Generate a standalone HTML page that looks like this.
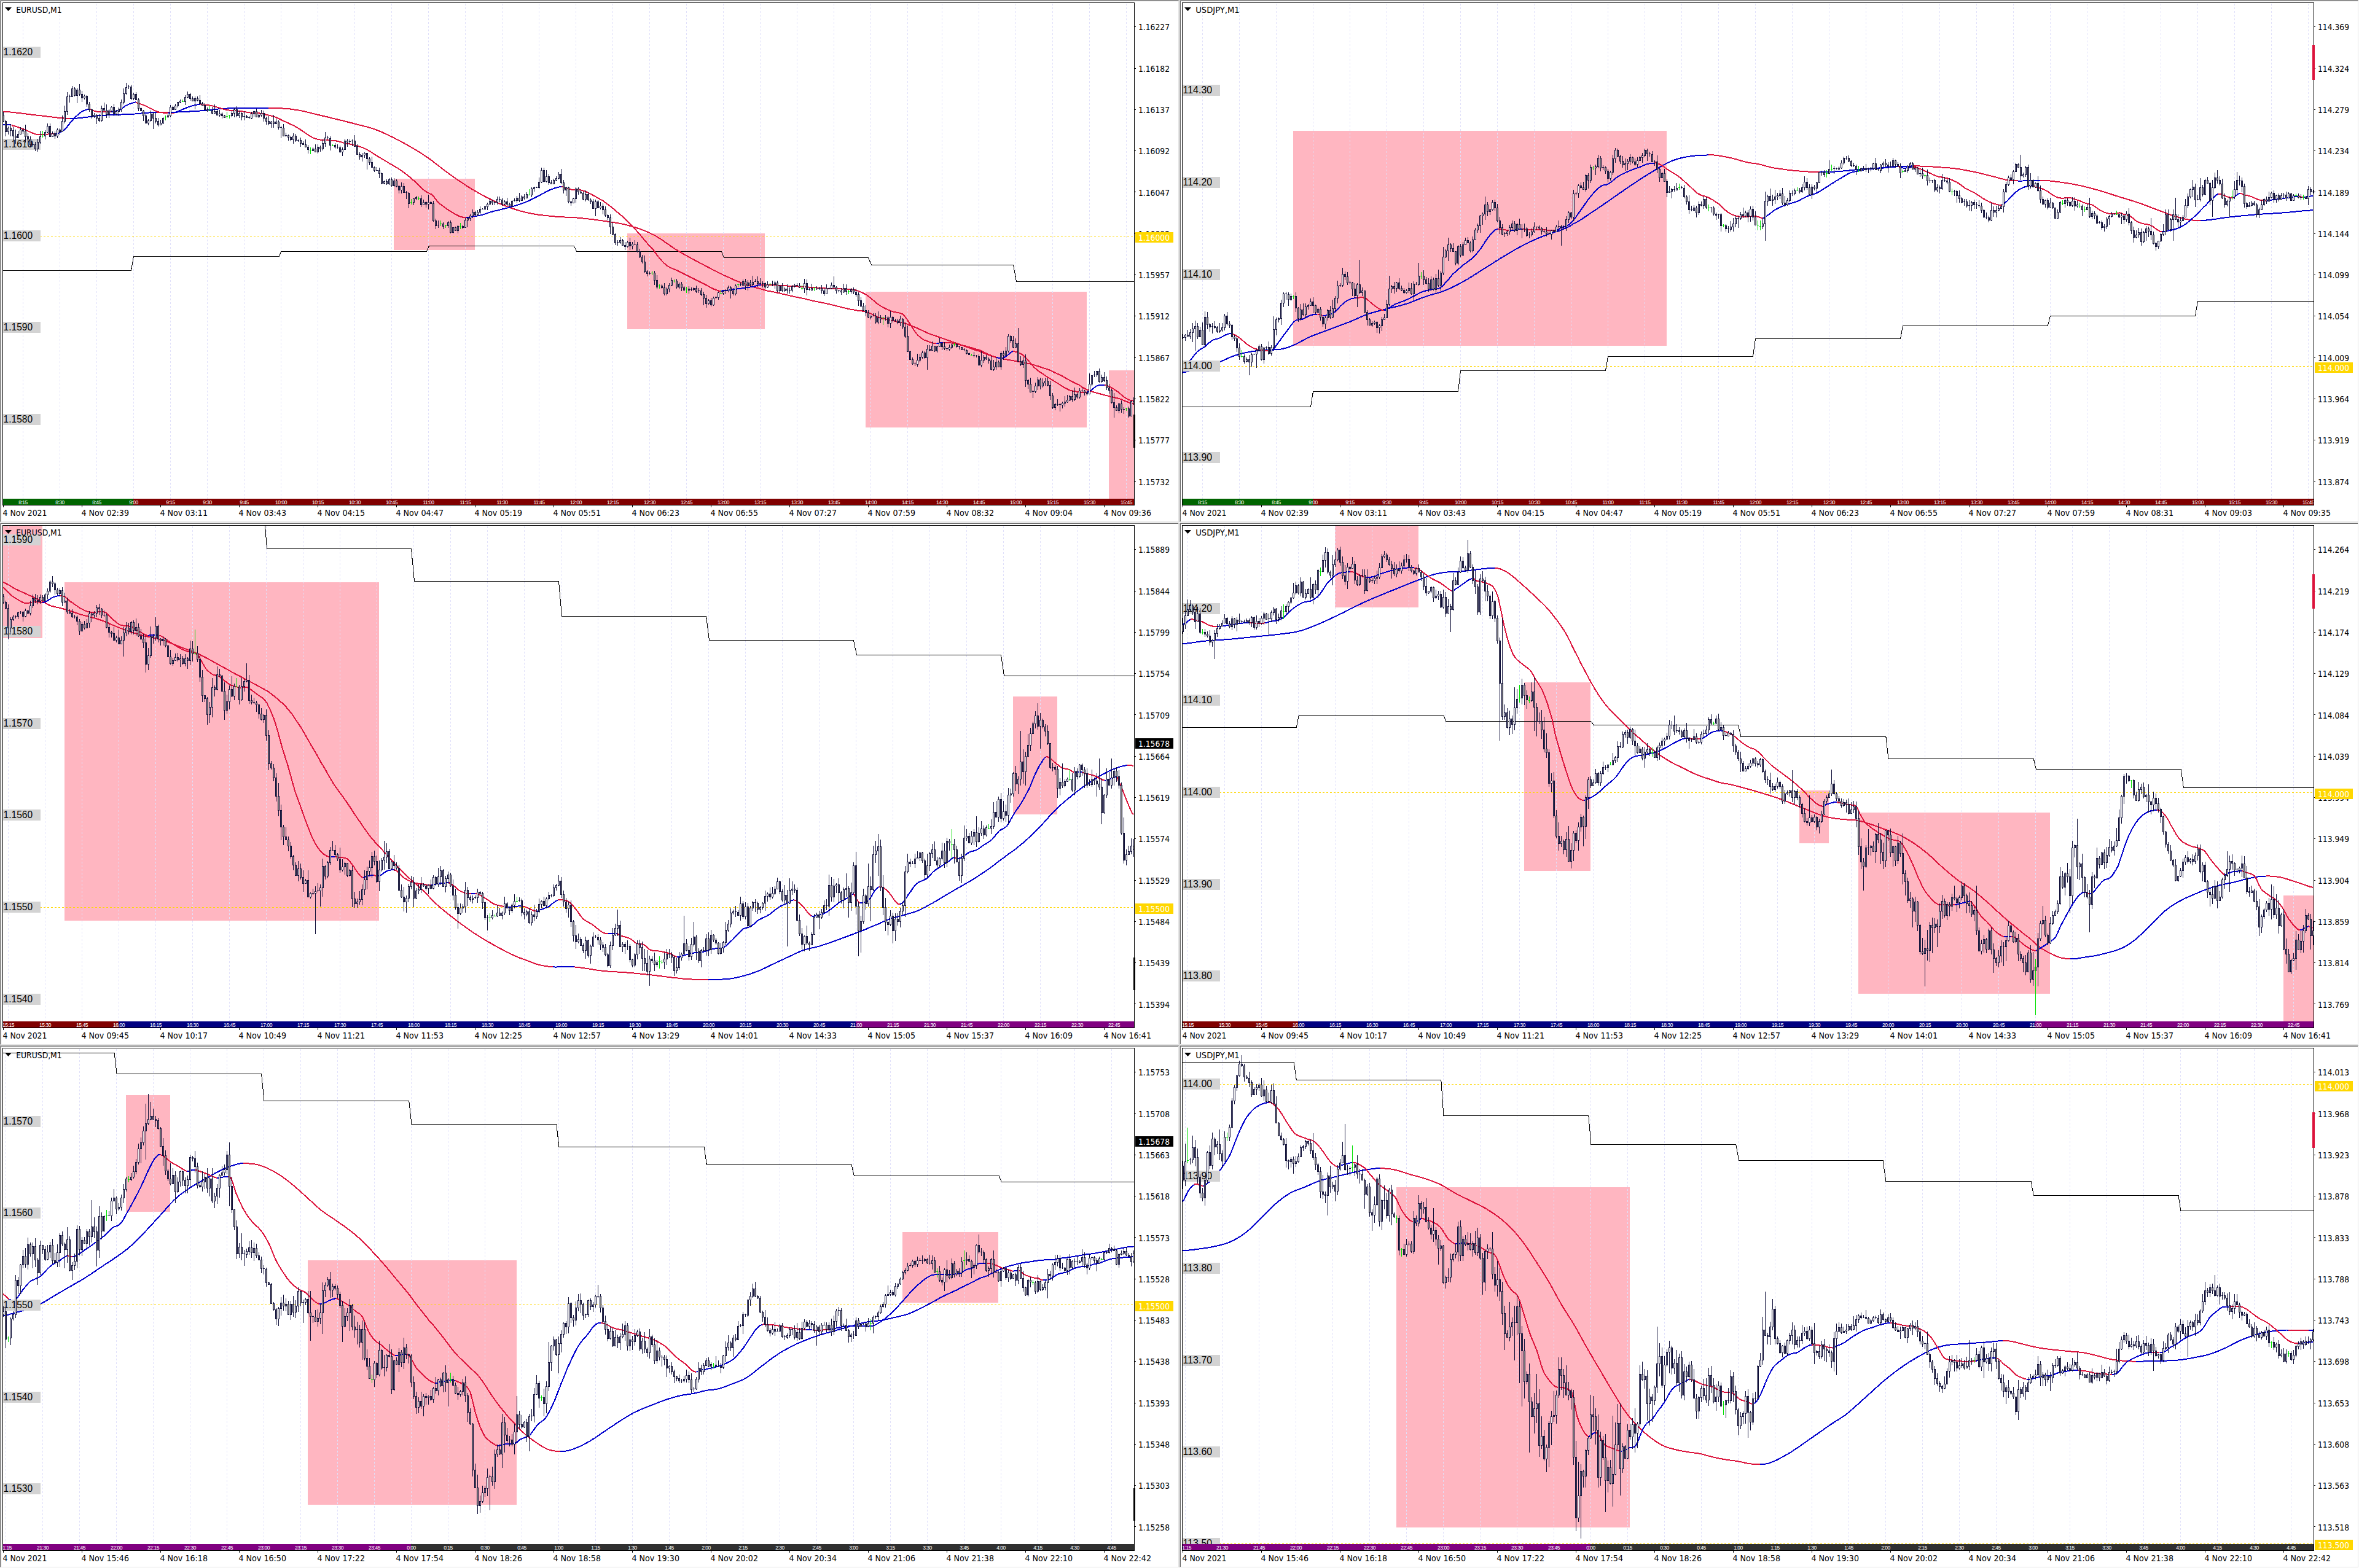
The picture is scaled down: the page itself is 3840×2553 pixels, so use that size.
<!DOCTYPE html><html><head><meta charset="utf-8"><title>Charts</title><style>html,body{margin:0;padding:0;background:#fff;overflow:hidden}svg{display:block}text{white-space:pre}</style></head><body><svg width="3840" height="2553" viewBox="0 0 3840 2553"><rect width="3840" height="2553" fill="#fff"/><svg x="0" y="0" width="1920" height="851" viewBox="0 0 1920 851" overflow="hidden"><g shape-rendering="crispEdges"><rect x="0" y="0" width="1920" height="851" fill="#fff"/><rect x="0" y="0" width="1919" height="1" fill="#a0a0a0"/><rect x="0" y="0" width="1" height="850" fill="#a0a0a0"/><rect x="1" y="1" width="1917" height="1" fill="#696969"/><rect x="1" y="1" width="1" height="848" fill="#696969"/><rect x="1" y="849" width="1918" height="1" fill="#e3e3e3"/><rect x="1918" y="1" width="1" height="849" fill="#e3e3e3"/></g><defs><clipPath id="cp1"><rect x="5" y="5" width="1841" height="817"/></clipPath></defs><g clip-path="url(#cp1)"><g shape-rendering="crispEdges" fill="#ffb6c1"><rect x="641" y="291" width="132" height="116"/><rect x="1021" y="380" width="224" height="156"/><rect x="1409" y="475" width="360" height="221"/><rect x="1805" y="603" width="42" height="209"/></g><path d="M37.5 6V812M97.5 6V812M157.5 6V812M217.5 6V812M277.5 6V812M337.5 6V812M397.5 6V812M457.5 6V812M517.5 6V812M577.5 6V812M637.5 6V812M697.5 6V812M757.5 6V812M817.5 6V812M877.5 6V812M937.5 6V812M997.5 6V812M1057.5 6V812M1117.5 6V812M1177.5 6V812M1237.5 6V812M1297.5 6V812M1357.5 6V812M1417.5 6V812M1477.5 6V812M1533.5 6V812M1593.5 6V812M1653.5 6V812M1713.5 6V812M1773.5 6V812M1833.5 6V812" stroke="#e0e0fa" stroke-width="1" stroke-dasharray="3 3" fill="none" shape-rendering="crispEdges"/><path d="M65 384.5H1846" stroke="#ffd700" stroke-width="1" stroke-dasharray="3 3" fill="none" shape-rendering="crispEdges"/><path d="M4.5 440.5 L213.5 440.5 L217.5 417.5 L454.5 417.5 L457.5 409.5 L694.5 409.5 L698.5 400.5 L934.5 400.5 L938.5 409.5 L1174.5 409.5 L1178.5 419.5 L1413.5 419.5 L1418.5 431.5 L1649.5 431.5 L1654.5 458.5 L1846.5 458.5" stroke="#000" stroke-width="1" fill="none" shape-rendering="crispEdges"/><g fill="none" stroke-width="2" stroke-linejoin="round" stroke-linecap="butt" shape-rendering="crispEdges"><path d="M5.1 181.6 L8.2 181.8 L11.3 182 L14.5 182.3 L17.6 182.6 L20.7 182.9 L23.8 183.2 L26.9 183.6 L30 184 L33.2 184.3 L36.3 184.7 L39.4 185.1 L42.5 185.5 L45.6 185.9 L48.8 186.3 L51.9 186.7 L55 187.1 L58.1 187.4 L61.2 187.8 L64.3 188.1 L67.5 188.5 L70.6 188.8 L73.7 189.2 L76.8 189.6 L80 190 L83.1 190.3 L86.2 190.7 L89.3 191.1 L92.4 191.4 L95.6 191.8 L98.7 192.1 L101.8 192.4 L104.9 192.6 L108 192.9 L111.2 193.1 L114.3 193.3" stroke="#dc143c"/><path d="M114.3 193.3 L116.3 193.3 L119.5 193.1 L122.6 192.8 L125.7 192.5 L128.8 192.2 L132 191.8 L135.1 191.5 L138.2 191.1 L141.4 190.7 L144.5 190.3 L147.6 189.9 L150.7 189.5 L153.9 189.1 L157 188.7 L160.1 188.4 L163.3 188.2 L166.4 188 L169.5 187.8 L172.6 187.6 L175.8 187.4 L178.9 187.3 L182 187.1 L185.1 187 L188.2 186.9 L191.4 186.8 L194.5 186.6 L197.6 186.5 L200.7 186.4 L203.8 186.3 L207 186.1 L210.1 186 L213.2 185.9 L216.3 185.7 L219.6 185.5 L222.8 185.2 L226 184.9 L229.3 184.6 L232.5 184.3 L235.7 184 L238.9 183.7 L242.2 183.5 L245.4 183.2 L248.6 183 L251.9 182.8 L255.1 182.7" stroke="#0000cd"/><path d="M255.1 182.7 L257.1 182.7 L260.5 182.7 L263.8 182.9 L267.1 183.1 L270.4 183.2 L273.7 183.4 L277 183.5 L280.4 183.6 L283.7 183.7" stroke="#dc143c"/><path d="M283.7 183.7 L285.7 182.7 L288.8 182.5 L291.8 182.4 L294.9 182.3 L298 182.1 L301 182 L304.1 181.8 L307.1 181.6 L310.2 181.4 L313.3 181.3 L316.3 181.1 L319.4 180.9 L322.4 180.7 L325.5 180.5 L328.6 180.4 L331.6 180.2 L334.7 180 L337.8 179.6 L340.8 179.3 L343.9 178.9 L346.9 178.5 L350 178.1 L353.1 177.7 L356.1 177.4 L359.2 177.1 L362.4 176.9 L365.5 176.7 L368.7 176.6 L371.9 176.4 L375.1 176.3 L378.2 176.2 L381.4 176.1 L384.6 176 L387.8 175.9 L390.8 175.9 L393.9 175.9 L396.9 175.8 L400 175.8 L403.1 175.8 L406.1 175.8 L409.2 175.8 L412.2 175.8 L415.3 175.9 L418.4 175.9 L421.4 175.9 L424.5 175.9 L427.6 175.9 L430.6 175.9 L433.7 175.9 L436.7 175.9" stroke="#0000cd"/><path d="M436.7 175.9 L438.8 175.9 L441.8 176 L444.9 176.1 L448 176.1 L451 176.2 L454.1 176.3 L457.1 176.4 L460.2 176.5 L463.3 176.7 L466.3 176.9 L469.4 177.1 L472.4 177.5 L475.5 177.9 L478.6 178.4 L481.6 178.8 L484.7 179.3 L487.8 179.9 L490.8 180.5 L493.9 181.1 L496.9 181.8 L500 182.5 L503.1 183.2 L506.1 184 L509.2 184.7 L512.2 185.5 L515.3 186.3 L518.4 187 L521.4 187.7 L524.5 188.5 L527.6 189.1 L530.6 189.8 L533.8 190.6 L536.9 191.4 L540 192.2 L543.2 193 L546.3 193.8 L549.5 194.5 L552.6 195.3 L555.7 196 L558.9 196.8 L562 197.6 L565.1 198.4 L568.3 199.2 L571.4 200 L574.6 200.8 L577.7 201.6 L580.8 202.4 L584 203.2 L587.1 204 L590.3 204.7 L593.4 205.6 L596.5 206.4 L599.7 207.3 L602.8 208.2 L606 209.2 L609.1 210.3 L612.2 211.4 L615.4 212.6 L618.5 213.9 L621.7 215.2 L624.8 216.6 L627.9 218 L631.1 219.5 L634.2 221 L637.4 222.5 L640.5 224.1 L643.6 225.7 L646.8 227.3 L649.9 228.9 L653.1 230.6 L656.2 232.3 L659.3 234 L662.5 235.8 L665.6 237.6 L668.8 239.4 L671.9 241.2 L675 243.1 L678.2 245 L681.3 246.9 L684.5 248.9 L687.6 250.9 L690.7 253 L693.9 255.1 L697 257.3 L700.2 259.5 L703.3 261.8 L706.4 264.2 L709.6 266.6 L712.7 269.1 L715.9 271.5 L719 274 L722.1 276.4 L725.3 278.8 L728.4 281.2 L731.6 283.5 L734.7 285.7 L737.8 287.9 L741 290.1 L744.1 292.2 L747.3 294.4 L750.4 296.5 L753.5 298.6 L756.7 300.6 L759.8 302.7 L763 304.7 L766.1 306.6 L769.2 308.5 L772.4 310.4 L775.5 312.2 L778.6 314 L781.8 315.8 L784.9 317.5 L788.1 319.2 L791.2 320.9 L794.3 322.5 L797.5 324 L800.6 325.6 L803.8 327.1 L806.9 328.5 L810 330 L813.2 331.3 L816.3 332.7 L819.5 333.9 L822.6 335.2 L825.7 336.4 L828.9 337.5 L832 338.7 L835.2 339.8 L838.3 340.8 L841.4 341.8 L844.6 342.7 L847.7 343.7 L850.9 344.5 L854 345.3 L857.1 346.1 L860.2 346.8 L863.3 347.4 L866.3 348 L869.4 348.5 L872.4 349 L875.5 349.5 L878.6 349.9 L881.6 350.3 L884.7 350.6 L887.8 351 L890.8 351.3 L893.9 351.6 L896.9 351.9 L900 352.2 L903.1 352.5 L906.3 352.8 L909.4 353 L912.6 353.2 L915.7 353.3 L918.8 353.5 L922 353.6 L925.1 353.7 L928.3 353.9 L931.4 354 L934.5 354.2 L937.7 354.4 L940.8 354.7 L944 355 L947.1 355.3 L950.2 355.6 L953.4 355.9 L956.5 356.3 L959.7 356.7 L962.8 357 L965.9 357.4 L969.1 357.8 L972.2 358.2 L975.4 358.7 L978.5 359.1 L981.6 359.6 L984.8 360.1 L987.9 360.5 L991.1 361 L994.2 361.4 L997.3 361.9 L1000.5 362.4 L1003.6 362.9 L1006.8 363.4 L1009.9 364 L1013 364.7 L1016.2 365.4 L1019.3 366.1 L1022.4 366.9 L1025.6 367.8 L1028.7 368.7 L1031.9 369.7 L1035 370.6 L1038.1 371.7 L1041.3 372.7 L1044.4 373.9 L1047.6 375 L1050.7 376.3 L1053.8 377.6 L1057 379 L1060.1 380.5 L1063.3 382 L1066.4 383.7 L1069.5 385.5 L1072.7 387.5 L1075.8 389.5 L1079 391.6 L1082.1 393.8 L1085.2 395.9 L1088.4 398.1 L1091.5 400.3 L1094.7 402.5 L1097.8 404.6 L1100.9 406.6 L1104.1 408.6 L1107.2 410.4 L1110.4 412.3 L1113.5 414.1 L1116.6 415.8 L1119.8 417.6 L1122.9 419.3 L1126.1 421 L1129.2 422.7 L1132.3 424.4 L1135.5 426.1 L1138.6 427.7 L1141.8 429.4 L1144.9 431 L1148 432.7 L1151.2 434.3 L1154.3 436 L1157.5 437.7 L1160.6 439.3 L1163.7 440.9 L1166.9 442.5 L1170 444.1 L1173.2 445.7 L1176.3 447.2 L1179.4 448.6 L1182.6 450.1 L1185.7 451.4 L1188.8 452.9 L1191.8 454.2 L1194.9 455.6 L1198 456.9 L1201 458.2 L1204.1 459.4 L1207.1 460.6 L1210.2 461.7 L1213.3 462.8 L1216.3 463.8 L1219.4 464.8 L1222.4 465.7 L1225.5 466.9 L1228.6 467.9 L1231.6 468.7 L1234.7 469.5 L1237.8 470.2 L1240.8 471 L1243.9 471.9 L1246.9 473.1 L1250 473.6 L1253.1 474.2 L1256.1 474.7 L1259.2 475.4 L1262.2 476 L1265.3 476.7 L1268.4 477.4 L1271.4 478.1 L1274.5 478.8 L1277.6 479.5 L1280.6 480.2 L1283.7 480.9 L1286.7 481.6 L1289.8 482.3 L1292.9 483 L1295.9 483.7 L1299 484.3 L1302 485 L1305.1 485.6 L1308.2 486.1 L1311.3 486.9 L1314.4 487.7 L1317.6 488.5 L1320.7 489.2 L1323.9 489.9 L1327 490.5 L1330.1 491.2 L1333.3 491.8 L1336.4 492.4 L1339.6 493.1 L1342.7 493.7 L1345.8 494.4 L1349 495.1 L1352.1 495.8 L1355.3 496.6 L1358.4 497.4 L1361.5 498.2 L1364.7 499 L1367.8 499.8 L1371 500.5 L1374.1 501.3 L1377.2 502 L1380.4 502.7 L1383.5 503.4 L1386.7 504 L1389.8 504.5 L1393.2 505.3 L1396.6 505.8 L1400 506.1 L1403.4 506.5 L1406.8 507 L1410.2 507.8 L1413.6 509 L1417 510.5 L1420.4 512.2 L1423.8 513.9 L1427.2 515.5 L1430.6 516.7 L1433.9 517.8 L1437.1 518.7 L1440.4 519.3 L1443.7 520 L1446.9 520.8 L1450 521.4 L1453.1 522.1 L1456.1 522.8 L1459.2 523.5 L1462.2 524.2 L1465.3 524.9 L1468.4 525.5 L1471.4 526.1 L1474.8 527.2 L1478.2 528.2 L1481.6 530.2 L1484.7 531.1 L1487.8 532.2 L1490.8 533.4 L1493.9 534.7 L1496.9 536.1 L1500 537.5 L1503.1 539 L1506.1 540.4 L1509.2 541.9 L1512.2 543.3 L1515.4 544.3 L1518.5 545.4 L1521.7 546.5 L1524.8 547.6 L1527.9 548.7 L1531.1 549.8 L1534.2 550.9 L1537.4 552 L1540.5 553.1 L1543.6 554.2 L1546.8 555.3 L1549.9 556.4 L1553.1 557.6 L1556.2 558.7 L1559.3 559.8 L1562.5 560.9 L1565.6 562.1 L1568.8 563.2 L1571.9 564.4 L1575 565.5 L1578.2 566.6 L1581.3 567.7 L1584.5 568.8 L1587.6 569.9 L1590.7 570.9 L1593.9 571.8 L1597.1 573.2 L1600.2 574.5 L1603.4 575.7 L1606.6 576.9 L1609.8 578 L1612.9 579.1 L1616.1 580.1 L1619.3 581.1 L1622.4 582 L1625.7 582.8 L1629 583.6 L1632.2 584.2 L1635.5 584.9 L1638.8 585.5 L1642 586.1 L1645.3 586.6 L1648.6 587.1 L1651.8 587.7 L1655.1 588.2 L1658.5 588.9 L1661.9 589.6 L1665.3 590.2 L1668.7 590.8 L1672.1 591.5 L1675.5 592.2 L1678.9 593.1 L1682.3 594.1 L1685.7 595.1 L1689.1 596.1 L1692.5 597.2 L1695.9 598.4 L1699.3 599.5 L1702.7 600.5 L1706.1 601.6 L1709.5 602.8 L1712.9 604.4 L1716.3 606.5 L1719.5 607.7 L1722.6 609.1 L1725.7 610.6 L1728.9 612.3 L1732 614 L1735.2 615.8 L1738.3 617.6 L1741.4 619.3 L1744.6 621.1 L1747.7 622.7 L1750.9 624.3 L1754 625.7 L1757.1 626.9 L1760.4 629.6 L1763.7 631.6 L1766.9 633.3 L1770.2 634.8 L1773.5 636.3 L1776.5 637.3 L1779.6 638.3 L1782.7 639.1 L1785.7 640 L1788.8 640.8 L1791.8 641.6 L1794.9 642.5 L1798 643.3 L1801 644.1 L1804.1 644.8 L1807.1 645.5 L1810.2 646.2 L1813.3 647 L1816.3 647.7 L1819.4 648.5 L1822.4 649.4 L1825.7 650.5 L1828.9 651.8 L1832.1 653.2 L1835.3 654.5 L1838.5 655.8 L1841.7 656.8 L1844.9 657.6" stroke="#dc143c"/></g><g fill="none" stroke-width="2" stroke-linejoin="round" stroke-linecap="butt" shape-rendering="crispEdges"><path d="M5.1 203.5 L8.4 203.4 L11.7 203.2 L15.1 203 L18.4 203.1" stroke="#0000cd"/><path d="M18.4 203.1 L20.4 204.5 L23.8 205.3 L27.2 206.3 L30.6 207.5 L34 208.7 L37.4 210 L40.8 211.2 L43.9 212.5 L46.9 214 L50 215.4 L53.1 216.8 L56.1 218 L59.2 218.8 L62.4 219.1 L65.6 219.2 L68.8 219.2 L72 219 L75.2 218.7 L78.4 218.5 L81.6 218.4 L85.7 218.2 L89.8 218" stroke="#dc143c"/><path d="M89.8 218 L93.9 217.3 L96.9 216.1 L100 214.4 L103.1 212.4 L106.1 210.2 L110.2 205.2 L114.3 200 L118.4 195.3 L122.4 190.8 L125.9 187.7 L129.3 184.6 L132.7 182 L135.7 180.5 L138.8 179.2 L141.8 178.2 L144.9 177.6" stroke="#0000cd"/><path d="M144.9 177.6 L148 178.6 L151.5 179.9 L155.1 181.2 L159.2 181.8 L163.3 182 L166.5 182.1 L169.8 182.1 L173.1 182.1 L176.3 182.1 L179.6 182" stroke="#dc143c"/><path d="M179.6 182 L183.7 181.6 L187.1 181.3 L190.5 180.7 L193.9 179.6 L197.3 177.5 L200.7 174.9 L204.1 172.4 L207.1 170.9 L210.2 169.5 L213.3 168.3 L216.3 167.3 L221.4 166.3" stroke="#0000cd"/><path d="M221.4 166.3 L224.5 168.4 L227.9 169.2 L231.3 170.2 L234.7 171.4 L238.1 173 L241.5 174.8 L244.9 176.5 L248.3 178.2 L251.7 179.9 L255.1 181.2 L259.2 182.5 L263.3 183.3 L266.7 183.7 L270.1 184 L273.5 184.1" stroke="#dc143c"/><path d="M273.5 184.1 L277.6 183.3 L281.6 183.2 L285.7 182.7 L289.1 181.5 L292.5 180.1 L295.9 178.6 L299.3 177.2 L302.7 175.8 L306.1 174.5 L309.5 173.3 L312.9 172.3 L316.3 171.4 L319.7 170.7 L323.1 170.1 L326.5 169.8" stroke="#0000cd"/><path d="M326.5 169.8 L329.6 170.4 L332.9 170.7 L336.2 170.9 L339.5 171.3 L342.9 171.8 L346.4 172.6 L350 173.6 L353.6 174.6 L357.1 175.5 L360.5 176.6 L363.9 177.7 L367.3 178.6 L370.7 179.2 L374.1 179.6 L377.6 180 L381 180.2 L384.4 180.4 L387.8 180.6 L391.2 181 L394.6 181.5 L398 182 L401.4 182.6 L404.8 183.2 L408.2 183.7 L411.6 183.9 L415 183.9 L418.4 184.1 L421.8 184.4 L425.2 184.9 L428.6 185.7 L432 186.4 L435.4 187.1 L438.8 188 L442.2 188.9 L445.6 189.9 L449 190.8 L452 192.2 L455.1 193.7 L458.2 195.3 L461.2 196.9 L464.7 198.4 L468.2 200 L471.6 201.6 L475.1 203.2 L478.6 204.5 L482.1 206.7 L485.7 209 L488.8 210.8 L491.8 212.9 L494.9 215.1 L498 217.1 L501 219.1 L504.1 221.1 L507.1 223 L510.2 224.5 L513.3 225.6 L516.3 226.5 L519.4 227.1 L522.4 227.8 L525.5 228 L528.6 228.2 L531.6 228.4 L534.7 228.5 L537.8 228.7 L540.8 228.8 L543.9 229.1 L546.9 229.4 L550.2 230.1 L553.5 230.9 L556.7 231.8 L560 232.7 L563.3 233.5 L566.5 234.1 L569.8 234.7 L573.1 235.3 L576.3 235.9 L579.6 236.7 L582.9 237.7 L586.1 238.8 L589.4 240 L592.7 241.3 L595.9 242.9 L599.2 244.6 L602.4 246.5 L605.7 248.6 L609 250.8 L612.2 253.1 L615.6 255 L619 257 L622.4 259.1 L625.9 261.1 L629.3 263.2 L632.7 265.3 L636.1 267.3 L639.5 269.2 L642.9 271.2 L646.3 273.2 L649.7 275.3 L653.1 277.6 L656.5 280 L659.9 282.6 L663.3 285.3 L666.7 288.1 L670.1 291 L673.5 293.9 L676.9 297 L680.3 300.4 L683.7 303.8 L687.1 307.1 L690.5 310 L693.9 312.2 L698 314.5 L702 316.3 L705.1 319.2 L708.2 322.8 L711.2 326.8 L714.3 330.6 L717.7 333.1 L721.1 335.6 L724.5 338.1 L727.9 340.6 L731.3 342.9 L734.7 344.9 L738 347 L741.2 348.9 L744.5 350.6 L747.8 352 L751 353.1 L755.1 354.3 L759.2 354.3" stroke="#dc143c"/><path d="M759.2 354.3 L762.2 353.9 L765.3 353.1 L768.4 352.7 L771.4 352.3 L774.5 351.9 L777.6 351.4 L780.6 350.8 L783.7 350.2 L786.9 349.3 L790.2 348.2 L793.5 347 L796.7 345.9 L800 344.9 L803.3 344 L806.5 343.2 L809.8 342.5 L813.1 341.7 L816.3 340.8 L819.7 340 L823.1 339.2 L826.5 338.3 L829.9 337.4 L833.3 336.5 L836.7 335.5 L840.1 334.5 L843.5 333.4 L846.9 332.3 L850.3 331.2 L853.7 329.9 L857.1 328.6 L860.5 327.1 L863.9 325.4 L867.3 323.7 L870.7 321.9 L874.1 320.1 L877.6 318.4 L881 316.6 L884.4 314.7 L887.8 312.9 L891.2 311.1 L894.6 309.5 L898 308.2 L901.2 306.9 L904.5 305.8 L907.8 305 L911 304.4 L914.3 304.1" stroke="#0000cd"/><path d="M914.3 304.1 L917.3 304.6 L920.4 306.1 L924 306.9 L927.6 307.8 L931.1 308.7 L934.7 309.4 L938.3 309.5 L941.8 309.2 L945.4 309.3 L949 310.6 L952.2 311.6 L955.5 312.9 L958.8 314.4 L962 316.1 L965.3 317.8 L968.6 319.7 L971.8 321.6 L975.1 323.4 L978.4 325.2 L981.6 326.9 L985 329.5 L988.4 332 L991.8 334.5 L995.2 337.1 L998.6 340 L1002 343.3 L1005.2 345.7 L1008.4 348.3 L1011.6 351 L1014.7 353.8 L1017.9 356.7 L1021.1 359.8 L1024.3 363 L1027.4 366.3 L1030.6 369.8 L1033.9 373.1 L1037.1 376.7 L1040.4 380.5 L1043.7 384.3 L1046.9 388.3 L1050.2 392.2 L1053.5 396.1 L1056.7 399.8 L1060 403.3 L1063.3 406.5 L1066.7 411.5 L1070.1 416.1 L1073.5 420.4 L1076.9 424.4 L1080.3 427.9 L1083.7 431 L1087.1 433.5 L1090.5 435.5 L1093.9 437 L1097.3 438.4 L1100.7 439.7 L1104.1 441.2 L1107.5 442.9 L1110.9 444.6 L1114.3 446.3 L1117.7 448 L1121.1 449.7 L1124.5 451.4 L1127.9 453.1 L1131.3 454.8 L1134.7 456.5 L1138.1 458.2 L1141.5 459.9 L1144.9 461.6 L1148.3 463.4 L1151.7 465.3 L1155.1 467.2 L1158.5 469 L1161.9 470.6 L1165.3 471.8 L1169.4 473.5 L1173.5 473.9" stroke="#dc143c"/><path d="M1173.5 473.9 L1177.6 473.1 L1180.6 472.8 L1183.7 472.5 L1186.7 472.2 L1189.8 471.8 L1192.9 471.4 L1195.9 471 L1199 470.6 L1202 470.2 L1205.1 469.7 L1208.2 469.3 L1211.2 468.8 L1214.3 468.4 L1217.3 468 L1220.4 467.6 L1223.5 467.3 L1226.5 466.9 L1229.6 465.8 L1232.7 464.9 L1235.7 464.2 L1238.8 463.7" stroke="#0000cd"/><path d="M1238.8 463.7 L1242.9 463.7 L1246 463.8 L1249.1 463.9 L1252.2 464 L1255.3 464.1 L1258.4 464.2 L1261.5 464.4 L1264.6 464.5 L1267.7 464.7 L1270.8 464.9 L1274 465 L1277.1 465.2 L1280.2 465.4 L1283.3 465.6 L1286.4 465.8 L1289.5 465.9 L1292.6 466.1 L1295.7 466.3 L1298.8 466.5 L1301.9 466.6 L1305.1 466.8 L1308.2 466.9 L1311.3 467.2 L1314.4 467.4 L1317.6 467.6 L1320.7 467.9 L1323.9 468.1 L1327 468.3 L1330.1 468.6 L1333.3 468.8 L1336.4 469 L1339.6 469.2 L1342.7 469.4 L1345.8 469.6 L1349 469.8 L1352.1 470 L1355.3 470.1 L1358.4 470.2 L1361.5 470.3 L1364.7 470.4 L1367.8 470.4 L1371 470.5 L1374.1 470.6 L1377.2 470.8 L1380.4 471 L1383.5 471.2 L1386.7 471.5 L1389.8 471.8 L1393.2 472.7 L1396.6 473.8 L1400 475 L1403.4 476.4 L1406.8 478.1 L1410.2 480 L1413.6 482.3 L1417 485.1 L1420.4 488 L1423.8 491 L1427.2 493.9 L1430.6 496.3 L1434 498.4 L1437.4 500.4 L1440.8 502.1 L1444.2 503.7 L1447.6 505.2 L1451 506.5 L1454.1 507.6 L1457.1 508.2 L1460.2 508.8 L1463.3 509.4 L1466.3 510.2 L1469.4 511.4 L1472.8 515.1 L1476.2 519.7 L1479.6 524.9 L1482.7 529.3 L1485.7 534.3 L1488.8 539.1 L1491.8 543.3 L1494.9 546.5 L1498 549.1 L1501 551.4 L1504.1 553.5 L1507.5 554.8 L1510.9 556.1 L1514.3 557.2 L1517.7 558.2 L1521.1 559 L1524.5 559.6" stroke="#dc143c"/><path d="M1524.5 559.6 L1528.6 558.8 L1531.6 558.1 L1534.7 557.6" stroke="#0000cd"/><path d="M1534.7 557.6 L1536.7 557.6 L1540 557.7 L1543.3 557.8 L1546.5 558.1 L1549.8 558.6 L1553.1 559.6 L1556.2 560.1 L1559.3 560.7 L1562.5 561.3 L1565.6 562.1 L1568.8 562.8 L1571.9 563.6 L1575 564.5 L1578.2 565.4 L1581.3 566.2 L1584.5 567.1 L1587.6 568 L1590.7 568.9 L1593.9 569.8 L1597.1 571.1 L1600.2 572.6 L1603.4 574.2 L1606.6 575.8 L1609.8 577.3 L1612.9 578.8 L1616.1 580.1 L1619.3 581.2 L1622.4 582" stroke="#dc143c"/><path d="M1622.4 582 L1625.5 583.1 L1628.6 583.4 L1631.6 583 L1634.7 582 L1638.3 579.9 L1641.8 576.9 L1645.4 573.9 L1649 571.8" stroke="#0000cd"/><path d="M1649 571.8 L1653.1 572.7 L1656.6 573.8 L1660.2 575.2 L1663.8 577.2 L1667.3 580 L1670.6 583.1 L1673.9 586.8 L1677.1 590.9 L1680.4 594.9 L1683.7 598.4 L1686.9 601.2 L1690.2 603.8 L1693.5 606.2 L1696.7 608.4 L1700 610.6 L1703.3 612.8 L1706.5 614.7 L1709.8 616.7 L1713.1 618.7 L1716.3 620.8 L1719.7 622.8 L1723.1 625 L1726.5 627.3 L1729.9 629.5 L1733.3 631.5 L1736.7 633.1 L1739.8 634.7 L1742.9 635.7 L1745.9 636.5 L1749 637.1 L1752.4 637.6 L1755.8 638.1 L1759.2 638.5 L1762.6 638.9 L1766 639.1 L1769.4 639.2" stroke="#dc143c"/><path d="M1769.4 639.2 L1773.5 637.1 L1776.5 635.2 L1779.6 632.6 L1782.7 630 L1785.7 628.2 L1788.8 627.3 L1791.8 626.9 L1794.9 626.9 L1798 626.9" stroke="#0000cd"/><path d="M1798 626.9 L1802 627.8 L1805.3 629 L1808.6 630.8 L1811.8 632.8 L1815.1 634.9 L1818.4 637.1 L1821.6 639.6 L1824.9 642.3 L1828.2 645 L1831.4 647.5 L1834.7 649.4 L1838.1 651.3 L1841.5 652.1 L1844.9 652.7" stroke="#dc143c"/></g><rect x="5" y="76" width="61" height="18" fill="#d3d3d3" shape-rendering="crispEdges"/><text x="5.6" y="89.8" font-size="16.5" fill="#000" font-family="'Liberation Sans',sans-serif" textLength="47.5" lengthAdjust="spacingAndGlyphs">1.1620</text><rect x="5" y="226" width="61" height="18" fill="#d3d3d3" shape-rendering="crispEdges"/><text x="5.6" y="239.8" font-size="16.5" fill="#000" font-family="'Liberation Sans',sans-serif" textLength="47.5" lengthAdjust="spacingAndGlyphs">1.1610</text><rect x="5" y="375" width="61" height="18" fill="#d3d3d3" shape-rendering="crispEdges"/><text x="5.6" y="388.8" font-size="16.5" fill="#000" font-family="'Liberation Sans',sans-serif" textLength="47.5" lengthAdjust="spacingAndGlyphs">1.1600</text><rect x="5" y="524" width="61" height="18" fill="#d3d3d3" shape-rendering="crispEdges"/><text x="5.6" y="537.8" font-size="16.5" fill="#000" font-family="'Liberation Sans',sans-serif" textLength="47.5" lengthAdjust="spacingAndGlyphs">1.1590</text><rect x="5" y="674" width="61" height="18" fill="#d3d3d3" shape-rendering="crispEdges"/><text x="5.6" y="687.8" font-size="16.5" fill="#000" font-family="'Liberation Sans',sans-serif" textLength="47.5" lengthAdjust="spacingAndGlyphs">1.1580</text><g shape-rendering="crispEdges"><path d="M5 182h1v17h-1zM9 195h1v27h-1zM13 206h1v13h-1zM17 202h1v20h-1zM21 207h1v21h-1zM25 211h1v23h-1zM29 213h1v12h-1zM33 207h1v11h-1zM37 208h1v10h-1zM41 203h1v29h-1zM45 217h1v15h-1zM49 222h1v17h-1zM53 229h1v10h-1zM57 231h1v15h-1zM61 226h1v21h-1zM65 213h1v21h-1zM73 212h1v15h-1zM77 201h1v16h-1zM81 201h1v22h-1zM85 214h1v8h-1zM89 214h1v12h-1zM93 209h1v16h-1zM97 209h1v11h-1zM101 188h1v26h-1zM105 172h1v29h-1zM109 150h1v37h-1zM113 154h1v13h-1zM117 140h1v17h-1zM121 142h1v15h-1zM125 143h1v25h-1zM129 137h1v19h-1zM133 148h1v18h-1zM137 154h1v8h-1zM141 155h1v19h-1zM145 166h1v16h-1zM149 177h1v16h-1zM153 184h1v8h-1zM157 186h1v16h-1zM161 186h1v13h-1zM165 172h1v26h-1zM169 167h1v13h-1zM173 170h1v22h-1zM177 178h1v14h-1zM181 173h1v10h-1zM185 169h1v20h-1zM189 179h1v9h-1zM193 175h1v14h-1zM197 162h1v20h-1zM201 144h1v26h-1zM205 135h1v19h-1zM209 138h1v7h-1zM213 138h1v25h-1zM217 151h1v12h-1zM221 150h1v13h-1zM225 160h1v21h-1zM229 175h1v6h-1zM233 179h1v18h-1zM237 186h1v15h-1zM241 194h1v10h-1zM245 180h1v18h-1zM249 183h1v27h-1zM253 184h1v17h-1zM257 192h1v14h-1zM261 195h1v8h-1zM265 191h1v11h-1zM273 186h1v6h-1zM277 171h1v20h-1zM281 172h1v6h-1zM285 169h1v10h-1zM289 166h1v9h-1zM293 162h1v6h-1zM301 155h1v16h-1zM305 149h1v11h-1zM309 151h1v13h-1zM313 157h1v8h-1zM317 157h1v21h-1zM321 157h1v8h-1zM325 155h1v14h-1zM329 166h1v6h-1zM333 168h1v12h-1zM337 175h1v7h-1zM345 174h1v12h-1zM349 170h1v15h-1zM353 178h1v10h-1zM357 179h1v11h-1zM361 183h1v10h-1zM365 187h1v5h-1zM377 181h1v10h-1zM381 176h1v15h-1zM385 173h1v18h-1zM389 180h1v12h-1zM393 183h1v13h-1zM397 181h1v15h-1zM401 187h1v5h-1zM405 189h1v5h-1zM409 182h1v12h-1zM413 180h1v10h-1zM417 177h1v14h-1zM421 186h1v6h-1zM425 179h1v11h-1zM429 180h1v18h-1zM433 190h1v13h-1zM437 189h1v15h-1zM441 197h1v11h-1zM445 187h1v21h-1zM449 193h1v9h-1zM453 196h1v15h-1zM457 205h1v20h-1zM461 202h1v20h-1zM465 216h1v7h-1zM469 219h1v10h-1zM473 221h1v9h-1zM477 217h1v17h-1zM481 218h1v13h-1zM485 227h1v4h-1zM489 224h1v15h-1zM493 230h1v6h-1zM497 227h1v13h-1zM501 236h1v14h-1zM509 240h1v5h-1zM513 235h1v13h-1zM517 235h1v15h-1zM521 237h1v10h-1zM525 227h1v18h-1zM529 215h1v24h-1zM533 221h1v6h-1zM537 222h1v23h-1zM545 233h1v9h-1zM549 235h1v7h-1zM553 237h1v12h-1zM557 240h1v14h-1zM561 226h1v17h-1zM565 226h1v13h-1zM569 227h1v8h-1zM573 227h1v11h-1zM577 220h1v18h-1zM581 235h1v17h-1zM585 248h1v12h-1zM589 249h1v14h-1zM593 248h1v9h-1zM597 249h1v27h-1zM601 256h1v13h-1zM605 255h1v18h-1zM609 271h1v9h-1zM613 272h1v5h-1zM617 273h1v17h-1zM621 281h1v19h-1zM625 294h1v6h-1zM629 292h1v9h-1zM633 290h1v11h-1zM637 289h1v15h-1zM641 290h1v14h-1zM645 292h1v13h-1zM649 301h1v14h-1zM653 297h1v18h-1zM657 298h1v16h-1zM661 311h1v13h-1zM665 313h1v26h-1zM673 323h1v11h-1zM677 319h1v7h-1zM685 318h1v19h-1zM689 325h1v9h-1zM693 328h1v10h-1zM697 317h1v24h-1zM701 327h1v5h-1zM705 327h1v34h-1zM709 356h1v17h-1zM713 359h1v12h-1zM721 362h1v11h-1zM729 360h1v11h-1zM733 359h1v21h-1zM737 370h1v10h-1zM741 369h1v7h-1zM745 366h1v14h-1zM753 366h1v7h-1zM757 355h1v16h-1zM761 353h1v17h-1zM765 348h1v12h-1zM769 341h1v14h-1zM773 343h1v9h-1zM777 342h1v10h-1zM781 336h1v12h-1zM785 339h1v2h-1zM789 335h1v7h-1zM793 330h1v12h-1zM797 323h1v10h-1zM801 325h1v9h-1zM805 327h1v7h-1zM809 320h1v13h-1zM813 320h1v9h-1zM817 322h1v13h-1zM821 326h1v8h-1zM825 322h1v13h-1zM829 330h1v6h-1zM833 326h1v11h-1zM837 323h1v5h-1zM841 319h1v11h-1zM845 314h1v15h-1zM849 318h1v8h-1zM853 316h1v9h-1zM857 313h1v10h-1zM865 305h1v16h-1zM869 304h1v8h-1zM873 304h1v2h-1zM877 289h1v18h-1zM881 273h1v25h-1zM885 273h1v24h-1zM889 277h1v20h-1zM893 283h1v18h-1zM897 293h1v7h-1zM901 291h1v9h-1zM905 287h1v8h-1zM909 280h1v12h-1zM913 275h1v25h-1zM917 293h1v22h-1zM921 304h1v15h-1zM925 304h1v27h-1zM929 328h1v7h-1zM933 322h1v9h-1zM937 305h1v25h-1zM941 305h1v12h-1zM945 309h1v6h-1zM949 312h1v14h-1zM953 310h1v18h-1zM957 313h1v14h-1zM961 323h1v9h-1zM965 324h1v16h-1zM969 325h1v27h-1zM973 326h1v13h-1zM977 329h1v12h-1zM981 331h1v18h-1zM985 336h1v17h-1zM989 349h1v10h-1zM993 349h1v32h-1zM997 362h1v21h-1zM1001 380h1v19h-1zM1005 391h1v9h-1zM1009 386h1v11h-1zM1013 389h1v11h-1zM1017 394h1v13h-1zM1021 392h1v11h-1zM1025 387h1v20h-1zM1029 394h1v12h-1zM1033 391h1v8h-1zM1037 394h1v17h-1zM1041 405h1v15h-1zM1045 415h1v14h-1zM1049 416h1v28h-1zM1053 440h1v10h-1zM1057 442h1v5h-1zM1065 441h1v23h-1zM1069 448h1v23h-1zM1077 463h1v7h-1zM1081 461h1v20h-1zM1085 468h1v13h-1zM1089 461h1v15h-1zM1093 452h1v14h-1zM1101 454h1v16h-1zM1105 460h1v11h-1zM1109 459h1v15h-1zM1113 466h1v7h-1zM1121 466h1v12h-1zM1125 468h1v6h-1zM1129 468h1v6h-1zM1133 465h1v12h-1zM1137 469h1v8h-1zM1141 469h1v13h-1zM1145 475h1v22h-1zM1149 480h1v21h-1zM1153 487h1v9h-1zM1157 485h1v14h-1zM1161 483h1v15h-1zM1165 482h1v5h-1zM1169 475h1v13h-1zM1177 473h1v7h-1zM1181 471h1v8h-1zM1185 465h1v11h-1zM1189 466h1v20h-1zM1193 469h1v12h-1zM1197 463h1v18h-1zM1205 460h1v6h-1zM1209 455h1v10h-1zM1213 454h1v18h-1zM1217 456h1v17h-1zM1221 456h1v11h-1zM1225 449h1v17h-1zM1229 454h1v5h-1zM1233 450h1v17h-1zM1237 453h1v10h-1zM1241 458h1v10h-1zM1245 460h1v10h-1zM1249 458h1v11h-1zM1257 457h1v9h-1zM1261 457h1v13h-1zM1265 457h1v19h-1zM1269 464h1v13h-1zM1273 461h1v14h-1zM1277 468h1v7h-1zM1281 463h1v15h-1zM1285 468h1v10h-1zM1289 464h1v12h-1zM1293 462h1v6h-1zM1297 461h1v5h-1zM1301 461h1v8h-1zM1309 454h1v23h-1zM1313 455h1v26h-1zM1317 469h1v4h-1zM1321 462h1v10h-1zM1329 466h1v6h-1zM1333 467h1v5h-1zM1337 464h1v14h-1zM1341 469h1v13h-1zM1345 463h1v16h-1zM1349 468h1v3h-1zM1353 460h1v11h-1zM1357 450h1v21h-1zM1361 466h1v12h-1zM1365 472h1v4h-1zM1369 469h1v11h-1zM1373 462h1v15h-1zM1377 463h1v17h-1zM1385 469h1v9h-1zM1389 468h1v11h-1zM1393 470h1v13h-1zM1397 476h1v22h-1zM1401 484h1v16h-1zM1405 493h1v13h-1zM1409 497h1v18h-1zM1413 505h1v13h-1zM1417 514h1v6h-1zM1421 510h1v5h-1zM1425 510h1v17h-1zM1429 507h1v21h-1zM1433 513h1v13h-1zM1441 513h1v9h-1zM1445 515h1v18h-1zM1449 506h1v28h-1zM1453 515h1v10h-1zM1457 519h1v5h-1zM1461 519h1v9h-1zM1465 514h1v17h-1zM1469 518h1v18h-1zM1473 525h1v25h-1zM1477 530h1v43h-1zM1481 571h1v15h-1zM1485 582h1v12h-1zM1489 590h1v6h-1zM1493 576h1v21h-1zM1497 576h1v14h-1zM1501 571h1v13h-1zM1505 572h1v12h-1zM1509 562h1v40h-1zM1513 562h1v10h-1zM1517 556h1v15h-1zM1521 563h1v10h-1zM1525 563h1v11h-1zM1529 550h1v15h-1zM1533 558h1v12h-1zM1537 557h1v13h-1zM1541 567h1v4h-1zM1545 561h1v10h-1zM1549 559h1v9h-1zM1557 559h1v7h-1zM1561 563h1v6h-1zM1565 565h1v5h-1zM1569 567h1v5h-1zM1573 569h1v8h-1zM1577 574h1v4h-1zM1585 573h1v9h-1zM1589 578h1v4h-1zM1593 577h1v17h-1zM1597 572h1v26h-1zM1601 578h1v13h-1zM1605 578h1v8h-1zM1609 582h1v10h-1zM1613 580h1v23h-1zM1617 586h1v18h-1zM1621 581h1v21h-1zM1625 587h1v11h-1zM1629 572h1v30h-1zM1633 571h1v15h-1zM1637 565h1v14h-1zM1641 544h1v30h-1zM1645 546h1v12h-1zM1649 547h1v20h-1zM1653 551h1v15h-1zM1657 534h1v55h-1zM1661 580h1v16h-1zM1665 581h1v18h-1zM1669 577h1v53h-1zM1673 617h1v16h-1zM1677 615h1v24h-1zM1681 635h1v13h-1zM1685 623h1v17h-1zM1689 614h1v21h-1zM1693 615h1v19h-1zM1697 616h1v15h-1zM1701 615h1v13h-1zM1705 615h1v14h-1zM1709 620h1v31h-1zM1713 640h1v26h-1zM1717 656h1v12h-1zM1721 650h1v11h-1zM1725 656h1v14h-1zM1729 654h1v11h-1zM1733 645h1v17h-1zM1737 643h1v13h-1zM1741 643h1v10h-1zM1745 636h1v18h-1zM1749 631h1v22h-1zM1753 639h1v10h-1zM1757 632h1v17h-1zM1761 631h1v7h-1zM1765 635h1v9h-1zM1769 635h1v9h-1zM1773 608h1v34h-1zM1777 611h1v18h-1zM1781 604h1v10h-1zM1785 604h1v10h-1zM1789 600h1v23h-1zM1793 610h1v13h-1zM1797 606h1v16h-1zM1801 613h1v22h-1zM1805 625h1v16h-1zM1809 633h1v24h-1zM1813 640h1v40h-1zM1817 660h1v9h-1zM1821 656h1v17h-1zM1825 652h1v20h-1zM1829 663h1v11h-1zM1837 662h1v18h-1zM1841 652h1v26h-1zM1845 647h1v12h-1z" fill="#0e0e38"/><path d="M4 187h3v11h-3zM8 197h3v18h-3zM12 208h3v7h-3zM16 208h3v5h-3zM20 212h3v10h-3zM24 221h3v4h-3zM28 218h3v7h-3zM32 211h3v8h-3zM36 211h3v3h-3zM40 213h3v10h-3zM44 222h3v5h-3zM48 226h3v10h-3zM52 235h3v1h-3zM56 235h3v8h-3zM60 231h3v12h-3zM64 222h3v10h-3zM72 215h3v7h-3zM76 205h3v11h-3zM80 205h3v18h-3zM84 217h3v6h-3zM88 217h3v5h-3zM92 211h3v11h-3zM96 211h3v4h-3zM100 197h3v18h-3zM104 181h3v17h-3zM108 157h3v25h-3zM112 157h3v1h-3zM116 144h3v14h-3zM120 144h3v12h-3zM124 146h3v10h-3zM128 146h3v8h-3zM132 153h3v7h-3zM136 156h3v4h-3zM140 156h3v14h-3zM144 169h3v10h-3zM148 178h3v12h-3zM152 187h3v3h-3zM156 187h3v6h-3zM160 192h3v5h-3zM164 176h3v21h-3zM168 176h3v4h-3zM172 179h3v8h-3zM176 180h3v7h-3zM180 174h3v7h-3zM184 174h3v12h-3zM188 181h3v5h-3zM192 177h3v5h-3zM196 166h3v12h-3zM200 152h3v15h-3zM204 142h3v11h-3zM208 141h3v1h-3zM212 141h3v20h-3zM216 153h3v8h-3zM220 153h3v10h-3zM224 162h3v15h-3zM228 176h3v5h-3zM232 180h3v9h-3zM236 188h3v13h-3zM240 196h3v5h-3zM244 185h3v12h-3zM248 185h3v8h-3zM252 192h3v6h-3zM256 197h3v7h-3zM260 200h3v4h-3zM264 192h3v9h-3zM272 188h3v3h-3zM276 174h3v15h-3zM280 174h3v5h-3zM284 172h3v7h-3zM288 166h3v7h-3zM292 164h3v3h-3zM300 158h3v8h-3zM304 153h3v6h-3zM308 153h3v8h-3zM312 160h3v5h-3zM316 160h3v5h-3zM320 160h3v4h-3zM324 163h3v6h-3zM328 168h3v4h-3zM332 171h3v8h-3zM336 178h3v3h-3zM344 180h3v5h-3zM348 181h3v4h-3zM352 181h3v7h-3zM356 185h3v3h-3zM360 185h3v4h-3zM364 188h3v4h-3zM376 184h3v5h-3zM380 178h3v7h-3zM384 178h3v11h-3zM388 184h3v5h-3zM392 184h3v7h-3zM396 189h3v1h-3zM400 189h3v3h-3zM404 191h3v1h-3zM408 185h3v8h-3zM412 181h3v5h-3zM416 181h3v10h-3zM420 187h3v4h-3zM424 184h3v4h-3zM428 184h3v9h-3zM432 192h3v6h-3zM436 197h3v5h-3zM440 198h3v4h-3zM444 198h3v4h-3zM448 198h3v4h-3zM452 198h3v10h-3zM456 207h3v1h-3zM460 208h3v14h-3zM464 220h3v1h-3zM468 220h3v4h-3zM472 223h3v5h-3zM476 221h3v7h-3zM480 221h3v8h-3zM484 228h3v1h-3zM488 228h3v6h-3zM492 233h3v3h-3zM496 235h3v5h-3zM500 239h3v5h-3zM508 242h3v4h-3zM512 242h3v6h-3zM516 239h3v9h-3zM520 239h3v4h-3zM524 233h3v10h-3zM528 224h3v10h-3zM532 224h3v1h-3zM536 225h3v12h-3zM544 236h3v4h-3zM548 239h3v1h-3zM552 240h3v8h-3zM556 243h3v5h-3zM560 229h3v15h-3zM564 229h3v3h-3zM568 230h3v1h-3zM572 229h3v1h-3zM576 229h3v10h-3zM580 238h3v14h-3zM584 251h3v5h-3zM588 252h3v4h-3zM592 249h3v4h-3zM596 249h3v10h-3zM600 258h3v7h-3zM604 264h3v9h-3zM608 272h3v6h-3zM612 277h3v1h-3zM616 277h3v6h-3zM620 282h3v17h-3zM624 295h3v4h-3zM628 295h3v5h-3zM632 292h3v8h-3zM636 292h3v11h-3zM640 294h3v9h-3zM644 294h3v10h-3zM648 303h3v7h-3zM652 303h3v7h-3zM656 303h3v11h-3zM660 313h3v1h-3zM664 314h3v18h-3zM672 323h3v7h-3zM676 321h3v3h-3zM684 323h3v11h-3zM688 329h3v5h-3zM692 329h3v4h-3zM696 329h3v4h-3zM700 329h3v3h-3zM704 331h3v29h-3zM708 359h3v9h-3zM712 366h3v1h-3zM720 364h3v5h-3zM728 362h3v6h-3zM732 362h3v17h-3zM736 370h3v9h-3zM740 370h3v6h-3zM744 368h3v8h-3zM752 368h3v3h-3zM756 358h3v13h-3zM760 355h3v4h-3zM764 351h3v5h-3zM768 345h3v7h-3zM772 345h3v5h-3zM776 345h3v5h-3zM780 340h3v6h-3zM784 340h3v1h-3zM788 336h3v5h-3zM792 332h3v5h-3zM796 327h3v6h-3zM800 327h3v4h-3zM804 329h3v1h-3zM808 324h3v6h-3zM812 324h3v1h-3zM816 325h3v8h-3zM820 328h3v5h-3zM824 328h3v5h-3zM828 332h3v4h-3zM832 327h3v9h-3zM836 326h3v1h-3zM840 322h3v5h-3zM844 322h3v5h-3zM848 320h3v7h-3zM852 320h3v3h-3zM856 316h3v7h-3zM864 307h3v11h-3zM868 305h3v3h-3zM872 305h3v1h-3zM876 296h3v10h-3zM880 277h3v20h-3zM884 277h3v19h-3zM888 287h3v9h-3zM892 287h3v11h-3zM896 297h3v3h-3zM900 293h3v7h-3zM904 290h3v4h-3zM908 283h3v8h-3zM912 283h3v15h-3zM916 297h3v13h-3zM920 305h3v5h-3zM924 305h3v24h-3zM928 328h3v3h-3zM932 323h3v8h-3zM936 307h3v17h-3zM940 307h3v6h-3zM944 312h3v3h-3zM948 314h3v11h-3zM952 316h3v9h-3zM956 316h3v10h-3zM960 325h3v4h-3zM964 328h3v12h-3zM968 328h3v12h-3zM972 328h3v11h-3zM976 335h3v4h-3zM980 335h3v7h-3zM984 341h3v10h-3zM988 350h3v5h-3zM992 354h3v16h-3zM996 369h3v13h-3zM1000 381h3v15h-3zM1004 394h3v1h-3zM1008 391h3v4h-3zM1012 391h3v9h-3zM1016 399h3v3h-3zM1020 394h3v8h-3zM1024 394h3v7h-3zM1028 397h3v4h-3zM1032 397h3v1h-3zM1036 398h3v12h-3zM1040 409h3v10h-3zM1044 418h3v9h-3zM1048 426h3v17h-3zM1052 442h3v4h-3zM1056 445h3v1h-3zM1064 444h3v13h-3zM1068 456h3v12h-3zM1076 465h3v4h-3zM1080 468h3v11h-3zM1084 470h3v9h-3zM1088 464h3v7h-3zM1092 456h3v9h-3zM1100 457h3v11h-3zM1104 462h3v6h-3zM1108 462h3v7h-3zM1112 468h3v5h-3zM1120 470h3v3h-3zM1124 471h3v1h-3zM1128 469h3v3h-3zM1132 469h3v6h-3zM1136 473h3v1h-3zM1140 473h3v7h-3zM1144 479h3v7h-3zM1148 485h3v10h-3zM1152 489h3v6h-3zM1156 489h3v8h-3zM1160 485h3v12h-3zM1164 484h3v1h-3zM1168 476h3v9h-3zM1176 474h3v4h-3zM1180 473h3v1h-3zM1184 468h3v6h-3zM1188 468h3v6h-3zM1192 473h3v6h-3zM1196 465h3v14h-3zM1204 463h3v1h-3zM1208 458h3v7h-3zM1212 458h3v8h-3zM1216 460h3v6h-3zM1220 460h3v4h-3zM1224 459h3v5h-3zM1228 458h3v1h-3zM1232 458h3v4h-3zM1236 461h3v1h-3zM1240 461h3v1h-3zM1244 461h3v7h-3zM1248 463h3v5h-3zM1256 462h3v1h-3zM1260 460h3v4h-3zM1264 460h3v14h-3zM1268 465h3v9h-3zM1272 465h3v9h-3zM1276 470h3v4h-3zM1280 470h3v3h-3zM1284 472h3v1h-3zM1288 466h3v7h-3zM1292 464h3v3h-3zM1296 464h3v1h-3zM1300 465h3v3h-3zM1308 461h3v9h-3zM1312 461h3v11h-3zM1316 471h3v1h-3zM1320 469h3v4h-3zM1328 470h3v1h-3zM1332 469h3v1h-3zM1336 469h3v5h-3zM1340 473h3v6h-3zM1344 469h3v10h-3zM1348 469h3v1h-3zM1352 464h3v6h-3zM1356 464h3v4h-3zM1360 467h3v7h-3zM1364 473h3v1h-3zM1368 473h3v3h-3zM1372 469h3v7h-3zM1376 469h3v6h-3zM1384 471h3v4h-3zM1388 471h3v5h-3zM1392 475h3v5h-3zM1396 479h3v11h-3zM1400 489h3v10h-3zM1404 498h3v8h-3zM1408 505h3v5h-3zM1412 509h3v8h-3zM1416 514h3v3h-3zM1420 514h3v1h-3zM1424 514h3v11h-3zM1428 517h3v8h-3zM1432 517h3v3h-3zM1440 517h3v1h-3zM1444 517h3v10h-3zM1448 516h3v11h-3zM1452 516h3v6h-3zM1456 521h3v1h-3zM1460 522h3v4h-3zM1464 519h3v7h-3zM1468 519h3v14h-3zM1472 532h3v16h-3zM1476 547h3v26h-3zM1480 572h3v14h-3zM1484 585h3v8h-3zM1488 592h3v1h-3zM1492 586h3v8h-3zM1496 581h3v6h-3zM1500 574h3v8h-3zM1504 574h3v9h-3zM1508 568h3v15h-3zM1512 568h3v3h-3zM1516 563h3v8h-3zM1520 563h3v9h-3zM1524 564h3v8h-3zM1528 558h3v7h-3zM1532 558h3v7h-3zM1536 564h3v4h-3zM1540 567h3v1h-3zM1544 565h3v4h-3zM1548 561h3v5h-3zM1556 560h3v5h-3zM1560 564h3v1h-3zM1564 565h3v5h-3zM1568 569h3v1h-3zM1572 570h3v6h-3zM1576 575h3v3h-3zM1584 578h3v1h-3zM1588 579h3v1h-3zM1592 580h3v15h-3zM1596 586h3v9h-3zM1600 581h3v6h-3zM1604 581h3v4h-3zM1608 584h3v4h-3zM1612 587h3v15h-3zM1616 597h3v5h-3zM1620 589h3v9h-3zM1624 589h3v9h-3zM1628 575h3v23h-3zM1632 575h3v4h-3zM1636 571h3v8h-3zM1640 547h3v25h-3zM1644 547h3v8h-3zM1648 554h3v12h-3zM1652 559h3v7h-3zM1656 559h3v30h-3zM1660 588h3v6h-3zM1664 587h3v7h-3zM1668 587h3v33h-3zM1672 619h3v7h-3zM1676 625h3v14h-3zM1680 637h3v1h-3zM1684 628h3v10h-3zM1688 618h3v11h-3zM1692 618h3v11h-3zM1696 623h3v6h-3zM1700 620h3v4h-3zM1704 620h3v8h-3zM1708 627h3v18h-3zM1712 644h3v20h-3zM1716 658h3v6h-3zM1720 658h3v1h-3zM1724 658h3v1h-3zM1728 656h3v4h-3zM1732 654h3v3h-3zM1736 651h3v4h-3zM1740 645h3v7h-3zM1744 645h3v6h-3zM1748 642h3v9h-3zM1752 642h3v5h-3zM1756 636h3v11h-3zM1760 636h3v1h-3zM1764 636h3v4h-3zM1768 639h3v3h-3zM1772 625h3v17h-3zM1776 611h3v15h-3zM1780 610h3v1h-3zM1784 604h3v7h-3zM1788 604h3v18h-3zM1792 614h3v8h-3zM1796 614h3v6h-3zM1800 619h3v13h-3zM1804 631h3v5h-3zM1808 635h3v21h-3zM1812 655h3v9h-3zM1816 663h3v6h-3zM1820 657h3v12h-3zM1824 657h3v10h-3zM1828 666h3v1h-3zM1836 665h3v13h-3zM1840 653h3v25h-3zM1844 653h3v1h-3z" fill="#0e0e38"/><path d="M13 209h1v5h-1zM29 219h1v5h-1zM33 212h1v6h-1zM61 232h1v10h-1zM65 223h1v8h-1zM73 216h1v5h-1zM77 206h1v9h-1zM85 218h1v4h-1zM93 212h1v9h-1zM101 198h1v16h-1zM105 182h1v15h-1zM109 158h1v23h-1zM117 145h1v12h-1zM125 147h1v8h-1zM137 157h1v2h-1zM153 188h1v1h-1zM165 177h1v19h-1zM177 181h1v5h-1zM181 175h1v5h-1zM189 182h1v3h-1zM193 178h1v3h-1zM197 167h1v10h-1zM201 153h1v13h-1zM205 143h1v9h-1zM217 154h1v6h-1zM241 197h1v3h-1zM245 186h1v10h-1zM261 201h1v2h-1zM265 193h1v7h-1zM273 189h1v1h-1zM277 175h1v13h-1zM285 173h1v5h-1zM289 167h1v5h-1zM293 165h1v1h-1zM301 159h1v6h-1zM305 154h1v4h-1zM317 161h1v3h-1zM349 182h1v2h-1zM357 186h1v1h-1zM377 185h1v3h-1zM381 179h1v5h-1zM389 185h1v3h-1zM409 186h1v6h-1zM413 182h1v3h-1zM421 188h1v2h-1zM425 185h1v2h-1zM441 199h1v2h-1zM449 199h1v2h-1zM477 222h1v5h-1zM509 243h1v2h-1zM517 240h1v7h-1zM525 234h1v8h-1zM529 225h1v8h-1zM557 244h1v3h-1zM561 230h1v13h-1zM589 253h1v2h-1zM593 250h1v2h-1zM625 296h1v2h-1zM633 293h1v6h-1zM641 295h1v7h-1zM653 304h1v5h-1zM673 324h1v5h-1zM677 322h1v1h-1zM689 330h1v3h-1zM697 330h1v2h-1zM729 363h1v4h-1zM737 371h1v7h-1zM745 369h1v6h-1zM757 359h1v11h-1zM761 356h1v2h-1zM765 352h1v3h-1zM769 346h1v5h-1zM777 346h1v3h-1zM781 341h1v4h-1zM789 337h1v3h-1zM793 333h1v3h-1zM797 328h1v4h-1zM809 325h1v4h-1zM821 329h1v3h-1zM833 328h1v7h-1zM841 323h1v3h-1zM849 321h1v5h-1zM857 317h1v5h-1zM865 308h1v9h-1zM869 306h1v1h-1zM877 297h1v8h-1zM881 278h1v18h-1zM889 288h1v7h-1zM901 294h1v5h-1zM905 291h1v2h-1zM909 284h1v6h-1zM921 306h1v3h-1zM933 324h1v6h-1zM937 308h1v15h-1zM953 317h1v7h-1zM969 329h1v10h-1zM977 336h1v2h-1zM1009 392h1v2h-1zM1021 395h1v6h-1zM1029 398h1v2h-1zM1085 471h1v7h-1zM1089 465h1v5h-1zM1093 457h1v7h-1zM1105 463h1v4h-1zM1129 470h1v1h-1zM1153 490h1v4h-1zM1161 486h1v10h-1zM1169 477h1v7h-1zM1177 475h1v2h-1zM1185 469h1v4h-1zM1197 466h1v12h-1zM1209 459h1v5h-1zM1217 461h1v4h-1zM1225 460h1v3h-1zM1249 464h1v3h-1zM1261 461h1v2h-1zM1269 466h1v7h-1zM1277 471h1v2h-1zM1289 467h1v5h-1zM1293 465h1v1h-1zM1309 462h1v7h-1zM1321 470h1v2h-1zM1345 470h1v8h-1zM1353 465h1v4h-1zM1373 470h1v5h-1zM1385 472h1v2h-1zM1417 515h1v1h-1zM1429 518h1v6h-1zM1449 517h1v9h-1zM1465 520h1v5h-1zM1493 587h1v6h-1zM1497 582h1v4h-1zM1501 575h1v6h-1zM1509 569h1v13h-1zM1517 564h1v6h-1zM1525 565h1v6h-1zM1529 559h1v5h-1zM1545 566h1v2h-1zM1549 562h1v3h-1zM1597 587h1v7h-1zM1601 582h1v4h-1zM1617 598h1v3h-1zM1621 590h1v7h-1zM1629 576h1v21h-1zM1637 572h1v6h-1zM1641 548h1v23h-1zM1653 560h1v5h-1zM1665 588h1v5h-1zM1685 629h1v8h-1zM1689 619h1v9h-1zM1697 624h1v4h-1zM1701 621h1v2h-1zM1717 659h1v4h-1zM1729 657h1v2h-1zM1733 655h1v1h-1zM1737 652h1v2h-1zM1741 646h1v5h-1zM1749 643h1v7h-1zM1757 637h1v9h-1zM1773 626h1v15h-1zM1777 612h1v13h-1zM1785 605h1v5h-1zM1793 615h1v6h-1zM1821 658h1v10h-1zM1841 654h1v23h-1z" fill="#f0f0f0"/><path d="M5 188h1v9h-1zM9 198h1v16h-1zM17 209h1v3h-1zM21 213h1v8h-1zM25 222h1v2h-1zM37 212h1v1h-1zM41 214h1v8h-1zM45 223h1v3h-1zM49 227h1v8h-1zM57 236h1v6h-1zM81 206h1v16h-1zM89 218h1v3h-1zM97 212h1v2h-1zM121 145h1v10h-1zM129 147h1v6h-1zM133 154h1v5h-1zM141 157h1v12h-1zM145 170h1v8h-1zM149 179h1v10h-1zM157 188h1v4h-1zM161 193h1v3h-1zM169 177h1v2h-1zM173 180h1v6h-1zM185 175h1v10h-1zM213 142h1v18h-1zM221 154h1v8h-1zM225 163h1v13h-1zM229 177h1v3h-1zM233 181h1v7h-1zM237 189h1v11h-1zM249 186h1v6h-1zM253 193h1v4h-1zM257 198h1v5h-1zM281 175h1v3h-1zM309 154h1v6h-1zM313 161h1v3h-1zM321 161h1v2h-1zM325 164h1v4h-1zM329 169h1v2h-1zM333 172h1v6h-1zM337 179h1v1h-1zM345 181h1v3h-1zM353 182h1v5h-1zM361 186h1v2h-1zM365 189h1v2h-1zM385 179h1v9h-1zM393 185h1v5h-1zM401 190h1v1h-1zM417 182h1v8h-1zM429 185h1v7h-1zM433 193h1v4h-1zM437 198h1v3h-1zM445 199h1v2h-1zM453 199h1v8h-1zM461 209h1v12h-1zM469 221h1v2h-1zM473 224h1v3h-1zM481 222h1v6h-1zM489 229h1v4h-1zM493 234h1v1h-1zM497 236h1v3h-1zM501 240h1v3h-1zM513 243h1v4h-1zM521 240h1v2h-1zM537 226h1v10h-1zM545 237h1v2h-1zM553 241h1v6h-1zM565 230h1v1h-1zM577 230h1v8h-1zM581 239h1v12h-1zM585 252h1v3h-1zM597 250h1v8h-1zM601 259h1v5h-1zM605 265h1v7h-1zM609 273h1v4h-1zM617 278h1v4h-1zM621 283h1v15h-1zM629 296h1v3h-1zM637 293h1v9h-1zM645 295h1v8h-1zM649 304h1v5h-1zM657 304h1v9h-1zM665 315h1v16h-1zM685 324h1v9h-1zM693 330h1v2h-1zM701 330h1v1h-1zM705 332h1v27h-1zM709 360h1v7h-1zM721 365h1v3h-1zM733 363h1v15h-1zM741 371h1v4h-1zM753 369h1v1h-1zM773 346h1v3h-1zM801 328h1v2h-1zM817 326h1v6h-1zM825 329h1v3h-1zM829 333h1v2h-1zM845 323h1v3h-1zM853 321h1v1h-1zM885 278h1v17h-1zM893 288h1v9h-1zM897 298h1v1h-1zM913 284h1v13h-1zM917 298h1v11h-1zM925 306h1v22h-1zM929 329h1v1h-1zM941 308h1v4h-1zM945 313h1v1h-1zM949 315h1v9h-1zM957 317h1v8h-1zM961 326h1v2h-1zM965 329h1v10h-1zM973 329h1v9h-1zM981 336h1v5h-1zM985 342h1v8h-1zM989 351h1v3h-1zM993 355h1v14h-1zM997 370h1v11h-1zM1001 382h1v13h-1zM1013 392h1v7h-1zM1017 400h1v1h-1zM1025 395h1v5h-1zM1037 399h1v10h-1zM1041 410h1v8h-1zM1045 419h1v7h-1zM1049 427h1v15h-1zM1053 443h1v2h-1zM1065 445h1v11h-1zM1069 457h1v10h-1zM1077 466h1v2h-1zM1081 469h1v9h-1zM1101 458h1v9h-1zM1109 463h1v5h-1zM1113 469h1v3h-1zM1121 471h1v1h-1zM1133 470h1v4h-1zM1141 474h1v5h-1zM1145 480h1v5h-1zM1149 486h1v8h-1zM1157 490h1v6h-1zM1189 469h1v4h-1zM1193 474h1v4h-1zM1213 459h1v6h-1zM1221 461h1v2h-1zM1233 459h1v2h-1zM1245 462h1v5h-1zM1265 461h1v12h-1zM1273 466h1v7h-1zM1281 471h1v1h-1zM1301 466h1v1h-1zM1313 462h1v9h-1zM1337 470h1v3h-1zM1341 474h1v4h-1zM1357 465h1v2h-1zM1361 468h1v5h-1zM1369 474h1v1h-1zM1377 470h1v4h-1zM1389 472h1v3h-1zM1393 476h1v3h-1zM1397 480h1v9h-1zM1401 490h1v8h-1zM1405 499h1v6h-1zM1409 506h1v3h-1zM1413 510h1v6h-1zM1425 515h1v9h-1zM1433 518h1v1h-1zM1445 518h1v8h-1zM1453 517h1v4h-1zM1461 523h1v2h-1zM1469 520h1v12h-1zM1473 533h1v14h-1zM1477 548h1v24h-1zM1481 573h1v12h-1zM1485 586h1v6h-1zM1505 575h1v7h-1zM1513 569h1v1h-1zM1521 564h1v7h-1zM1533 559h1v5h-1zM1537 565h1v2h-1zM1557 561h1v3h-1zM1565 566h1v3h-1zM1573 571h1v4h-1zM1577 576h1v1h-1zM1593 581h1v13h-1zM1605 582h1v2h-1zM1609 585h1v2h-1zM1613 588h1v13h-1zM1625 590h1v7h-1zM1633 576h1v2h-1zM1645 548h1v6h-1zM1649 555h1v10h-1zM1657 560h1v28h-1zM1661 589h1v4h-1zM1669 588h1v31h-1zM1673 620h1v5h-1zM1677 626h1v12h-1zM1693 619h1v9h-1zM1705 621h1v6h-1zM1709 628h1v16h-1zM1713 645h1v18h-1zM1745 646h1v4h-1zM1753 643h1v3h-1zM1765 637h1v2h-1zM1769 640h1v1h-1zM1789 605h1v16h-1zM1797 615h1v4h-1zM1801 620h1v11h-1zM1805 632h1v3h-1zM1809 636h1v19h-1zM1813 656h1v7h-1zM1817 664h1v4h-1zM1825 658h1v8h-1zM1837 666h1v11h-1z" fill="#808080"/><path d="M69 213v11M269 188v8M297 162v4M341 172v9M369 182v11M373 187v6M505 240v11M541 235v3M669 324v9M681 320v6M717 359v9M725 366v5M749 363v10M861 308v10M1061 441v7M1073 463v7M1097 455v5M1117 467v10M1173 472v6M1201 462v6M1253 461v3M1305 464v8M1325 467v7M1381 472v7M1437 516v13M1553 558v6M1581 576v3M1833 664v5" stroke="#00e000" stroke-width="1" fill="none" transform="translate(0.5,0)"/><path d="M68 221h3v1h-3zM268 190h3v1h-3zM296 165h3v1h-3zM340 180h3v1h-3zM368 189h3v1h-3zM372 188h3v1h-3zM504 245h3v1h-3zM540 236h3v1h-3zM668 329h3v1h-3zM680 323h3v1h-3zM716 364h3v1h-3zM724 367h3v1h-3zM748 368h3v1h-3zM860 317h3v1h-3zM1060 444h3v1h-3zM1072 465h3v1h-3zM1096 457h3v1h-3zM1116 470h3v1h-3zM1172 477h3v1h-3zM1200 463h3v1h-3zM1252 462h3v1h-3zM1304 469h3v1h-3zM1324 470h3v1h-3zM1380 474h3v1h-3zM1436 517h3v1h-3zM1552 560h3v1h-3zM1580 578h3v1h-3zM1832 665h3v1h-3z" fill="#00e000"/></g><path d="M8 12H19L13.5 18Z" fill="#000"/><text x="26.2" y="21" font-size="13.4" fill="#000" font-family="'DejaVu Sans Condensed','Liberation Sans',sans-serif" textLength="74.5" lengthAdjust="spacingAndGlyphs">EURUSD,M1</text></g><g shape-rendering="crispEdges"><rect x="5" y="812" width="212" height="10" fill="#006400"/><rect x="217" y="812" width="1629" height="10" fill="#800000"/><rect x="4" y="4" width="1843" height="1" fill="#000"/><rect x="4" y="4" width="1" height="819" fill="#000"/><rect x="1846" y="4" width="1" height="819" fill="#000"/><rect x="4" y="822" width="1843" height="1" fill="#000"/><rect x="1847" y="43" width="2" height="1" fill="#000"/><rect x="1847" y="111" width="2" height="1" fill="#000"/><rect x="1847" y="178" width="2" height="1" fill="#000"/><rect x="1847" y="245" width="2" height="1" fill="#000"/><rect x="1847" y="312" width="2" height="1" fill="#000"/><rect x="1847" y="380" width="2" height="1" fill="#000"/><rect x="1847" y="447" width="2" height="1" fill="#000"/><rect x="1847" y="514" width="2" height="1" fill="#000"/><rect x="1847" y="582" width="2" height="1" fill="#000"/><rect x="1847" y="649" width="2" height="1" fill="#000"/><rect x="1847" y="716" width="2" height="1" fill="#000"/><rect x="1847" y="783" width="2" height="1" fill="#000"/><rect x="5" y="823" width="1" height="3" fill="#000"/><rect x="133" y="823" width="1" height="3" fill="#000"/><rect x="261" y="823" width="1" height="3" fill="#000"/><rect x="389" y="823" width="1" height="3" fill="#000"/><rect x="517" y="823" width="1" height="3" fill="#000"/><rect x="645" y="823" width="1" height="3" fill="#000"/><rect x="773" y="823" width="1" height="3" fill="#000"/><rect x="901" y="823" width="1" height="3" fill="#000"/><rect x="1029" y="823" width="1" height="3" fill="#000"/><rect x="1157" y="823" width="1" height="3" fill="#000"/><rect x="1285" y="823" width="1" height="3" fill="#000"/><rect x="1413" y="823" width="1" height="3" fill="#000"/><rect x="1541" y="823" width="1" height="3" fill="#000"/><rect x="1669" y="823" width="1" height="3" fill="#000"/><rect x="1797" y="823" width="1" height="3" fill="#000"/><rect x="1845" y="675" width="3" height="54" fill="#000"/></g><g clip-path="url(#cp1b)" font-size="8.5" fill="#fff" font-family="'Liberation Sans',sans-serif" text-anchor="middle" letter-spacing="-0.5"><text x="37.5" y="820.5">8:15</text><text x="97.5" y="820.5">8:30</text><text x="157.5" y="820.5">8:45</text><text x="217.5" y="820.5">9:00</text><text x="277.5" y="820.5">9:15</text><text x="337.5" y="820.5">9:30</text><text x="397.5" y="820.5">9:45</text><text x="457.5" y="820.5">10:00</text><text x="517.5" y="820.5">10:15</text><text x="577.5" y="820.5">10:30</text><text x="637.5" y="820.5">10:45</text><text x="697.5" y="820.5">11:00</text><text x="757.5" y="820.5">11:15</text><text x="817.5" y="820.5">11:30</text><text x="877.5" y="820.5">11:45</text><text x="937.5" y="820.5">12:00</text><text x="997.5" y="820.5">12:15</text><text x="1057.5" y="820.5">12:30</text><text x="1117.5" y="820.5">12:45</text><text x="1177.5" y="820.5">13:00</text><text x="1237.5" y="820.5">13:15</text><text x="1297.5" y="820.5">13:30</text><text x="1357.5" y="820.5">13:45</text><text x="1417.5" y="820.5">14:00</text><text x="1477.5" y="820.5">14:15</text><text x="1533.5" y="820.5">14:30</text><text x="1593.5" y="820.5">14:45</text><text x="1653.5" y="820.5">15:00</text><text x="1713.5" y="820.5">15:15</text><text x="1773.5" y="820.5">15:30</text><text x="1833.5" y="820.5">15:45</text></g><defs><clipPath id="cp1b"><rect x="5" y="810" width="1841" height="14"/></clipPath></defs><text x="1853" y="49.4" font-size="13.4" fill="#000" font-family="'DejaVu Sans Condensed','Liberation Sans',sans-serif" textLength="51" lengthAdjust="spacingAndGlyphs">1.16227</text><text x="1853" y="116.7" font-size="13.4" fill="#000" font-family="'DejaVu Sans Condensed','Liberation Sans',sans-serif" textLength="51" lengthAdjust="spacingAndGlyphs">1.16182</text><text x="1853" y="184" font-size="13.4" fill="#000" font-family="'DejaVu Sans Condensed','Liberation Sans',sans-serif" textLength="51" lengthAdjust="spacingAndGlyphs">1.16137</text><text x="1853" y="251.3" font-size="13.4" fill="#000" font-family="'DejaVu Sans Condensed','Liberation Sans',sans-serif" textLength="51" lengthAdjust="spacingAndGlyphs">1.16092</text><text x="1853" y="318.5" font-size="13.4" fill="#000" font-family="'DejaVu Sans Condensed','Liberation Sans',sans-serif" textLength="51" lengthAdjust="spacingAndGlyphs">1.16047</text><text x="1853" y="385.8" font-size="13.4" fill="#000" font-family="'DejaVu Sans Condensed','Liberation Sans',sans-serif" textLength="51" lengthAdjust="spacingAndGlyphs">1.16002</text><text x="1853" y="453.1" font-size="13.4" fill="#000" font-family="'DejaVu Sans Condensed','Liberation Sans',sans-serif" textLength="51" lengthAdjust="spacingAndGlyphs">1.15957</text><text x="1853" y="520.4" font-size="13.4" fill="#000" font-family="'DejaVu Sans Condensed','Liberation Sans',sans-serif" textLength="51" lengthAdjust="spacingAndGlyphs">1.15912</text><text x="1853" y="587.6" font-size="13.4" fill="#000" font-family="'DejaVu Sans Condensed','Liberation Sans',sans-serif" textLength="51" lengthAdjust="spacingAndGlyphs">1.15867</text><text x="1853" y="654.9" font-size="13.4" fill="#000" font-family="'DejaVu Sans Condensed','Liberation Sans',sans-serif" textLength="51" lengthAdjust="spacingAndGlyphs">1.15822</text><text x="1853" y="722.2" font-size="13.4" fill="#000" font-family="'DejaVu Sans Condensed','Liberation Sans',sans-serif" textLength="51" lengthAdjust="spacingAndGlyphs">1.15777</text><text x="1853" y="789.5" font-size="13.4" fill="#000" font-family="'DejaVu Sans Condensed','Liberation Sans',sans-serif" textLength="51" lengthAdjust="spacingAndGlyphs">1.15732</text><rect x="1848" y="378" width="62" height="17" fill="#ffd700" shape-rendering="crispEdges"/><text x="1853" y="392" font-size="13.4" fill="#fff" font-family="'DejaVu Sans Condensed','Liberation Sans',sans-serif" textLength="51" lengthAdjust="spacingAndGlyphs">1.16000</text><text x="4.5" y="839.8" font-size="13.4" fill="#000" font-family="'DejaVu Sans Condensed','Liberation Sans',sans-serif" textLength="72" lengthAdjust="spacingAndGlyphs">4 Nov 2021</text><text x="132.5" y="839.8" font-size="13.4" fill="#000" font-family="'DejaVu Sans Condensed','Liberation Sans',sans-serif" textLength="77.5" lengthAdjust="spacingAndGlyphs">4 Nov 02:39</text><text x="260.5" y="839.8" font-size="13.4" fill="#000" font-family="'DejaVu Sans Condensed','Liberation Sans',sans-serif" textLength="77.5" lengthAdjust="spacingAndGlyphs">4 Nov 03:11</text><text x="388.5" y="839.8" font-size="13.4" fill="#000" font-family="'DejaVu Sans Condensed','Liberation Sans',sans-serif" textLength="77.5" lengthAdjust="spacingAndGlyphs">4 Nov 03:43</text><text x="516.5" y="839.8" font-size="13.4" fill="#000" font-family="'DejaVu Sans Condensed','Liberation Sans',sans-serif" textLength="77.5" lengthAdjust="spacingAndGlyphs">4 Nov 04:15</text><text x="644.5" y="839.8" font-size="13.4" fill="#000" font-family="'DejaVu Sans Condensed','Liberation Sans',sans-serif" textLength="77.5" lengthAdjust="spacingAndGlyphs">4 Nov 04:47</text><text x="772.5" y="839.8" font-size="13.4" fill="#000" font-family="'DejaVu Sans Condensed','Liberation Sans',sans-serif" textLength="77.5" lengthAdjust="spacingAndGlyphs">4 Nov 05:19</text><text x="900.5" y="839.8" font-size="13.4" fill="#000" font-family="'DejaVu Sans Condensed','Liberation Sans',sans-serif" textLength="77.5" lengthAdjust="spacingAndGlyphs">4 Nov 05:51</text><text x="1028.5" y="839.8" font-size="13.4" fill="#000" font-family="'DejaVu Sans Condensed','Liberation Sans',sans-serif" textLength="77.5" lengthAdjust="spacingAndGlyphs">4 Nov 06:23</text><text x="1156.5" y="839.8" font-size="13.4" fill="#000" font-family="'DejaVu Sans Condensed','Liberation Sans',sans-serif" textLength="77.5" lengthAdjust="spacingAndGlyphs">4 Nov 06:55</text><text x="1284.5" y="839.8" font-size="13.4" fill="#000" font-family="'DejaVu Sans Condensed','Liberation Sans',sans-serif" textLength="77.5" lengthAdjust="spacingAndGlyphs">4 Nov 07:27</text><text x="1412.5" y="839.8" font-size="13.4" fill="#000" font-family="'DejaVu Sans Condensed','Liberation Sans',sans-serif" textLength="77.5" lengthAdjust="spacingAndGlyphs">4 Nov 07:59</text><text x="1540.5" y="839.8" font-size="13.4" fill="#000" font-family="'DejaVu Sans Condensed','Liberation Sans',sans-serif" textLength="77.5" lengthAdjust="spacingAndGlyphs">4 Nov 08:32</text><text x="1668.5" y="839.8" font-size="13.4" fill="#000" font-family="'DejaVu Sans Condensed','Liberation Sans',sans-serif" textLength="77.5" lengthAdjust="spacingAndGlyphs">4 Nov 09:04</text><text x="1796.5" y="839.8" font-size="13.4" fill="#000" font-family="'DejaVu Sans Condensed','Liberation Sans',sans-serif" textLength="77.5" lengthAdjust="spacingAndGlyphs">4 Nov 09:36</text></svg><svg x="1920" y="0" width="1920" height="851" viewBox="0 0 1920 851" overflow="hidden"><g shape-rendering="crispEdges"><rect x="0" y="0" width="1920" height="851" fill="#fff"/><rect x="0" y="0" width="1919" height="1" fill="#a0a0a0"/><rect x="0" y="0" width="1" height="850" fill="#a0a0a0"/><rect x="1" y="1" width="1917" height="1" fill="#696969"/><rect x="1" y="1" width="1" height="848" fill="#696969"/><rect x="1" y="849" width="1918" height="1" fill="#e3e3e3"/><rect x="1918" y="1" width="1" height="849" fill="#e3e3e3"/></g><defs><clipPath id="cp2"><rect x="5" y="5" width="1841" height="817"/></clipPath></defs><g clip-path="url(#cp2)"><g shape-rendering="crispEdges" fill="#ffb6c1"><rect x="185" y="213" width="608" height="350"/></g><path d="M37.5 6V812M97.5 6V812M157.5 6V812M217.5 6V812M277.5 6V812M337.5 6V812M397.5 6V812M457.5 6V812M517.5 6V812M577.5 6V812M637.5 6V812M697.5 6V812M757.5 6V812M817.5 6V812M877.5 6V812M937.5 6V812M997.5 6V812M1057.5 6V812M1117.5 6V812M1177.5 6V812M1237.5 6V812M1297.5 6V812M1357.5 6V812M1417.5 6V812M1477.5 6V812M1537.5 6V812M1597.5 6V812M1657.5 6V812M1717.5 6V812M1777.5 6V812M1837.5 6V812" stroke="#e0e0fa" stroke-width="1" stroke-dasharray="3 3" fill="none" shape-rendering="crispEdges"/><path d="M65 596.5H1846" stroke="#ffd700" stroke-width="1" stroke-dasharray="3 3" fill="none" shape-rendering="crispEdges"/><path d="M4.5 662.5 L213.5 662.5 L217.5 637.5 L453.5 637.5 L457.5 603.5 L693.5 603.5 L697.5 580.5 L933.5 580.5 L937.5 551.5 L1173.5 551.5 L1177.5 530.5 L1413.5 530.5 L1417.5 514.5 L1653.5 514.5 L1657.5 490.5 L1846.5 490.5" stroke="#000" stroke-width="1" fill="none" shape-rendering="crispEdges"/><g fill="none" stroke-width="2" stroke-linejoin="round" stroke-linecap="butt" shape-rendering="crispEdges"><path d="M4.1 606.7 L7.1 606.3 L10.2 605.7 L13.3 605 L16.3 604.3 L19.4 603.4 L22.4 602.6 L25.5 601.6 L28.6 600.7 L31.6 599.8 L34.7 598.9 L37.8 598.1 L40.8 597.3 L43.9 596.3 L46.9 595.3 L50 594.3 L53.1 593.3 L56.1 592.3 L59.2 591.3 L62.2 590.3 L65.3 589.2 L68.4 588 L71.4 586.7 L74.5 585.3 L77.6 584 L80.6 582.6 L83.7 581.3 L86.7 580.1 L89.8 579 L92.9 578 L95.9 577.1 L99 576.2 L102 575.5 L105.1 574.7 L108.2 574.1 L111.2 573.4 L114.3 572.9 L117.3 572.3 L120.4 571.9 L123.5 571.5 L126.5 571.1 L129.6 570.8 L132.7 570.5 L135.7 570.3 L138.8 570 L141.8 569.8 L144.9 569.7 L148 569.6 L151 569.6 L154.1 569.5 L157.1 569.4 L160.2 569.2 L163.3 568.8 L166.7 568.1 L170.1 567.4 L173.5 566.5 L176.9 565.5 L180.3 564.2 L183.7 562.7 L186.8 561.4 L190 560 L193.2 558.4 L196.4 556.8 L199.5 555 L202.7 553.3 L205.9 551.6 L209.1 549.9 L212.2 548.4 L215.5 547.1 L218.8 545.8 L222 544.5 L225.3 543.3 L228.6 542.1 L231.8 540.9 L235.1 539.7 L238.4 538.5 L241.6 537.3 L244.9 536.1 L248.2 534.9 L251.4 533.7 L254.7 532.4 L258 531.2 L261.2 530 L264.5 528.8 L267.8 527.6 L271 526.3 L274.3 525.1 L277.6 523.9 L280.7 522.5 L283.9 521.1 L287.1 519.6 L290.2 518.2 L293.4 516.8 L296.6 515.4 L299.8 514.1 L302.9 512.8 L306.1 511.6 L309.3 510.5 L312.5 509.5 L315.6 508.6 L318.8 507.7 L322 506.9 L325.2 506 L328.3 505.2 L331.5 504.4 L334.7 503.5 L338 502.7 L341.2 501.9 L344.5 501.1 L347.8 500.4 L351 499.6 L354.3 498.9 L357.6 498.1 L360.8 497.2 L364.1 496.3 L367.3 495.3 L370.6 494.2 L373.9 493.1 L377.1 491.9 L380.4 490.6 L383.7 489.3 L386.9 488 L390.2 486.7 L393.5 485.4 L396.7 484.2 L400 483.1 L403.3 482 L406.5 481 L409.8 480 L413.1 479.1 L416.3 478.2 L419.6 477.3 L422.9 476.3 L426.1 475.3 L429.4 474.1 L432.7 472.9 L435.9 471.5 L439.2 470 L442.4 468.5 L445.7 467 L449 465.3 L452.2 463.6 L455.5 461.9 L458.8 460.2 L462 458.4 L465.3 456.5 L468.6 454.7 L471.8 452.7 L475.1 450.7 L478.4 448.7 L481.6 446.6 L484.9 444.5 L488.2 442.4 L491.4 440.3 L494.7 438.2 L498 436.1 L501.2 434.1 L504.5 432 L507.8 429.9 L511 427.9 L514.3 425.8 L517.6 423.7 L520.8 421.7 L524.1 419.7 L527.3 417.7 L530.6 415.7 L533.9 413.8 L537.1 411.8 L540.4 409.9 L543.7 408 L546.9 406.1 L550.2 404.3 L553.5 402.5 L556.7 400.7 L560 399 L563.3 397.3 L566.5 395.7 L569.8 394.1 L573.1 392.6 L576.3 391 L579.6 389.6 L582.9 388.1 L586.1 386.8 L589.4 385.5 L592.7 384.2 L595.9 383.1 L599 381.8 L602 380.6 L605.1 379.6 L608.2 378.7 L611.2 377.8 L614.3 376.9 L617.3 376 L620.4 374.9 L623.8 373.4 L627.2 372 L630.6 370.6 L634 368.9 L637.4 367 L640.8 364.7 L644.1 363.1 L647.3 361.3 L650.6 359.4 L653.9 357.4 L657.1 355.3 L660.4 353.1 L663.7 350.9 L666.9 348.7 L670.2 346.5 L673.5 344.3 L676.7 342.1 L680 339.9 L683.3 337.7 L686.5 335.5 L689.8 333.2 L693.1 330.9 L696.3 328.6 L699.6 326.4 L702.9 324.1 L706.1 321.8 L709.4 319.6 L712.7 317.3 L715.9 315 L719.2 312.7 L722.4 310.4 L725.7 308.1 L729 305.8 L732.2 303.6 L735.5 301.5 L738.8 299.4 L742 297.2 L745.1 295 L748.3 292.9 L751.5 290.8 L754.6 288.8 L757.8 286.8 L761 284.9 L764.2 282.9 L767.3 281 L770.5 279.1 L773.7 277.1 L776.9 275.1 L780 273.1 L783.2 271.2 L786.4 269.4 L789.6 267.7 L792.7 266.1 L795.9 264.7 L799.3 262.9 L802.7 261.5 L806.1 260.3 L809.5 259.2 L812.9 258.3 L816.3 257.3 L819.4 256.7 L822.4 256 L825.5 255.4 L828.6 254.9 L831.6 254.4 L834.7 254 L837.8 253.6 L840.8 253.3 L844.2 252.9 L847.6 252.7 L851 252.6 L854.4 252.5 L857.8 252.5 L861.2 252.4" stroke="#0000cd"/><path d="M861.2 252.4 L865.3 252.1 L869.4 252.4 L872.6 252.8 L875.7 253.1 L878.9 253.6 L882.1 254.1 L885.3 254.7 L888.4 255.3 L891.6 255.9 L894.8 256.6 L898 257.3 L901.2 258.1 L904.5 258.9 L907.8 259.8 L911 260.7 L914.3 261.7 L917.6 262.6 L920.8 263.5 L924.1 264.3 L927.3 265 L930.6 265.5 L933.7 266.3 L936.9 266.2 L940 266.7 L943.1 267.3 L946.1 268 L949.2 268.8 L952.2 269.6 L955.3 270.5 L958.4 271.4 L961.4 272.2 L964.5 272.9 L967.7 273.4 L970.8 273.9 L974 274.4 L977.2 274.9 L980.4 275.3 L983.5 275.8 L986.7 276.2 L989.9 276.6 L993.1 276.9 L996.2 277.3 L999.4 277.6 L1002.6 277.9 L1005.8 278.2 L1008.9 278.5 L1012.1 278.8 L1015.3 279 L1018.5 279.2 L1021.6 279.4 L1025 279.6 L1028.4 279.8 L1031.8 279.9 L1035.2 280.1 L1038.6 280.1 L1042 280.2" stroke="#dc143c"/><path d="M1042 280.2 L1046.1 280.3 L1050.2 280.2 L1053.3 280.1 L1056.3 280 L1059.4 279.9 L1062.4 279.8 L1065.5 279.6 L1068.6 279.4 L1071.6 279.2 L1074.7 279 L1077.9 278.7 L1081 278.4 L1084.2 278.1 L1087.4 277.8 L1090.6 277.5 L1093.7 277.1 L1096.9 276.8 L1100.1 276.4 L1103.3 276.1 L1106.5 275.9 L1109.8 275.6 L1113.1 275.4 L1116.3 275.1 L1119.6 274.9 L1122.9 274.6 L1126.1 274.4 L1129.4 274.2 L1132.7 273.9 L1135.9 273.7 L1139.2 273.4 L1142.4 273.2 L1145.7 272.9 L1149 272.6 L1152.2 272.3 L1155.5 272.1 L1158.8 271.8 L1162 271.6 L1165.3 271.4 L1168.6 271.2 L1171.6 271 L1174.7 270.9 L1177.8 270.8 L1180.8 270.7 L1183.9 270.6 L1186.9 270.5 L1190 270.5 L1193.1 270.4" stroke="#0000cd"/><path d="M1193.1 270.4 L1197.1 270.3 L1201.2 270.4 L1204.5 270.5 L1207.8 270.6 L1211 270.7 L1214.3 270.9 L1217.6 271 L1220.8 271.2 L1224.1 271.4 L1227.3 271.6 L1230.6 271.8 L1233.9 272 L1237.1 272.3 L1240.4 272.5 L1243.7 272.7 L1246.9 272.9 L1250.2 273.2 L1253.5 273.5 L1256.7 273.8 L1260 274.1 L1263.3 274.5 L1266.5 274.9 L1269.8 275.4 L1273.1 275.9 L1276.3 276.5 L1279.6 277.1 L1282.9 277.8 L1286.1 278.4 L1289.4 279.1 L1292.7 279.7 L1295.9 280.4 L1299.2 281 L1302.2 281.8 L1305.3 282.6 L1308.4 283.3 L1311.4 284.1 L1314.5 284.8 L1317.6 285.6 L1320.6 286.4 L1323.7 287.1 L1326.7 287.9 L1329.8 288.8 L1332.9 289.7 L1335.9 290.5 L1339 291.3 L1342 292.1 L1345.1 292.7 L1348.2 293.3 L1351.4 293.8 L1354.7 294.2 L1358 294.3 L1361.2 294.4 L1364.5 294.5" stroke="#dc143c"/><path d="M1364.5 294.5 L1368.6 294.6 L1372.7 294.5 L1375.8 294.4 L1379 294.3 L1382.2 294.2 L1385.4 294.1 L1388.5 294 L1391.7 293.9 L1394.9 293.8 L1398 293.7 L1401.2 293.7" stroke="#0000cd"/><path d="M1401.2 293.7 L1405.3 293.7 L1408.4 293.8 L1411.4 294 L1414.5 294.3 L1417.6 294.6 L1420.6 294.9 L1423.7 295.3 L1426.7 295.7 L1429.8 296.1 L1433.1 296.5 L1436.3 297 L1439.6 297.4 L1442.9 297.9 L1446.1 298.4 L1449.4 299 L1452.7 299.5 L1455.9 300.1 L1459.2 300.8 L1462.4 301.4 L1465.7 302.1 L1469 302.8 L1472.2 303.6 L1475.5 304.4 L1478.8 305.2 L1482 306 L1485.3 306.9 L1488.6 307.8 L1491.8 308.7 L1495.1 309.6 L1498.4 310.5 L1501.6 311.5 L1504.9 312.5 L1508.2 313.5 L1511.4 314.6 L1514.7 315.6 L1518 316.7 L1521.2 317.7 L1524.5 318.8 L1527.8 319.8 L1531 320.8 L1534.3 321.8 L1537.6 322.8 L1540.8 323.8 L1544.1 324.8 L1547.3 325.8 L1550.6 326.8 L1553.9 327.8 L1557.1 328.9 L1560.4 330 L1563.7 331.1 L1566.9 332.3 L1570.2 333.5 L1573.5 334.8 L1576.7 336 L1580 337.3 L1583.3 338.6 L1586.5 339.8 L1589.8 341 L1593.1 342.2 L1596.3 343.5 L1599.6 344.7 L1602.9 345.9 L1606.1 347.2 L1609.4 348.4 L1612.7 349.6 L1615.9 350.8 L1619.2 351.8 L1622.4 352.8 L1625.7 353.7 L1628.8 354.6 L1631.8 355.5 L1634.9 356.2 L1638 356.8 L1641 357.3 L1644.1 357.8 L1647.1 358.2 L1650.2 358.6 L1653.3 359.1 L1656.3 359.3 L1659.4 359.4 L1662.4 359.4" stroke="#dc143c"/><path d="M1662.4 359.4 L1666.5 359.3 L1670.6 358.6 L1673.7 358.3 L1676.7 358 L1679.8 357.6 L1682.9 357.2 L1685.9 356.8 L1689 356.3 L1692 355.9 L1695.1 355.4 L1698.2 354.9 L1701.2 354.5 L1704.3 354.1 L1707.3 353.7 L1710.5 353.3 L1713.6 353 L1716.8 352.7 L1719.9 352.3 L1723 352 L1726.2 351.7 L1729.3 351.4 L1732.5 351.1 L1735.6 350.8 L1738.7 350.5 L1741.9 350.2 L1745 349.9 L1748.2 349.6 L1751.2 349.4 L1754.3 349.2 L1757.3 348.9 L1760.4 348.7 L1763.5 348.5 L1766.5 348.3 L1769.6 348.2 L1772.7 348 L1775.7 347.8 L1778.8 347.6 L1781.8 347.4 L1784.9 347.2 L1788 347 L1791 346.8 L1794.1 346.6 L1797.1 346.3 L1800.3 346.1 L1803.5 345.8 L1806.7 345.5 L1809.9 345.2 L1813.1 344.9 L1816.2 344.6 L1819.4 344.2 L1822.6 343.9 L1825.8 343.6 L1829 343.3 L1832.2 343.1 L1835.3 342.8 L1838.5 342.6 L1841.7 342.4 L1844.9 342.2" stroke="#0000cd"/></g><g fill="none" stroke-width="2" stroke-linejoin="round" stroke-linecap="butt" shape-rendering="crispEdges"><path d="M16.3 587.1 L19.4 584.4 L22.4 580.5 L25.5 576.3 L28.6 572.9 L31.6 570.4 L34.7 568.5 L37.8 566.7 L40.8 564.7 L43.9 562.1 L46.9 559.3 L50 556.7 L53.1 554.5 L56.1 553.1 L59.2 552.2 L62.2 551.4 L65.3 550.4 L68.4 548.9 L71.4 547.2 L74.5 545.5 L77.6 544.3 L80.6 543.2 L83.7 543.1" stroke="#0000cd"/><path d="M83.7 543.1 L87.8 544.3 L91.2 545.8 L94.6 547.9 L98 550.4 L101 552.7 L104.1 555.5 L107.1 558.2 L110.2 560.6 L113.3 562.7 L116.3 564.6 L119.4 566.2 L122.4 567.6 L125.5 568.5 L128.6 569.2 L131.6 569.6 L134.7 570 L138.1 570.5 L141.5 570.7 L144.9 570.8" stroke="#dc143c"/><path d="M144.9 570.8 L148 571.4 L151 570 L154.1 567.2 L157.1 563.2 L160.2 558.8 L163.3 554.5 L166.3 550.4 L169.4 546.3 L172.4 542.2 L175.5 538.2 L178.6 533.9 L181.6 529.6 L184.7 525.6 L187.8 522.7 L190.8 521.1 L193.9 520.6 L196.9 520.4 L200 519.8 L203.1 518.4 L206.1 516.7 L209.2 515 L212.2 513.7 L215.3 512.8 L218.4 512.1 L221.4 511.8 L224.5 511.6" stroke="#0000cd"/><path d="M224.5 511.6 L228.6 512.6 L232.7 513.7" stroke="#dc143c"/><path d="M232.7 513.7 L236.7 513.7 L240.8 512.9 L243.9 512 L246.9 510.9 L250 509.5 L253.1 507.6 L256.1 504.9 L259.2 501.6 L262.2 498.2 L265.3 495.3 L268.4 492.8 L271.4 490.6 L274.5 488.7 L277.6 487.1 L281 485.9 L284.4 485.4 L287.8 485.1" stroke="#0000cd"/><path d="M287.8 485.1 L291.3 484.7 L294.9 484.3 L298.5 484.3 L302 485.1 L305.1 487 L308.2 489.7 L311.2 492.7 L314.3 495.3 L317.3 497.6 L320.4 499.9 L323.5 501.9 L326.5 503.5 L329.6 505.2 L332.7 505.5" stroke="#dc143c"/><path d="M332.7 505.5 L335.7 504.4 L338.8 502.2 L341.8 500.7 L344.9 499 L348 497.1 L351 495.3 L354.3 494.1 L357.6 492.9 L360.8 491.7 L364.1 490.5 L367.3 489.2 L370.6 487.6 L373.9 486 L377.1 484.2 L380.4 482.6 L383.7 481 L386.7 479.3 L389.8 477.7 L392.9 476.2 L395.9 474.9 L399.2 473.9 L402.4 473 L405.7 472.2 L409 471.5 L412.2 470.8 L415.3 470.3 L418.4 470.1 L421.4 469.7 L424.5 468.8 L428.6 465.5 L432.7 460.6 L435.7 457.5 L438.8 453.9 L441.8 450 L444.9 446.3 L448.2 443.4 L451.4 440.5 L454.7 437.6 L458 434.8 L461.2 432 L464.5 429.5 L467.8 427.1 L471 424.7 L474.3 422.3 L477.6 419.8 L480.6 416.5 L483.7 413 L486.7 409.4 L489.8 405.5 L492.9 401.1 L495.9 396.2 L499 391.5 L502 387.1 L505.1 383.2 L508.2 379.5 L511.2 376.4 L514.3 374.1 L518.4 372.9" stroke="#0000cd"/><path d="M518.4 372.9 L522.4 373.3 L526.5 374.1 L529.6 374.4 L532.7 374.6 L535.7 374.8 L538.8 374.9" stroke="#dc143c"/><path d="M538.8 374.9 L542.9 374.6 L546.9 374.1 L550.3 373.6 L553.7 373.1 L557.1 372.9" stroke="#0000cd"/><path d="M557.1 372.9 L560.2 373.2 L563.3 373.7 L566.3 373.8 L569.4 373.9 L572.4 374 L575.5 374.1 L578.8 374.1 L582 374.1 L585.3 374 L588.6 374 L591.8 374.1 L594.9 374.2 L598 374.5 L601 374.7 L604.1 374.9 L607.5 375.1 L610.9 375.2 L614.3 374.9" stroke="#dc143c"/><path d="M614.3 374.9 L617.3 373.3 L620.4 370.8 L623.7 369.8 L626.9 368.8 L630.2 367.6 L633.5 365.9 L636.7 363.5 L640 360.1 L643.3 356 L646.5 351.5 L649.8 346.8 L653.1 342.2 L656.3 337.7 L659.6 333.1 L662.9 328.4 L666.1 323.9 L669.4 319.8 L672.7 315.9 L675.9 312.2 L679.2 308.8 L682.4 305.9 L685.7 303.5 L688.8 301.8 L691.8 301.2 L694.9 300.7 L698 299.4 L701.2 297.4 L704.5 294.9 L707.8 292.1 L711 289.5 L714.3 287.1 L717.6 285.2 L720.8 283.5 L724.1 281.9 L727.3 280.4 L730.6 279 L733.9 277.6 L737.1 276.4 L740.4 275.2 L743.7 274 L746.9 272.9 L750.2 271.6 L753.5 270.2 L756.7 268.8 L760 267.6 L763.3 266.7 L766.7 265.9 L770.1 265.6 L773.5 265.5" stroke="#0000cd"/><path d="M773.5 265.5 L776.5 265.4 L779.6 266.7 L782.9 268.2 L786.1 270.2 L789.4 272.4 L792.7 274.8 L795.9 276.9 L799.2 278.9 L802.4 280.8 L805.7 282.8 L809 284.8 L812.2 287.1 L815.5 289.7 L818.8 292.6 L822 295.5 L825.3 298.5 L828.6 301.4 L831.8 304.4 L835.1 307.5 L838.4 310.6 L841.6 313.4 L844.9 315.7 L848.2 317.4 L851.4 318.6 L854.7 319.5 L858 320.5 L861.2 321.8 L864.5 323.6 L867.8 325.4 L871 327.5 L874.3 329.7 L877.6 332 L880.8 334.8 L884.1 337.9 L887.3 341 L890.6 343.9 L893.9 346.3 L897.1 348.2 L900.4 349.7 L903.7 350.8 L906.9 351.7 L910.2 352.4 L913.6 352.8 L917 352.9 L920.4 352.8 L923.8 352.7 L927.2 352.5 L930.6 352.4 L933.7 352.3 L936.9 352.2 L940 352.4 L943.4 353.4 L946.8 354.7 L950.2 355.3" stroke="#dc143c"/><path d="M950.2 355.3 L954.3 352.4 L957.9 350.4 L961.4 347.7 L965 344.8 L968.6 342.2 L971.8 340.4 L975.1 338.7 L978.4 337.1 L981.6 335.6 L984.9 334.1 L988.3 333 L991.7 332 L995.1 331 L998.5 330.1 L1001.9 329.1 L1005.3 328 L1008.6 326.4 L1011.8 324.7 L1015.1 323 L1018.4 321.3 L1021.6 319.8 L1024.9 318.5 L1028.2 317.5 L1031.4 316.5 L1034.7 315.3 L1038 313.7 L1041.4 312 L1044.8 310 L1048.2 307.8 L1051.6 305.6 L1055 303.4 L1058.4 301.4 L1061.6 299.2 L1064.9 297.2 L1068.2 295.1 L1071.4 293.2 L1074.7 291.2 L1078 289.2 L1081.2 287.2 L1084.5 285.2 L1087.8 283.4 L1091 281.8 L1094.3 280.7 L1097.6 279.8 L1100.8 279 L1104.1 278.4 L1107.3 277.8 L1110.6 277.1 L1113.9 276.4 L1117.1 275.9 L1120.4 275.3 L1123.7 274.9 L1127.1 274.6 L1130.5 274.4 L1133.9 274.2 L1137.3 274.1 L1140.7 273.9 L1144.1 273.7 L1147.3 273.4 L1150.6 273 L1153.9 272.7 L1157.1 272.3 L1160.4 272 L1163.8 271.6 L1167.2 271.3 L1170.6 271.2" stroke="#0000cd"/><path d="M1170.6 271.2 L1174.7 272.9" stroke="#dc143c"/><path d="M1174.7 272.9 L1177.8 273.5 L1180.8 273.7 L1184.4 273.4 L1188 272.8 L1191.5 272.3 L1195.1 272" stroke="#0000cd"/><path d="M1195.1 272 L1198.2 272.3 L1201.2 273.7 L1204.5 274.7 L1207.8 275.9 L1211 277.3 L1214.3 278.8 L1217.6 280.2 L1220.8 281.6 L1224.1 283.1 L1227.3 284.6 L1230.6 286 L1233.9 287.1 L1237.1 288 L1240.4 288.5 L1243.7 289 L1246.9 289.6 L1250.2 290.4 L1253.5 291.5 L1256.7 292.8 L1260 294.2 L1263.3 295.8 L1266.5 297.3 L1269.6 299.5 L1272.7 301.8 L1275.7 304.1 L1278.8 306.3 L1282 308 L1285.3 309.7 L1288.6 311.3 L1291.8 312.9 L1295.1 314.5 L1298.2 316.6 L1301.2 318.7 L1304.3 320.7 L1307.3 322.7 L1310.4 324.5 L1313.5 326.2 L1316.5 327.8 L1319.6 329.2 L1322.7 330.5 L1325.7 331.6 L1328.8 332.5 L1331.8 333.3 L1335.5 334.2 L1339.2 334.1" stroke="#dc143c"/><path d="M1339.2 334.1 L1344.1 330 L1347.1 327.4 L1350.2 324.2 L1353.3 320.8 L1356.3 317.8 L1359.7 314.4 L1363.1 311.4 L1366.5 308.8 L1369.6 307.1 L1372.7 305.6 L1375.7 304.4 L1378.8 303.5 L1382.2 302.6 L1385.6 302.2 L1389 302.2" stroke="#0000cd"/><path d="M1389 302.2 L1392 303.1 L1395.1 304.7 L1398.7 305.6 L1402.2 306.7 L1405.8 307.9 L1409.4 309.6 L1412.7 311.4 L1415.9 313.6 L1419.2 316 L1422.4 318.1 L1425.7 319.8 L1429.1 321.4 L1432.5 322.2 L1435.9 322.7 L1439 322.6 L1442 322.2 L1445.1 321.8 L1448.2 321.8 L1451.7 322.5 L1455.3 323.5 L1458.9 324.7 L1462.4 325.9 L1465.5 327.1 L1468.6 328.4 L1471.6 329.7 L1474.7 330.8 L1477.8 331.7 L1480.8 332.3 L1483.9 333 L1486.9 334.1 L1490.3 336.3 L1493.7 339 L1497.1 341.4 L1500.5 343.3 L1503.9 345 L1507.3 346.3 L1510.4 347.1 L1513.5 347.8 L1516.5 348.2 L1519.6 348.4 L1523 347.8 L1526.4 346.9 L1529.8 346.3 L1532.9 347 L1535.9 348.4 L1539 349.1 L1542 350 L1545.1 351.1 L1548.2 352.4 L1551.6 355 L1555 358 L1558.4 360.6 L1561.4 362 L1564.5 363 L1567.6 363.9 L1570.6 364.7 L1574 365.3 L1577.4 365.7 L1580.8 366.7 L1583.9 368.5 L1586.9 370.8 L1590 373.1 L1593.1 374.9 L1596.1 376.7 L1599.2 377.3" stroke="#dc143c"/><path d="M1599.2 377.3 L1602.2 377.1 L1605.3 376.1 L1608.6 375.7 L1611.8 375.2 L1615.1 374.6 L1618.4 373.9 L1621.6 372.9 L1624.9 371.6 L1628.2 370.2 L1631.4 368.6 L1634.7 366.8 L1638 364.7 L1641.2 362.3 L1644.5 359.5 L1647.8 356.6 L1651 353.5 L1654.3 350.4 L1657.6 347.2 L1660.8 343.8 L1664.1 340.4 L1667.3 337.1 L1670.6 334.1 L1673.7 330.6 L1676.7 327.3 L1679.8 324.4 L1682.9 321.8 L1686.9 317.9 L1691 315.7" stroke="#0000cd"/><path d="M1691 315.7 L1694.1 315.7 L1697.1 316.9 L1700.5 318.2 L1703.9 319.8 L1707.3 321 L1711.4 322 L1715.5 321.8" stroke="#dc143c"/><path d="M1715.5 321.8 L1718.6 319.6 L1721.6 316.9 L1725.7 314.5" stroke="#0000cd"/><path d="M1725.7 314.5 L1728.8 315.4 L1731.8 316.9 L1734.9 317.6 L1738 318.2 L1741 318.9 L1744.1 319.8 L1747.1 321 L1750.2 322.5 L1753.3 324 L1756.3 325.1 L1759.4 325.8 L1762.4 326.3 L1765.5 326.6 L1768.6 326.7" stroke="#dc143c"/><path d="M1768.6 326.7 L1771.6 326.6 L1774.7 325.9 L1778.3 325.5 L1781.8 325 L1785.4 324.4 L1789 323.9 L1792.2 323.5 L1795.5 323.1 L1798.8 322.7 L1802 322.2 L1805.3 321.8 L1808.6 321.4 L1811.8 320.9 L1815.1 320.4 L1818.4 320 L1821.6 319.8" stroke="#0000cd"/><path d="M1821.6 319.8 L1825.7 320.4 L1829.8 321" stroke="#dc143c"/><path d="M1829.8 321 L1833.9 320.5 L1838 319.8 L1841.4 319.5 L1844.9 319.4" stroke="#0000cd"/></g><rect x="5" y="138" width="61" height="18" fill="#d3d3d3" shape-rendering="crispEdges"/><text x="5.6" y="151.8" font-size="16.5" fill="#000" font-family="'Liberation Sans',sans-serif" textLength="47.5" lengthAdjust="spacingAndGlyphs">114.30</text><rect x="5" y="288" width="61" height="18" fill="#d3d3d3" shape-rendering="crispEdges"/><text x="5.6" y="301.8" font-size="16.5" fill="#000" font-family="'Liberation Sans',sans-serif" textLength="47.5" lengthAdjust="spacingAndGlyphs">114.20</text><rect x="5" y="438" width="61" height="18" fill="#d3d3d3" shape-rendering="crispEdges"/><text x="5.6" y="451.8" font-size="16.5" fill="#000" font-family="'Liberation Sans',sans-serif" textLength="47.5" lengthAdjust="spacingAndGlyphs">114.10</text><rect x="5" y="587" width="61" height="18" fill="#d3d3d3" shape-rendering="crispEdges"/><text x="5.6" y="600.8" font-size="16.5" fill="#000" font-family="'Liberation Sans',sans-serif" textLength="47.5" lengthAdjust="spacingAndGlyphs">114.00</text><rect x="5" y="736" width="61" height="18" fill="#d3d3d3" shape-rendering="crispEdges"/><text x="5.6" y="749.8" font-size="16.5" fill="#000" font-family="'Liberation Sans',sans-serif" textLength="47.5" lengthAdjust="spacingAndGlyphs">113.90</text><g shape-rendering="crispEdges"><path d="M5 544h1v8h-1zM9 544h1v11h-1zM13 537h1v11h-1zM17 536h1v16h-1zM21 526h1v31h-1zM25 522h1v49h-1zM29 526h1v26h-1zM33 532h1v17h-1zM37 525h1v36h-1zM41 507h1v59h-1zM45 508h1v28h-1zM49 526h1v14h-1zM53 526h1v17h-1zM57 523h1v12h-1zM61 531h1v11h-1zM65 526h1v16h-1zM69 526h1v14h-1zM73 511h1v27h-1zM77 508h1v22h-1zM81 523h1v11h-1zM85 528h1v25h-1zM89 545h1v10h-1zM93 548h1v25h-1zM97 559h1v27h-1zM105 577h1v15h-1zM109 582h1v8h-1zM113 578h1v33h-1zM117 574h1v23h-1zM121 576h1v2h-1zM125 568h1v31h-1zM129 561h1v11h-1zM133 560h1v27h-1zM137 565h1v27h-1zM141 564h1v5h-1zM145 556h1v22h-1zM149 562h1v17h-1zM153 515h1v56h-1zM157 517h1v29h-1zM161 517h1v8h-1zM165 488h1v41h-1zM169 476h1v24h-1zM173 475h1v13h-1zM177 476h1v22h-1zM181 478h1v12h-1zM189 476h1v32h-1zM193 500h1v24h-1zM197 495h1v27h-1zM201 494h1v20h-1zM205 494h1v24h-1zM209 495h1v9h-1zM213 486h1v12h-1zM217 484h1v26h-1zM221 496h1v15h-1zM225 501h1v8h-1zM229 500h1v22h-1zM233 514h1v18h-1zM237 515h1v21h-1zM241 503h1v19h-1zM245 498h1v21h-1zM249 488h1v30h-1zM253 482h1v26h-1zM257 457h1v37h-1zM261 461h1v6h-1zM265 436h1v31h-1zM269 442h1v14h-1zM273 443h1v21h-1zM277 457h1v6h-1zM281 459h1v23h-1zM285 461h1v24h-1zM289 461h1v39h-1zM293 423h1v56h-1zM297 468h1v14h-1zM301 473h1v36h-1zM305 505h1v25h-1zM309 518h1v12h-1zM313 523h1v9h-1zM317 522h1v7h-1zM321 523h1v19h-1zM325 528h1v15h-1zM329 516h1v23h-1zM333 511h1v10h-1zM337 488h1v30h-1zM341 449h1v49h-1zM345 464h1v13h-1zM349 459h1v19h-1zM353 459h1v16h-1zM357 453h1v19h-1zM361 465h1v9h-1zM365 469h1v10h-1zM369 471h1v7h-1zM373 460h1v17h-1zM377 461h1v19h-1zM381 458h1v30h-1zM385 459h1v5h-1zM389 428h1v37h-1zM397 440h1v24h-1zM401 451h1v12h-1zM405 453h1v22h-1zM409 450h1v24h-1zM413 452h1v21h-1zM417 446h1v33h-1zM421 439h1v28h-1zM425 441h1v33h-1zM429 402h1v46h-1zM433 406h1v14h-1zM437 387h1v38h-1zM441 396h1v14h-1zM445 396h1v14h-1zM449 409h1v23h-1zM453 399h1v33h-1zM457 397h1v22h-1zM461 394h1v23h-1zM465 387h1v12h-1zM469 386h1v10h-1zM473 393h1v18h-1zM477 385h1v26h-1zM481 371h1v20h-1zM485 364h1v15h-1zM489 350h1v29h-1zM493 346h1v20h-1zM497 320h1v38h-1zM501 329h1v23h-1zM505 340h1v10h-1zM509 326h1v17h-1zM513 325h1v18h-1zM517 332h1v30h-1zM521 353h1v28h-1zM525 365h1v18h-1zM529 378h1v8h-1zM533 375h1v9h-1zM537 366h1v16h-1zM541 359h1v17h-1zM545 360h1v18h-1zM549 363h1v20h-1zM553 356h1v18h-1zM557 365h1v23h-1zM561 364h1v14h-1zM565 370h1v16h-1zM569 378h1v10h-1zM573 372h1v13h-1zM577 362h1v17h-1zM581 369h1v5h-1zM585 367h1v7h-1zM589 370h1v12h-1zM593 373h1v6h-1zM597 370h1v15h-1zM601 374h1v9h-1zM605 374h1v16h-1zM609 374h1v4h-1zM613 366h1v12h-1zM617 359h1v19h-1zM621 366h1v34h-1zM625 367h1v7h-1zM629 352h1v24h-1zM633 344h1v19h-1zM637 345h1v12h-1zM641 309h1v51h-1zM645 313h1v5h-1zM649 300h1v22h-1zM653 297h1v10h-1zM657 296h1v12h-1zM661 284h1v28h-1zM665 282h1v25h-1zM669 268h1v30h-1zM677 268h1v17h-1zM681 252h1v22h-1zM685 254h1v25h-1zM689 269h1v8h-1zM693 271h1v12h-1zM697 275h1v22h-1zM701 278h1v16h-1zM705 252h1v33h-1zM709 241h1v24h-1zM713 242h1v14h-1zM717 252h1v15h-1zM721 254h1v19h-1zM725 258h1v20h-1zM729 259h1v18h-1zM733 251h1v18h-1zM737 255h1v11h-1zM741 258h1v12h-1zM745 256h1v16h-1zM749 254h1v8h-1zM753 249h1v16h-1zM757 242h1v14h-1zM761 242h1v20h-1zM765 247h1v8h-1zM769 246h1v18h-1zM773 261h1v9h-1zM777 253h1v29h-1zM781 273h1v23h-1zM785 280h1v10h-1zM789 275h1v21h-1zM793 292h1v29h-1zM797 303h1v11h-1zM801 306h1v17h-1zM805 303h1v9h-1zM809 298h1v12h-1zM817 303h1v4h-1zM821 301h1v22h-1zM825 318h1v15h-1zM829 318h1v30h-1zM833 335h1v9h-1zM837 334h1v10h-1zM841 335h1v19h-1zM845 328h1v22h-1zM849 328h1v8h-1zM853 319h1v21h-1zM857 321h1v19h-1zM865 337h1v9h-1zM869 336h1v15h-1zM873 346h1v12h-1zM877 348h1v8h-1zM881 347h1v30h-1zM889 365h1v12h-1zM893 368h1v11h-1zM897 360h1v17h-1zM901 355h1v22h-1zM905 351h1v19h-1zM909 352h1v19h-1zM913 345h1v13h-1zM917 338h1v17h-1zM921 343h1v11h-1zM925 342h1v20h-1zM929 336h1v25h-1zM933 335h1v24h-1zM937 344h1v23h-1zM949 355h1v18h-1zM953 312h1v80h-1zM957 317h1v18h-1zM961 307h1v20h-1zM965 317h1v18h-1zM969 309h1v23h-1zM973 314h1v12h-1zM977 309h1v15h-1zM981 306h1v28h-1zM985 319h1v18h-1zM989 322h1v13h-1zM993 310h1v19h-1zM997 310h1v9h-1zM1001 307h1v11h-1zM1009 306h1v9h-1zM1013 300h1v14h-1zM1017 287h1v23h-1zM1021 290h1v19h-1zM1025 300h1v17h-1zM1029 300h1v24h-1zM1033 301h1v9h-1zM1037 296h1v16h-1zM1041 280h1v18h-1zM1045 278h1v8h-1zM1049 277h1v11h-1zM1057 261h1v21h-1zM1065 270h1v13h-1zM1069 273h1v3h-1zM1073 271h1v6h-1zM1077 261h1v14h-1zM1081 255h1v13h-1zM1085 254h1v6h-1zM1089 253h1v11h-1zM1093 261h1v11h-1zM1097 265h1v7h-1zM1101 268h1v17h-1zM1109 273h1v6h-1zM1113 270h1v8h-1zM1117 267h1v13h-1zM1121 273h1v9h-1zM1125 272h1v7h-1zM1129 265h1v12h-1zM1133 257h1v20h-1zM1137 274h1v4h-1zM1141 267h1v15h-1zM1145 263h1v9h-1zM1149 259h1v13h-1zM1153 264h1v17h-1zM1157 263h1v10h-1zM1161 257h1v15h-1zM1165 260h1v13h-1zM1169 264h1v8h-1zM1173 266h1v24h-1zM1181 274h1v6h-1zM1185 269h1v12h-1zM1189 264h1v10h-1zM1193 264h1v12h-1zM1197 271h1v9h-1zM1201 272h1v12h-1zM1205 277h1v11h-1zM1209 273h1v18h-1zM1217 276h1v26h-1zM1221 289h1v9h-1zM1225 293h1v5h-1zM1229 291h1v22h-1zM1233 300h1v13h-1zM1237 302h1v13h-1zM1241 283h1v26h-1zM1245 288h1v8h-1zM1249 291h1v9h-1zM1253 290h1v23h-1zM1261 309h1v10h-1zM1265 309h1v21h-1zM1269 310h1v20h-1zM1273 321h1v10h-1zM1277 324h1v11h-1zM1281 324h1v14h-1zM1285 326h1v17h-1zM1289 327h1v17h-1zM1293 325h1v15h-1zM1297 329h1v11h-1zM1301 326h1v12h-1zM1305 330h1v17h-1zM1309 340h1v15h-1zM1313 346h1v11h-1zM1317 351h1v11h-1zM1321 330h1v30h-1zM1325 336h1v17h-1zM1329 335h1v19h-1zM1333 333h1v11h-1zM1337 332h1v8h-1zM1341 308h1v38h-1zM1345 296h1v18h-1zM1349 286h1v17h-1zM1353 284h1v11h-1zM1357 277h1v23h-1zM1361 265h1v15h-1zM1365 266h1v7h-1zM1369 252h1v41h-1zM1373 281h1v8h-1zM1377 270h1v18h-1zM1381 268h1v41h-1zM1385 282h1v25h-1zM1389 292h1v13h-1zM1393 297h1v9h-1zM1397 287h1v25h-1zM1401 302h1v29h-1zM1405 320h1v13h-1zM1409 325h1v13h-1zM1413 323h1v18h-1zM1417 322h1v16h-1zM1421 329h1v11h-1zM1425 338h1v18h-1zM1429 341h1v14h-1zM1433 327h1v20h-1zM1441 321h1v17h-1zM1445 323h1v12h-1zM1449 328h1v9h-1zM1453 321h1v16h-1zM1457 321h1v22h-1zM1461 327h1v11h-1zM1469 333h1v19h-1zM1477 332h1v10h-1zM1481 322h1v33h-1zM1485 343h1v14h-1zM1489 344h1v13h-1zM1493 349h1v15h-1zM1497 360h1v4h-1zM1501 359h1v15h-1zM1505 365h1v12h-1zM1509 353h1v20h-1zM1513 350h1v16h-1zM1517 345h1v9h-1zM1521 347h1v3h-1zM1529 347h1v8h-1zM1533 347h1v18h-1zM1537 350h1v15h-1zM1541 344h1v17h-1zM1545 339h1v28h-1zM1549 360h1v21h-1zM1553 369h1v26h-1zM1557 375h1v13h-1zM1561 371h1v16h-1zM1565 372h1v28h-1zM1569 376h1v20h-1zM1573 368h1v24h-1zM1577 369h1v17h-1zM1581 355h1v36h-1zM1585 377h1v21h-1zM1589 394h1v14h-1zM1593 392h1v13h-1zM1597 380h1v14h-1zM1601 365h1v19h-1zM1605 341h1v42h-1zM1609 341h1v33h-1zM1613 355h1v22h-1zM1617 341h1v51h-1zM1621 322h1v36h-1zM1625 349h1v22h-1zM1629 353h1v15h-1zM1633 350h1v10h-1zM1637 324h1v30h-1zM1641 315h1v24h-1zM1645 307h1v16h-1zM1649 293h1v28h-1zM1653 299h1v38h-1zM1657 317h1v9h-1zM1661 290h1v38h-1zM1665 301h1v19h-1zM1669 291h1v27h-1zM1673 288h1v11h-1zM1677 296h1v38h-1zM1681 293h1v60h-1zM1685 281h1v27h-1zM1689 277h1v22h-1zM1693 287h1v15h-1zM1697 291h1v33h-1zM1701 315h1v23h-1zM1705 325h1v11h-1zM1709 321h1v33h-1zM1717 295h1v29h-1zM1721 280h1v35h-1zM1725 286h1v16h-1zM1729 289h1v24h-1zM1733 299h1v39h-1zM1737 329h1v11h-1zM1741 329h1v8h-1zM1745 327h1v9h-1zM1749 327h1v8h-1zM1753 331h1v23h-1zM1757 338h1v17h-1zM1761 326h1v16h-1zM1765 323h1v12h-1zM1769 320h1v12h-1zM1773 312h1v17h-1zM1777 312h1v11h-1zM1781 310h1v20h-1zM1785 317h1v13h-1zM1789 315h1v13h-1zM1793 314h1v11h-1zM1797 314h1v9h-1zM1801 312h1v15h-1zM1805 313h1v10h-1zM1809 314h1v13h-1zM1813 316h1v10h-1zM1821 315h1v8h-1zM1825 316h1v10h-1zM1833 320h1v4h-1zM1837 303h1v31h-1zM1841 305h1v13h-1zM1845 309h1v6h-1z" fill="#0e0e38"/><path d="M4 549h3v1h-3zM8 545h3v5h-3zM12 545h3v3h-3zM16 541h3v7h-3zM20 535h3v7h-3zM24 531h3v5h-3zM28 531h3v18h-3zM32 537h3v12h-3zM36 537h3v25h-3zM40 516h3v46h-3zM44 516h3v13h-3zM48 528h3v5h-3zM52 531h3v1h-3zM56 531h3v3h-3zM60 533h3v7h-3zM64 537h3v3h-3zM68 533h3v5h-3zM72 514h3v20h-3zM76 514h3v14h-3zM80 527h3v3h-3zM84 529h3v20h-3zM88 548h3v4h-3zM92 551h3v16h-3zM96 566h3v15h-3zM104 580h3v9h-3zM108 585h3v4h-3zM112 585h3v5h-3zM116 577h3v13h-3zM120 576h3v1h-3zM124 570h3v7h-3zM128 564h3v7h-3zM132 564h3v22h-3zM136 566h3v20h-3zM140 565h3v1h-3zM144 565h3v11h-3zM148 565h3v11h-3zM152 536h3v30h-3zM156 520h3v17h-3zM160 518h3v3h-3zM164 493h3v26h-3zM168 478h3v16h-3zM172 478h3v1h-3zM176 479h3v9h-3zM180 482h3v6h-3zM188 482h3v20h-3zM192 501h3v18h-3zM196 504h3v15h-3zM200 504h3v9h-3zM204 499h3v14h-3zM208 497h3v3h-3zM212 491h3v7h-3zM216 491h3v7h-3zM220 497h3v12h-3zM224 503h3v6h-3zM228 503h3v14h-3zM232 516h3v12h-3zM236 517h3v11h-3zM240 505h3v13h-3zM244 505h3v12h-3zM248 502h3v15h-3zM252 485h3v18h-3zM256 465h3v21h-3zM260 464h3v1h-3zM264 446h3v19h-3zM268 446h3v5h-3zM272 450h3v11h-3zM276 460h3v1h-3zM280 460h3v11h-3zM284 470h3v12h-3zM288 463h3v19h-3zM292 463h3v14h-3zM296 473h3v4h-3zM300 473h3v36h-3zM304 508h3v13h-3zM308 520h3v10h-3zM312 526h3v4h-3zM316 524h3v3h-3zM320 524h3v10h-3zM324 530h3v4h-3zM328 520h3v11h-3zM332 517h3v4h-3zM336 495h3v23h-3zM340 470h3v26h-3zM344 466h3v5h-3zM348 466h3v4h-3zM352 460h3v10h-3zM356 460h3v10h-3zM360 469h3v4h-3zM364 472h3v5h-3zM368 473h3v4h-3zM372 469h3v5h-3zM376 469h3v10h-3zM380 462h3v17h-3zM384 462h3v1h-3zM388 449h3v15h-3zM396 449h3v7h-3zM400 455h3v7h-3zM404 461h3v10h-3zM408 455h3v16h-3zM412 455h3v17h-3zM416 453h3v19h-3zM420 453h3v12h-3zM424 444h3v21h-3zM428 418h3v27h-3zM432 408h3v11h-3zM436 398h3v11h-3zM440 398h3v7h-3zM444 404h3v6h-3zM448 409h3v20h-3zM452 401h3v28h-3zM456 401h3v15h-3zM460 398h3v18h-3zM464 391h3v8h-3zM468 391h3v5h-3zM472 395h3v14h-3zM476 390h3v19h-3zM480 374h3v17h-3zM484 367h3v8h-3zM488 351h3v17h-3zM492 348h3v4h-3zM496 333h3v16h-3zM500 333h3v12h-3zM504 341h3v4h-3zM508 329h3v13h-3zM512 329h3v10h-3zM516 338h3v22h-3zM520 359h3v12h-3zM524 370h3v12h-3zM528 380h3v1h-3zM532 377h3v4h-3zM536 370h3v8h-3zM540 364h3v7h-3zM544 364h3v12h-3zM548 365h3v11h-3zM552 365h3v9h-3zM556 373h3v1h-3zM560 372h3v1h-3zM564 372h3v12h-3zM568 382h3v1h-3zM572 377h3v6h-3zM576 369h3v9h-3zM580 369h3v1h-3zM584 369h3v3h-3zM588 371h3v6h-3zM592 376h3v1h-3zM596 377h3v4h-3zM600 380h3v1h-3zM604 375h3v7h-3zM608 375h3v3h-3zM612 369h3v9h-3zM616 368h3v1h-3zM620 368h3v3h-3zM624 369h3v1h-3zM628 357h3v13h-3zM632 346h3v12h-3zM636 346h3v8h-3zM640 315h3v39h-3zM644 314h3v1h-3zM648 302h3v13h-3zM652 302h3v4h-3zM656 305h3v4h-3zM660 285h3v24h-3zM664 285h3v9h-3zM668 272h3v22h-3zM676 271h3v3h-3zM680 257h3v15h-3zM684 257h3v17h-3zM688 272h3v1h-3zM692 272h3v7h-3zM696 278h3v13h-3zM700 280h3v11h-3zM704 258h3v23h-3zM708 244h3v15h-3zM712 244h3v11h-3zM716 254h3v9h-3zM720 262h3v7h-3zM724 266h3v3h-3zM728 262h3v5h-3zM732 256h3v7h-3zM736 256h3v8h-3zM740 263h3v5h-3zM744 261h3v7h-3zM748 256h3v6h-3zM752 253h3v4h-3zM756 244h3v10h-3zM760 244h3v7h-3zM764 250h3v1h-3zM768 251h3v13h-3zM772 263h3v1h-3zM776 263h3v13h-3zM780 275h3v15h-3zM784 282h3v8h-3zM788 282h3v14h-3zM792 295h3v19h-3zM796 311h3v3h-3zM800 308h3v4h-3zM804 308h3v1h-3zM808 306h3v4h-3zM816 305h3v1h-3zM820 306h3v15h-3zM824 320h3v9h-3zM828 328h3v14h-3zM832 341h3v1h-3zM836 338h3v5h-3zM840 338h3v9h-3zM844 332h3v15h-3zM848 332h3v3h-3zM852 324h3v11h-3zM856 324h3v14h-3zM864 338h3v1h-3zM868 338h3v11h-3zM872 348h3v3h-3zM876 349h3v1h-3zM880 349h3v19h-3zM888 367h3v6h-3zM892 372h3v1h-3zM896 369h3v5h-3zM900 364h3v6h-3zM904 355h3v10h-3zM908 355h3v1h-3zM912 349h3v7h-3zM916 349h3v3h-3zM920 346h3v6h-3zM924 346h3v7h-3zM928 340h3v13h-3zM932 340h3v14h-3zM936 353h3v14h-3zM948 364h3v5h-3zM952 327h3v38h-3zM956 319h3v9h-3zM960 319h3v8h-3zM964 324h3v3h-3zM968 320h3v5h-3zM972 318h3v3h-3zM976 315h3v4h-3zM980 315h3v16h-3zM984 330h3v4h-3zM988 326h3v8h-3zM992 314h3v13h-3zM996 314h3v1h-3zM1000 310h3v6h-3zM1008 309h3v4h-3zM1012 305h3v8h-3zM1016 296h3v10h-3zM1020 296h3v10h-3zM1024 305h3v12h-3zM1028 304h3v13h-3zM1032 304h3v3h-3zM1036 297h3v10h-3zM1040 280h3v18h-3zM1044 280h3v1h-3zM1048 280h3v5h-3zM1056 275h3v8h-3zM1064 274h3v1h-3zM1068 274h3v1h-3zM1072 273h3v3h-3zM1076 265h3v9h-3zM1080 257h3v9h-3zM1084 257h3v1h-3zM1088 257h3v6h-3zM1092 262h3v8h-3zM1096 269h3v1h-3zM1100 270h3v7h-3zM1108 274h3v5h-3zM1112 274h3v3h-3zM1116 274h3v3h-3zM1120 274h3v1h-3zM1124 274h3v1h-3zM1128 266h3v9h-3zM1132 266h3v11h-3zM1136 276h3v1h-3zM1140 268h3v10h-3zM1144 265h3v4h-3zM1148 265h3v4h-3zM1152 268h3v3h-3zM1156 270h3v1h-3zM1160 261h3v10h-3zM1164 261h3v7h-3zM1168 267h3v4h-3zM1172 270h3v12h-3zM1180 277h3v3h-3zM1184 270h3v8h-3zM1188 266h3v5h-3zM1192 266h3v10h-3zM1196 273h3v3h-3zM1200 273h3v11h-3zM1204 282h3v1h-3zM1208 282h3v5h-3zM1216 285h3v10h-3zM1220 294h3v1h-3zM1224 293h3v1h-3zM1228 293h3v17h-3zM1232 305h3v5h-3zM1236 305h3v3h-3zM1240 293h3v15h-3zM1244 293h3v1h-3zM1248 294h3v3h-3zM1252 296h3v16h-3zM1260 311h3v1h-3zM1264 311h3v8h-3zM1268 318h3v6h-3zM1272 323h3v7h-3zM1276 328h3v1h-3zM1280 328h3v8h-3zM1284 334h3v1h-3zM1288 329h3v6h-3zM1292 329h3v5h-3zM1296 333h3v1h-3zM1300 334h3v1h-3zM1304 335h3v8h-3zM1308 342h3v12h-3zM1312 353h3v1h-3zM1316 354h3v5h-3zM1320 342h3v17h-3zM1324 342h3v4h-3zM1328 342h3v4h-3zM1332 339h3v4h-3zM1336 336h3v4h-3zM1340 312h3v25h-3zM1344 300h3v13h-3zM1348 289h3v12h-3zM1352 289h3v4h-3zM1356 279h3v14h-3zM1360 267h3v13h-3zM1364 267h3v6h-3zM1368 272h3v15h-3zM1372 284h3v3h-3zM1376 272h3v13h-3zM1380 272h3v32h-3zM1384 293h3v11h-3zM1388 293h3v12h-3zM1392 298h3v7h-3zM1396 298h3v13h-3zM1400 310h3v15h-3zM1404 324h3v9h-3zM1408 326h3v7h-3zM1412 326h3v12h-3zM1416 330h3v8h-3zM1420 330h3v9h-3zM1424 338h3v18h-3zM1428 345h3v11h-3zM1432 329h3v17h-3zM1440 326h3v6h-3zM1444 326h3v4h-3zM1448 329h3v6h-3zM1452 327h3v8h-3zM1456 327h3v9h-3zM1460 333h3v3h-3zM1468 335h3v7h-3zM1476 337h3v5h-3zM1480 337h3v16h-3zM1484 347h3v6h-3zM1488 347h3v5h-3zM1492 351h3v13h-3zM1496 362h3v1h-3zM1500 362h3v9h-3zM1504 368h3v3h-3zM1508 356h3v13h-3zM1512 352h3v5h-3zM1516 348h3v5h-3zM1520 348h3v1h-3zM1528 349h3v5h-3zM1532 351h3v3h-3zM1536 351h3v7h-3zM1540 348h3v10h-3zM1544 348h3v15h-3zM1548 362h3v14h-3zM1552 375h3v12h-3zM1556 382h3v5h-3zM1560 378h3v5h-3zM1564 378h3v16h-3zM1568 378h3v16h-3zM1572 372h3v7h-3zM1576 372h3v5h-3zM1580 376h3v7h-3zM1584 382h3v15h-3zM1588 396h3v6h-3zM1592 392h3v10h-3zM1596 381h3v12h-3zM1600 377h3v5h-3zM1604 349h3v29h-3zM1608 349h3v25h-3zM1612 357h3v17h-3zM1616 349h3v9h-3zM1620 349h3v9h-3zM1624 357h3v5h-3zM1628 359h3v3h-3zM1632 353h3v7h-3zM1636 334h3v20h-3zM1640 320h3v15h-3zM1644 308h3v13h-3zM1648 304h3v5h-3zM1652 304h3v22h-3zM1656 324h3v1h-3zM1660 305h3v20h-3zM1664 305h3v12h-3zM1668 293h3v24h-3zM1672 293h3v6h-3zM1676 298h3v29h-3zM1680 305h3v22h-3zM1684 289h3v17h-3zM1688 289h3v5h-3zM1692 293h3v7h-3zM1696 299h3v24h-3zM1700 322h3v12h-3zM1704 327h3v7h-3zM1708 322h3v6h-3zM1716 308h3v13h-3zM1720 293h3v16h-3zM1724 293h3v1h-3zM1728 294h3v10h-3zM1732 303h3v29h-3zM1736 331h3v6h-3zM1740 334h3v3h-3zM1744 330h3v5h-3zM1748 330h3v4h-3zM1752 333h3v17h-3zM1756 341h3v9h-3zM1760 333h3v9h-3zM1764 324h3v10h-3zM1768 324h3v4h-3zM1772 321h3v7h-3zM1776 314h3v8h-3zM1780 314h3v11h-3zM1784 318h3v7h-3zM1788 318h3v7h-3zM1792 318h3v7h-3zM1796 317h3v1h-3zM1800 317h3v6h-3zM1804 315h3v8h-3zM1808 315h3v12h-3zM1812 318h3v9h-3zM1820 318h3v4h-3zM1824 321h3v1h-3zM1832 320h3v4h-3zM1836 308h3v16h-3zM1840 308h3v5h-3zM1844 312h3v1h-3z" fill="#0e0e38"/><path d="M9 546h1v3h-1zM17 542h1v5h-1zM21 536h1v5h-1zM25 532h1v3h-1zM33 538h1v10h-1zM41 517h1v44h-1zM65 538h1v1h-1zM69 534h1v3h-1zM73 515h1v18h-1zM109 586h1v2h-1zM117 578h1v11h-1zM125 571h1v5h-1zM129 565h1v5h-1zM137 567h1v18h-1zM149 566h1v9h-1zM153 537h1v28h-1zM157 521h1v15h-1zM161 519h1v1h-1zM165 494h1v24h-1zM169 479h1v14h-1zM181 483h1v4h-1zM197 505h1v13h-1zM205 500h1v12h-1zM209 498h1v1h-1zM213 492h1v5h-1zM225 504h1v4h-1zM237 518h1v9h-1zM241 506h1v11h-1zM249 503h1v13h-1zM253 486h1v16h-1zM257 466h1v19h-1zM265 447h1v17h-1zM289 464h1v17h-1zM297 474h1v2h-1zM313 527h1v2h-1zM317 525h1v1h-1zM325 531h1v2h-1zM329 521h1v9h-1zM333 518h1v2h-1zM337 496h1v21h-1zM341 471h1v24h-1zM345 467h1v3h-1zM353 461h1v8h-1zM369 474h1v2h-1zM373 470h1v3h-1zM381 463h1v15h-1zM389 450h1v13h-1zM409 456h1v14h-1zM417 454h1v17h-1zM425 445h1v19h-1zM429 419h1v25h-1zM433 409h1v9h-1zM437 399h1v9h-1zM453 402h1v26h-1zM461 399h1v16h-1zM465 392h1v6h-1zM477 391h1v17h-1zM481 375h1v15h-1zM485 368h1v6h-1zM489 352h1v15h-1zM493 349h1v2h-1zM497 334h1v14h-1zM505 342h1v2h-1zM509 330h1v11h-1zM533 378h1v2h-1zM537 371h1v6h-1zM541 365h1v5h-1zM549 366h1v9h-1zM573 378h1v4h-1zM577 370h1v7h-1zM605 376h1v5h-1zM613 370h1v7h-1zM629 358h1v11h-1zM633 347h1v10h-1zM641 316h1v37h-1zM649 303h1v11h-1zM661 286h1v22h-1zM669 273h1v20h-1zM677 272h1v1h-1zM681 258h1v13h-1zM701 281h1v9h-1zM705 259h1v21h-1zM709 245h1v13h-1zM725 267h1v1h-1zM729 263h1v3h-1zM733 257h1v5h-1zM745 262h1v5h-1zM749 257h1v4h-1zM753 254h1v2h-1zM757 245h1v8h-1zM785 283h1v6h-1zM797 312h1v1h-1zM801 309h1v2h-1zM809 307h1v2h-1zM837 339h1v3h-1zM845 333h1v13h-1zM853 325h1v9h-1zM897 370h1v3h-1zM901 365h1v4h-1zM905 356h1v8h-1zM913 350h1v5h-1zM921 347h1v4h-1zM929 341h1v11h-1zM949 365h1v3h-1zM953 328h1v36h-1zM957 320h1v7h-1zM965 325h1v1h-1zM969 321h1v3h-1zM973 319h1v1h-1zM977 316h1v2h-1zM989 327h1v6h-1zM993 315h1v11h-1zM1001 311h1v4h-1zM1013 306h1v6h-1zM1017 297h1v8h-1zM1029 305h1v11h-1zM1037 298h1v8h-1zM1041 281h1v16h-1zM1057 276h1v6h-1zM1073 274h1v1h-1zM1077 266h1v7h-1zM1081 258h1v7h-1zM1109 275h1v3h-1zM1117 275h1v1h-1zM1129 267h1v7h-1zM1141 269h1v8h-1zM1145 266h1v2h-1zM1161 262h1v8h-1zM1181 278h1v1h-1zM1185 271h1v6h-1zM1189 267h1v3h-1zM1197 274h1v1h-1zM1233 306h1v3h-1zM1241 294h1v13h-1zM1289 330h1v4h-1zM1321 343h1v15h-1zM1329 343h1v2h-1zM1333 340h1v2h-1zM1337 337h1v2h-1zM1341 313h1v23h-1zM1345 301h1v11h-1zM1349 290h1v10h-1zM1357 280h1v12h-1zM1361 268h1v11h-1zM1373 285h1v1h-1zM1377 273h1v11h-1zM1385 294h1v9h-1zM1393 299h1v5h-1zM1409 327h1v5h-1zM1417 331h1v6h-1zM1429 346h1v9h-1zM1433 330h1v15h-1zM1441 327h1v4h-1zM1453 328h1v6h-1zM1461 334h1v1h-1zM1477 338h1v3h-1zM1485 348h1v4h-1zM1505 369h1v1h-1zM1509 357h1v11h-1zM1513 353h1v3h-1zM1517 349h1v3h-1zM1533 352h1v1h-1zM1541 349h1v8h-1zM1557 383h1v3h-1zM1561 379h1v3h-1zM1569 379h1v14h-1zM1573 373h1v5h-1zM1593 393h1v8h-1zM1597 382h1v10h-1zM1601 378h1v3h-1zM1605 350h1v27h-1zM1613 358h1v15h-1zM1617 350h1v7h-1zM1629 360h1v1h-1zM1633 354h1v5h-1zM1637 335h1v18h-1zM1641 321h1v13h-1zM1645 309h1v11h-1zM1649 305h1v3h-1zM1661 306h1v18h-1zM1669 294h1v22h-1zM1681 306h1v20h-1zM1685 290h1v15h-1zM1705 328h1v5h-1zM1709 323h1v4h-1zM1717 309h1v11h-1zM1721 294h1v14h-1zM1741 335h1v1h-1zM1745 331h1v3h-1zM1757 342h1v7h-1zM1761 334h1v7h-1zM1765 325h1v8h-1zM1773 322h1v5h-1zM1777 315h1v6h-1zM1785 319h1v5h-1zM1793 319h1v5h-1zM1805 316h1v6h-1zM1813 319h1v7h-1zM1837 309h1v14h-1z" fill="#f0f0f0"/><path d="M13 546h1v1h-1zM29 532h1v16h-1zM37 538h1v23h-1zM45 517h1v11h-1zM49 529h1v3h-1zM57 532h1v1h-1zM61 534h1v5h-1zM77 515h1v12h-1zM81 528h1v1h-1zM85 530h1v18h-1zM89 549h1v2h-1zM93 552h1v14h-1zM97 567h1v13h-1zM105 581h1v7h-1zM113 586h1v3h-1zM133 565h1v20h-1zM145 566h1v9h-1zM177 480h1v7h-1zM189 483h1v18h-1zM193 502h1v16h-1zM201 505h1v7h-1zM217 492h1v5h-1zM221 498h1v10h-1zM229 504h1v12h-1zM233 517h1v10h-1zM245 506h1v10h-1zM269 447h1v3h-1zM273 451h1v9h-1zM281 461h1v9h-1zM285 471h1v10h-1zM293 464h1v12h-1zM301 474h1v34h-1zM305 509h1v11h-1zM309 521h1v8h-1zM321 525h1v8h-1zM349 467h1v2h-1zM357 461h1v8h-1zM361 470h1v2h-1zM365 473h1v3h-1zM377 470h1v8h-1zM397 450h1v5h-1zM401 456h1v5h-1zM405 462h1v8h-1zM413 456h1v15h-1zM421 454h1v10h-1zM441 399h1v5h-1zM445 405h1v4h-1zM449 410h1v18h-1zM457 402h1v13h-1zM469 392h1v3h-1zM473 396h1v12h-1zM501 334h1v10h-1zM513 330h1v8h-1zM517 339h1v20h-1zM521 360h1v10h-1zM525 371h1v10h-1zM545 365h1v10h-1zM553 366h1v7h-1zM565 373h1v10h-1zM585 370h1v1h-1zM589 372h1v4h-1zM597 378h1v2h-1zM609 376h1v1h-1zM621 369h1v1h-1zM637 347h1v6h-1zM653 303h1v2h-1zM657 306h1v2h-1zM665 286h1v7h-1zM685 258h1v15h-1zM693 273h1v5h-1zM697 279h1v11h-1zM713 245h1v9h-1zM717 255h1v7h-1zM721 263h1v5h-1zM737 257h1v6h-1zM741 264h1v3h-1zM761 245h1v5h-1zM769 252h1v11h-1zM777 264h1v11h-1zM781 276h1v13h-1zM789 283h1v12h-1zM793 296h1v17h-1zM821 307h1v13h-1zM825 321h1v7h-1zM829 329h1v12h-1zM841 339h1v7h-1zM849 333h1v1h-1zM857 325h1v12h-1zM869 339h1v9h-1zM873 349h1v1h-1zM881 350h1v17h-1zM889 368h1v4h-1zM917 350h1v1h-1zM925 347h1v5h-1zM933 341h1v12h-1zM937 354h1v12h-1zM961 320h1v6h-1zM981 316h1v14h-1zM985 331h1v2h-1zM1009 310h1v2h-1zM1021 297h1v8h-1zM1025 306h1v10h-1zM1033 305h1v1h-1zM1049 281h1v3h-1zM1089 258h1v4h-1zM1093 263h1v6h-1zM1101 271h1v5h-1zM1113 275h1v1h-1zM1133 267h1v9h-1zM1149 266h1v2h-1zM1153 269h1v1h-1zM1165 262h1v5h-1zM1169 268h1v2h-1zM1173 271h1v10h-1zM1193 267h1v8h-1zM1201 274h1v9h-1zM1209 283h1v3h-1zM1217 286h1v8h-1zM1229 294h1v15h-1zM1237 306h1v1h-1zM1249 295h1v1h-1zM1253 297h1v14h-1zM1265 312h1v6h-1zM1269 319h1v4h-1zM1273 324h1v5h-1zM1281 329h1v6h-1zM1293 330h1v3h-1zM1305 336h1v6h-1zM1309 343h1v10h-1zM1317 355h1v3h-1zM1325 343h1v2h-1zM1353 290h1v2h-1zM1365 268h1v4h-1zM1369 273h1v13h-1zM1381 273h1v30h-1zM1389 294h1v10h-1zM1397 299h1v11h-1zM1401 311h1v13h-1zM1405 325h1v7h-1zM1413 327h1v10h-1zM1421 331h1v7h-1zM1425 339h1v16h-1zM1445 327h1v2h-1zM1449 330h1v4h-1zM1457 328h1v7h-1zM1469 336h1v5h-1zM1481 338h1v14h-1zM1489 348h1v3h-1zM1493 352h1v11h-1zM1501 363h1v7h-1zM1529 350h1v3h-1zM1537 352h1v5h-1zM1545 349h1v13h-1zM1549 363h1v12h-1zM1553 376h1v10h-1zM1565 379h1v14h-1zM1577 373h1v3h-1zM1581 377h1v5h-1zM1585 383h1v13h-1zM1589 397h1v4h-1zM1609 350h1v23h-1zM1621 350h1v7h-1zM1625 358h1v3h-1zM1653 305h1v20h-1zM1665 306h1v10h-1zM1673 294h1v4h-1zM1677 299h1v27h-1zM1689 290h1v3h-1zM1693 294h1v5h-1zM1697 300h1v22h-1zM1701 323h1v10h-1zM1729 295h1v8h-1zM1733 304h1v27h-1zM1737 332h1v4h-1zM1749 331h1v2h-1zM1753 334h1v15h-1zM1769 325h1v2h-1zM1781 315h1v9h-1zM1789 319h1v5h-1zM1801 318h1v4h-1zM1809 316h1v10h-1zM1821 319h1v2h-1zM1833 321h1v2h-1zM1841 309h1v3h-1z" fill="#808080"/><path d="M101 570v12M185 481v6M393 443v11M673 270v7M813 299v10M861 333v11M885 365v5M941 359v16M945 359v16M1005 305v6M1053 277v12M1061 268v10M1105 270v10M1177 276v6M1213 284v5M1257 307v11M1437 326v8M1465 330v9M1473 336v9M1525 343v7M1713 310v15M1817 315v5M1829 317v8" stroke="#00e000" stroke-width="1" fill="none" transform="translate(0.5,0)"/><path d="M100 580h3v1h-3zM184 482h3v1h-3zM392 449h3v1h-3zM672 273h3v1h-3zM812 305h3v1h-3zM860 338h3v1h-3zM884 367h3v1h-3zM940 366h3v1h-3zM944 368h3v1h-3zM1004 309h3v1h-3zM1052 282h3v1h-3zM1060 275h3v1h-3zM1104 278h3v1h-3zM1176 279h3v1h-3zM1212 285h3v1h-3zM1256 312h3v1h-3zM1436 331h3v1h-3zM1464 335h3v1h-3zM1472 341h3v1h-3zM1524 349h3v1h-3zM1712 320h3v1h-3zM1816 318h3v1h-3zM1828 320h3v1h-3z" fill="#00e000"/></g><path d="M8 12H19L13.5 18Z" fill="#000"/><text x="26.2" y="21" font-size="13.4" fill="#000" font-family="'DejaVu Sans Condensed','Liberation Sans',sans-serif" textLength="71.5" lengthAdjust="spacingAndGlyphs">USDJPY,M1</text></g><g shape-rendering="crispEdges"><rect x="5" y="812" width="212" height="10" fill="#006400"/><rect x="217" y="812" width="1629" height="10" fill="#800000"/><rect x="4" y="4" width="1843" height="1" fill="#000"/><rect x="4" y="4" width="1" height="819" fill="#000"/><rect x="1846" y="4" width="1" height="819" fill="#000"/><rect x="4" y="822" width="1843" height="1" fill="#000"/><rect x="1847" y="43" width="2" height="1" fill="#000"/><rect x="1847" y="111" width="2" height="1" fill="#000"/><rect x="1847" y="178" width="2" height="1" fill="#000"/><rect x="1847" y="245" width="2" height="1" fill="#000"/><rect x="1847" y="312" width="2" height="1" fill="#000"/><rect x="1847" y="380" width="2" height="1" fill="#000"/><rect x="1847" y="447" width="2" height="1" fill="#000"/><rect x="1847" y="514" width="2" height="1" fill="#000"/><rect x="1847" y="582" width="2" height="1" fill="#000"/><rect x="1847" y="649" width="2" height="1" fill="#000"/><rect x="1847" y="716" width="2" height="1" fill="#000"/><rect x="1847" y="783" width="2" height="1" fill="#000"/><rect x="5" y="823" width="1" height="3" fill="#000"/><rect x="133" y="823" width="1" height="3" fill="#000"/><rect x="261" y="823" width="1" height="3" fill="#000"/><rect x="389" y="823" width="1" height="3" fill="#000"/><rect x="517" y="823" width="1" height="3" fill="#000"/><rect x="645" y="823" width="1" height="3" fill="#000"/><rect x="773" y="823" width="1" height="3" fill="#000"/><rect x="901" y="823" width="1" height="3" fill="#000"/><rect x="1029" y="823" width="1" height="3" fill="#000"/><rect x="1157" y="823" width="1" height="3" fill="#000"/><rect x="1285" y="823" width="1" height="3" fill="#000"/><rect x="1413" y="823" width="1" height="3" fill="#000"/><rect x="1541" y="823" width="1" height="3" fill="#000"/><rect x="1669" y="823" width="1" height="3" fill="#000"/><rect x="1797" y="823" width="1" height="3" fill="#000"/><rect x="1844" y="73" width="4" height="57" fill="#dc143c"/></g><g clip-path="url(#cp2b)" font-size="8.5" fill="#fff" font-family="'Liberation Sans',sans-serif" text-anchor="middle" letter-spacing="-0.5"><text x="37.5" y="820.5">8:15</text><text x="97.5" y="820.5">8:30</text><text x="157.5" y="820.5">8:45</text><text x="217.5" y="820.5">9:00</text><text x="277.5" y="820.5">9:15</text><text x="337.5" y="820.5">9:30</text><text x="397.5" y="820.5">9:45</text><text x="457.5" y="820.5">10:00</text><text x="517.5" y="820.5">10:15</text><text x="577.5" y="820.5">10:30</text><text x="637.5" y="820.5">10:45</text><text x="697.5" y="820.5">11:00</text><text x="757.5" y="820.5">11:15</text><text x="817.5" y="820.5">11:30</text><text x="877.5" y="820.5">11:45</text><text x="937.5" y="820.5">12:00</text><text x="997.5" y="820.5">12:15</text><text x="1057.5" y="820.5">12:30</text><text x="1117.5" y="820.5">12:45</text><text x="1177.5" y="820.5">13:00</text><text x="1237.5" y="820.5">13:15</text><text x="1297.5" y="820.5">13:30</text><text x="1357.5" y="820.5">13:45</text><text x="1417.5" y="820.5">14:00</text><text x="1477.5" y="820.5">14:15</text><text x="1537.5" y="820.5">14:30</text><text x="1597.5" y="820.5">14:45</text><text x="1657.5" y="820.5">15:00</text><text x="1717.5" y="820.5">15:15</text><text x="1777.5" y="820.5">15:30</text><text x="1837.5" y="820.5">15:45</text></g><defs><clipPath id="cp2b"><rect x="5" y="810" width="1841" height="14"/></clipPath></defs><text x="1853" y="49.4" font-size="13.4" fill="#000" font-family="'DejaVu Sans Condensed','Liberation Sans',sans-serif" textLength="51" lengthAdjust="spacingAndGlyphs">114.369</text><text x="1853" y="116.7" font-size="13.4" fill="#000" font-family="'DejaVu Sans Condensed','Liberation Sans',sans-serif" textLength="51" lengthAdjust="spacingAndGlyphs">114.324</text><text x="1853" y="184" font-size="13.4" fill="#000" font-family="'DejaVu Sans Condensed','Liberation Sans',sans-serif" textLength="51" lengthAdjust="spacingAndGlyphs">114.279</text><text x="1853" y="251.3" font-size="13.4" fill="#000" font-family="'DejaVu Sans Condensed','Liberation Sans',sans-serif" textLength="51" lengthAdjust="spacingAndGlyphs">114.234</text><text x="1853" y="318.5" font-size="13.4" fill="#000" font-family="'DejaVu Sans Condensed','Liberation Sans',sans-serif" textLength="51" lengthAdjust="spacingAndGlyphs">114.189</text><text x="1853" y="385.8" font-size="13.4" fill="#000" font-family="'DejaVu Sans Condensed','Liberation Sans',sans-serif" textLength="51" lengthAdjust="spacingAndGlyphs">114.144</text><text x="1853" y="453.1" font-size="13.4" fill="#000" font-family="'DejaVu Sans Condensed','Liberation Sans',sans-serif" textLength="51" lengthAdjust="spacingAndGlyphs">114.099</text><text x="1853" y="520.4" font-size="13.4" fill="#000" font-family="'DejaVu Sans Condensed','Liberation Sans',sans-serif" textLength="51" lengthAdjust="spacingAndGlyphs">114.054</text><text x="1853" y="587.6" font-size="13.4" fill="#000" font-family="'DejaVu Sans Condensed','Liberation Sans',sans-serif" textLength="51" lengthAdjust="spacingAndGlyphs">114.009</text><text x="1853" y="654.9" font-size="13.4" fill="#000" font-family="'DejaVu Sans Condensed','Liberation Sans',sans-serif" textLength="51" lengthAdjust="spacingAndGlyphs">113.964</text><text x="1853" y="722.2" font-size="13.4" fill="#000" font-family="'DejaVu Sans Condensed','Liberation Sans',sans-serif" textLength="51" lengthAdjust="spacingAndGlyphs">113.919</text><text x="1853" y="789.5" font-size="13.4" fill="#000" font-family="'DejaVu Sans Condensed','Liberation Sans',sans-serif" textLength="51" lengthAdjust="spacingAndGlyphs">113.874</text><rect x="1848" y="590" width="62" height="17" fill="#ffd700" shape-rendering="crispEdges"/><text x="1853" y="604" font-size="13.4" fill="#fff" font-family="'DejaVu Sans Condensed','Liberation Sans',sans-serif" textLength="51" lengthAdjust="spacingAndGlyphs">114.000</text><text x="4.5" y="839.8" font-size="13.4" fill="#000" font-family="'DejaVu Sans Condensed','Liberation Sans',sans-serif" textLength="72" lengthAdjust="spacingAndGlyphs">4 Nov 2021</text><text x="132.5" y="839.8" font-size="13.4" fill="#000" font-family="'DejaVu Sans Condensed','Liberation Sans',sans-serif" textLength="77.5" lengthAdjust="spacingAndGlyphs">4 Nov 02:39</text><text x="260.5" y="839.8" font-size="13.4" fill="#000" font-family="'DejaVu Sans Condensed','Liberation Sans',sans-serif" textLength="77.5" lengthAdjust="spacingAndGlyphs">4 Nov 03:11</text><text x="388.5" y="839.8" font-size="13.4" fill="#000" font-family="'DejaVu Sans Condensed','Liberation Sans',sans-serif" textLength="77.5" lengthAdjust="spacingAndGlyphs">4 Nov 03:43</text><text x="516.5" y="839.8" font-size="13.4" fill="#000" font-family="'DejaVu Sans Condensed','Liberation Sans',sans-serif" textLength="77.5" lengthAdjust="spacingAndGlyphs">4 Nov 04:15</text><text x="644.5" y="839.8" font-size="13.4" fill="#000" font-family="'DejaVu Sans Condensed','Liberation Sans',sans-serif" textLength="77.5" lengthAdjust="spacingAndGlyphs">4 Nov 04:47</text><text x="772.5" y="839.8" font-size="13.4" fill="#000" font-family="'DejaVu Sans Condensed','Liberation Sans',sans-serif" textLength="77.5" lengthAdjust="spacingAndGlyphs">4 Nov 05:19</text><text x="900.5" y="839.8" font-size="13.4" fill="#000" font-family="'DejaVu Sans Condensed','Liberation Sans',sans-serif" textLength="77.5" lengthAdjust="spacingAndGlyphs">4 Nov 05:51</text><text x="1028.5" y="839.8" font-size="13.4" fill="#000" font-family="'DejaVu Sans Condensed','Liberation Sans',sans-serif" textLength="77.5" lengthAdjust="spacingAndGlyphs">4 Nov 06:23</text><text x="1156.5" y="839.8" font-size="13.4" fill="#000" font-family="'DejaVu Sans Condensed','Liberation Sans',sans-serif" textLength="77.5" lengthAdjust="spacingAndGlyphs">4 Nov 06:55</text><text x="1284.5" y="839.8" font-size="13.4" fill="#000" font-family="'DejaVu Sans Condensed','Liberation Sans',sans-serif" textLength="77.5" lengthAdjust="spacingAndGlyphs">4 Nov 07:27</text><text x="1412.5" y="839.8" font-size="13.4" fill="#000" font-family="'DejaVu Sans Condensed','Liberation Sans',sans-serif" textLength="77.5" lengthAdjust="spacingAndGlyphs">4 Nov 07:59</text><text x="1540.5" y="839.8" font-size="13.4" fill="#000" font-family="'DejaVu Sans Condensed','Liberation Sans',sans-serif" textLength="77.5" lengthAdjust="spacingAndGlyphs">4 Nov 08:31</text><text x="1668.5" y="839.8" font-size="13.4" fill="#000" font-family="'DejaVu Sans Condensed','Liberation Sans',sans-serif" textLength="77.5" lengthAdjust="spacingAndGlyphs">4 Nov 09:03</text><text x="1796.5" y="839.8" font-size="13.4" fill="#000" font-family="'DejaVu Sans Condensed','Liberation Sans',sans-serif" textLength="77.5" lengthAdjust="spacingAndGlyphs">4 Nov 09:35</text></svg><svg x="0" y="851" width="1920" height="851" viewBox="0 0 1920 851" overflow="hidden"><g shape-rendering="crispEdges"><rect x="0" y="0" width="1920" height="851" fill="#fff"/><rect x="0" y="0" width="1919" height="1" fill="#a0a0a0"/><rect x="0" y="0" width="1" height="850" fill="#a0a0a0"/><rect x="1" y="1" width="1917" height="1" fill="#696969"/><rect x="1" y="1" width="1" height="848" fill="#696969"/><rect x="1" y="849" width="1918" height="1" fill="#e3e3e3"/><rect x="1918" y="1" width="1" height="849" fill="#e3e3e3"/></g><defs><clipPath id="cp3"><rect x="5" y="5" width="1841" height="817"/></clipPath></defs><g clip-path="url(#cp3)"><g shape-rendering="crispEdges" fill="#ffb6c1"><rect x="4" y="4" width="65" height="184"/><rect x="105" y="97" width="512" height="551"/><rect x="1649" y="283" width="72" height="192"/></g><path d="M13.5 6V812M73.5 6V812M133.5 6V812M193.5 6V812M253.5 6V812M313.5 6V812M373.5 6V812M433.5 6V812M493.5 6V812M553.5 6V812M613.5 6V812M673.5 6V812M733.5 6V812M793.5 6V812M853.5 6V812M913.5 6V812M973.5 6V812M1033.5 6V812M1093.5 6V812M1153.5 6V812M1213.5 6V812M1273.5 6V812M1333.5 6V812M1393.5 6V812M1453.5 6V812M1513.5 6V812M1573.5 6V812M1633.5 6V812M1693.5 6V812M1753.5 6V812M1813.5 6V812" stroke="#e0e0fa" stroke-width="1" stroke-dasharray="3 3" fill="none" shape-rendering="crispEdges"/><path d="M65 626.5H1846" stroke="#ffd700" stroke-width="1" stroke-dasharray="3 3" fill="none" shape-rendering="crispEdges"/><path d="M431.5 4.5 L434.5 42.5 L669.5 42.5 L674.5 95.5 L909.5 95.5 L914.5 152.5 L1149.5 152.5 L1154.5 191.5 L1389.5 191.5 L1394.5 215.5 L1629.5 215.5 L1634.5 249.5 L1846.5 249.5" stroke="#000" stroke-width="1" fill="none" shape-rendering="crispEdges"/><g fill="none" stroke-width="2" stroke-linejoin="round" stroke-linecap="butt" shape-rendering="crispEdges"><path d="M4.9 97.1 L8.2 98.3 L11.4 99.9 L14.7 101.8 L18 103.8 L21.2 105.8 L24.5 107.8 L27.6 109.1 L30.6 110.5 L33.7 111.9 L36.7 113.3 L39.8 114.7 L42.9 116.1 L45.9 117.5 L49 118.8 L52.4 120.5 L55.8 122.1 L59.2 123.7 L62.6 125.3 L66 126.8 L69.4 128.2 L72.4 130.1 L75.5 131.8 L78.6 133.5 L81.6 135.1 L84.7 135.9 L87.8 136.6 L90.8 137.4 L93.9 138.1 L96.9 138.8 L100 139.6 L103.1 140.4 L106.1 141.2 L109.2 142.1 L112.2 143.1 L115.3 144.1 L118.4 145.1 L121.4 146.2 L124.5 147.2 L127.6 148.3 L130.6 149.4 L133.9 150.2 L137.1 151.1 L140.4 151.9 L143.7 152.7 L146.9 153.5 L150.2 154.4 L153.5 155.3 L156.7 156.3 L160 157.3 L163.3 158.4 L166.5 159.5 L169.8 160.8 L173.1 162.2 L176.3 163.5 L179.6 165 L182.9 166.4 L186.1 167.8 L189.4 169.2 L192.7 170.6 L195.9 171.8 L199.2 173.1 L202.4 174.3 L205.7 175.4 L209 176.6 L212.2 177.7 L215.5 178.8 L218.8 179.9 L222 180.9 L225.3 181.9 L228.6 182.9 L231.8 183.7 L235.1 184.5 L238.4 185.2 L241.6 185.8 L244.9 186.5 L248.2 187.1 L251.4 187.8 L254.7 188.5 L258 189.3 L261.2 190.2 L264.5 191.2 L267.8 192.3 L271 193.5 L274.3 194.7 L277.6 196 L280.8 197.3 L284.1 198.6 L287.3 199.9 L290.6 201.2 L293.9 202.4 L297.1 203.7 L300.4 204.9 L303.7 206.2 L306.9 207.4 L310.2 208.6 L313.5 209.9 L316.7 211.2 L320 212.6 L323.3 214 L326.5 215.5 L329.8 217.1 L333.1 218.7 L336.3 220.4 L339.6 222.2 L342.9 224 L346.1 225.8 L349.4 227.7 L352.7 229.5 L355.9 231.3 L359.2 233.1 L362.4 234.8 L365.7 236.6 L369 238.5 L372.2 240.3 L375.5 242.1 L378.8 243.9 L382 245.7 L385.3 247.4 L388.6 249 L391.8 250.6 L394.9 252.5 L398 254.2 L401 255.9 L404.1 257.5 L407.1 259.1 L410.2 260.6 L413.3 262.1 L416.3 263.7 L419.7 265.7 L423.1 267.5 L426.5 269.4 L429.9 271.2 L433.3 273.1 L436.7 275.1 L440 277.6 L443.3 280.1 L446.5 282.6 L449.8 285.3 L453.1 288.2 L456.3 291 L459.6 293.9 L462.9 296.9 L466.1 300.4 L469.4 304.5 L472.8 308.5 L476.2 313.1 L479.6 318 L483 323.1 L486.4 328.2 L489.8 333.1 L493.1 338.8 L496.3 344.5 L499.6 350.2 L502.9 355.9 L506.1 361.6 L509.4 367.2 L512.7 372.8 L515.9 378.3 L519.2 384.1 L522.4 390.2 L525.9 395.7 L529.3 401.5 L532.7 407.6 L536.1 413.6 L539.5 419.4 L542.9 424.9 L546.3 430 L549.7 434.8 L553.1 439.4 L556.5 444 L559.9 448.7 L563.3 453.5 L566.7 458.5 L570.1 463.6 L573.5 468.8 L576.9 474 L580.3 479.1 L583.7 484.1 L587.1 489 L590.5 494 L593.9 498.9 L597.3 503.7 L600.7 508.3 L604.1 512.7 L607.5 516.7 L610.9 520.6 L614.3 524.3 L617.7 527.8 L621.1 531.4 L624.5 535.1 L627.9 538.9 L631.3 542.7 L634.7 546.5 L638.1 550.2 L641.5 553.9 L644.9 557.6 L648.3 561.1 L651.7 564.6 L655.1 568 L658.5 571.4 L661.9 574.7 L665.3 578 L668.7 581.1 L672.1 584 L675.5 586.9 L678.9 589.8 L682.3 592.9 L685.7 596.3 L688.8 599.1 L691.8 602.1 L694.9 605.2 L698 608.4 L701 611.7 L704.1 614.8 L707.1 617.9 L710.2 620.8 L713.3 623.6 L716.3 626.3 L719.4 628.9 L722.4 631.4 L725.5 633.9 L728.6 636.4 L731.6 638.8 L734.7 641.2 L737.8 643.6 L740.8 646 L743.9 648.4 L746.9 650.7 L750 652.9 L753.1 655.2 L756.1 657.4 L759.2 659.6 L762.2 661.7 L765.3 663.9 L768.4 666 L771.4 668 L774.5 670 L777.6 672 L780.6 674 L783.7 675.9 L786.7 677.8 L789.8 679.6 L792.9 681.4 L795.9 683.2 L799 684.9 L802 686.7 L805.1 688.4 L808.2 690.2 L811.3 691.8 L814.5 693.5 L817.7 695.2 L820.9 696.9 L824 698.6 L827.2 700.2 L830.4 701.7 L833.6 703.2 L836.7 704.5 L840.1 706.2 L843.5 707.7 L846.9 709 L850.3 710.2 L853.7 711.4 L857.1 712.7 L860.5 714 L863.9 715.3 L867.3 716.6 L870.7 717.9 L874.1 719 L877.6 720 L880.8 720.7 L884 721.3 L887.2 721.9 L890.4 722.3 L893.6 722.7 L896.8 723 L900 723.3" stroke="#dc143c"/><path d="M900 723.3 L903.1 723.5 L906.1 723.5 L909.2 723.3 L912.2 723.3 L915.5 723.3 L918.7 723.3 L921.9 723.2 L925.1 723.2 L928.3 723.2 L931.5 723.2 L934.7 723.3" stroke="#0000cd"/><path d="M934.7 723.3 L936.7 723.7 L939.9 723.9 L943.1 724.3 L946.4 724.7 L949.6 725.1 L952.8 725.6 L956 726.1 L959.2 726.6 L962.4 727.1 L965.6 727.6 L968.8 728.1 L972 728.6 L975.2 729 L978.4 729.4 L981.6 729.8 L984.8 730.1 L987.9 730.4 L991.1 730.7 L994.2 730.9 L997.3 731.1 L1000.5 731.3 L1003.6 731.4 L1006.8 731.6 L1009.9 731.8 L1013 732 L1016.2 732.2 L1019.3 732.4 L1022.4 732.7 L1025.6 732.9 L1028.7 733.2 L1031.9 733.5 L1035 733.8 L1038.1 734.1 L1041.3 734.4 L1044.4 734.7 L1047.6 735 L1050.7 735.4 L1053.8 735.7 L1057 736 L1060.1 736.4 L1063.3 736.7 L1066.4 737.1 L1069.5 737.5 L1072.7 737.9 L1075.8 738.3 L1079 738.7 L1082.1 739.1 L1085.2 739.5 L1088.4 739.9 L1091.5 740.3 L1094.7 740.7 L1097.8 741 L1100.9 741.3 L1104.1 741.6 L1107.1 742 L1110.2 742.4 L1113.3 742.7 L1116.3 743 L1119.4 743.2 L1122.4 743.4 L1125.5 743.5 L1128.6 743.7 L1131.6 743.8 L1134.7 743.8 L1137.8 743.8 L1140.8 743.8 L1143.9 743.8 L1146.9 743.7 L1150 743.7 L1153.1 743.7" stroke="#dc143c"/><path d="M1153.1 743.7 L1157.1 743.7 L1160.3 743.6 L1163.5 743.6 L1166.7 743.6 L1169.8 743.6 L1173 743.5 L1176.2 743.5 L1179.4 743.3 L1182.5 743.1 L1185.7 742.9 L1188.8 742.5 L1191.8 742 L1194.9 741.5 L1198 740.9 L1201 740.2 L1204.1 739.5 L1207.1 738.8 L1210.2 738 L1213.3 737.1 L1216.3 736.2 L1219.4 735.3 L1222.4 734.3 L1225.5 733.2 L1228.6 732.1 L1231.6 731 L1234.7 729.8 L1237.8 728.5 L1240.8 727.2 L1243.9 725.7 L1246.9 724.3 L1250 722.8 L1253.1 721.3 L1256.1 719.8 L1259.2 718.4 L1262.2 716.9 L1265.3 715.5 L1268.4 714.1 L1271.4 712.6 L1274.5 711.2 L1277.6 709.8 L1280.6 708.3 L1283.7 706.9 L1286.7 705.5 L1289.8 704 L1292.9 702.6 L1295.9 701.1 L1299 699.7 L1302 698.3 L1305.1 697.1 L1308.2 695.9 L1311.2 694.9 L1314.3 694.1 L1317.3 693.4 L1320.4 692.7 L1323.5 692 L1326.5 691.4 L1329.6 690.6 L1332.7 689.8 L1335.7 688.9 L1338.8 687.9 L1341.8 686.9 L1344.9 685.9 L1348 684.8 L1351 683.8 L1354.1 682.7 L1357.1 681.6 L1360.2 680.6 L1363.3 679.5 L1366.3 678.3 L1369.4 677.2 L1372.4 676.1 L1375.5 674.9 L1378.6 673.8 L1381.6 672.7 L1384.7 671.5 L1387.8 670.4 L1390.8 669.2 L1393.9 668 L1396.9 666.9 L1400 665.7 L1403.1 664.5 L1406.1 663.3 L1409.2 662 L1412.2 660.7 L1415.3 659.4 L1418.4 658 L1421.4 656.7 L1424.5 655.4 L1427.6 654.2 L1430.6 653.1 L1433.9 651.4 L1437.1 649.9 L1440.4 648.5 L1443.7 647.1 L1446.9 645.7 L1450 644.8 L1453.1 643.9 L1456.1 643 L1459.2 642.2 L1462.2 641.3 L1465.3 640.4 L1468.4 639.6 L1471.4 638.8 L1474.8 637.8 L1478.2 636.8 L1481.6 635.9 L1485 635 L1488.4 633.9 L1491.8 632.7 L1495.2 631.2 L1498.6 629.7 L1502 628.1 L1505.4 626.3 L1508.8 624.4 L1512.2 622.4 L1515.3 620.9 L1518.4 619.2 L1521.4 617.4 L1524.5 615.6 L1527.6 613.7 L1530.6 611.8 L1533.7 610 L1536.7 608.2 L1539.8 606.4 L1542.9 604.6 L1545.9 602.8 L1549 601 L1552 599.2 L1555.1 597.4 L1558.2 595.7 L1561.2 593.9 L1564.3 592.1 L1567.3 590.4 L1570.4 588.6 L1573.5 586.9 L1576.5 585.1 L1579.6 583.3 L1582.7 581.5 L1585.7 579.6 L1588.8 577.7 L1591.8 575.7 L1594.9 573.7 L1598 571.7 L1601 569.6 L1604.1 567.5 L1607.1 565.4 L1610.2 563.3 L1613.3 561 L1616.3 558.7 L1619.4 556.4 L1622.4 554 L1625.5 551.6 L1628.6 549.3 L1631.6 547.1 L1634.7 544.9 L1638.1 542.2 L1641.5 539.7 L1644.9 537.3 L1648.3 534.9 L1651.7 532.4 L1655.1 529.8 L1658.5 527 L1661.9 524.2 L1665.3 521.4 L1668.7 518.4 L1672.1 515.4 L1675.5 512.2 L1678.9 509 L1682.3 505.7 L1685.7 502.3 L1689.1 498.9 L1692.5 495.4 L1695.9 491.8 L1699.3 488.2 L1702.7 484.4 L1706.1 480.5 L1709.5 476.6 L1712.9 472.9 L1716.3 469.4 L1719.7 466.1 L1723.1 462.9 L1726.5 459.8 L1729.9 456.8 L1733.3 453.9 L1736.7 451 L1740.1 448.2 L1743.5 445.4 L1746.9 442.6 L1750.3 439.9 L1753.7 437.3 L1757.1 434.7 L1760.5 432.2 L1763.9 429.7 L1767.3 427.3 L1770.7 424.9 L1774.1 422.6 L1777.6 420.4 L1781 418.2 L1784.4 416.1 L1787.8 414 L1791.2 411.9 L1794.6 410 L1798 408.2 L1801.4 406.4 L1804.8 404.7 L1808.2 403.2 L1811.6 401.7 L1815 400.4 L1818.4 399.2 L1821.6 398 L1824.9 397 L1828.2 396.2 L1831.4 395.6 L1834.7 395.1" stroke="#0000cd"/><path d="M1834.7 395.1 L1837.8 394.8 L1840.8 395.1 L1844.9 395.9" stroke="#dc143c"/></g><g fill="none" stroke-width="2" stroke-linejoin="round" stroke-linecap="butt" shape-rendering="crispEdges"><path d="M4.9 105.3 L8.7 108.4 L12.5 112.7 L16.3 116.7 L19.4 119.1 L22.4 121.1 L25.5 123.1 L28.6 124.9 L31.6 126.8 L34.7 128.6 L37.8 130.1 L40.8 131 L44.1 131.1 L47.3 130.7 L50.6 130 L53.9 129.3 L57.1 129 L60.2 129 L63.3 129.4 L66.3 129.7 L69.4 129.8" stroke="#dc143c"/><path d="M69.4 129.8 L72.4 129.4 L75.5 128.2 L78.9 126.2 L82.3 123.7 L85.7 121.6 L88.8 120.6 L91.8 119.7 L94.9 119.1 L98 118.8" stroke="#0000cd"/><path d="M98 118.8 L101 118.7 L104.1 120 L107.5 122.1 L110.9 125 L114.3 128.2 L117.6 130.3 L120.8 132.6 L124.1 135 L127.3 137.2 L130.6 139.2 L134.2 141.2 L137.8 142.9 L141.3 144.3 L144.9 145.3 L148 145.7 L151 145.7 L154.1 145.6 L157.1 145.5 L160.2 145.3 L163.3 145.3 L167.3 145 L171.4 146.1 L174.5 148.3 L177.6 151.3 L180.6 154.6 L183.7 157.6 L186.7 160.1 L189.8 162.6 L192.9 164.8 L195.9 166.5 L199.2 167.4 L202.4 167.8 L205.7 168 L209 168.3 L212.2 169 L215.3 170.4 L218.4 172.1 L221.4 174 L224.5 175.9 L227.8 177.6 L231 179.5 L234.3 181.4 L237.6 183 L240.8 184.1" stroke="#dc143c"/><path d="M240.8 184.1 L244.9 182.9 L248 182.7 L251 182.7 L254.1 182.7 L257.1 182.9" stroke="#0000cd"/><path d="M257.1 182.9 L261.2 184.1 L264.3 185.6 L267.3 187.7 L270.4 190 L273.5 192.2 L276.5 194.3 L279.6 196.3 L282.7 198.4 L285.7 200.4 L289 202.1 L292.2 203.9 L295.5 205.7 L298.8 207.3 L302 208.6 L305.4 209.9 L308.8 210.7 L312.2 211.4 L316.3 212.3 L320.4 213.9 L323.5 217.6 L326.5 222.9 L330.6 230 L334.7 237.1 L338.1 240.8 L341.5 244 L344.9 246.5 L348 247.8 L351 248.6 L354.1 249.4 L357.1 250.6 L360.5 253.1 L363.9 256.1 L367.3 258.8 L371.4 261.9 L375.5 264.5 L378.8 265.5 L382 266.5 L385.3 267.4 L388.6 268.1 L391.8 268.6 L395.2 268.5 L398.6 267.8 L402 267.8 L405.1 269.2 L408.2 271.8 L411.2 273.8 L414.3 276.1 L417.3 278.6 L420.4 280.8 L423.8 283.1 L427.2 285.3 L430.6 288.2 L434.7 294.1 L438.8 302.4 L442.2 310 L445.6 318.9 L449 329 L452.4 340.6 L455.8 353.4 L459.2 365.7 L462.6 376.7 L466 387.3 L469.4 398.4 L472.8 410.6 L476.2 423.3 L479.6 435.1 L483 445.2 L486.4 454.5 L489.8 463.7 L493.2 473.3 L496.6 483 L500 492.2 L503.4 501 L506.8 509.3 L510.2 516.7 L513.6 523.1 L517 528.5 L520.4 533.1 L523.8 536.8 L527.2 539.8 L530.6 542 L534.7 543.9 L538.8 544.5" stroke="#dc143c"/><path d="M538.8 544.5 L540.8 543.7 L544.9 543.7" stroke="#0000cd"/><path d="M544.9 543.7 L549 544.5 L552.2 544.8 L555.5 545 L558.8 545.4 L562 546.1 L565.3 547.3 L568.7 550.7 L572.1 555.2 L575.5 559.6 L579.6 566.1 L583.7 571.8 L587.3 575.8 L591 578" stroke="#dc143c"/><path d="M591 578 L595.9 575.9 L599 575.3 L602 574.7 L605.1 574.2 L608.2 573.9" stroke="#0000cd"/><path d="M608.2 573.9 L612.2 575.1" stroke="#dc143c"/><path d="M612.2 575.1 L615.3 575.4 L618.4 574.7 L621.8 572.7 L625.2 570 L628.6 567.8 L631.6 566.6 L634.7 565.8 L637.8 565.2 L640.8 564.9" stroke="#0000cd"/><path d="M640.8 564.9 L644.9 566.5 L648 568.8 L651 571.8 L654.1 575.1 L657.1 578 L660.4 579.9 L663.7 581.8 L666.9 583.5 L670.2 584.9 L673.5 586.1 L676.5 587.1 L679.6 587.5 L682.7 587.8 L685.7 588.2 L689 588.6 L692.2 589.2 L695.5 589.7 L698.8 590.1 L702 590.2" stroke="#dc143c"/><path d="M702 590.2 L706.1 589.4 L710.2 588.2 L713.6 587.8 L717 587.3 L720.4 586.9 L723.8 586.5 L727.2 586.2 L730.6 586.1" stroke="#0000cd"/><path d="M730.6 586.1 L734.7 588.2 L737.8 590.3 L740.8 593.1 L743.9 596 L746.9 598.4 L750 600.1 L753.1 601.6 L756.1 602.8 L759.2 603.7 L763.3 604.4 L767.3 604.5" stroke="#dc143c"/><path d="M767.3 604.5 L769.4 604.1 L773.5 604.1" stroke="#0000cd"/><path d="M773.5 604.1 L777.6 604.5 L781.1 606 L784.7 608.1 L788.3 610.4 L791.8 612.7 L794.9 614.8 L798 617 L801 619.1 L804.1 620.8 L807.3 621.9 L810.6 622.9 L813.9 623.7 L817.1 624.3 L820.4 624.9" stroke="#dc143c"/><path d="M820.4 624.9 L824.5 626.1 L827.6 626 L830.6 625.8 L833.7 625.5 L836.7 625.1 L839.8 624.8 L842.9 624.5 L845.9 624.2 L849 624.1" stroke="#0000cd"/><path d="M849 624.1 L853.1 624.9 L856.1 626 L859.2 627.4 L862.2 628.9 L865.3 630.2 L869.8 632.1 L874.3 633.1" stroke="#dc143c"/><path d="M874.3 633.1 L879.6 630.2 L883.2 629 L886.7 627.7 L890.3 626.3 L893.9 624.9 L896.9 622.2 L900 619.6 L904.1 616.6 L908.2 614.3" stroke="#0000cd"/><path d="M908.2 614.3 L911.2 613.8 L914.3 614.3 L917.7 614.4 L921.1 614.8 L924.5 616.3 L927.6 618.6 L930.6 621.6 L933.7 625 L936.7 628.6 L939.8 632.5 L942.9 636.9 L945.9 641.2 L949 644.9 L952.2 647.3 L955.5 649.3 L958.8 651.2 L962 653 L965.3 655.1 L968.6 657.6 L971.8 660.3 L975.1 663.1 L978.4 665.5 L981.6 667.3 L985.7 669.1 L989.8 669.4" stroke="#dc143c"/><path d="M989.8 669.4 L993.9 669.4 L997.3 669.3 L1000.7 669.1 L1004.1 669.4" stroke="#0000cd"/><path d="M1004.1 669.4 L1007.1 670.7 L1010.2 672.7 L1013.5 673.5 L1016.7 674.3 L1020 675.3 L1023.3 676.3 L1026.5 677.6 L1029.9 680.3 L1033.3 683.4 L1036.7 685.7 L1040.1 686.2 L1043.5 685.9 L1046.9 686.5 L1050 688.4 L1053.1 691.1 L1056.1 693.9 L1059.2 695.9 L1062.4 696.8 L1065.7 697.2 L1069 697.3 L1072.2 697.5 L1075.5 698 L1078.8 698.6 L1082 699.4 L1085.3 700.2 L1088.6 701.1 L1091.8 702 L1095.2 704 L1098.6 706 L1102 707.3" stroke="#dc143c"/><path d="M1102 707.3 L1105.1 707.4 L1108.2 706.1 L1111.4 705.3 L1114.7 704.3 L1118 703.2 L1121.2 702.1 L1124.5 701.2 L1127.9 700.7 L1131.3 700.3 L1134.7 700 L1138.1 699.7 L1141.5 699.3 L1144.9 698.8 L1148.2 697.9 L1151.4 696.9 L1154.7 695.7 L1158 694.7 L1161.2 693.9 L1164.5 693.4 L1167.8 693.2 L1171 693.1 L1174.3 692.7 L1177.6 691.8 L1180.6 689.9 L1183.7 687.4 L1186.7 684.5 L1189.8 681.6 L1192.9 678.6 L1195.9 675.4 L1199 672.2 L1202 669.4 L1206.1 664.8 L1210.2 661.2 L1213.3 660.1 L1216.3 659.3 L1219.4 658.5 L1222.4 657.1 L1225.5 655 L1228.6 652.3 L1231.6 649.5 L1234.7 646.9 L1238 645.2 L1241.2 643.7 L1244.5 642.2 L1247.8 640.6 L1251 638.8 L1254.3 636.5 L1257.6 633.9 L1260.8 631.2 L1264.1 628.7 L1267.3 626.5 L1270.4 624.6 L1273.5 623.1 L1276.5 621.8 L1279.6 620.4 L1282.7 618.7 L1285.7 616.8 L1288.8 615.2 L1291.8 614.3" stroke="#0000cd"/><path d="M1291.8 614.3 L1294.9 614.7 L1298 617.1 L1301.4 619.6 L1304.8 622.9 L1308.2 626.5 L1311.2 629.9 L1314.3 633.9 L1317.3 637.5 L1320.4 640" stroke="#dc143c"/><path d="M1320.4 640 L1323.5 641 L1326.5 640 L1330.1 639.5 L1333.7 638.9 L1337.2 638 L1340.8 636.7 L1343.9 635.1 L1346.9 633.2 L1350 631 L1353.1 628.6 L1356.3 626.3 L1359.6 623.7 L1362.9 621 L1366.1 618.4 L1369.4 616.3 L1372.4 614.4 L1375.5 612.9 L1378.6 611.6 L1381.6 610.2 L1385.7 606.2 L1389.8 604.1" stroke="#0000cd"/><path d="M1389.8 604.1 L1393.9 612.2 L1396.9 616.5 L1400 619.6" stroke="#dc143c"/><path d="M1400 619.6 L1404.1 618.4 L1407.5 617.7 L1410.9 616.8 L1414.3 614.3 L1417.3 610.3 L1420.4 605.1 L1423.5 599.8 L1426.5 595.9 L1430.6 592.7" stroke="#0000cd"/><path d="M1430.6 592.7 L1433.7 592.6 L1436.7 593.9 L1440.1 595.8 L1443.5 598.5 L1446.9 602 L1450 605.9 L1453.1 610.5 L1456.1 615 L1459.2 618.4 L1462.2 621.2 L1465.3 621.6" stroke="#dc143c"/><path d="M1465.3 621.6 L1469.4 618.4 L1472.8 614.5 L1476.2 609.4 L1479.6 604.1 L1482.7 600 L1485.7 595.5 L1488.8 591.3 L1491.8 587.8 L1495.1 585.7 L1498.4 584.1 L1501.6 582.8 L1504.9 581.4 L1508.2 579.6 L1511.2 576.7 L1514.3 573.5 L1517.3 570.2 L1520.4 567.3 L1523.5 565 L1526.5 563 L1529.6 561.1 L1532.7 559.2 L1535.7 557.1 L1538.8 555 L1541.8 552.9 L1544.9 551 L1549 547.3 L1553.1 544.9" stroke="#0000cd"/><path d="M1553.1 544.9 L1557.1 546.9" stroke="#dc143c"/><path d="M1557.1 546.9 L1561.2 546.6 L1565.3 544.9 L1568.4 543.2 L1571.4 540.9 L1574.5 538.6 L1577.6 536.7 L1580.6 535.5 L1583.7 534.7 L1586.7 533.9 L1589.8 532.7 L1592.9 530.9 L1595.9 528.8 L1599 526.6 L1602 524.5 L1605.1 522.6 L1608.2 520.8 L1611.2 518.8 L1614.3 516.3 L1617.3 513 L1620.4 509.2 L1623.5 505.3 L1626.5 502 L1629.6 499.9 L1632.7 498.3 L1635.7 496.6 L1638.8 493.9 L1641.8 489.6 L1644.9 484.3 L1648 478.7 L1651 473.5 L1654.1 468.8 L1657.1 464.4 L1660.2 459.9 L1663.3 455.1 L1666.3 449.8 L1669.4 444.3 L1672.4 438.5 L1675.5 432.7 L1678.9 424.4 L1682.3 415.9 L1685.7 408.2 L1689.1 401.2 L1692.5 394.9 L1695.9 389.8 L1699 384.5 L1702 381.6" stroke="#0000cd"/><path d="M1702 381.6 L1705.1 381.3 L1708.2 382.9 L1712.2 385.8 L1716.3 389.8 L1719.4 392.1 L1722.4 394.7 L1725.5 397.2 L1728.6 399.2 L1731.6 400.3 L1734.7 400.9 L1737.8 401.3 L1740.8 402 L1744.9 404.9 L1749 407.3" stroke="#dc143c"/><path d="M1749 407.3 L1753.1 406.1 L1757.1 405.9 L1761.2 406.1" stroke="#0000cd"/><path d="M1761.2 406.1 L1765.3 408.2 L1768.6 408.8 L1771.8 409.5 L1775.1 410.3 L1778.4 411.2 L1781.6 412.2 L1784.9 413.6 L1788.2 415.4 L1791.4 417.1 L1794.7 418.6 L1798 419.6" stroke="#dc143c"/><path d="M1798 419.6 L1801 419.7 L1804.1 418.4 L1807.7 417.3 L1811.2 415.7 L1814.8 414.5 L1818.4 414.3" stroke="#0000cd"/><path d="M1818.4 414.3 L1821.6 422.4 L1825.3 429.9 L1829 439.5 L1832.7 449 L1835.7 456.2 L1838.8 463.9 L1841.8 470.7 L1844.9 475.5" stroke="#dc143c"/></g><rect x="5" y="19" width="61" height="18" fill="#d3d3d3" shape-rendering="crispEdges"/><text x="5.6" y="32.8" font-size="16.5" fill="#000" font-family="'Liberation Sans',sans-serif" textLength="47.5" lengthAdjust="spacingAndGlyphs">1.1590</text><rect x="5" y="168" width="61" height="18" fill="#d3d3d3" shape-rendering="crispEdges"/><text x="5.6" y="181.8" font-size="16.5" fill="#000" font-family="'Liberation Sans',sans-serif" textLength="47.5" lengthAdjust="spacingAndGlyphs">1.1580</text><rect x="5" y="318" width="61" height="18" fill="#d3d3d3" shape-rendering="crispEdges"/><text x="5.6" y="331.8" font-size="16.5" fill="#000" font-family="'Liberation Sans',sans-serif" textLength="47.5" lengthAdjust="spacingAndGlyphs">1.1570</text><rect x="5" y="467" width="61" height="18" fill="#d3d3d3" shape-rendering="crispEdges"/><text x="5.6" y="480.8" font-size="16.5" fill="#000" font-family="'Liberation Sans',sans-serif" textLength="47.5" lengthAdjust="spacingAndGlyphs">1.1560</text><rect x="5" y="617" width="61" height="18" fill="#d3d3d3" shape-rendering="crispEdges"/><text x="5.6" y="630.8" font-size="16.5" fill="#000" font-family="'Liberation Sans',sans-serif" textLength="47.5" lengthAdjust="spacingAndGlyphs">1.1550</text><rect x="5" y="767" width="61" height="18" fill="#d3d3d3" shape-rendering="crispEdges"/><text x="5.6" y="780.8" font-size="16.5" fill="#000" font-family="'Liberation Sans',sans-serif" textLength="47.5" lengthAdjust="spacingAndGlyphs">1.1540</text><g shape-rendering="crispEdges"><path d="M5 116h1v16h-1zM9 127h1v14h-1zM13 133h1v57h-1zM17 154h1v25h-1zM21 150h1v10h-1zM25 151h1v5h-1zM29 145h1v12h-1zM33 144h1v5h-1zM37 144h1v17h-1zM41 140h1v14h-1zM45 142h1v7h-1zM49 127h1v24h-1zM53 117h1v22h-1zM57 116h1v15h-1zM61 118h1v15h-1zM65 117h1v15h-1zM69 118h1v10h-1zM73 115h1v12h-1zM77 107h1v18h-1zM81 94h1v20h-1zM85 87h1v18h-1zM89 97h1v20h-1zM93 106h1v12h-1zM97 107h1v13h-1zM101 105h1v31h-1zM105 114h1v16h-1zM109 122h1v27h-1zM113 141h1v7h-1zM117 141h1v14h-1zM121 150h1v6h-1zM125 151h1v16h-1zM129 157h1v26h-1zM133 162h1v15h-1zM137 160h1v14h-1zM141 157h1v15h-1zM145 144h1v27h-1zM149 146h1v16h-1zM153 144h1v11h-1zM157 134h1v20h-1zM161 132h1v18h-1zM165 139h1v16h-1zM169 143h1v10h-1zM173 148h1v24h-1zM177 165h1v22h-1zM181 176h1v11h-1zM185 170h1v22h-1zM189 184h1v11h-1zM193 174h1v24h-1zM197 185h1v13h-1zM201 170h1v48h-1zM205 162h1v23h-1zM209 163h1v19h-1zM213 160h1v22h-1zM217 159h1v23h-1zM221 156h1v28h-1zM225 164h1v22h-1zM229 173h1v18h-1zM233 181h1v23h-1zM237 184h1v60h-1zM241 204h1v36h-1zM245 169h1v51h-1zM249 181h1v16h-1zM253 154h1v38h-1zM257 166h1v29h-1zM261 188h1v12h-1zM265 185h1v15h-1zM269 188h1v15h-1zM273 199h1v20h-1zM277 207h1v24h-1zM281 220h1v13h-1zM285 213h1v12h-1zM289 212h1v14h-1zM293 214h1v21h-1zM297 217h1v14h-1zM301 214h1v20h-1zM305 219h1v19h-1zM309 192h1v40h-1zM313 193h1v33h-1zM321 201h1v26h-1zM325 217h1v42h-1zM329 240h1v52h-1zM333 281h1v11h-1zM337 284h1v45h-1zM341 292h1v34h-1zM345 253h1v64h-1zM349 265h1v18h-1zM353 234h1v39h-1zM357 238h1v13h-1zM361 248h1v26h-1zM365 260h1v61h-1zM369 280h1v31h-1zM373 265h1v39h-1zM377 250h1v34h-1zM381 262h1v27h-1zM389 264h1v32h-1zM393 252h1v38h-1zM397 255h1v20h-1zM401 229h1v31h-1zM405 248h1v47h-1zM409 280h1v16h-1zM413 285h1v10h-1zM417 290h1v18h-1zM421 296h1v23h-1zM425 302h1v20h-1zM429 312h1v14h-1zM433 304h1v51h-1zM437 338h1v65h-1zM441 388h1v14h-1zM445 393h1v28h-1zM449 408h1v46h-1zM453 424h1v54h-1zM457 459h1v58h-1zM461 492h1v33h-1zM465 496h1v21h-1zM469 511h1v24h-1zM473 520h1v27h-1zM477 541h1v25h-1zM481 553h1v22h-1zM485 551h1v33h-1zM489 555h1v26h-1zM493 566h1v35h-1zM497 580h1v8h-1zM501 566h1v43h-1zM505 602h1v10h-1zM509 596h1v10h-1zM513 592h1v78h-1zM517 587h1v15h-1zM521 589h1v36h-1zM525 547h1v62h-1zM529 558h1v23h-1zM533 551h1v28h-1zM537 528h1v29h-1zM541 518h1v16h-1zM545 525h1v19h-1zM549 538h1v13h-1zM553 529h1v41h-1zM557 548h1v20h-1zM561 552h1v21h-1zM565 554h1v23h-1zM569 564h1v12h-1zM573 559h1v67h-1zM577 601h1v26h-1zM581 612h1v15h-1zM585 600h1v22h-1zM589 589h1v34h-1zM593 566h1v40h-1zM597 560h1v37h-1zM601 550h1v25h-1zM605 536h1v42h-1zM609 534h1v24h-1zM613 542h1v45h-1zM617 550h1v50h-1zM621 546h1v22h-1zM625 518h1v47h-1zM629 522h1v32h-1zM633 531h1v33h-1zM637 550h1v15h-1zM641 541h1v26h-1zM645 553h1v12h-1zM649 557h1v43h-1zM653 589h1v22h-1zM657 593h1v40h-1zM661 607h1v28h-1zM665 588h1v30h-1zM669 575h1v22h-1zM673 577h1v49h-1zM677 595h1v18h-1zM681 589h1v16h-1zM685 577h1v26h-1zM689 587h1v6h-1zM693 589h1v10h-1zM697 589h1v16h-1zM701 581h1v16h-1zM705 574h1v23h-1zM709 575h1v16h-1zM713 562h1v31h-1zM717 559h1v31h-1zM721 564h1v29h-1zM725 575h1v27h-1zM729 568h1v20h-1zM733 570h1v23h-1zM737 581h1v34h-1zM741 596h1v34h-1zM745 620h1v41h-1zM749 620h1v19h-1zM753 621h1v14h-1zM757 585h1v50h-1zM761 593h1v31h-1zM765 607h1v10h-1zM769 607h1v13h-1zM773 607h1v6h-1zM777 596h1v23h-1zM781 600h1v6h-1zM785 601h1v28h-1zM789 617h1v30h-1zM793 639h1v25h-1zM801 631h1v15h-1zM809 623h1v19h-1zM813 627h1v12h-1zM817 633h1v13h-1zM821 609h1v30h-1zM825 618h1v10h-1zM829 625h1v14h-1zM833 620h1v15h-1zM837 605h1v23h-1zM845 610h1v7h-1zM849 612h1v29h-1zM853 628h1v18h-1zM857 630h1v11h-1zM861 627h1v26h-1zM865 633h1v23h-1zM869 622h1v27h-1zM873 629h1v16h-1zM877 612h1v24h-1zM881 615h1v13h-1zM885 609h1v16h-1zM889 610h1v18h-1zM893 601h1v14h-1zM897 605h1v5h-1zM901 589h1v20h-1zM905 588h1v11h-1zM909 574h1v18h-1zM913 577h1v34h-1zM917 599h1v26h-1zM921 611h1v24h-1zM925 617h1v26h-1zM929 615h1v43h-1zM933 647h1v35h-1zM937 655h1v39h-1zM941 669h1v16h-1zM945 675h1v14h-1zM949 685h1v16h-1zM953 674h1v36h-1zM957 679h1v29h-1zM961 687h1v31h-1zM965 667h1v24h-1zM969 671h1v5h-1zM973 670h1v17h-1zM977 675h1v21h-1zM981 683h1v16h-1zM985 686h1v20h-1zM989 701h1v23h-1zM993 682h1v43h-1zM997 660h1v36h-1zM1001 653h1v20h-1zM1005 630h1v43h-1zM1009 648h1v43h-1zM1013 683h1v16h-1zM1017 683h1v19h-1zM1021 680h1v16h-1zM1025 686h1v30h-1zM1029 710h1v14h-1zM1033 701h1v23h-1zM1037 680h1v31h-1zM1041 679h1v23h-1zM1045 682h1v48h-1zM1049 694h1v36h-1zM1053 696h1v41h-1zM1057 705h1v49h-1zM1061 706h1v11h-1zM1065 700h1v30h-1zM1069 712h1v12h-1zM1081 700h1v27h-1zM1085 694h1v26h-1zM1089 694h1v15h-1zM1093 699h1v18h-1zM1097 705h1v33h-1zM1101 709h1v25h-1zM1105 699h1v29h-1zM1109 700h1v13h-1zM1113 640h1v63h-1zM1117 678h1v20h-1zM1121 689h1v24h-1zM1125 676h1v36h-1zM1129 650h1v40h-1zM1133 671h1v41h-1zM1137 693h1v24h-1zM1141 694h1v30h-1zM1145 691h1v8h-1zM1149 670h1v35h-1zM1153 667h1v39h-1zM1157 663h1v39h-1zM1161 670h1v13h-1zM1165 676h1v11h-1zM1169 683h1v20h-1zM1173 684h1v19h-1zM1177 681h1v19h-1zM1181 650h1v38h-1zM1185 647h1v19h-1zM1189 628h1v31h-1zM1193 630h1v8h-1zM1197 624h1v18h-1zM1201 631h1v9h-1zM1205 609h1v39h-1zM1209 616h1v29h-1zM1213 618h1v28h-1zM1217 619h1v42h-1zM1221 624h1v35h-1zM1225 616h1v16h-1zM1229 613h1v21h-1zM1233 617h1v20h-1zM1237 624h1v12h-1zM1241 618h1v12h-1zM1245 599h1v33h-1zM1249 602h1v15h-1zM1253 594h1v20h-1zM1257 593h1v19h-1zM1261 592h1v14h-1zM1265 578h1v19h-1zM1269 583h1v22h-1zM1273 597h1v20h-1zM1277 590h1v32h-1zM1281 598h1v92h-1zM1285 579h1v42h-1zM1289 584h1v22h-1zM1293 589h1v14h-1zM1297 594h1v55h-1zM1301 638h1v35h-1zM1305 660h1v34h-1zM1309 672h1v26h-1zM1313 656h1v32h-1zM1317 682h1v15h-1zM1321 667h1v21h-1zM1325 637h1v34h-1zM1329 635h1v8h-1zM1333 632h1v30h-1zM1337 629h1v16h-1zM1341 615h1v21h-1zM1345 613h1v18h-1zM1349 573h1v67h-1zM1353 577h1v40h-1zM1357 580h1v38h-1zM1361 587h1v16h-1zM1365 579h1v41h-1zM1369 600h1v20h-1zM1373 594h1v34h-1zM1377 571h1v38h-1zM1381 592h1v51h-1zM1385 586h1v46h-1zM1389 553h1v52h-1zM1393 536h1v102h-1zM1397 618h1v88h-1zM1401 640h1v60h-1zM1405 596h1v57h-1zM1409 605h1v25h-1zM1413 555h1v70h-1zM1417 576h1v73h-1zM1421 526h1v74h-1zM1425 518h1v36h-1zM1429 507h1v68h-1zM1433 516h1v84h-1zM1437 574h1v65h-1zM1441 611h1v54h-1zM1445 649h1v23h-1zM1449 631h1v26h-1zM1453 635h1v50h-1zM1457 636h1v45h-1zM1461 636h1v20h-1zM1465 627h1v32h-1zM1469 618h1v21h-1zM1473 559h1v83h-1zM1477 539h1v32h-1zM1481 547h1v14h-1zM1485 551h1v5h-1zM1489 539h1v23h-1zM1493 535h1v12h-1zM1497 537h1v14h-1zM1501 536h1v18h-1zM1505 547h1v33h-1zM1509 539h1v39h-1zM1513 536h1v31h-1zM1517 523h1v23h-1zM1521 519h1v32h-1zM1525 544h1v20h-1zM1529 545h1v16h-1zM1533 521h1v29h-1zM1537 522h1v40h-1zM1541 513h1v48h-1zM1545 515h1v19h-1zM1553 515h1v40h-1zM1557 526h1v27h-1zM1561 545h1v38h-1zM1565 539h1v48h-1zM1569 493h1v58h-1zM1573 499h1v19h-1zM1577 505h1v17h-1zM1581 502h1v23h-1zM1585 499h1v26h-1zM1589 478h1v50h-1zM1593 496h1v25h-1zM1597 486h1v24h-1zM1601 493h1v22h-1zM1605 493h1v18h-1zM1613 483h1v24h-1zM1617 455h1v44h-1zM1621 453h1v27h-1zM1625 446h1v41h-1zM1629 440h1v48h-1zM1633 453h1v32h-1zM1637 459h1v28h-1zM1641 432h1v59h-1zM1645 433h1v23h-1zM1649 406h1v40h-1zM1653 396h1v41h-1zM1657 413h1v29h-1zM1661 339h1v89h-1zM1665 369h1v56h-1zM1669 373h1v55h-1zM1673 344h1v37h-1zM1677 334h1v38h-1zM1681 324h1v20h-1zM1685 307h1v28h-1zM1689 294h1v43h-1zM1693 310h1v58h-1zM1697 319h1v16h-1zM1701 328h1v20h-1zM1705 330h1v32h-1zM1709 359h1v42h-1zM1713 391h1v14h-1zM1717 395h1v16h-1zM1721 396h1v52h-1zM1725 416h1v28h-1zM1729 392h1v40h-1zM1733 418h1v13h-1zM1737 415h1v7h-1zM1745 408h1v30h-1zM1749 398h1v46h-1zM1753 400h1v18h-1zM1757 393h1v22h-1zM1761 392h1v20h-1zM1765 398h1v34h-1zM1769 400h1v32h-1zM1773 418h1v11h-1zM1777 402h1v28h-1zM1781 415h1v12h-1zM1785 408h1v38h-1zM1789 384h1v51h-1zM1793 416h1v75h-1zM1797 442h1v32h-1zM1801 400h1v48h-1zM1805 406h1v22h-1zM1809 384h1v49h-1zM1813 399h1v29h-1zM1817 398h1v24h-1zM1821 403h1v30h-1zM1825 423h1v85h-1zM1829 480h1v75h-1zM1833 532h1v26h-1zM1837 526h1v14h-1zM1841 514h1v26h-1zM1845 515h1v29h-1z" fill="#0e0e38"/><path d="M4 120h3v10h-3zM8 129h3v11h-3zM12 139h3v33h-3zM16 157h3v15h-3zM20 153h3v5h-3zM24 152h3v1h-3zM28 146h3v7h-3zM32 145h3v1h-3zM36 145h3v8h-3zM40 143h3v10h-3zM44 143h3v5h-3zM48 135h3v13h-3zM52 123h3v13h-3zM56 123h3v4h-3zM60 126h3v3h-3zM64 121h3v8h-3zM68 121h3v7h-3zM72 117h3v11h-3zM76 111h3v7h-3zM80 96h3v16h-3zM84 96h3v4h-3zM88 99h3v11h-3zM92 109h3v7h-3zM96 110h3v6h-3zM100 110h3v20h-3zM104 127h3v3h-3zM108 127h3v19h-3zM112 145h3v3h-3zM116 147h3v7h-3zM120 153h3v1h-3zM124 153h3v8h-3zM128 160h3v17h-3zM132 165h3v12h-3zM136 165h3v7h-3zM140 163h3v9h-3zM144 148h3v16h-3zM148 148h3v3h-3zM152 147h3v4h-3zM156 138h3v10h-3zM160 138h3v3h-3zM164 140h3v11h-3zM168 150h3v1h-3zM172 150h3v21h-3zM176 170h3v9h-3zM180 178h3v3h-3zM184 180h3v12h-3zM188 187h3v5h-3zM192 187h3v11h-3zM196 191h3v7h-3zM200 179h3v13h-3zM204 171h3v9h-3zM208 171h3v7h-3zM212 162h3v16h-3zM216 162h3v14h-3zM220 170h3v6h-3zM224 170h3v15h-3zM228 184h3v6h-3zM232 189h3v7h-3zM236 195h3v36h-3zM240 216h3v15h-3zM244 185h3v32h-3zM248 185h3v3h-3zM252 168h3v20h-3zM256 168h3v22h-3zM260 189h3v4h-3zM264 189h3v4h-3zM268 189h3v12h-3zM272 200h3v19h-3zM276 218h3v12h-3zM280 224h3v6h-3zM284 219h3v6h-3zM288 219h3v5h-3zM292 221h3v3h-3zM296 221h3v9h-3zM300 221h3v9h-3zM304 221h3v4h-3zM308 205h3v20h-3zM312 205h3v9h-3zM320 212h3v11h-3zM324 222h3v30h-3zM328 251h3v31h-3zM332 281h3v6h-3zM336 286h3v27h-3zM340 300h3v13h-3zM344 268h3v33h-3zM348 268h3v4h-3zM352 247h3v25h-3zM356 247h3v3h-3zM360 249h3v26h-3zM364 274h3v32h-3zM368 291h3v15h-3zM372 271h3v21h-3zM376 271h3v12h-3zM380 266h3v17h-3zM388 267h3v22h-3zM392 266h3v23h-3zM396 258h3v9h-3zM400 256h3v3h-3zM404 256h3v34h-3zM408 289h3v4h-3zM412 292h3v1h-3zM416 293h3v4h-3zM420 296h3v16h-3zM424 311h3v10h-3zM428 313h3v8h-3zM432 313h3v34h-3zM436 346h3v47h-3zM440 392h3v8h-3zM444 399h3v17h-3zM448 415h3v31h-3zM452 445h3v24h-3zM456 468h3v28h-3zM460 495h3v17h-3zM464 511h3v6h-3zM468 516h3v11h-3zM472 526h3v18h-3zM476 543h3v15h-3zM480 557h3v18h-3zM484 563h3v12h-3zM488 563h3v15h-3zM492 577h3v11h-3zM496 582h3v6h-3zM500 582h3v28h-3zM504 603h3v7h-3zM508 603h3v1h-3zM512 600h3v4h-3zM516 599h3v1h-3zM520 594h3v6h-3zM524 559h3v36h-3zM528 559h3v17h-3zM532 553h3v23h-3zM536 533h3v21h-3zM540 533h3v1h-3zM544 533h3v8h-3zM548 540h3v8h-3zM552 547h3v19h-3zM556 560h3v6h-3zM560 554h3v7h-3zM564 554h3v21h-3zM568 566h3v9h-3zM572 566h3v47h-3zM576 612h3v9h-3zM580 617h3v4h-3zM584 613h3v5h-3zM588 597h3v17h-3zM592 581h3v17h-3zM596 567h3v15h-3zM600 561h3v7h-3zM604 543h3v19h-3zM608 543h3v9h-3zM612 551h3v34h-3zM616 565h3v20h-3zM620 549h3v17h-3zM624 544h3v6h-3zM628 535h3v10h-3zM632 535h3v29h-3zM636 552h3v12h-3zM640 552h3v7h-3zM644 558h3v5h-3zM648 562h3v37h-3zM652 598h3v12h-3zM656 609h3v9h-3zM660 611h3v7h-3zM664 592h3v20h-3zM668 585h3v8h-3zM672 585h3v27h-3zM676 599h3v13h-3zM680 597h3v3h-3zM684 589h3v9h-3zM688 589h3v3h-3zM692 591h3v5h-3zM696 590h3v6h-3zM700 590h3v6h-3zM704 577h3v19h-3zM708 577h3v12h-3zM712 576h3v13h-3zM716 566h3v11h-3zM720 566h3v27h-3zM724 579h3v14h-3zM728 573h3v7h-3zM732 573h3v19h-3zM736 591h3v16h-3zM740 606h3v21h-3zM744 626h3v11h-3zM748 627h3v10h-3zM752 625h3v3h-3zM756 598h3v28h-3zM760 598h3v13h-3zM764 610h3v4h-3zM768 611h3v3h-3zM772 610h3v1h-3zM776 601h3v10h-3zM780 601h3v3h-3zM784 603h3v16h-3zM788 618h3v26h-3zM792 642h3v1h-3zM800 639h3v5h-3zM808 635h3v6h-3zM812 635h3v5h-3zM816 635h3v5h-3zM820 620h3v16h-3zM824 620h3v8h-3zM828 627h3v5h-3zM832 622h3v10h-3zM836 616h3v7h-3zM844 615h3v1h-3zM848 615h3v20h-3zM852 634h3v4h-3zM856 633h3v5h-3zM860 633h3v19h-3zM864 638h3v14h-3zM868 638h3v4h-3zM872 633h3v9h-3zM876 621h3v13h-3zM880 616h3v6h-3zM884 616h3v8h-3zM888 612h3v12h-3zM892 606h3v7h-3zM896 606h3v1h-3zM900 594h3v14h-3zM904 590h3v5h-3zM908 583h3v8h-3zM912 583h3v23h-3zM916 605h3v13h-3zM920 617h3v12h-3zM924 622h3v7h-3zM928 622h3v28h-3zM932 649h3v24h-3zM936 672h3v11h-3zM940 678h3v5h-3zM944 678h3v11h-3zM948 688h3v9h-3zM952 680h3v17h-3zM956 680h3v25h-3zM960 689h3v16h-3zM964 674h3v16h-3zM968 674h3v1h-3zM972 675h3v5h-3zM976 679h3v9h-3zM980 687h3v5h-3zM984 691h3v13h-3zM988 703h3v19h-3zM992 688h3v34h-3zM996 671h3v18h-3zM1000 660h3v12h-3zM1004 655h3v6h-3zM1008 655h3v36h-3zM1012 686h3v5h-3zM1016 686h3v5h-3zM1020 689h3v1h-3zM1024 689h3v23h-3zM1028 711h3v10h-3zM1032 703h3v18h-3zM1036 685h3v19h-3zM1040 685h3v7h-3zM1044 691h3v19h-3zM1048 709h3v9h-3zM1052 717h3v14h-3zM1056 710h3v21h-3zM1060 710h3v4h-3zM1064 713h3v7h-3zM1068 716h3v4h-3zM1080 710h3v6h-3zM1084 702h3v9h-3zM1088 702h3v1h-3zM1092 703h3v5h-3zM1096 707h3v23h-3zM1100 724h3v6h-3zM1104 708h3v17h-3zM1108 702h3v7h-3zM1112 685h3v18h-3zM1116 685h3v12h-3zM1120 696h3v11h-3zM1124 686h3v21h-3zM1128 674h3v13h-3zM1132 674h3v24h-3zM1136 697h3v17h-3zM1140 696h3v18h-3zM1144 696h3v1h-3zM1148 677h3v20h-3zM1152 677h3v19h-3zM1156 671h3v25h-3zM1160 671h3v9h-3zM1164 679h3v6h-3zM1168 684h3v18h-3zM1172 692h3v10h-3zM1176 683h3v10h-3zM1180 663h3v21h-3zM1184 653h3v11h-3zM1188 635h3v19h-3zM1192 633h3v3h-3zM1196 633h3v1h-3zM1200 634h3v6h-3zM1204 620h3v20h-3zM1208 620h3v22h-3zM1212 625h3v17h-3zM1216 625h3v32h-3zM1220 627h3v30h-3zM1224 618h3v10h-3zM1228 618h3v1h-3zM1232 619h3v11h-3zM1236 626h3v4h-3zM1240 619h3v8h-3zM1244 608h3v12h-3zM1248 604h3v5h-3zM1252 604h3v6h-3zM1256 603h3v7h-3zM1260 596h3v8h-3zM1264 584h3v13h-3zM1268 584h3v17h-3zM1272 600h3v15h-3zM1276 606h3v9h-3zM1280 606h3v14h-3zM1284 598h3v22h-3zM1288 596h3v3h-3zM1292 596h3v3h-3zM1296 598h3v50h-3zM1300 647h3v23h-3zM1304 669h3v18h-3zM1308 673h3v14h-3zM1312 673h3v12h-3zM1316 684h3v4h-3zM1320 670h3v18h-3zM1324 642h3v29h-3zM1328 638h3v5h-3zM1332 638h3v5h-3zM1336 634h3v9h-3zM1340 623h3v12h-3zM1344 623h3v1h-3zM1348 590h3v35h-3zM1352 590h3v20h-3zM1356 591h3v19h-3zM1360 589h3v3h-3zM1364 589h3v14h-3zM1368 602h3v13h-3zM1372 597h3v18h-3zM1376 595h3v3h-3zM1380 595h3v24h-3zM1384 602h3v17h-3zM1388 558h3v45h-3zM1392 558h3v67h-3zM1396 624h3v41h-3zM1400 649h3v16h-3zM1404 607h3v43h-3zM1408 607h3v14h-3zM1412 592h3v29h-3zM1416 592h3v6h-3zM1420 540h3v58h-3zM1424 534h3v7h-3zM1428 527h3v8h-3zM1432 527h3v67h-3zM1436 593h3v34h-3zM1440 626h3v25h-3zM1444 650h3v5h-3zM1448 640h3v15h-3zM1452 640h3v25h-3zM1456 645h3v20h-3zM1460 645h3v5h-3zM1464 632h3v18h-3zM1468 623h3v10h-3zM1472 568h3v56h-3zM1476 552h3v17h-3zM1480 552h3v4h-3zM1484 555h3v1h-3zM1488 547h3v9h-3zM1492 545h3v3h-3zM1496 537h3v9h-3zM1500 537h3v14h-3zM1504 550h3v24h-3zM1508 558h3v16h-3zM1512 538h3v21h-3zM1516 532h3v7h-3zM1520 532h3v19h-3zM1524 550h3v8h-3zM1528 546h3v12h-3zM1532 534h3v13h-3zM1536 534h3v20h-3zM1540 518h3v36h-3zM1544 518h3v4h-3zM1552 523h3v10h-3zM1556 532h3v21h-3zM1560 552h3v23h-3zM1564 546h3v29h-3zM1568 513h3v34h-3zM1572 510h3v4h-3zM1576 510h3v12h-3zM1580 510h3v12h-3zM1584 504h3v7h-3zM1588 504h3v16h-3zM1592 505h3v15h-3zM1596 498h3v8h-3zM1600 498h3v11h-3zM1604 496h3v13h-3zM1612 494h3v4h-3zM1616 471h3v24h-3zM1620 471h3v9h-3zM1624 450h3v30h-3zM1628 450h3v32h-3zM1632 470h3v12h-3zM1636 470h3v7h-3zM1640 443h3v34h-3zM1644 441h3v3h-3zM1648 408h3v34h-3zM1652 408h3v18h-3zM1656 417h3v9h-3zM1660 389h3v29h-3zM1664 389h3v17h-3zM1668 380h3v26h-3zM1672 362h3v19h-3zM1676 343h3v20h-3zM1680 327h3v17h-3zM1684 314h3v14h-3zM1688 314h3v18h-3zM1692 321h3v11h-3zM1696 321h3v12h-3zM1700 332h3v8h-3zM1704 339h3v21h-3zM1708 359h3v40h-3zM1712 398h3v1h-3zM1716 398h3v4h-3zM1720 401h3v32h-3zM1724 422h3v11h-3zM1728 422h3v7h-3zM1732 421h3v8h-3zM1736 417h3v5h-3zM1744 418h3v18h-3zM1748 404h3v32h-3zM1752 404h3v10h-3zM1756 394h3v20h-3zM1760 394h3v9h-3zM1764 402h3v7h-3zM1768 408h3v20h-3zM1772 426h3v1h-3zM1776 418h3v9h-3zM1780 418h3v3h-3zM1784 420h3v6h-3zM1788 425h3v6h-3zM1792 430h3v43h-3zM1796 443h3v30h-3zM1800 417h3v27h-3zM1804 417h3v11h-3zM1808 415h3v13h-3zM1812 404h3v12h-3zM1816 404h3v10h-3zM1820 413h3v15h-3zM1824 427h3v79h-3zM1828 505h3v45h-3zM1832 540h3v10h-3zM1836 535h3v6h-3zM1840 526h3v10h-3zM1844 526h3v7h-3z" fill="#0e0e38"/><path d="M17 158h1v13h-1zM21 154h1v3h-1zM29 147h1v5h-1zM41 144h1v8h-1zM49 136h1v11h-1zM53 124h1v11h-1zM65 122h1v6h-1zM73 118h1v9h-1zM77 112h1v5h-1zM81 97h1v14h-1zM97 111h1v4h-1zM105 128h1v1h-1zM133 166h1v10h-1zM141 164h1v7h-1zM145 149h1v14h-1zM153 148h1v2h-1zM157 139h1v8h-1zM189 188h1v3h-1zM197 192h1v5h-1zM201 180h1v11h-1zM205 172h1v7h-1zM213 163h1v14h-1zM221 171h1v4h-1zM241 217h1v13h-1zM245 186h1v30h-1zM253 169h1v18h-1zM265 190h1v2h-1zM281 225h1v4h-1zM285 220h1v4h-1zM293 222h1v1h-1zM301 222h1v7h-1zM309 206h1v18h-1zM341 301h1v11h-1zM345 269h1v31h-1zM353 248h1v23h-1zM369 292h1v13h-1zM373 272h1v19h-1zM381 267h1v15h-1zM393 267h1v21h-1zM397 259h1v7h-1zM401 257h1v1h-1zM429 314h1v6h-1zM485 564h1v10h-1zM497 583h1v4h-1zM505 604h1v5h-1zM513 601h1v2h-1zM521 595h1v4h-1zM525 560h1v34h-1zM533 554h1v21h-1zM537 534h1v19h-1zM557 561h1v4h-1zM561 555h1v5h-1zM569 567h1v7h-1zM581 618h1v2h-1zM585 614h1v3h-1zM589 598h1v15h-1zM593 582h1v15h-1zM597 568h1v13h-1zM601 562h1v5h-1zM605 544h1v17h-1zM617 566h1v18h-1zM621 550h1v15h-1zM625 545h1v4h-1zM629 536h1v8h-1zM637 553h1v10h-1zM661 612h1v5h-1zM665 593h1v18h-1zM669 586h1v6h-1zM677 600h1v11h-1zM681 598h1v1h-1zM685 590h1v7h-1zM697 591h1v4h-1zM705 578h1v17h-1zM713 577h1v11h-1zM717 567h1v9h-1zM725 580h1v12h-1zM729 574h1v5h-1zM749 628h1v8h-1zM753 626h1v1h-1zM757 599h1v26h-1zM769 612h1v1h-1zM777 602h1v8h-1zM801 640h1v3h-1zM809 636h1v4h-1zM817 636h1v3h-1zM821 621h1v14h-1zM833 623h1v8h-1zM837 617h1v5h-1zM857 634h1v3h-1zM865 639h1v12h-1zM873 634h1v7h-1zM877 622h1v11h-1zM881 617h1v4h-1zM889 613h1v10h-1zM893 607h1v5h-1zM901 595h1v12h-1zM905 591h1v3h-1zM909 584h1v6h-1zM925 623h1v5h-1zM941 679h1v3h-1zM953 681h1v15h-1zM961 690h1v14h-1zM965 675h1v14h-1zM993 689h1v32h-1zM997 672h1v16h-1zM1001 661h1v10h-1zM1005 656h1v4h-1zM1013 687h1v3h-1zM1033 704h1v16h-1zM1037 686h1v17h-1zM1057 711h1v19h-1zM1069 717h1v2h-1zM1081 711h1v4h-1zM1085 703h1v7h-1zM1101 725h1v4h-1zM1105 709h1v15h-1zM1109 703h1v5h-1zM1113 686h1v16h-1zM1125 687h1v19h-1zM1129 675h1v11h-1zM1141 697h1v16h-1zM1149 678h1v18h-1zM1157 672h1v23h-1zM1173 693h1v8h-1zM1177 684h1v8h-1zM1181 664h1v19h-1zM1185 654h1v9h-1zM1189 636h1v17h-1zM1193 634h1v1h-1zM1205 621h1v18h-1zM1213 626h1v15h-1zM1221 628h1v28h-1zM1225 619h1v8h-1zM1237 627h1v2h-1zM1241 620h1v6h-1zM1245 609h1v10h-1zM1249 605h1v3h-1zM1257 604h1v5h-1zM1261 597h1v6h-1zM1265 585h1v11h-1zM1277 607h1v7h-1zM1285 599h1v20h-1zM1289 597h1v1h-1zM1309 674h1v12h-1zM1321 671h1v16h-1zM1325 643h1v27h-1zM1329 639h1v3h-1zM1337 635h1v7h-1zM1341 624h1v10h-1zM1349 591h1v33h-1zM1357 592h1v17h-1zM1361 590h1v1h-1zM1373 598h1v16h-1zM1377 596h1v1h-1zM1385 603h1v15h-1zM1389 559h1v43h-1zM1401 650h1v14h-1zM1405 608h1v41h-1zM1413 593h1v27h-1zM1421 541h1v56h-1zM1425 535h1v5h-1zM1429 528h1v6h-1zM1449 641h1v13h-1zM1457 646h1v18h-1zM1465 633h1v16h-1zM1469 624h1v8h-1zM1473 569h1v54h-1zM1477 553h1v15h-1zM1489 548h1v7h-1zM1493 546h1v1h-1zM1497 538h1v7h-1zM1509 559h1v14h-1zM1513 539h1v19h-1zM1517 533h1v5h-1zM1529 547h1v10h-1zM1533 535h1v11h-1zM1541 519h1v34h-1zM1565 547h1v27h-1zM1569 514h1v32h-1zM1573 511h1v2h-1zM1581 511h1v10h-1zM1585 505h1v5h-1zM1593 506h1v13h-1zM1597 499h1v6h-1zM1605 497h1v11h-1zM1613 495h1v2h-1zM1617 472h1v22h-1zM1625 451h1v28h-1zM1633 471h1v10h-1zM1641 444h1v32h-1zM1645 442h1v1h-1zM1649 409h1v32h-1zM1657 418h1v7h-1zM1661 390h1v27h-1zM1669 381h1v24h-1zM1673 363h1v17h-1zM1677 344h1v18h-1zM1681 328h1v15h-1zM1685 315h1v12h-1zM1693 322h1v9h-1zM1725 423h1v9h-1zM1733 422h1v6h-1zM1737 418h1v3h-1zM1749 405h1v30h-1zM1757 395h1v18h-1zM1777 419h1v7h-1zM1797 444h1v28h-1zM1801 418h1v25h-1zM1809 416h1v11h-1zM1813 405h1v10h-1zM1833 541h1v8h-1zM1837 536h1v4h-1zM1841 527h1v8h-1z" fill="#f0f0f0"/><path d="M5 121h1v8h-1zM9 130h1v9h-1zM13 140h1v31h-1zM37 146h1v6h-1zM45 144h1v3h-1zM57 124h1v2h-1zM61 127h1v1h-1zM69 122h1v5h-1zM85 97h1v2h-1zM89 100h1v9h-1zM93 110h1v5h-1zM101 111h1v18h-1zM109 128h1v17h-1zM113 146h1v1h-1zM117 148h1v5h-1zM125 154h1v6h-1zM129 161h1v15h-1zM137 166h1v5h-1zM149 149h1v1h-1zM161 139h1v1h-1zM165 141h1v9h-1zM173 151h1v19h-1zM177 171h1v7h-1zM181 179h1v1h-1zM185 181h1v10h-1zM193 188h1v9h-1zM209 172h1v5h-1zM217 163h1v12h-1zM225 171h1v13h-1zM229 185h1v4h-1zM233 190h1v5h-1zM237 196h1v34h-1zM249 186h1v1h-1zM257 169h1v20h-1zM261 190h1v2h-1zM269 190h1v10h-1zM273 201h1v17h-1zM277 219h1v10h-1zM289 220h1v3h-1zM297 222h1v7h-1zM305 222h1v2h-1zM313 206h1v7h-1zM321 213h1v9h-1zM325 223h1v28h-1zM329 252h1v29h-1zM333 282h1v4h-1zM337 287h1v25h-1zM349 269h1v2h-1zM357 248h1v1h-1zM361 250h1v24h-1zM365 275h1v30h-1zM377 272h1v10h-1zM389 268h1v20h-1zM405 257h1v32h-1zM409 290h1v2h-1zM417 294h1v2h-1zM421 297h1v14h-1zM425 312h1v8h-1zM433 314h1v32h-1zM437 347h1v45h-1zM441 393h1v6h-1zM445 400h1v15h-1zM449 416h1v29h-1zM453 446h1v22h-1zM457 469h1v26h-1zM461 496h1v15h-1zM465 512h1v4h-1zM469 517h1v9h-1zM473 527h1v16h-1zM477 544h1v13h-1zM481 558h1v16h-1zM489 564h1v13h-1zM493 578h1v9h-1zM501 583h1v26h-1zM529 560h1v15h-1zM545 534h1v6h-1zM549 541h1v6h-1zM553 548h1v17h-1zM565 555h1v19h-1zM573 567h1v45h-1zM577 613h1v7h-1zM609 544h1v7h-1zM613 552h1v32h-1zM633 536h1v27h-1zM641 553h1v5h-1zM645 559h1v3h-1zM649 563h1v35h-1zM653 599h1v10h-1zM657 610h1v7h-1zM673 586h1v25h-1zM689 590h1v1h-1zM693 592h1v3h-1zM701 591h1v4h-1zM709 578h1v10h-1zM721 567h1v25h-1zM733 574h1v17h-1zM737 592h1v14h-1zM741 607h1v19h-1zM745 627h1v9h-1zM761 599h1v11h-1zM765 611h1v2h-1zM781 602h1v1h-1zM785 604h1v14h-1zM789 619h1v24h-1zM813 636h1v3h-1zM825 621h1v6h-1zM829 628h1v3h-1zM849 616h1v18h-1zM853 635h1v2h-1zM861 634h1v17h-1zM869 639h1v2h-1zM885 617h1v6h-1zM913 584h1v21h-1zM917 606h1v11h-1zM921 618h1v10h-1zM929 623h1v26h-1zM933 650h1v22h-1zM937 673h1v9h-1zM945 679h1v9h-1zM949 689h1v7h-1zM957 681h1v23h-1zM973 676h1v3h-1zM977 680h1v7h-1zM981 688h1v3h-1zM985 692h1v11h-1zM989 704h1v17h-1zM1009 656h1v34h-1zM1017 687h1v3h-1zM1025 690h1v21h-1zM1029 712h1v8h-1zM1041 686h1v5h-1zM1045 692h1v17h-1zM1049 710h1v7h-1zM1053 718h1v12h-1zM1061 711h1v2h-1zM1065 714h1v5h-1zM1093 704h1v3h-1zM1097 708h1v21h-1zM1117 686h1v10h-1zM1121 697h1v9h-1zM1133 675h1v22h-1zM1137 698h1v15h-1zM1153 678h1v17h-1zM1161 672h1v7h-1zM1165 680h1v4h-1zM1169 685h1v16h-1zM1201 635h1v4h-1zM1209 621h1v20h-1zM1217 626h1v30h-1zM1233 620h1v9h-1zM1253 605h1v4h-1zM1269 585h1v15h-1zM1273 601h1v13h-1zM1281 607h1v12h-1zM1293 597h1v1h-1zM1297 599h1v48h-1zM1301 648h1v21h-1zM1305 670h1v16h-1zM1313 674h1v10h-1zM1317 685h1v2h-1zM1333 639h1v3h-1zM1353 591h1v18h-1zM1365 590h1v12h-1zM1369 603h1v11h-1zM1381 596h1v22h-1zM1393 559h1v65h-1zM1397 625h1v39h-1zM1409 608h1v12h-1zM1417 593h1v4h-1zM1433 528h1v65h-1zM1437 594h1v32h-1zM1441 627h1v23h-1zM1445 651h1v3h-1zM1453 641h1v23h-1zM1461 646h1v3h-1zM1481 553h1v2h-1zM1501 538h1v12h-1zM1505 551h1v22h-1zM1521 533h1v17h-1zM1525 551h1v6h-1zM1537 535h1v18h-1zM1545 519h1v2h-1zM1553 524h1v8h-1zM1557 533h1v19h-1zM1561 553h1v21h-1zM1577 511h1v10h-1zM1589 505h1v14h-1zM1601 499h1v9h-1zM1621 472h1v7h-1zM1629 451h1v30h-1zM1637 471h1v5h-1zM1653 409h1v16h-1zM1665 390h1v15h-1zM1689 315h1v16h-1zM1697 322h1v10h-1zM1701 333h1v6h-1zM1705 340h1v19h-1zM1709 360h1v38h-1zM1717 399h1v2h-1zM1721 402h1v30h-1zM1729 423h1v5h-1zM1745 419h1v16h-1zM1753 405h1v8h-1zM1761 395h1v7h-1zM1765 403h1v5h-1zM1769 409h1v18h-1zM1781 419h1v1h-1zM1785 421h1v4h-1zM1789 426h1v4h-1zM1793 431h1v41h-1zM1805 418h1v9h-1zM1817 405h1v8h-1zM1821 414h1v13h-1zM1825 428h1v77h-1zM1829 506h1v43h-1zM1845 527h1v5h-1z" fill="#808080"/><path d="M317 174v41M385 253v15M797 636v14M805 638v3M841 609v9M1073 706v20M1077 712v6M1549 499v48M1609 491v8M1741 401v19" stroke="#00e000" stroke-width="1" fill="none" transform="translate(0.5,0)"/><path d="M316 212h3v1h-3zM384 267h3v1h-3zM796 643h3v1h-3zM804 640h3v1h-3zM840 616h3v1h-3zM1072 714h3v1h-3zM1076 715h3v1h-3zM1548 523h3v1h-3zM1608 497h3v1h-3zM1740 418h3v1h-3z" fill="#00e000"/></g><path d="M8 12H19L13.5 18Z" fill="#000"/><text x="26.2" y="21" font-size="13.4" fill="#000" font-family="'DejaVu Sans Condensed','Liberation Sans',sans-serif" textLength="74.5" lengthAdjust="spacingAndGlyphs">EURUSD,M1</text></g><g shape-rendering="crispEdges"><rect x="5" y="812" width="188" height="10" fill="#800000"/><rect x="193" y="812" width="1200" height="10" fill="#000080"/><rect x="1393" y="812" width="453" height="10" fill="#800080"/><rect x="4" y="4" width="1843" height="1" fill="#000"/><rect x="4" y="4" width="1" height="819" fill="#000"/><rect x="1846" y="4" width="1" height="819" fill="#000"/><rect x="4" y="822" width="1843" height="1" fill="#000"/><rect x="1847" y="43" width="2" height="1" fill="#000"/><rect x="1847" y="111" width="2" height="1" fill="#000"/><rect x="1847" y="178" width="2" height="1" fill="#000"/><rect x="1847" y="245" width="2" height="1" fill="#000"/><rect x="1847" y="312" width="2" height="1" fill="#000"/><rect x="1847" y="380" width="2" height="1" fill="#000"/><rect x="1847" y="447" width="2" height="1" fill="#000"/><rect x="1847" y="514" width="2" height="1" fill="#000"/><rect x="1847" y="582" width="2" height="1" fill="#000"/><rect x="1847" y="649" width="2" height="1" fill="#000"/><rect x="1847" y="716" width="2" height="1" fill="#000"/><rect x="1847" y="783" width="2" height="1" fill="#000"/><rect x="5" y="823" width="1" height="3" fill="#000"/><rect x="133" y="823" width="1" height="3" fill="#000"/><rect x="261" y="823" width="1" height="3" fill="#000"/><rect x="389" y="823" width="1" height="3" fill="#000"/><rect x="517" y="823" width="1" height="3" fill="#000"/><rect x="645" y="823" width="1" height="3" fill="#000"/><rect x="773" y="823" width="1" height="3" fill="#000"/><rect x="901" y="823" width="1" height="3" fill="#000"/><rect x="1029" y="823" width="1" height="3" fill="#000"/><rect x="1157" y="823" width="1" height="3" fill="#000"/><rect x="1285" y="823" width="1" height="3" fill="#000"/><rect x="1413" y="823" width="1" height="3" fill="#000"/><rect x="1541" y="823" width="1" height="3" fill="#000"/><rect x="1669" y="823" width="1" height="3" fill="#000"/><rect x="1797" y="823" width="1" height="3" fill="#000"/><rect x="1845" y="708" width="3" height="53" fill="#000"/></g><g clip-path="url(#cp3b)" font-size="8.5" fill="#fff" font-family="'Liberation Sans',sans-serif" text-anchor="middle" letter-spacing="-0.5"><text x="13.5" y="820.5">15:15</text><text x="73.5" y="820.5">15:30</text><text x="133.5" y="820.5">15:45</text><text x="193.5" y="820.5">16:00</text><text x="253.5" y="820.5">16:15</text><text x="313.5" y="820.5">16:30</text><text x="373.5" y="820.5">16:45</text><text x="433.5" y="820.5">17:00</text><text x="493.5" y="820.5">17:15</text><text x="553.5" y="820.5">17:30</text><text x="613.5" y="820.5">17:45</text><text x="673.5" y="820.5">18:00</text><text x="733.5" y="820.5">18:15</text><text x="793.5" y="820.5">18:30</text><text x="853.5" y="820.5">18:45</text><text x="913.5" y="820.5">19:00</text><text x="973.5" y="820.5">19:15</text><text x="1033.5" y="820.5">19:30</text><text x="1093.5" y="820.5">19:45</text><text x="1153.5" y="820.5">20:00</text><text x="1213.5" y="820.5">20:15</text><text x="1273.5" y="820.5">20:30</text><text x="1333.5" y="820.5">20:45</text><text x="1393.5" y="820.5">21:00</text><text x="1453.5" y="820.5">21:15</text><text x="1513.5" y="820.5">21:30</text><text x="1573.5" y="820.5">21:45</text><text x="1633.5" y="820.5">22:00</text><text x="1693.5" y="820.5">22:15</text><text x="1753.5" y="820.5">22:30</text><text x="1813.5" y="820.5">22:45</text></g><defs><clipPath id="cp3b"><rect x="5" y="810" width="1841" height="14"/></clipPath></defs><text x="1853" y="49.4" font-size="13.4" fill="#000" font-family="'DejaVu Sans Condensed','Liberation Sans',sans-serif" textLength="51" lengthAdjust="spacingAndGlyphs">1.15889</text><text x="1853" y="116.7" font-size="13.4" fill="#000" font-family="'DejaVu Sans Condensed','Liberation Sans',sans-serif" textLength="51" lengthAdjust="spacingAndGlyphs">1.15844</text><text x="1853" y="184" font-size="13.4" fill="#000" font-family="'DejaVu Sans Condensed','Liberation Sans',sans-serif" textLength="51" lengthAdjust="spacingAndGlyphs">1.15799</text><text x="1853" y="251.3" font-size="13.4" fill="#000" font-family="'DejaVu Sans Condensed','Liberation Sans',sans-serif" textLength="51" lengthAdjust="spacingAndGlyphs">1.15754</text><text x="1853" y="318.5" font-size="13.4" fill="#000" font-family="'DejaVu Sans Condensed','Liberation Sans',sans-serif" textLength="51" lengthAdjust="spacingAndGlyphs">1.15709</text><text x="1853" y="385.8" font-size="13.4" fill="#000" font-family="'DejaVu Sans Condensed','Liberation Sans',sans-serif" textLength="51" lengthAdjust="spacingAndGlyphs">1.15664</text><text x="1853" y="453.1" font-size="13.4" fill="#000" font-family="'DejaVu Sans Condensed','Liberation Sans',sans-serif" textLength="51" lengthAdjust="spacingAndGlyphs">1.15619</text><text x="1853" y="520.4" font-size="13.4" fill="#000" font-family="'DejaVu Sans Condensed','Liberation Sans',sans-serif" textLength="51" lengthAdjust="spacingAndGlyphs">1.15574</text><text x="1853" y="587.6" font-size="13.4" fill="#000" font-family="'DejaVu Sans Condensed','Liberation Sans',sans-serif" textLength="51" lengthAdjust="spacingAndGlyphs">1.15529</text><text x="1853" y="654.9" font-size="13.4" fill="#000" font-family="'DejaVu Sans Condensed','Liberation Sans',sans-serif" textLength="51" lengthAdjust="spacingAndGlyphs">1.15484</text><text x="1853" y="722.2" font-size="13.4" fill="#000" font-family="'DejaVu Sans Condensed','Liberation Sans',sans-serif" textLength="51" lengthAdjust="spacingAndGlyphs">1.15439</text><text x="1853" y="789.5" font-size="13.4" fill="#000" font-family="'DejaVu Sans Condensed','Liberation Sans',sans-serif" textLength="51" lengthAdjust="spacingAndGlyphs">1.15394</text><rect x="1848" y="620" width="62" height="17" fill="#ffd700" shape-rendering="crispEdges"/><text x="1853" y="634" font-size="13.4" fill="#fff" font-family="'DejaVu Sans Condensed','Liberation Sans',sans-serif" textLength="51" lengthAdjust="spacingAndGlyphs">1.15500</text><rect x="1848" y="351" width="62" height="17" fill="#000" shape-rendering="crispEdges"/><text x="1853" y="365" font-size="13.4" fill="#fff" font-family="'DejaVu Sans Condensed','Liberation Sans',sans-serif" textLength="51" lengthAdjust="spacingAndGlyphs">1.15678</text><text x="4.5" y="839.8" font-size="13.4" fill="#000" font-family="'DejaVu Sans Condensed','Liberation Sans',sans-serif" textLength="72" lengthAdjust="spacingAndGlyphs">4 Nov 2021</text><text x="132.5" y="839.8" font-size="13.4" fill="#000" font-family="'DejaVu Sans Condensed','Liberation Sans',sans-serif" textLength="77.5" lengthAdjust="spacingAndGlyphs">4 Nov 09:45</text><text x="260.5" y="839.8" font-size="13.4" fill="#000" font-family="'DejaVu Sans Condensed','Liberation Sans',sans-serif" textLength="77.5" lengthAdjust="spacingAndGlyphs">4 Nov 10:17</text><text x="388.5" y="839.8" font-size="13.4" fill="#000" font-family="'DejaVu Sans Condensed','Liberation Sans',sans-serif" textLength="77.5" lengthAdjust="spacingAndGlyphs">4 Nov 10:49</text><text x="516.5" y="839.8" font-size="13.4" fill="#000" font-family="'DejaVu Sans Condensed','Liberation Sans',sans-serif" textLength="77.5" lengthAdjust="spacingAndGlyphs">4 Nov 11:21</text><text x="644.5" y="839.8" font-size="13.4" fill="#000" font-family="'DejaVu Sans Condensed','Liberation Sans',sans-serif" textLength="77.5" lengthAdjust="spacingAndGlyphs">4 Nov 11:53</text><text x="772.5" y="839.8" font-size="13.4" fill="#000" font-family="'DejaVu Sans Condensed','Liberation Sans',sans-serif" textLength="77.5" lengthAdjust="spacingAndGlyphs">4 Nov 12:25</text><text x="900.5" y="839.8" font-size="13.4" fill="#000" font-family="'DejaVu Sans Condensed','Liberation Sans',sans-serif" textLength="77.5" lengthAdjust="spacingAndGlyphs">4 Nov 12:57</text><text x="1028.5" y="839.8" font-size="13.4" fill="#000" font-family="'DejaVu Sans Condensed','Liberation Sans',sans-serif" textLength="77.5" lengthAdjust="spacingAndGlyphs">4 Nov 13:29</text><text x="1156.5" y="839.8" font-size="13.4" fill="#000" font-family="'DejaVu Sans Condensed','Liberation Sans',sans-serif" textLength="77.5" lengthAdjust="spacingAndGlyphs">4 Nov 14:01</text><text x="1284.5" y="839.8" font-size="13.4" fill="#000" font-family="'DejaVu Sans Condensed','Liberation Sans',sans-serif" textLength="77.5" lengthAdjust="spacingAndGlyphs">4 Nov 14:33</text><text x="1412.5" y="839.8" font-size="13.4" fill="#000" font-family="'DejaVu Sans Condensed','Liberation Sans',sans-serif" textLength="77.5" lengthAdjust="spacingAndGlyphs">4 Nov 15:05</text><text x="1540.5" y="839.8" font-size="13.4" fill="#000" font-family="'DejaVu Sans Condensed','Liberation Sans',sans-serif" textLength="77.5" lengthAdjust="spacingAndGlyphs">4 Nov 15:37</text><text x="1668.5" y="839.8" font-size="13.4" fill="#000" font-family="'DejaVu Sans Condensed','Liberation Sans',sans-serif" textLength="77.5" lengthAdjust="spacingAndGlyphs">4 Nov 16:09</text><text x="1796.5" y="839.8" font-size="13.4" fill="#000" font-family="'DejaVu Sans Condensed','Liberation Sans',sans-serif" textLength="77.5" lengthAdjust="spacingAndGlyphs">4 Nov 16:41</text></svg><svg x="1920" y="851" width="1920" height="851" viewBox="0 0 1920 851" overflow="hidden"><g shape-rendering="crispEdges"><rect x="0" y="0" width="1920" height="851" fill="#fff"/><rect x="0" y="0" width="1919" height="1" fill="#a0a0a0"/><rect x="0" y="0" width="1" height="850" fill="#a0a0a0"/><rect x="1" y="1" width="1917" height="1" fill="#696969"/><rect x="1" y="1" width="1" height="848" fill="#696969"/><rect x="1" y="849" width="1918" height="1" fill="#e3e3e3"/><rect x="1918" y="1" width="1" height="849" fill="#e3e3e3"/></g><defs><clipPath id="cp4"><rect x="5" y="5" width="1841" height="817"/></clipPath></defs><g clip-path="url(#cp4)"><g shape-rendering="crispEdges" fill="#ffb6c1"><rect x="253" y="4" width="136" height="134"/><rect x="561" y="260" width="108" height="307"/><rect x="1009" y="436" width="48" height="86"/><rect x="1105" y="472" width="312" height="295"/><rect x="1797" y="607" width="50" height="205"/></g><path d="M13.5 6V812M73.5 6V812M133.5 6V812M193.5 6V812M253.5 6V812M313.5 6V812M373.5 6V812M433.5 6V812M493.5 6V812M553.5 6V812M613.5 6V812M673.5 6V812M733.5 6V812M793.5 6V812M853.5 6V812M913.5 6V812M973.5 6V812M1033.5 6V812M1093.5 6V812M1153.5 6V812M1213.5 6V812M1273.5 6V812M1333.5 6V812M1393.5 6V812M1453.5 6V812M1513.5 6V812M1573.5 6V812M1633.5 6V812M1693.5 6V812M1753.5 6V812M1813.5 6V812" stroke="#e0e0fa" stroke-width="1" stroke-dasharray="3 3" fill="none" shape-rendering="crispEdges"/><path d="M65 439.5H1846" stroke="#ffd700" stroke-width="1" stroke-dasharray="3 3" fill="none" shape-rendering="crispEdges"/><path d="M4.5 333.5 L190.3 333.5 L194.4 313.5 L429.9 313.5 L434 323.5 L669.9 323.5 L674 329.5 L909.5 329.5 L914 348.5 L1149.9 348.5 L1154 384.5 L1390.3 384.5 L1394.4 401.5 L1630.3 401.5 L1634.4 431.5 L1846.5 431.5" stroke="#000" stroke-width="1" fill="none" shape-rendering="crispEdges"/><g fill="none" stroke-width="2" stroke-linejoin="round" stroke-linecap="butt" shape-rendering="crispEdges"><path d="M4.9 197.1 L8.2 196.9 L11.4 196.6 L14.7 196.2 L18 195.8 L21.2 195.3 L24.5 194.8 L27.8 194.4 L31 193.9 L34.3 193.4 L37.6 193 L40.8 192.7 L44 192.4 L47.1 192.1 L50.2 191.9 L53.4 191.7 L56.5 191.5 L59.7 191.3 L62.8 191.1 L65.9 190.9 L69.1 190.7 L72.2 190.5 L75.4 190.3 L78.5 190.1 L81.6 189.8 L84.8 189.5 L87.9 189.2 L91.1 188.9 L94.2 188.6 L97.3 188.3 L100.5 188 L103.6 187.7 L106.8 187.3 L109.9 187 L113 186.7 L116.2 186.4 L119.3 186 L122.4 185.7 L125.6 185.4 L128.7 185.1 L131.9 184.8 L135 184.5 L138.1 184.2 L141.3 183.9 L144.4 183.6 L147.6 183.3 L150.7 183 L153.8 182.7 L157 182.3 L160.1 182 L163.3 181.6 L166.5 181.2 L169.8 180.8 L173.1 180.3 L176.3 179.9 L179.6 179.5 L182.9 179 L186.1 178.5 L189.4 177.9 L192.7 177.1 L195.9 176.3 L199.2 175.4 L202.4 174.4 L205.7 173.3 L209 172.1 L212.2 170.8 L215.5 169.5 L218.8 168.2 L222 166.8 L225.3 165.5 L228.6 164.1 L231.8 162.7 L235.1 161.3 L238.4 159.8 L241.6 158.3 L244.9 156.8 L248.2 155.2 L251.4 153.7 L254.7 152.1 L258 150.6 L261.2 149 L264.5 147.4 L267.8 145.8 L271 144.1 L274.3 142.4 L277.6 140.8 L280.8 139.1 L284.1 137.4 L287.3 135.8 L290.6 134.2 L293.9 132.7 L297.1 131.1 L300.4 129.6 L303.7 128.2 L306.9 126.7 L310.2 125.3 L313.5 123.9 L316.7 122.5 L320 121.1 L323.3 119.7 L326.5 118.4 L329.8 117 L333.1 115.7 L336.3 114.3 L339.6 113 L342.9 111.7 L346.1 110.4 L349.4 109.1 L352.7 107.8 L355.9 106.5 L359.2 105.3 L362.4 104 L365.5 102.6 L368.7 101.3 L371.9 100 L375.1 98.7 L378.2 97.4 L381.4 96.2 L384.6 95 L387.8 93.9 L390.8 92.6 L393.9 91.3 L396.9 90.1 L400 88.9 L403.1 87.8 L406.1 86.7 L409.2 85.8 L412.2 84.9 L415.6 83.9 L419 83.1 L422.4 82.4 L425.9 81.8 L429.3 81.3 L432.7 80.8 L435.7 80.5 L438.8 80.3 L441.8 80.2 L444.9 80.1 L448 80 L451 79.9 L454.1 79.8 L457.1 79.6 L460.2 79.3 L463.3 79 L466.3 78.6 L469.4 78.2 L472.4 77.8 L475.5 77.5 L478.6 77.1 L481.6 76.7 L485 76.3 L488.4 75.8 L491.8 75.4 L495.2 74.9 L498.6 74.6 L502 74.3 L505.9 74 L509.7 73.9 L513.5 73.9" stroke="#0000cd"/><path d="M513.5 73.9 L518.4 74.3 L521.6 75.2 L524.9 76.5 L528.2 77.9 L531.4 79.7 L534.7 81.6 L538 83.9 L541.2 86.4 L544.5 89.1 L547.8 91.9 L551 94.7 L554.3 97.5 L557.6 100.4 L560.8 103.4 L564.1 106.4 L567.3 109.4 L570.6 112.4 L573.9 115.3 L577.1 118.3 L580.4 121.4 L583.7 124.5 L586.9 127.6 L590.2 130.7 L593.5 133.9 L596.7 137.3 L600 140.8 L603.3 144.7 L606.5 148.8 L609.8 153 L613.1 157.2 L616.3 161.2 L619.4 165.8 L622.4 170.2 L625.5 174.6 L628.6 179.6 L631.6 185.3 L634.7 191.5 L637.8 197.8 L640.8 204.1 L643.9 210.1 L646.9 215.9 L650 222 L653.1 228.6 L656.3 234.4 L659.6 240.6 L662.9 246.9 L666.1 253.2 L669.4 259.2 L672.7 264.8 L675.9 270.4 L679.2 275.7 L682.4 280.9 L685.7 285.7 L689 290.3 L692.2 294.5 L695.5 298.5 L698.8 302.4 L702 306.1 L705.3 309.6 L708.6 312.9 L711.8 316.1 L715.1 319.2 L718.4 322.4 L721.6 325.7 L724.9 329.1 L728.2 332.4 L731.4 335.6 L734.7 338.8 L738 341.8 L741.2 344.6 L744.5 347.4 L747.8 350.2 L751 353.1 L754.3 356 L757.6 358.9 L760.8 361.8 L764.1 364.6 L767.3 367.3 L770.6 370 L773.9 372.5 L777.1 374.9 L780.4 377.3 L783.7 379.6 L786.9 381.8 L790.2 383.9 L793.5 386 L796.7 387.9 L800 389.8 L803.3 391.6 L806.5 393.2 L809.8 394.8 L813.1 396.4 L816.3 398 L819.6 399.6 L822.9 401.3 L826.1 402.9 L829.4 404.6 L832.7 406.1 L835.9 407.6 L839.2 409.1 L842.4 410.5 L845.7 411.8 L849 413.1 L852.2 414.2 L855.5 415.3 L858.8 416.3 L862 417.3 L865.3 418.4 L868.6 419.5 L871.8 420.6 L875.1 421.7 L878.4 422.8 L881.6 423.7 L884.9 424.4 L888.2 424.9 L891.4 425.3 L894.7 425.8 L898 426.5 L901.4 427.3 L904.8 428.1 L908.2 429 L911.6 429.9 L915 430.9 L918.4 431.8 L921.8 432.8 L925.2 433.7 L928.6 434.6 L932 435.6 L935.4 436.5 L938.8 437.6 L941.9 438.4 L945 439.3 L948 440.3 L951.1 441.2 L954.2 442.2 L957.3 443.1 L960.4 444.1 L963.8 445.2 L967.2 446.3 L970.6 447.4 L974 448.6 L977.4 449.8 L980.8 451 L984.2 452.3 L987.6 453.7 L991 455 L994.4 456.4 L997.8 457.8 L1001.2 459.2 L1004.6 460.5 L1008 461.9 L1011.4 463.3 L1014.8 464.6 L1018.2 466 L1021.6 467.3 L1025 468.7 L1028.4 470.2 L1031.8 471.6 L1035.2 473 L1038.6 474.3 L1042 475.5 L1045.4 476.6 L1048.8 477.6 L1052.2 478.5 L1055.6 479.4 L1059 480.1 L1062.4 480.8 L1065.9 481.4 L1069.3 481.9 L1072.7 482.3 L1076.1 482.6 L1079.5 482.9 L1082.9 483.3 L1086.3 483.5 L1089.7 483.7 L1093.1 483.9 L1096.5 484.1 L1099.9 484.4 L1103.3 484.9 L1106.7 485.6 L1110.1 486.4 L1113.5 487.4 L1116.9 488.4 L1120.3 489.5 L1123.7 490.6 L1127.1 491.7 L1130.5 492.9 L1133.9 494.1 L1137.3 495.3 L1140.7 496.6 L1144.1 498 L1147.1 499 L1150.2 500 L1153.3 501 L1156.3 502.1 L1159.4 503.2 L1162.4 504.3 L1165.5 505.6 L1168.6 506.9 L1171.6 508.4 L1174.7 509.9 L1177.8 511.4 L1180.8 513.1 L1183.9 514.8 L1186.9 516.6 L1190 518.5 L1193.1 520.4 L1196.1 522.4 L1199.2 524.6 L1202.2 526.8 L1205.3 529 L1208.4 531.4 L1211.4 533.8 L1214.5 536.3 L1217.6 538.8 L1220.6 541.4 L1223.7 544.1 L1226.7 547 L1229.8 549.9 L1232.9 552.8 L1235.9 555.7 L1239 558.5 L1242 561.2 L1245.1 563.9 L1248.2 566.6 L1251.2 569.2 L1254.3 571.8 L1257.3 574.4 L1260.4 576.9 L1263.5 579.3 L1266.5 581.6 L1269.6 583.8 L1272.7 585.9 L1275.7 587.9 L1278.8 589.8 L1281.8 591.7 L1284.9 593.7 L1288 595.8 L1291 598 L1294.1 600.3 L1297.1 602.7 L1300.2 605.2 L1303.3 607.8 L1306.3 610.4 L1309.4 613 L1312.4 615.7 L1315.5 618.4 L1318.6 621.1 L1321.6 623.9 L1324.7 626.7 L1327.8 629.6 L1330.8 632.5 L1333.9 635.3 L1336.9 638.1 L1340 640.8 L1343.1 643.5 L1346.1 646.2 L1349.2 648.8 L1352.2 651.4 L1355.3 654 L1358.4 656.5 L1361.4 658.9 L1364.5 661.2 L1367.9 664.2 L1371.3 667 L1374.7 669.8 L1378.1 672.4 L1381.5 675 L1384.9 677.6 L1388.2 680.6 L1391.4 683.6 L1394.7 686.6 L1398 689.3 L1401.2 691.8 L1404.5 694.1 L1407.8 696.1 L1411 697.9 L1414.3 699.6 L1417.6 701.2 L1420.8 702.8 L1424.1 704.4 L1427.3 705.9 L1430.6 707.1 L1433.9 708.2 L1437.1 708.9 L1440.4 709.4 L1443.7 709.8 L1446.9 710 L1450.2 710.2" stroke="#dc143c"/><path d="M1450.2 710.2 L1453.3 710.5 L1456.3 710.2 L1459.4 709.9 L1462.4 709.5 L1465.5 709 L1468.6 708.4 L1471.6 707.9 L1474.7 707.3 L1478.1 706.9 L1481.5 706.4 L1484.9 705.9 L1488.3 705.4 L1491.7 704.8 L1495.1 704.1 L1498.2 703.5 L1501.2 702.8 L1504.3 702 L1507.3 701.2 L1510.4 700.4 L1513.5 699.6 L1516.5 698.7 L1519.6 698 L1522.9 696.8 L1526.1 695.7 L1529.4 694.6 L1532.7 693.3 L1535.9 691.8 L1539.2 690.1 L1542.4 688.2 L1545.7 686.2 L1549 684 L1552.2 681.6 L1555.5 679.1 L1558.8 676.3 L1562 673.4 L1565.3 670.4 L1568.6 667.3 L1571.8 664.2 L1575.1 661 L1578.4 657.6 L1581.6 654.3 L1584.9 651 L1588.2 647.7 L1591.4 644.3 L1594.7 640.9 L1598 637.7 L1601.2 634.7 L1604.5 631.9 L1607.8 629.4 L1611 626.9 L1614.3 624.6 L1617.6 622.4 L1620.8 620.4 L1624.1 618.5 L1627.3 616.6 L1630.6 614.9 L1633.9 613.1 L1637.3 611.5 L1640.7 610 L1644.1 608.5 L1647.5 607 L1650.9 605.5 L1654.3 604.1 L1657.7 602.7 L1661.1 601.2 L1664.5 599.8 L1667.9 598.5 L1671.3 597.2 L1674.7 595.9 L1678.1 594.8 L1681.5 593.7 L1684.9 592.6 L1688.3 591.6 L1691.7 590.7 L1695.1 589.8 L1698.5 589 L1701.9 588.3 L1705.3 587.7 L1708.7 587.1 L1712.1 586.4 L1715.5 585.7 L1718.9 584.9 L1722.3 584 L1725.7 583.1 L1729.1 582.1 L1732.5 581.2 L1735.9 580.4 L1739.3 579.6 L1742.7 578.8 L1746.1 578.1 L1749.5 577.4 L1752.9 576.8 L1756.3 576.3 L1759.4 575.9 L1762.4 575.7 L1765.5 575.6 L1768.6 575.5" stroke="#0000cd"/><path d="M1768.6 575.5 L1771.6 575.3 L1774.7 575.5 L1777.8 575.7 L1780.8 575.9 L1783.9 576.2 L1786.9 576.6 L1790 577 L1793.1 577.6 L1796.3 578.3 L1799.6 579.3 L1802.9 580.3 L1806.1 581.4 L1809.4 582.4 L1812.7 583.5 L1815.9 584.5 L1819.2 585.6 L1822.4 586.6 L1825.7 587.8 L1829 588.8 L1832.2 590 L1835.5 591.1 L1838.8 592.3 L1842 593.2 L1845.3 593.9" stroke="#dc143c"/></g><g fill="none" stroke-width="2" stroke-linejoin="round" stroke-linecap="butt" shape-rendering="crispEdges"><path d="M4.9 165.3 L10.2 163.3 L14.3 160 L18.4 157.1" stroke="#0000cd"/><path d="M18.4 157.1 L21.4 157.2 L24.5 158.4 L27.6 158.9 L30.6 159.5 L33.7 160.2 L36.7 161.2 L39.8 162.6 L42.9 164.3 L45.9 166 L49 167.3 L52 168.2 L55.1 168.8 L58.2 169.2 L61.2 169.4" stroke="#dc143c"/><path d="M61.2 169.4 L64.3 169.2 L67.3 168.6 L70.9 168.2 L74.5 167.7 L78.1 167.1 L81.6 166.5 L84.9 166.1 L88.2 165.5 L91.4 165 L94.7 164.5 L98 164.1 L101.2 163.7 L104.5 163.3 L107.8 162.9 L111 162.6 L114.3 162.4" stroke="#0000cd"/><path d="M114.3 162.4 L117.3 162.7 L120.4 163.3 L123.8 163.7 L127.2 164.2 L130.6 164.5 L134.7 164.1 L138.8 163.3" stroke="#dc143c"/><path d="M138.8 163.3 L142.9 162.5 L146.9 161.2 L150.3 160.6 L153.7 160.1 L157.1 159.4 L160.5 158.5 L163.9 157.4 L167.3 155.9 L170.6 153.4 L173.9 150.3 L177.1 147 L180.4 143.7 L183.7 140.8 L186.9 138.4 L190.2 136.1 L193.5 134 L196.7 132.2 L200 130.6 L203.3 129.5 L206.5 128.8 L209.8 128.3 L213.1 127.6 L216.3 126.5 L219.4 124.6 L222.4 122.3 L225.5 119.6 L228.6 116.3 L231.6 112.2 L234.7 107.4 L237.8 102.5 L240.8 98 L244.1 94.7 L247.3 91.4 L250.6 88.4 L253.9 85.7 L257.1 83.7 L260.2 82.1 L263.3 81.4 L266.3 81.1 L269.4 80.8 L273.5 79.9 L277.6 79.6" stroke="#0000cd"/><path d="M277.6 79.6 L280.6 79.8 L283.7 80.8 L287.1 82.2 L290.5 84.1 L293.9 85.7 L297.3 87.1 L300.7 88.3 L304.1 89" stroke="#dc143c"/><path d="M304.1 89 L307.1 89.1 L310.2 88.8 L313.3 88.4 L316.3 87.8 L319.7 86.6 L323.1 85.1 L326.5 83.7 L329.6 82.7 L332.7 81.6 L335.7 80.6 L338.8 79.6 L342 78.7 L345.3 77.9 L348.6 77 L351.8 76.2 L355.1 75.5 L358.4 74.9 L361.6 74.4 L364.9 74 L368.2 73.7 L371.4 73.5 L374.8 73.2 L378.2 73.2 L381.6 73.5" stroke="#0000cd"/><path d="M381.6 73.5 L384.7 74 L387.8 75.5 L390.8 77.1 L393.9 79.2 L396.9 81.5 L400 83.7 L403.1 85.8 L406.1 87.9 L409.2 89.9 L412.2 91.8 L415.3 93.5 L418.4 94.9 L421.4 96.4 L424.5 98 L427.9 100.4 L431.3 102.9 L434.7 105.3 L438.8 108.8 L442.9 111" stroke="#dc143c"/><path d="M442.9 111 L445.9 110.5 L449 108.2 L452 106.5 L455.1 104.4 L458.2 102.2 L461.2 100 L464.3 97.8 L467.3 95.5 L470.4 93.4 L473.5 91.8 L478.4 90.6" stroke="#0000cd"/><path d="M478.4 90.6 L483.7 94.7 L487.2 95.5 L490.8 96.2 L494.4 97 L498 98 L501 99 L504.1 100.2 L507.1 101.8 L510.2 104.1 L514.3 110.2 L518.4 120.4 L522.4 138.8 L526.5 159.2 L530.6 176.5 L534.7 191.8 L538.8 204.5 L542.9 214.3 L546.9 220.3 L551 224.5 L554.4 227.4 L557.8 230 L561.2 232.7 L564.6 235.1 L568 237.6 L571.4 240.8 L575.5 247.4 L579.6 255.1 L583 260.2 L586.4 265.6 L589.8 271.4 L593.9 281 L598 291.8 L602 304.6 L606.1 318.4 L609.2 332.5 L612.2 346.9 L616.3 361.4 L620.4 375.5 L624.5 389 L628.6 402 L632.7 414.9 L636.7 426.5 L640.8 435.7 L644.9 442.9 L649 447.9 L653.1 451 L658 452.2" stroke="#dc143c"/><path d="M658 452.2 L663.3 450.2 L666.8 448.9 L670.4 447.3 L674 445.3 L677.6 442.9 L680.8 440.4 L684.1 437.6 L687.3 434.6 L690.6 431.5 L693.9 428.6 L697.1 425.8 L700.4 423.2 L703.7 420.6 L706.9 417.7 L710.2 414.3 L713.5 410.1 L716.7 405.3 L720 400.3 L723.3 395.7 L726.5 391.8 L729.6 388.3 L732.7 385.5 L735.7 383.4 L738.8 381.6 L741.8 380.4 L744.9 379.6 L748 379.2 L751 378.8 L755.1 378.1 L759.2 377.6 L763.3 376.6 L767.3 375.5 L771.4 374.8 L775.5 373.5 L778.8 372.4 L782 371.1 L785.3 369.6 L788.6 368 L791.8 366.5 L794.9 364.7 L798 362.9 L801 361 L804.1 359.2 L807.3 357.6 L810.6 355.9 L813.9 354.3 L817.1 352.9 L820.4 351.8 L824.5 350.9 L828.6 351" stroke="#0000cd"/><path d="M828.6 351 L831.6 351.4 L834.7 351.8 L837.8 352 L840.8 352.2 L843.9 352.3 L846.9 352.2" stroke="#dc143c"/><path d="M846.9 352.2 L850 351.8 L853.1 350.2 L856.1 348.5 L859.2 346.2 L862.2 343.9 L865.3 342 L868.4 340.8 L871.4 339.9 L874.5 339.2 L877.6 338.8 L880.6 338.4 L883.7 338.8" stroke="#0000cd"/><path d="M883.7 338.8 L886.7 339.4 L889.8 340.8 L892.9 342 L895.9 343.4 L899 345 L902 346.9 L905.1 349.3 L908.2 351.9 L911.2 354.6 L914.3 357.1 L917.3 359.4 L920.4 361.5 L923.5 363.5 L926.5 365.3 L929.6 366.7 L932.7 367.7 L935.7 368.8 L938.8 370.6 L942.1 373.4 L945.5 376.7 L948.9 380.3 L952.2 383.7 L955.3 386.8 L958.4 389.8 L961.4 392.9 L964.5 395.9 L967.8 398.4 L971 400.8 L974.3 403.3 L977.6 405.7 L980.8 408.2 L984.1 410.6 L987.3 413 L990.6 415.4 L993.9 417.8 L997.1 420.4 L1000.4 423.1 L1003.7 425.9 L1006.9 428.7 L1010.2 431.7 L1013.5 434.7 L1016.7 437.9 L1020 441.4 L1023.3 444.9 L1026.5 448.2 L1029.8 451 L1032.9 454 L1035.9 456.6 L1039 458.8 L1042 460.4 L1046.9 462" stroke="#dc143c"/><path d="M1046.9 462 L1052.2 459.2 L1055.6 458 L1059 456.8 L1062.4 455.9 L1066.1 455.2 L1069.8 455.1" stroke="#0000cd"/><path d="M1069.8 455.1 L1074.7 456.3 L1078 456.8 L1081.2 457.4 L1084.5 458 L1087.8 458.6 L1091 459.2 L1094.4 459.5 L1097.8 459.8 L1101.2 461.2 L1104.3 466.6 L1107.3 473.5 L1111.4 480.7 L1115.5 487.8 L1118.6 490.6 L1121.6 493.2 L1124.7 495.6 L1127.8 498 L1130.8 500.1 L1133.9 502.1 L1136.9 504.1 L1140 506.1 L1143.3 507.9 L1146.5 509.9 L1149.8 511.8 L1153.1 513.6 L1156.3 515.1 L1159.6 516.1 L1162.9 516.7 L1166.1 517.3 L1169.4 518 L1172.7 519.2 L1176.7 523.6 L1180.8 530.6 L1183.9 535.7 L1186.9 541.8 L1190 548.4 L1193.1 555.1 L1196.1 562.2 L1199.2 569.9 L1202.2 577.3 L1205.3 583.7 L1209.4 592.7 L1213.5 600 L1216.5 603.9 L1219.6 607.7 L1222.7 611.3 L1225.7 614.3 L1229.8 618.6 L1233.9 621.2 L1236.9 622 L1240 622.3 L1243.1 622.4 L1246.1 622.4 L1249.4 622.5 L1252.7 622.6 L1255.9 622.6 L1259.2 622.5 L1262.4 622.4" stroke="#dc143c"/><path d="M1262.4 622.4 L1266.5 621.2 L1269.6 620.6 L1272.7 619.8 L1275.7 619.1 L1278.8 618.4 L1282.9 616.9 L1286.9 616.3" stroke="#0000cd"/><path d="M1286.9 616.3 L1291 620.4 L1294.1 624.1 L1297.1 629.1 L1300.2 634.3 L1303.3 638.8 L1306.3 642.2 L1309.4 645.2 L1312.4 648 L1315.5 651 L1318.6 654.6 L1321.6 658.4 L1324.7 662.1 L1327.8 665.3 L1331.3 668.1 L1334.9 670.7 L1338.5 672.8 L1342 674.3" stroke="#dc143c"/><path d="M1342 674.3 L1346.1 674.3 L1350.2 673.8 L1354.3 673.5" stroke="#0000cd"/><path d="M1354.3 673.5 L1357.3 673.8 L1360.4 675.5 L1363.5 677.5 L1366.5 680.2 L1369.6 683.1 L1372.7 685.7 L1375.7 688 L1378.8 690.2 L1381.8 692.2 L1384.9 693.9 L1389.4 696.2 L1393.9 697.1" stroke="#dc143c"/><path d="M1393.9 697.1 L1399.2 693.9 L1402.6 692 L1406 689.9 L1409.4 687.8 L1413.5 684.7 L1417.6 681.6 L1421.6 679.3 L1425.7 675.5 L1429.8 667.3 L1433.9 657.1 L1436.9 651.8 L1440 646 L1443.1 640.3 L1446.1 634.7 L1449.2 629.2 L1452.2 623.8 L1455.3 618.7 L1458.4 614.3 L1461.8 609.6 L1465.2 605.9 L1468.6 603.3 L1471.6 601.8 L1474.7 602" stroke="#0000cd"/><path d="M1474.7 602 L1477.8 603.1 L1480.8 604.1" stroke="#dc143c"/><path d="M1480.8 604.1 L1483.9 604 L1486.9 602 L1490.3 598.6 L1493.7 594 L1497.1 589.8 L1501.2 585.2 L1505.3 581.6 L1508.7 580.5 L1512.1 579.8 L1515.5 577.6 L1518.6 574.1 L1521.6 569.6 L1524.7 564.5 L1527.8 559.2 L1531.8 547.2 L1535.9 534.7 L1540 523 L1544.1 512.2 L1548.2 503.4 L1552.2 495.9 L1556.3 489.4 L1560.4 483.7 L1563.8 480.2 L1567.2 477 L1570.6 474.3 L1574 472.2 L1577.4 470.6 L1580.8 469.4 L1584.2 468.6 L1587.6 468.3 L1591 468.2" stroke="#0000cd"/><path d="M1591 468.2 L1594.1 468.2 L1597.1 469.4 L1601.2 472.7 L1605.3 477.6 L1609.4 483.9 L1613.5 491.8 L1616.5 496.8 L1619.6 502.4 L1622.7 507.9 L1625.7 512.2 L1629.8 517.2 L1633.9 520.4 L1636.9 522.1 L1640 523.8 L1643.1 525.2 L1646.1 526.5 L1649.2 527.5 L1652.2 528.2 L1655.3 528.9 L1658.4 529.8 L1661.8 531 L1665.2 532.3 L1668.6 534.7 L1672 538.8 L1675.4 543.9 L1678.8 549 L1681.8 552.6 L1684.9 556.4 L1688 560 L1691 563.3 L1694.4 567.5 L1697.8 571.2 L1701.2 573.5" stroke="#dc143c"/><path d="M1701.2 573.5 L1704.3 572.8 L1707.3 570.6 L1711.4 569.3 L1715.5 568.2 L1719.1 567.8 L1722.7 567.5 L1726.2 567.3 L1729.8 567.3" stroke="#0000cd"/><path d="M1729.8 567.3 L1732.9 567.9 L1735.9 569.4 L1739.5 570.3 L1743.1 571.3 L1746.6 572.9 L1750.2 575.5 L1753.6 581.6 L1757 589.3 L1760.4 595.9 L1763.5 599.2 L1766.5 601.8 L1769.6 604 L1772.7 606.1 L1775.7 608.2 L1778.8 610.1 L1781.8 612 L1784.9 614.3 L1788.3 617.8 L1791.7 621.8 L1795.1 626.5 L1798.5 632.4 L1801.9 638.9 L1805.3 644.9 L1808.4 649 L1811.4 652.9 L1814.5 656.4 L1817.6 659.2 L1820.6 662.2 L1823.7 663.3" stroke="#dc143c"/><path d="M1823.7 663.3 L1826.7 662.8 L1829.8 661.2 L1833.9 658.9 L1838 657.1" stroke="#0000cd"/><path d="M1838 657.1 L1841 658.5 L1844.1 660.4" stroke="#dc143c"/></g><rect x="5" y="131" width="61" height="18" fill="#d3d3d3" shape-rendering="crispEdges"/><text x="5.6" y="144.8" font-size="16.5" fill="#000" font-family="'Liberation Sans',sans-serif" textLength="47.5" lengthAdjust="spacingAndGlyphs">114.20</text><rect x="5" y="280" width="61" height="18" fill="#d3d3d3" shape-rendering="crispEdges"/><text x="5.6" y="293.8" font-size="16.5" fill="#000" font-family="'Liberation Sans',sans-serif" textLength="47.5" lengthAdjust="spacingAndGlyphs">114.10</text><rect x="5" y="430" width="61" height="18" fill="#d3d3d3" shape-rendering="crispEdges"/><text x="5.6" y="443.8" font-size="16.5" fill="#000" font-family="'Liberation Sans',sans-serif" textLength="47.5" lengthAdjust="spacingAndGlyphs">114.00</text><rect x="5" y="580" width="61" height="18" fill="#d3d3d3" shape-rendering="crispEdges"/><text x="5.6" y="593.8" font-size="16.5" fill="#000" font-family="'Liberation Sans',sans-serif" textLength="47.5" lengthAdjust="spacingAndGlyphs">113.90</text><rect x="5" y="729" width="61" height="18" fill="#d3d3d3" shape-rendering="crispEdges"/><text x="5.6" y="742.8" font-size="16.5" fill="#000" font-family="'Liberation Sans',sans-serif" textLength="47.5" lengthAdjust="spacingAndGlyphs">113.80</text><g shape-rendering="crispEdges"><path d="M5 155h1v26h-1zM9 144h1v29h-1zM13 125h1v27h-1zM17 126h1v17h-1zM21 133h1v17h-1zM25 140h1v33h-1zM29 137h1v25h-1zM33 139h1v42h-1zM41 173h1v13h-1zM45 177h1v10h-1zM49 175h1v25h-1zM53 190h1v12h-1zM57 175h1v47h-1zM61 165h1v21h-1zM65 165h1v9h-1zM69 159h1v10h-1zM73 149h1v15h-1zM77 154h1v11h-1zM81 160h1v12h-1zM85 152h1v23h-1zM89 155h1v17h-1zM93 154h1v23h-1zM97 148h1v17h-1zM101 159h1v4h-1zM105 158h1v6h-1zM109 156h1v7h-1zM113 156h1v10h-1zM117 152h1v18h-1zM121 153h1v21h-1zM125 151h1v23h-1zM129 155h1v15h-1zM133 152h1v14h-1zM137 145h1v21h-1zM141 147h1v11h-1zM145 148h1v36h-1zM149 143h1v19h-1zM153 137h1v14h-1zM157 139h1v26h-1zM161 148h1v13h-1zM165 136h1v23h-1zM173 133h1v17h-1zM177 128h1v18h-1zM181 121h1v11h-1zM185 98h1v26h-1zM189 96h1v21h-1zM193 100h1v17h-1zM197 89h1v31h-1zM201 95h1v26h-1zM205 108h1v17h-1zM209 107h1v9h-1zM213 89h1v36h-1zM217 99h1v34h-1zM221 94h1v22h-1zM225 76h1v47h-1zM233 52h1v29h-1zM237 40h1v33h-1zM241 42h1v41h-1zM245 78h1v12h-1zM249 53h1v49h-1zM253 47h1v25h-1zM257 41h1v22h-1zM261 39h1v31h-1zM265 55h1v37h-1zM269 69h1v33h-1zM273 66h1v42h-1zM277 71h1v7h-1zM281 56h1v19h-1zM285 62h1v38h-1zM289 87h1v16h-1zM293 84h1v19h-1zM297 76h1v13h-1zM301 76h1v40h-1zM305 76h1v36h-1zM309 90h1v8h-1zM313 90h1v8h-1zM317 86h1v14h-1zM321 78h1v22h-1zM325 66h1v26h-1zM329 51h1v22h-1zM333 46h1v12h-1zM337 49h1v15h-1zM341 56h1v14h-1zM345 62h1v29h-1zM349 64h1v23h-1zM353 68h1v21h-1zM357 63h1v18h-1zM361 65h1v18h-1zM365 53h1v20h-1zM369 51h1v14h-1zM373 53h1v26h-1zM377 69h1v12h-1zM381 77h1v8h-1zM385 73h1v13h-1zM389 68h1v13h-1zM393 77h1v18h-1zM397 82h1v28h-1zM401 90h1v29h-1zM405 111h1v5h-1zM409 103h1v12h-1zM413 104h1v25h-1zM417 109h1v15h-1zM421 111h1v15h-1zM425 111h1v28h-1zM429 109h1v31h-1zM433 113h1v41h-1zM437 124h1v24h-1zM441 132h1v46h-1zM445 82h1v61h-1zM449 89h1v13h-1zM453 73h1v28h-1zM457 55h1v27h-1zM461 56h1v19h-1zM465 70h1v9h-1zM469 28h1v54h-1zM473 46h1v28h-1zM477 68h1v32h-1zM481 78h1v38h-1zM485 100h1v50h-1zM489 84h1v66h-1zM493 79h1v17h-1zM497 88h1v40h-1zM501 101h1v27h-1zM505 117h1v40h-1zM509 112h1v45h-1zM513 126h1v36h-1zM517 151h1v46h-1zM521 187h1v168h-1zM525 155h1v166h-1zM529 296h1v25h-1zM533 302h1v33h-1zM537 306h1v40h-1zM541 314h1v30h-1zM545 268h1v70h-1zM549 271h1v40h-1zM557 254h1v42h-1zM561 261h1v36h-1zM565 273h1v30h-1zM573 260h1v32h-1zM577 252h1v87h-1zM581 294h1v54h-1zM585 309h1v19h-1zM589 305h1v47h-1zM593 316h1v58h-1zM597 343h1v40h-1zM601 369h1v61h-1zM605 408h1v31h-1zM609 406h1v75h-1zM613 468h1v46h-1zM617 488h1v46h-1zM621 510h1v18h-1zM625 516h1v24h-1zM629 504h1v40h-1zM633 494h1v58h-1zM637 522h1v41h-1zM641 502h1v49h-1zM645 501h1v21h-1zM649 488h1v46h-1zM653 474h1v29h-1zM657 477h1v50h-1zM661 444h1v71h-1zM665 414h1v52h-1zM669 413h1v19h-1zM673 418h1v11h-1zM677 401h1v24h-1zM681 406h1v22h-1zM685 404h1v25h-1zM689 389h1v22h-1zM693 395h1v8h-1zM697 393h1v13h-1zM705 375h1v20h-1zM709 380h1v11h-1zM713 356h1v34h-1zM717 357h1v10h-1zM721 340h1v27h-1zM725 338h1v12h-1zM729 337h1v23h-1zM733 332h1v20h-1zM737 334h1v28h-1zM741 337h1v41h-1zM745 359h1v17h-1zM749 364h1v11h-1zM753 365h1v22h-1zM757 365h1v34h-1zM761 359h1v18h-1zM765 367h1v13h-1zM773 371h1v12h-1zM777 363h1v25h-1zM781 358h1v28h-1zM785 350h1v20h-1zM789 350h1v13h-1zM793 342h1v12h-1zM797 321h1v32h-1zM801 323h1v13h-1zM805 314h1v32h-1zM809 328h1v14h-1zM813 333h1v12h-1zM817 337h1v13h-1zM821 335h1v17h-1zM825 326h1v32h-1zM829 349h1v19h-1zM833 351h1v6h-1zM837 336h1v17h-1zM841 343h1v17h-1zM845 355h1v5h-1zM849 340h1v21h-1zM853 337h1v13h-1zM857 331h1v14h-1zM861 317h1v26h-1zM865 312h1v18h-1zM873 314h1v14h-1zM877 311h1v28h-1zM881 325h1v14h-1zM885 330h1v24h-1zM889 341h1v7h-1zM893 339h1v9h-1zM897 341h1v5h-1zM901 338h1v35h-1zM905 360h1v18h-1zM909 370h1v18h-1zM913 373h1v33h-1zM917 388h1v17h-1zM921 396h1v9h-1zM925 392h1v11h-1zM929 386h1v13h-1zM933 383h1v13h-1zM937 382h1v15h-1zM941 388h1v11h-1zM945 383h1v15h-1zM949 384h1v23h-1zM953 402h1v22h-1zM957 413h1v14h-1zM961 407h1v34h-1zM965 424h1v13h-1zM969 425h1v13h-1zM973 415h1v18h-1zM977 420h1v13h-1zM981 426h1v32h-1zM985 435h1v23h-1zM989 436h1v7h-1zM993 435h1v11h-1zM997 403h1v52h-1zM1001 435h1v24h-1zM1005 434h1v18h-1zM1009 444h1v20h-1zM1013 456h1v24h-1zM1017 465h1v23h-1zM1021 481h1v12h-1zM1025 444h1v50h-1zM1029 476h1v12h-1zM1033 475h1v14h-1zM1037 478h1v23h-1zM1041 482h1v24h-1zM1045 469h1v20h-1zM1049 450h1v26h-1zM1053 444h1v15h-1zM1057 436h1v12h-1zM1061 402h1v43h-1zM1065 419h1v25h-1zM1069 439h1v14h-1zM1073 445h1v12h-1zM1077 449h1v15h-1zM1081 450h1v13h-1zM1085 451h1v21h-1zM1089 449h1v26h-1zM1093 455h1v18h-1zM1097 453h1v20h-1zM1101 454h1v42h-1zM1105 469h1v72h-1zM1109 514h1v50h-1zM1113 546h1v53h-1zM1117 525h1v37h-1zM1121 499h1v42h-1zM1125 525h1v17h-1zM1129 519h1v17h-1zM1133 505h1v49h-1zM1137 489h1v33h-1zM1141 505h1v51h-1zM1145 521h1v43h-1zM1149 501h1v60h-1zM1153 500h1v18h-1zM1157 498h1v46h-1zM1161 526h1v34h-1zM1165 526h1v33h-1zM1169 510h1v46h-1zM1173 518h1v26h-1zM1177 506h1v83h-1zM1181 566h1v41h-1zM1185 578h1v41h-1zM1189 601h1v26h-1zM1193 610h1v49h-1zM1197 609h1v41h-1zM1201 616h1v49h-1zM1205 654h1v49h-1zM1209 676h1v28h-1zM1213 679h1v76h-1zM1217 663h1v50h-1zM1221 650h1v65h-1zM1225 643h1v58h-1zM1229 644h1v24h-1zM1233 646h1v45h-1zM1237 620h1v48h-1zM1241 606h1v39h-1zM1245 612h1v31h-1zM1249 618h1v29h-1zM1253 618h1v23h-1zM1257 604h1v28h-1zM1261 591h1v24h-1zM1265 609h1v25h-1zM1269 607h1v21h-1zM1273 584h1v31h-1zM1277 587h1v31h-1zM1281 604h1v32h-1zM1285 602h1v33h-1zM1289 616h1v26h-1zM1293 625h1v24h-1zM1297 591h1v80h-1zM1301 659h1v39h-1zM1305 679h1v24h-1zM1309 671h1v29h-1zM1313 676h1v25h-1zM1317 661h1v35h-1zM1321 659h1v44h-1zM1325 685h1v48h-1zM1329 707h1v15h-1zM1333 696h1v28h-1zM1337 680h1v36h-1zM1341 683h1v39h-1zM1345 673h1v41h-1zM1349 648h1v34h-1zM1353 655h1v12h-1zM1357 664h1v20h-1zM1361 666h1v19h-1zM1365 670h1v44h-1zM1369 698h1v16h-1zM1373 705h1v27h-1zM1377 704h1v33h-1zM1381 696h1v36h-1zM1385 688h1v61h-1zM1389 699h1v55h-1zM1393 712h1v23h-1zM1397 668h1v87h-1zM1401 648h1v33h-1zM1405 624h1v31h-1zM1409 640h1v35h-1zM1413 669h1v19h-1zM1417 642h1v44h-1zM1421 632h1v23h-1zM1425 630h1v10h-1zM1429 615h1v22h-1zM1433 561h1v61h-1zM1437 567h1v29h-1zM1441 569h1v38h-1zM1445 554h1v32h-1zM1449 564h1v72h-1zM1453 518h1v102h-1zM1457 524h1v21h-1zM1461 482h1v98h-1zM1465 553h1v29h-1zM1469 539h1v64h-1zM1473 576h1v34h-1zM1477 588h1v24h-1zM1481 598h1v69h-1zM1485 569h1v60h-1zM1489 573h1v22h-1zM1493 529h1v51h-1zM1497 543h1v20h-1zM1501 536h1v20h-1zM1505 532h1v32h-1zM1509 528h1v34h-1zM1513 515h1v29h-1zM1517 518h1v19h-1zM1521 519h1v23h-1zM1525 497h1v31h-1zM1529 467h1v51h-1zM1533 443h1v47h-1zM1537 409h1v49h-1zM1541 408h1v17h-1zM1545 411h1v11h-1zM1553 418h1v31h-1zM1557 438h1v15h-1zM1561 422h1v32h-1zM1565 425h1v17h-1zM1569 423h1v26h-1zM1573 442h1v13h-1zM1577 426h1v46h-1zM1581 453h1v22h-1zM1585 438h1v32h-1zM1589 441h1v27h-1zM1593 448h1v24h-1zM1597 464h1v25h-1zM1601 477h1v31h-1zM1605 502h1v27h-1zM1609 520h1v19h-1zM1613 525h1v26h-1zM1617 548h1v13h-1zM1621 548h1v36h-1zM1625 575h1v10h-1zM1629 562h1v15h-1zM1633 547h1v31h-1zM1637 541h1v16h-1zM1641 535h1v20h-1zM1645 546h1v9h-1zM1649 540h1v18h-1zM1653 537h1v19h-1zM1657 524h1v26h-1zM1661 524h1v47h-1zM1665 553h1v31h-1zM1669 552h1v34h-1zM1673 582h1v29h-1zM1677 597h1v28h-1zM1681 592h1v29h-1zM1685 582h1v31h-1zM1689 584h1v44h-1zM1693 600h1v16h-1zM1697 578h1v34h-1zM1701 570h1v26h-1zM1705 535h1v42h-1zM1709 542h1v59h-1zM1713 540h1v25h-1zM1717 553h1v22h-1zM1721 562h1v8h-1zM1725 560h1v11h-1zM1729 542h1v35h-1zM1733 543h1v36h-1zM1737 559h1v46h-1zM1741 593h1v16h-1zM1745 591h1v12h-1zM1749 596h1v22h-1zM1753 599h1v32h-1zM1757 613h1v60h-1zM1761 638h1v30h-1zM1765 628h1v17h-1zM1769 616h1v18h-1zM1773 611h1v29h-1zM1777 589h1v57h-1zM1781 592h1v52h-1zM1785 605h1v40h-1zM1789 614h1v55h-1zM1793 635h1v23h-1zM1797 629h1v67h-1zM1801 677h1v41h-1zM1805 694h1v38h-1zM1809 710h1v25h-1zM1813 701h1v13h-1zM1817 665h1v63h-1zM1821 670h1v26h-1zM1825 665h1v36h-1zM1829 655h1v45h-1zM1833 629h1v39h-1zM1837 636h1v11h-1zM1841 637h1v58h-1zM1845 648h1v40h-1z" fill="#0e0e38"/><path d="M4 166h3v12h-3zM8 151h3v16h-3zM12 141h3v11h-3zM16 135h3v7h-3zM20 135h3v11h-3zM24 145h3v17h-3zM28 148h3v14h-3zM32 148h3v31h-3zM40 178h3v4h-3zM44 181h3v4h-3zM48 184h3v11h-3zM52 191h3v4h-3zM56 180h3v12h-3zM60 172h3v9h-3zM64 168h3v5h-3zM68 163h3v6h-3zM72 155h3v9h-3zM76 155h3v10h-3zM80 164h3v6h-3zM84 156h3v14h-3zM88 156h3v10h-3zM92 158h3v8h-3zM96 158h3v3h-3zM100 160h3v1h-3zM104 161h3v1h-3zM108 159h3v3h-3zM112 159h3v4h-3zM116 154h3v9h-3zM120 154h3v17h-3zM124 160h3v11h-3zM128 160h3v4h-3zM132 155h3v9h-3zM136 148h3v8h-3zM140 148h3v10h-3zM144 156h3v1h-3zM148 146h3v11h-3zM152 140h3v7h-3zM156 140h3v18h-3zM160 154h3v4h-3zM164 143h3v12h-3zM172 136h3v9h-3zM176 129h3v8h-3zM180 122h3v8h-3zM184 114h3v9h-3zM188 102h3v13h-3zM192 102h3v13h-3zM196 96h3v19h-3zM200 96h3v26h-3zM204 115h3v7h-3zM208 108h3v8h-3zM212 108h3v14h-3zM216 100h3v22h-3zM220 100h3v10h-3zM224 77h3v33h-3zM232 61h3v19h-3zM236 48h3v14h-3zM240 48h3v33h-3zM244 80h3v6h-3zM248 68h3v18h-3zM252 60h3v9h-3zM256 44h3v17h-3zM260 44h3v21h-3zM264 64h3v23h-3zM268 86h3v10h-3zM272 72h3v24h-3zM276 72h3v3h-3zM280 67h3v8h-3zM284 67h3v27h-3zM288 93h3v8h-3zM292 86h3v15h-3zM296 85h3v1h-3zM300 85h3v26h-3zM304 91h3v20h-3zM308 91h3v5h-3zM312 94h3v1h-3zM316 90h3v5h-3zM320 88h3v3h-3zM324 73h3v16h-3zM328 55h3v19h-3zM332 52h3v4h-3zM336 52h3v9h-3zM340 60h3v9h-3zM344 68h3v7h-3zM348 74h3v10h-3zM352 75h3v9h-3zM356 75h3v4h-3zM360 70h3v9h-3zM364 60h3v11h-3zM368 59h3v1h-3zM372 59h3v14h-3zM376 72h3v7h-3zM380 78h3v5h-3zM384 74h3v9h-3zM388 74h3v7h-3zM392 80h3v9h-3zM396 88h3v16h-3zM400 103h3v12h-3zM404 111h3v4h-3zM408 105h3v7h-3zM412 105h3v18h-3zM416 119h3v4h-3zM420 116h3v4h-3zM424 116h3v22h-3zM428 121h3v17h-3zM432 121h3v27h-3zM436 136h3v12h-3zM440 136h3v6h-3zM444 94h3v48h-3zM448 94h3v7h-3zM452 80h3v21h-3zM456 62h3v19h-3zM460 62h3v12h-3zM464 73h3v5h-3zM468 50h3v28h-3zM472 50h3v23h-3zM476 72h3v23h-3zM480 94h3v11h-3zM484 104h3v42h-3zM488 91h3v55h-3zM492 91h3v4h-3zM496 94h3v18h-3zM500 111h3v9h-3zM504 119h3v33h-3zM508 128h3v24h-3zM512 128h3v28h-3zM516 155h3v38h-3zM520 192h3v70h-3zM524 261h3v55h-3zM528 309h3v7h-3zM532 309h3v25h-3zM536 319h3v15h-3zM540 319h3v10h-3zM544 301h3v28h-3zM548 287h3v15h-3zM556 264h3v22h-3zM560 264h3v18h-3zM564 281h3v8h-3zM572 275h3v15h-3zM576 275h3v26h-3zM580 300h3v24h-3zM584 323h3v1h-3zM588 323h3v15h-3zM592 337h3v32h-3zM596 368h3v7h-3zM600 374h3v51h-3zM604 420h3v5h-3zM608 420h3v58h-3zM612 477h3v34h-3zM616 510h3v13h-3zM620 518h3v5h-3zM624 518h3v15h-3zM628 515h3v18h-3zM632 515h3v37h-3zM636 533h3v19h-3zM640 505h3v29h-3zM644 505h3v13h-3zM648 495h3v23h-3zM652 479h3v17h-3zM656 479h3v16h-3zM660 447h3v48h-3zM664 418h3v30h-3zM668 418h3v11h-3zM672 423h3v6h-3zM676 408h3v16h-3zM680 408h3v16h-3zM684 408h3v16h-3zM688 398h3v11h-3zM692 398h3v1h-3zM696 394h3v5h-3zM704 387h3v8h-3zM708 382h3v6h-3zM712 364h3v19h-3zM716 364h3v1h-3zM720 344h3v22h-3zM724 341h3v4h-3zM728 341h3v9h-3zM732 336h3v14h-3zM736 336h3v20h-3zM740 355h3v9h-3zM744 363h3v12h-3zM748 368h3v7h-3zM752 368h3v16h-3zM756 373h3v11h-3zM760 369h3v5h-3zM764 369h3v7h-3zM772 374h3v9h-3zM776 366h3v17h-3zM780 362h3v5h-3zM784 355h3v8h-3zM788 352h3v4h-3zM792 347h3v6h-3zM796 329h3v19h-3zM800 329h3v1h-3zM804 330h3v10h-3zM808 338h3v1h-3zM812 338h3v3h-3zM816 340h3v9h-3zM820 338h3v11h-3zM824 338h3v14h-3zM828 351h3v4h-3zM832 353h3v1h-3zM836 348h3v6h-3zM840 348h3v10h-3zM844 357h3v1h-3zM848 344h3v14h-3zM852 343h3v1h-3zM856 337h3v7h-3zM860 320h3v18h-3zM864 320h3v7h-3zM872 319h3v8h-3zM876 319h3v18h-3zM880 333h3v4h-3zM884 333h3v14h-3zM888 346h3v1h-3zM892 342h3v6h-3zM896 342h3v3h-3zM900 344h3v20h-3zM904 363h3v11h-3zM908 373h3v12h-3zM912 384h3v8h-3zM916 391h3v14h-3zM920 400h3v5h-3zM924 396h3v5h-3zM928 391h3v6h-3zM932 384h3v8h-3zM936 384h3v9h-3zM940 392h3v3h-3zM944 385h3v10h-3zM948 385h3v21h-3zM952 405h3v14h-3zM956 418h3v1h-3zM960 419h3v11h-3zM964 429h3v6h-3zM968 429h3v6h-3zM972 422h3v8h-3zM976 422h3v8h-3zM980 429h3v25h-3zM984 441h3v13h-3zM988 439h3v3h-3zM992 436h3v4h-3zM996 436h3v12h-3zM1000 437h3v11h-3zM1004 437h3v11h-3zM1008 447h3v12h-3zM1012 458h3v16h-3zM1016 473h3v14h-3zM1020 486h3v3h-3zM1024 480h3v9h-3zM1028 480h3v7h-3zM1032 479h3v8h-3zM1036 479h3v17h-3zM1040 486h3v10h-3zM1044 474h3v13h-3zM1048 453h3v22h-3zM1052 447h3v7h-3zM1056 441h3v7h-3zM1060 425h3v17h-3zM1064 425h3v17h-3zM1068 441h3v9h-3zM1072 449h3v5h-3zM1076 453h3v8h-3zM1080 455h3v6h-3zM1084 455h3v4h-3zM1088 458h3v16h-3zM1092 467h3v7h-3zM1096 462h3v6h-3zM1100 462h3v20h-3zM1104 481h3v47h-3zM1108 527h3v26h-3zM1112 552h3v8h-3zM1116 529h3v31h-3zM1120 529h3v1h-3zM1124 526h3v4h-3zM1128 526h3v10h-3zM1132 507h3v29h-3zM1136 507h3v10h-3zM1140 516h3v21h-3zM1144 536h3v15h-3zM1148 501h3v50h-3zM1152 501h3v8h-3zM1156 508h3v30h-3zM1160 527h3v11h-3zM1164 527h3v24h-3zM1168 521h3v30h-3zM1172 521h3v18h-3zM1176 538h3v34h-3zM1180 571h3v14h-3zM1184 584h3v32h-3zM1188 612h3v4h-3zM1192 612h3v21h-3zM1196 617h3v16h-3zM1200 617h3v39h-3zM1204 655h3v44h-3zM1208 698h3v4h-3zM1212 693h3v9h-3zM1216 693h3v4h-3zM1220 655h3v42h-3zM1224 655h3v5h-3zM1228 653h3v7h-3zM1232 653h3v5h-3zM1236 632h3v26h-3zM1240 616h3v17h-3zM1244 616h3v24h-3zM1248 621h3v19h-3zM1252 621h3v4h-3zM1256 610h3v15h-3zM1260 610h3v3h-3zM1264 612h3v7h-3zM1268 610h3v9h-3zM1272 591h3v20h-3zM1276 591h3v17h-3zM1280 607h3v14h-3zM1284 620h3v4h-3zM1288 623h3v15h-3zM1292 631h3v7h-3zM1296 631h3v34h-3zM1300 664h3v34h-3zM1304 685h3v13h-3zM1308 678h3v8h-3zM1312 678h3v17h-3zM1316 664h3v31h-3zM1320 664h3v32h-3zM1324 695h3v15h-3zM1328 709h3v8h-3zM1332 705h3v12h-3zM1336 689h3v17h-3zM1340 689h3v1h-3zM1344 680h3v11h-3zM1348 656h3v25h-3zM1352 656h3v11h-3zM1356 666h3v17h-3zM1360 676h3v7h-3zM1364 676h3v27h-3zM1368 702h3v8h-3zM1372 709h3v8h-3zM1376 716h3v16h-3zM1380 700h3v32h-3zM1384 700h3v44h-3zM1388 729h3v15h-3zM1392 723h3v7h-3zM1396 677h3v47h-3zM1400 652h3v26h-3zM1404 647h3v6h-3zM1408 647h3v25h-3zM1412 671h3v14h-3zM1416 652h3v33h-3zM1420 639h3v14h-3zM1424 633h3v7h-3zM1428 620h3v14h-3zM1432 576h3v45h-3zM1436 576h3v18h-3zM1440 571h3v23h-3zM1444 571h3v6h-3zM1448 576h3v32h-3zM1452 529h3v79h-3zM1456 525h3v5h-3zM1460 525h3v36h-3zM1464 555h3v6h-3zM1468 555h3v23h-3zM1472 577h3v25h-3zM1476 601h3v9h-3zM1480 609h3v13h-3zM1484 576h3v46h-3zM1488 576h3v3h-3zM1492 546h3v33h-3zM1496 546h3v11h-3zM1500 537h3v20h-3zM1504 537h3v17h-3zM1508 541h3v13h-3zM1512 528h3v14h-3zM1516 528h3v6h-3zM1520 526h3v8h-3zM1524 517h3v10h-3zM1528 480h3v38h-3zM1532 445h3v36h-3zM1536 413h3v33h-3zM1540 412h3v1h-3zM1544 412h3v9h-3zM1552 419h3v25h-3zM1556 443h3v10h-3zM1560 434h3v19h-3zM1564 430h3v5h-3zM1568 430h3v17h-3zM1572 443h3v4h-3zM1576 443h3v12h-3zM1580 454h3v6h-3zM1584 448h3v12h-3zM1588 448h3v10h-3zM1592 457h3v10h-3zM1596 466h3v13h-3zM1600 478h3v26h-3zM1604 503h3v21h-3zM1608 523h3v12h-3zM1612 534h3v16h-3zM1616 549h3v9h-3zM1620 557h3v26h-3zM1624 575h3v8h-3zM1628 566h3v10h-3zM1632 552h3v15h-3zM1636 545h3v8h-3zM1640 545h3v7h-3zM1644 548h3v4h-3zM1648 548h3v4h-3zM1652 542h3v10h-3zM1656 531h3v12h-3zM1660 531h3v38h-3zM1664 557h3v12h-3zM1668 557h3v28h-3zM1672 584h3v18h-3zM1676 601h3v5h-3zM1680 605h3v7h-3zM1684 592h3v20h-3zM1688 592h3v24h-3zM1692 609h3v7h-3zM1696 581h3v29h-3zM1700 574h3v8h-3zM1704 564h3v11h-3zM1708 551h3v14h-3zM1712 551h3v4h-3zM1716 554h3v12h-3zM1720 565h3v1h-3zM1724 562h3v4h-3zM1728 555h3v8h-3zM1732 555h3v24h-3zM1736 578h3v23h-3zM1740 600h3v3h-3zM1744 599h3v4h-3zM1748 599h3v18h-3zM1752 616h3v10h-3zM1756 625h3v34h-3zM1760 641h3v18h-3zM1764 630h3v12h-3zM1768 619h3v12h-3zM1772 619h3v11h-3zM1776 613h3v17h-3zM1780 613h3v26h-3zM1784 627h3v12h-3zM1788 627h3v30h-3zM1792 638h3v19h-3zM1796 638h3v57h-3zM1800 694h3v9h-3zM1804 702h3v30h-3zM1808 712h3v20h-3zM1812 709h3v4h-3zM1816 679h3v31h-3zM1820 679h3v17h-3zM1824 681h3v15h-3zM1828 664h3v18h-3zM1832 639h3v26h-3zM1836 639h3v7h-3zM1840 645h3v28h-3zM1844 664h3v9h-3z" fill="#0e0e38"/><path d="M5 167h1v10h-1zM9 152h1v14h-1zM13 142h1v9h-1zM17 136h1v5h-1zM29 149h1v12h-1zM53 192h1v2h-1zM57 181h1v10h-1zM61 173h1v7h-1zM65 169h1v3h-1zM69 164h1v4h-1zM73 156h1v7h-1zM85 157h1v12h-1zM93 159h1v6h-1zM109 160h1v1h-1zM117 155h1v7h-1zM125 161h1v9h-1zM133 156h1v7h-1zM137 149h1v6h-1zM149 147h1v9h-1zM153 141h1v5h-1zM161 155h1v2h-1zM165 144h1v10h-1zM173 137h1v7h-1zM177 130h1v6h-1zM181 123h1v6h-1zM185 115h1v7h-1zM189 103h1v11h-1zM197 97h1v17h-1zM205 116h1v5h-1zM209 109h1v6h-1zM217 101h1v20h-1zM225 78h1v31h-1zM233 62h1v17h-1zM237 49h1v12h-1zM249 69h1v16h-1zM253 61h1v7h-1zM257 45h1v15h-1zM273 73h1v22h-1zM281 68h1v6h-1zM293 87h1v13h-1zM305 92h1v18h-1zM317 91h1v3h-1zM321 89h1v1h-1zM325 74h1v14h-1zM329 56h1v17h-1zM333 53h1v2h-1zM353 76h1v7h-1zM361 71h1v7h-1zM365 61h1v9h-1zM385 75h1v7h-1zM405 112h1v2h-1zM409 106h1v5h-1zM417 120h1v2h-1zM421 117h1v2h-1zM429 122h1v15h-1zM437 137h1v10h-1zM445 95h1v46h-1zM453 81h1v19h-1zM457 63h1v17h-1zM469 51h1v26h-1zM489 92h1v53h-1zM509 129h1v22h-1zM529 310h1v5h-1zM537 320h1v13h-1zM545 302h1v26h-1zM549 288h1v13h-1zM557 265h1v20h-1zM573 276h1v13h-1zM605 421h1v3h-1zM621 519h1v3h-1zM629 516h1v16h-1zM637 534h1v17h-1zM641 506h1v27h-1zM649 496h1v21h-1zM653 480h1v15h-1zM661 448h1v46h-1zM665 419h1v28h-1zM673 424h1v4h-1zM677 409h1v14h-1zM685 409h1v14h-1zM689 399h1v9h-1zM697 395h1v3h-1zM705 388h1v6h-1zM709 383h1v4h-1zM713 365h1v17h-1zM721 345h1v20h-1zM725 342h1v2h-1zM733 337h1v12h-1zM749 369h1v5h-1zM757 374h1v9h-1zM761 370h1v3h-1zM777 367h1v15h-1zM781 363h1v3h-1zM785 356h1v6h-1zM789 353h1v2h-1zM793 348h1v4h-1zM797 330h1v17h-1zM821 339h1v9h-1zM837 349h1v4h-1zM849 345h1v12h-1zM857 338h1v5h-1zM861 321h1v16h-1zM873 320h1v6h-1zM881 334h1v2h-1zM893 343h1v4h-1zM921 401h1v3h-1zM925 397h1v3h-1zM929 392h1v4h-1zM933 385h1v6h-1zM945 386h1v8h-1zM969 430h1v4h-1zM973 423h1v6h-1zM985 442h1v11h-1zM989 440h1v1h-1zM993 437h1v2h-1zM1001 438h1v9h-1zM1025 481h1v7h-1zM1033 480h1v6h-1zM1041 487h1v8h-1zM1045 475h1v11h-1zM1049 454h1v20h-1zM1053 448h1v5h-1zM1057 442h1v5h-1zM1061 426h1v15h-1zM1081 456h1v4h-1zM1093 468h1v5h-1zM1097 463h1v4h-1zM1117 530h1v29h-1zM1125 527h1v2h-1zM1133 508h1v27h-1zM1149 502h1v48h-1zM1161 528h1v9h-1zM1169 522h1v28h-1zM1189 613h1v2h-1zM1197 618h1v14h-1zM1213 694h1v7h-1zM1221 656h1v40h-1zM1229 654h1v5h-1zM1237 633h1v24h-1zM1241 617h1v15h-1zM1249 622h1v17h-1zM1257 611h1v13h-1zM1269 611h1v7h-1zM1273 592h1v18h-1zM1293 632h1v5h-1zM1305 686h1v11h-1zM1309 679h1v6h-1zM1317 665h1v29h-1zM1333 706h1v10h-1zM1337 690h1v15h-1zM1345 681h1v9h-1zM1349 657h1v23h-1zM1361 677h1v5h-1zM1381 701h1v30h-1zM1389 730h1v13h-1zM1393 724h1v5h-1zM1397 678h1v45h-1zM1401 653h1v24h-1zM1405 648h1v4h-1zM1417 653h1v31h-1zM1421 640h1v12h-1zM1425 634h1v5h-1zM1429 621h1v12h-1zM1433 577h1v43h-1zM1441 572h1v21h-1zM1453 530h1v77h-1zM1457 526h1v3h-1zM1465 556h1v4h-1zM1485 577h1v44h-1zM1493 547h1v31h-1zM1501 538h1v18h-1zM1509 542h1v11h-1zM1513 529h1v12h-1zM1521 527h1v6h-1zM1525 518h1v8h-1zM1529 481h1v36h-1zM1533 446h1v34h-1zM1537 414h1v31h-1zM1561 435h1v17h-1zM1565 431h1v3h-1zM1573 444h1v2h-1zM1585 449h1v10h-1zM1625 576h1v6h-1zM1629 567h1v8h-1zM1633 553h1v13h-1zM1637 546h1v6h-1zM1645 549h1v2h-1zM1653 543h1v8h-1zM1657 532h1v10h-1zM1665 558h1v10h-1zM1685 593h1v18h-1zM1693 610h1v5h-1zM1697 582h1v27h-1zM1701 575h1v6h-1zM1705 565h1v9h-1zM1709 552h1v12h-1zM1725 563h1v2h-1zM1729 556h1v6h-1zM1745 600h1v2h-1zM1761 642h1v16h-1zM1765 631h1v10h-1zM1769 620h1v10h-1zM1777 614h1v15h-1zM1785 628h1v10h-1zM1793 639h1v17h-1zM1809 713h1v18h-1zM1813 710h1v2h-1zM1817 680h1v29h-1zM1825 682h1v13h-1zM1829 665h1v16h-1zM1833 640h1v24h-1zM1845 665h1v7h-1z" fill="#f0f0f0"/><path d="M21 136h1v9h-1zM25 146h1v15h-1zM33 149h1v29h-1zM41 179h1v2h-1zM45 182h1v2h-1zM49 185h1v9h-1zM77 156h1v8h-1zM81 165h1v4h-1zM89 157h1v8h-1zM97 159h1v1h-1zM113 160h1v2h-1zM121 155h1v15h-1zM129 161h1v2h-1zM141 149h1v8h-1zM157 141h1v16h-1zM193 103h1v11h-1zM201 97h1v24h-1zM213 109h1v12h-1zM221 101h1v8h-1zM241 49h1v31h-1zM245 81h1v4h-1zM261 45h1v19h-1zM265 65h1v21h-1zM269 87h1v8h-1zM277 73h1v1h-1zM285 68h1v25h-1zM289 94h1v6h-1zM301 86h1v24h-1zM309 92h1v3h-1zM337 53h1v7h-1zM341 61h1v7h-1zM345 69h1v5h-1zM349 75h1v8h-1zM357 76h1v2h-1zM373 60h1v12h-1zM377 73h1v5h-1zM381 79h1v3h-1zM389 75h1v5h-1zM393 81h1v7h-1zM397 89h1v14h-1zM401 104h1v10h-1zM413 106h1v16h-1zM425 117h1v20h-1zM433 122h1v25h-1zM441 137h1v4h-1zM449 95h1v5h-1zM461 63h1v10h-1zM465 74h1v3h-1zM473 51h1v21h-1zM477 73h1v21h-1zM481 95h1v9h-1zM485 105h1v40h-1zM493 92h1v2h-1zM497 95h1v16h-1zM501 112h1v7h-1zM505 120h1v31h-1zM513 129h1v26h-1zM517 156h1v36h-1zM521 193h1v68h-1zM525 262h1v53h-1zM533 310h1v23h-1zM541 320h1v8h-1zM561 265h1v16h-1zM565 282h1v6h-1zM577 276h1v24h-1zM581 301h1v22h-1zM589 324h1v13h-1zM593 338h1v30h-1zM597 369h1v5h-1zM601 375h1v49h-1zM609 421h1v56h-1zM613 478h1v32h-1zM617 511h1v11h-1zM625 519h1v13h-1zM633 516h1v35h-1zM645 506h1v11h-1zM657 480h1v14h-1zM669 419h1v9h-1zM681 409h1v14h-1zM729 342h1v7h-1zM737 337h1v18h-1zM741 356h1v7h-1zM745 364h1v10h-1zM753 369h1v14h-1zM765 370h1v5h-1zM773 375h1v7h-1zM805 331h1v8h-1zM813 339h1v1h-1zM817 341h1v7h-1zM825 339h1v12h-1zM829 352h1v2h-1zM841 349h1v8h-1zM865 321h1v5h-1zM877 320h1v16h-1zM885 334h1v12h-1zM897 343h1v1h-1zM901 345h1v18h-1zM905 364h1v9h-1zM909 374h1v10h-1zM913 385h1v6h-1zM917 392h1v12h-1zM937 385h1v7h-1zM941 393h1v1h-1zM949 386h1v19h-1zM953 406h1v12h-1zM961 420h1v9h-1zM965 430h1v4h-1zM977 423h1v6h-1zM981 430h1v23h-1zM997 437h1v10h-1zM1005 438h1v9h-1zM1009 448h1v10h-1zM1013 459h1v14h-1zM1017 474h1v12h-1zM1021 487h1v1h-1zM1029 481h1v5h-1zM1037 480h1v15h-1zM1065 426h1v15h-1zM1069 442h1v7h-1zM1073 450h1v3h-1zM1077 454h1v6h-1zM1085 456h1v2h-1zM1089 459h1v14h-1zM1101 463h1v18h-1zM1105 482h1v45h-1zM1109 528h1v24h-1zM1113 553h1v6h-1zM1129 527h1v8h-1zM1137 508h1v8h-1zM1141 517h1v19h-1zM1145 537h1v13h-1zM1153 502h1v6h-1zM1157 509h1v28h-1zM1165 528h1v22h-1zM1173 522h1v16h-1zM1177 539h1v32h-1zM1181 572h1v12h-1zM1185 585h1v30h-1zM1193 613h1v19h-1zM1201 618h1v37h-1zM1205 656h1v42h-1zM1209 699h1v2h-1zM1217 694h1v2h-1zM1225 656h1v3h-1zM1233 654h1v3h-1zM1245 617h1v22h-1zM1253 622h1v2h-1zM1261 611h1v1h-1zM1265 613h1v5h-1zM1277 592h1v15h-1zM1281 608h1v12h-1zM1285 621h1v2h-1zM1289 624h1v13h-1zM1297 632h1v32h-1zM1301 665h1v32h-1zM1313 679h1v15h-1zM1321 665h1v30h-1zM1325 696h1v13h-1zM1329 710h1v6h-1zM1353 657h1v9h-1zM1357 667h1v15h-1zM1365 677h1v25h-1zM1369 703h1v6h-1zM1373 710h1v6h-1zM1377 717h1v14h-1zM1385 701h1v42h-1zM1409 648h1v23h-1zM1413 672h1v12h-1zM1437 577h1v16h-1zM1445 572h1v4h-1zM1449 577h1v30h-1zM1461 526h1v34h-1zM1469 556h1v21h-1zM1473 578h1v23h-1zM1477 602h1v7h-1zM1481 610h1v11h-1zM1489 577h1v1h-1zM1497 547h1v9h-1zM1505 538h1v15h-1zM1517 529h1v4h-1zM1545 413h1v7h-1zM1553 420h1v23h-1zM1557 444h1v8h-1zM1569 431h1v15h-1zM1577 444h1v10h-1zM1581 455h1v4h-1zM1589 449h1v8h-1zM1593 458h1v8h-1zM1597 467h1v11h-1zM1601 479h1v24h-1zM1605 504h1v19h-1zM1609 524h1v10h-1zM1613 535h1v14h-1zM1617 550h1v7h-1zM1621 558h1v24h-1zM1641 546h1v5h-1zM1649 549h1v2h-1zM1661 532h1v36h-1zM1669 558h1v26h-1zM1673 585h1v16h-1zM1677 602h1v3h-1zM1681 606h1v5h-1zM1689 593h1v22h-1zM1713 552h1v2h-1zM1717 555h1v10h-1zM1733 556h1v22h-1zM1737 579h1v21h-1zM1741 601h1v1h-1zM1749 600h1v16h-1zM1753 617h1v8h-1zM1757 626h1v32h-1zM1773 620h1v9h-1zM1781 614h1v24h-1zM1789 628h1v28h-1zM1797 639h1v55h-1zM1801 695h1v7h-1zM1805 703h1v28h-1zM1821 680h1v15h-1zM1837 640h1v5h-1zM1841 646h1v26h-1z" fill="#808080"/><path d="M37 173v9M169 133v24M229 73v14M553 264v29M569 283v11M701 390v5M769 366v15M869 324v5M1549 419v13" stroke="#00e000" stroke-width="1" fill="none" transform="translate(0.5,0)"/><path d="M36 178h3v1h-3zM168 144h3v1h-3zM228 79h3v1h-3zM552 285h3v1h-3zM568 289h3v1h-3zM700 394h3v1h-3zM768 374h3v1h-3zM868 326h3v1h-3zM1548 419h3v1h-3z" fill="#00e000"/><rect x="1393" y="710" width="1" height="92" fill="#00e000"/></g><path d="M8 12H19L13.5 18Z" fill="#000"/><text x="26.2" y="21" font-size="13.4" fill="#000" font-family="'DejaVu Sans Condensed','Liberation Sans',sans-serif" textLength="71.5" lengthAdjust="spacingAndGlyphs">USDJPY,M1</text></g><g shape-rendering="crispEdges"><rect x="5" y="812" width="188" height="10" fill="#800000"/><rect x="193" y="812" width="1200" height="10" fill="#000080"/><rect x="1393" y="812" width="453" height="10" fill="#800080"/><rect x="4" y="4" width="1843" height="1" fill="#000"/><rect x="4" y="4" width="1" height="819" fill="#000"/><rect x="1846" y="4" width="1" height="819" fill="#000"/><rect x="4" y="822" width="1843" height="1" fill="#000"/><rect x="1847" y="43" width="2" height="1" fill="#000"/><rect x="1847" y="111" width="2" height="1" fill="#000"/><rect x="1847" y="178" width="2" height="1" fill="#000"/><rect x="1847" y="245" width="2" height="1" fill="#000"/><rect x="1847" y="312" width="2" height="1" fill="#000"/><rect x="1847" y="380" width="2" height="1" fill="#000"/><rect x="1847" y="447" width="2" height="1" fill="#000"/><rect x="1847" y="514" width="2" height="1" fill="#000"/><rect x="1847" y="582" width="2" height="1" fill="#000"/><rect x="1847" y="649" width="2" height="1" fill="#000"/><rect x="1847" y="716" width="2" height="1" fill="#000"/><rect x="1847" y="783" width="2" height="1" fill="#000"/><rect x="5" y="823" width="1" height="3" fill="#000"/><rect x="133" y="823" width="1" height="3" fill="#000"/><rect x="261" y="823" width="1" height="3" fill="#000"/><rect x="389" y="823" width="1" height="3" fill="#000"/><rect x="517" y="823" width="1" height="3" fill="#000"/><rect x="645" y="823" width="1" height="3" fill="#000"/><rect x="773" y="823" width="1" height="3" fill="#000"/><rect x="901" y="823" width="1" height="3" fill="#000"/><rect x="1029" y="823" width="1" height="3" fill="#000"/><rect x="1157" y="823" width="1" height="3" fill="#000"/><rect x="1285" y="823" width="1" height="3" fill="#000"/><rect x="1413" y="823" width="1" height="3" fill="#000"/><rect x="1541" y="823" width="1" height="3" fill="#000"/><rect x="1669" y="823" width="1" height="3" fill="#000"/><rect x="1797" y="823" width="1" height="3" fill="#000"/><rect x="1844" y="84" width="4" height="56" fill="#dc143c"/></g><g clip-path="url(#cp4b)" font-size="8.5" fill="#fff" font-family="'Liberation Sans',sans-serif" text-anchor="middle" letter-spacing="-0.5"><text x="13.5" y="820.5">15:15</text><text x="73.5" y="820.5">15:30</text><text x="133.5" y="820.5">15:45</text><text x="193.5" y="820.5">16:00</text><text x="253.5" y="820.5">16:15</text><text x="313.5" y="820.5">16:30</text><text x="373.5" y="820.5">16:45</text><text x="433.5" y="820.5">17:00</text><text x="493.5" y="820.5">17:15</text><text x="553.5" y="820.5">17:30</text><text x="613.5" y="820.5">17:45</text><text x="673.5" y="820.5">18:00</text><text x="733.5" y="820.5">18:15</text><text x="793.5" y="820.5">18:30</text><text x="853.5" y="820.5">18:45</text><text x="913.5" y="820.5">19:00</text><text x="973.5" y="820.5">19:15</text><text x="1033.5" y="820.5">19:30</text><text x="1093.5" y="820.5">19:45</text><text x="1153.5" y="820.5">20:00</text><text x="1213.5" y="820.5">20:15</text><text x="1273.5" y="820.5">20:30</text><text x="1333.5" y="820.5">20:45</text><text x="1393.5" y="820.5">21:00</text><text x="1453.5" y="820.5">21:15</text><text x="1513.5" y="820.5">21:30</text><text x="1573.5" y="820.5">21:45</text><text x="1633.5" y="820.5">22:00</text><text x="1693.5" y="820.5">22:15</text><text x="1753.5" y="820.5">22:30</text><text x="1813.5" y="820.5">22:45</text></g><defs><clipPath id="cp4b"><rect x="5" y="810" width="1841" height="14"/></clipPath></defs><text x="1853" y="49.4" font-size="13.4" fill="#000" font-family="'DejaVu Sans Condensed','Liberation Sans',sans-serif" textLength="51" lengthAdjust="spacingAndGlyphs">114.264</text><text x="1853" y="116.7" font-size="13.4" fill="#000" font-family="'DejaVu Sans Condensed','Liberation Sans',sans-serif" textLength="51" lengthAdjust="spacingAndGlyphs">114.219</text><text x="1853" y="184" font-size="13.4" fill="#000" font-family="'DejaVu Sans Condensed','Liberation Sans',sans-serif" textLength="51" lengthAdjust="spacingAndGlyphs">114.174</text><text x="1853" y="251.3" font-size="13.4" fill="#000" font-family="'DejaVu Sans Condensed','Liberation Sans',sans-serif" textLength="51" lengthAdjust="spacingAndGlyphs">114.129</text><text x="1853" y="318.5" font-size="13.4" fill="#000" font-family="'DejaVu Sans Condensed','Liberation Sans',sans-serif" textLength="51" lengthAdjust="spacingAndGlyphs">114.084</text><text x="1853" y="385.8" font-size="13.4" fill="#000" font-family="'DejaVu Sans Condensed','Liberation Sans',sans-serif" textLength="51" lengthAdjust="spacingAndGlyphs">114.039</text><text x="1853" y="453.1" font-size="13.4" fill="#000" font-family="'DejaVu Sans Condensed','Liberation Sans',sans-serif" textLength="51" lengthAdjust="spacingAndGlyphs">113.994</text><text x="1853" y="520.4" font-size="13.4" fill="#000" font-family="'DejaVu Sans Condensed','Liberation Sans',sans-serif" textLength="51" lengthAdjust="spacingAndGlyphs">113.949</text><text x="1853" y="587.6" font-size="13.4" fill="#000" font-family="'DejaVu Sans Condensed','Liberation Sans',sans-serif" textLength="51" lengthAdjust="spacingAndGlyphs">113.904</text><text x="1853" y="654.9" font-size="13.4" fill="#000" font-family="'DejaVu Sans Condensed','Liberation Sans',sans-serif" textLength="51" lengthAdjust="spacingAndGlyphs">113.859</text><text x="1853" y="722.2" font-size="13.4" fill="#000" font-family="'DejaVu Sans Condensed','Liberation Sans',sans-serif" textLength="51" lengthAdjust="spacingAndGlyphs">113.814</text><text x="1853" y="789.5" font-size="13.4" fill="#000" font-family="'DejaVu Sans Condensed','Liberation Sans',sans-serif" textLength="51" lengthAdjust="spacingAndGlyphs">113.769</text><rect x="1848" y="433" width="62" height="17" fill="#ffd700" shape-rendering="crispEdges"/><text x="1853" y="447" font-size="13.4" fill="#fff" font-family="'DejaVu Sans Condensed','Liberation Sans',sans-serif" textLength="51" lengthAdjust="spacingAndGlyphs">114.000</text><text x="4.5" y="839.8" font-size="13.4" fill="#000" font-family="'DejaVu Sans Condensed','Liberation Sans',sans-serif" textLength="72" lengthAdjust="spacingAndGlyphs">4 Nov 2021</text><text x="132.5" y="839.8" font-size="13.4" fill="#000" font-family="'DejaVu Sans Condensed','Liberation Sans',sans-serif" textLength="77.5" lengthAdjust="spacingAndGlyphs">4 Nov 09:45</text><text x="260.5" y="839.8" font-size="13.4" fill="#000" font-family="'DejaVu Sans Condensed','Liberation Sans',sans-serif" textLength="77.5" lengthAdjust="spacingAndGlyphs">4 Nov 10:17</text><text x="388.5" y="839.8" font-size="13.4" fill="#000" font-family="'DejaVu Sans Condensed','Liberation Sans',sans-serif" textLength="77.5" lengthAdjust="spacingAndGlyphs">4 Nov 10:49</text><text x="516.5" y="839.8" font-size="13.4" fill="#000" font-family="'DejaVu Sans Condensed','Liberation Sans',sans-serif" textLength="77.5" lengthAdjust="spacingAndGlyphs">4 Nov 11:21</text><text x="644.5" y="839.8" font-size="13.4" fill="#000" font-family="'DejaVu Sans Condensed','Liberation Sans',sans-serif" textLength="77.5" lengthAdjust="spacingAndGlyphs">4 Nov 11:53</text><text x="772.5" y="839.8" font-size="13.4" fill="#000" font-family="'DejaVu Sans Condensed','Liberation Sans',sans-serif" textLength="77.5" lengthAdjust="spacingAndGlyphs">4 Nov 12:25</text><text x="900.5" y="839.8" font-size="13.4" fill="#000" font-family="'DejaVu Sans Condensed','Liberation Sans',sans-serif" textLength="77.5" lengthAdjust="spacingAndGlyphs">4 Nov 12:57</text><text x="1028.5" y="839.8" font-size="13.4" fill="#000" font-family="'DejaVu Sans Condensed','Liberation Sans',sans-serif" textLength="77.5" lengthAdjust="spacingAndGlyphs">4 Nov 13:29</text><text x="1156.5" y="839.8" font-size="13.4" fill="#000" font-family="'DejaVu Sans Condensed','Liberation Sans',sans-serif" textLength="77.5" lengthAdjust="spacingAndGlyphs">4 Nov 14:01</text><text x="1284.5" y="839.8" font-size="13.4" fill="#000" font-family="'DejaVu Sans Condensed','Liberation Sans',sans-serif" textLength="77.5" lengthAdjust="spacingAndGlyphs">4 Nov 14:33</text><text x="1412.5" y="839.8" font-size="13.4" fill="#000" font-family="'DejaVu Sans Condensed','Liberation Sans',sans-serif" textLength="77.5" lengthAdjust="spacingAndGlyphs">4 Nov 15:05</text><text x="1540.5" y="839.8" font-size="13.4" fill="#000" font-family="'DejaVu Sans Condensed','Liberation Sans',sans-serif" textLength="77.5" lengthAdjust="spacingAndGlyphs">4 Nov 15:37</text><text x="1668.5" y="839.8" font-size="13.4" fill="#000" font-family="'DejaVu Sans Condensed','Liberation Sans',sans-serif" textLength="77.5" lengthAdjust="spacingAndGlyphs">4 Nov 16:09</text><text x="1796.5" y="839.8" font-size="13.4" fill="#000" font-family="'DejaVu Sans Condensed','Liberation Sans',sans-serif" textLength="77.5" lengthAdjust="spacingAndGlyphs">4 Nov 16:41</text></svg><svg x="0" y="1702" width="1920" height="851" viewBox="0 0 1920 851" overflow="hidden"><g shape-rendering="crispEdges"><rect x="0" y="0" width="1920" height="851" fill="#fff"/><rect x="0" y="0" width="1919" height="1" fill="#a0a0a0"/><rect x="0" y="0" width="1" height="850" fill="#a0a0a0"/><rect x="1" y="1" width="1917" height="1" fill="#696969"/><rect x="1" y="1" width="1" height="848" fill="#696969"/><rect x="1" y="849" width="1918" height="1" fill="#e3e3e3"/><rect x="1918" y="1" width="1" height="849" fill="#e3e3e3"/></g><defs><clipPath id="cp5"><rect x="5" y="5" width="1841" height="817"/></clipPath></defs><g clip-path="url(#cp5)"><g shape-rendering="crispEdges" fill="#ffb6c1"><rect x="205" y="81" width="72" height="190"/><rect x="501" y="350" width="340" height="398"/><rect x="1469" y="304" width="156" height="115"/></g><path d="M9.5 6V812M69.5 6V812M129.5 6V812M189.5 6V812M249.5 6V812M309.5 6V812M369.5 6V812M429.5 6V812M489.5 6V812M549.5 6V812M609.5 6V812M669.5 6V812M729.5 6V812M789.5 6V812M849.5 6V812M909.5 6V812M969.5 6V812M1029.5 6V812M1089.5 6V812M1149.5 6V812M1209.5 6V812M1269.5 6V812M1329.5 6V812M1389.5 6V812M1449.5 6V812M1509.5 6V812M1569.5 6V812M1629.5 6V812M1689.5 6V812M1749.5 6V812M1809.5 6V812" stroke="#e0e0fa" stroke-width="1" stroke-dasharray="3 3" fill="none" shape-rendering="crispEdges"/><path d="M65 422.5H1846" stroke="#ffd700" stroke-width="1" stroke-dasharray="3 3" fill="none" shape-rendering="crispEdges"/><path d="M4.5 12.5 L186.1 12.5 L190.1 46.5 L425.5 46.5 L430 90.5 L665.8 90.5 L669.9 128.5 L905.8 128.5 L909.9 165.5 L1146.2 165.5 L1150.3 194.5 L1386.2 194.5 L1390.3 212.5 L1626.2 212.5 L1630.3 222.5 L1846.5 222.5" stroke="#000" stroke-width="1" fill="none" shape-rendering="crispEdges"/><g fill="none" stroke-width="2" stroke-linejoin="round" stroke-linecap="butt" shape-rendering="crispEdges"><path d="M4.9 440.4 L8.2 439.9 L11.4 439.1 L14.7 438.3 L18 437.3 L21.2 436.4 L24.5 435.5 L27.8 434.6 L31 433.8 L34.3 432.9 L37.6 431.9 L40.8 430.6 L43.9 429.7 L46.9 428.7 L50 427.6 L53.1 426.5 L56.1 425.3 L59.2 424 L62.2 422.7 L65.3 421.2 L68.4 419.7 L71.4 418 L74.5 416.2 L77.6 414.4 L80.6 412.5 L83.7 410.6 L86.7 408.8 L89.8 406.9 L92.9 405.2 L95.9 403.4 L99 401.6 L102 399.8 L105.1 398 L108.2 396.2 L111.2 394.4 L114.3 392.7 L117.3 390.9 L120.4 389.1 L123.5 387.4 L126.5 385.6 L129.6 383.9 L132.7 382.1 L135.7 380.3 L138.8 378.4 L141.8 376.4 L144.9 374.4 L148 372.4 L151 370.3 L154.1 368.3 L157.1 366.2 L160.2 364.1 L163.3 362 L166.3 360 L169.4 358 L172.4 356 L175.5 354 L178.6 352 L181.6 349.9 L184.7 347.9 L187.8 345.7 L190.8 343.6 L193.9 341.4 L196.9 339.2 L200 337 L203.1 334.8 L206.1 332.4 L209.2 329.9 L212.2 327.3 L215.3 324.6 L218.4 321.7 L221.4 318.7 L224.5 315.6 L227.6 312.5 L230.6 309.3 L233.7 306.1 L236.7 302.9 L239.8 299.6 L242.9 296.4 L245.9 293.1 L249 289.7 L252 286.4 L255.1 283 L258.2 279.7 L261.2 276.3 L264.3 273 L267.3 269.5 L270.4 266 L273.5 262.6 L276.5 259.1 L279.6 255.9 L282.7 252.7 L285.7 249.8 L288.8 247.1 L291.8 244.5 L294.9 242.1 L298 239.8 L301 237.7 L304.1 235.5 L307.1 233.5 L310.2 231.4 L313.3 229.4 L316.3 227.6 L319.4 225.7 L322.4 224 L325.5 222.3 L328.6 220.6 L331.6 218.9 L334.7 217.1 L337.8 215.4 L340.8 213.6 L343.9 211.8 L346.9 210 L350 208.3 L353.1 206.6 L356.1 205.1 L359.2 203.7 L362.6 202 L366 200.4 L369.4 199 L372.8 197.7 L376.2 196.5 L379.6 195.5 L382.9 194.4 L386.1 193.5 L389.4 192.8 L392.7 192.2 L395.9 191.8" stroke="#0000cd"/><path d="M395.9 191.8 L399 191.7 L402 192.2 L405.1 192.5 L408.2 192.7 L411.2 193 L414.3 193.4 L417.3 193.9 L420.4 194.7 L423.8 195.7 L427.2 196.8 L430.6 198.2 L434 199.6 L437.4 201.2 L440.8 202.9 L444.2 204.6 L447.6 206.5 L451 208.5 L454.4 210.6 L457.8 212.8 L461.2 215.1 L464.6 217.6 L468 220.2 L471.4 222.9 L474.8 225.7 L478.2 228.5 L481.6 231.4 L485 234.4 L488.4 237.4 L491.8 240.5 L495.2 243.6 L498.6 246.7 L502 249.8 L505.4 252.9 L508.8 256.1 L512.2 259.2 L515.6 262.3 L519 265.3 L522.4 268.2 L525.9 270.8 L529.3 273.2 L532.7 275.6 L536.1 277.8 L539.5 280.1 L542.9 282.4 L546.3 284.8 L549.7 287.1 L553.1 289.5 L556.5 291.8 L559.9 294.2 L563.3 296.7 L566.7 299.3 L570.1 301.9 L573.5 304.5 L576.9 307.2 L580.3 310.1 L583.7 313.1 L587.1 316.2 L590.5 319.5 L593.9 322.9 L597.3 326.4 L600.7 329.9 L604.1 333.5 L607.5 337.1 L610.9 340.7 L614.3 344.4 L617.7 348.2 L621.1 352 L624.5 355.9 L627.9 359.9 L631.3 363.9 L634.7 368 L638.1 372.2 L641.5 376.3 L644.9 380.4 L648.3 384.5 L651.7 388.5 L655.1 392.5 L658.5 396.6 L661.9 400.7 L665.3 404.9 L668.7 409.3 L672.1 414 L675.5 418.7 L678.9 423.3 L682.3 427.6 L685.7 431.4 L688.8 436 L691.8 439.6 L694.9 443.2 L698 447.8 L701.2 451 L704.4 454.6 L707.6 458.4 L710.8 462.4 L714 466.4 L717.2 470.4 L720.4 474.3 L723.8 478.8 L727.2 483.4 L730.6 487.9 L734 492.4 L737.4 496.7 L740.8 500.8 L744.2 504.6 L747.6 508.1 L751 511.4 L754.4 514.6 L757.8 517.9 L761.2 521.2 L764.6 524.5 L768 527.6 L771.4 530.8 L774.8 534.1 L778.2 537.6 L781.6 541.6 L785 546.2 L788.4 551.2 L791.8 556.6 L795.2 562 L798.6 567.3 L802 572.2 L805.4 577 L808.8 581.7 L812.2 586.3 L815.6 590.7 L819 594.9 L822.4 598.8 L825.7 603 L829 606.8 L832.2 610.3 L835.5 613.7 L838.8 617.1 L842 620.6 L845.3 624 L848.6 627.3 L851.8 630.5 L855.1 633.5 L858.4 636.2 L861.6 638.8 L864.9 641.2 L868.2 643.5 L871.4 645.7 L874.7 648 L878 650.2 L881.2 652.4 L884.5 654.3 L887.8 655.9 L890.8 657.4 L893.9 658.5 L896.9 659.4 L900 660 L903.1 660.5 L906.1 660.7 L909.2 660.7 L912.2 660.8" stroke="#dc143c"/><path d="M912.2 660.8 L915.3 661.2 L918.4 660.8 L921.4 660.4 L924.5 659.8 L927.6 659.1 L930.6 658.3 L933.7 657.2 L936.7 655.9 L939.8 654.8 L942.9 653.5 L945.9 652 L949 650.5 L952 648.9 L955.1 647.2 L958.2 645.4 L961.2 643.7 L964.3 641.8 L967.3 639.9 L970.4 637.8 L973.5 635.8 L976.5 633.6 L979.6 631.5 L982.7 629.4 L985.7 627.3 L988.8 625.3 L991.8 623.2 L994.9 621.1 L998 619.1 L1001 617 L1004.1 615 L1007.1 613 L1010.2 611 L1013.3 609.1 L1016.3 607.2 L1019.4 605.3 L1022.4 603.5 L1025.5 601.7 L1028.6 600 L1031.6 598.3 L1034.7 596.7 L1037.8 595.3 L1040.8 593.9 L1043.9 592.6 L1046.9 591.3 L1050 590.1 L1053.1 588.9 L1056.1 587.7 L1059.2 586.5 L1062.2 585.3 L1065.3 584.1 L1068.4 582.8 L1071.4 581.6 L1074.5 580.4 L1077.6 579.3 L1080.6 578.2 L1083.7 577.1 L1086.7 576.1 L1089.8 575.1 L1092.9 574.2 L1095.9 573.3 L1099 572.4 L1102 571.6 L1105.1 570.9 L1108.2 570.2 L1111.6 569.5 L1115 568.9 L1118.4 568.4 L1121.8 568 L1125.2 567.5 L1128.6 566.9 L1132 566.2 L1135.4 565.4 L1138.8 564.5 L1142.2 563.6 L1145.6 562.8 L1149 562 L1152.4 561.5 L1155.8 561.1 L1159.2 560.8 L1162.6 560.4 L1166 559.9 L1169.4 559.2 L1172.8 558.3 L1176.2 557.2 L1179.6 556 L1183 554.7 L1186.4 553.3 L1189.8 551.8 L1192.9 550.8 L1195.9 549.7 L1199 548.6 L1202 547.4 L1205.1 546.2 L1208.2 544.8 L1211.2 543.3 L1214.3 541.6 L1217.3 539.7 L1220.4 537.6 L1223.5 535.3 L1226.5 533 L1229.6 530.5 L1232.7 528 L1235.7 525.6 L1238.8 523.3 L1241.8 520.9 L1244.9 518.6 L1248 516.2 L1251 513.8 L1254.1 511.5 L1257.1 509.2 L1260.2 507 L1263.3 504.9 L1266.3 502.9 L1269.4 501 L1272.4 499.1 L1275.5 497.3 L1278.6 495.6 L1281.6 493.9 L1284.7 492.2 L1287.8 490.6 L1290.8 489.1 L1293.9 487.6 L1296.9 486.1 L1300 484.7 L1303.1 483.4 L1306.1 482.1 L1309.2 480.8 L1312.2 479.6 L1315.3 478.4 L1318.4 477.2 L1321.4 476.1 L1324.5 475.1 L1327.6 474 L1330.6 473 L1333.7 472 L1336.7 471 L1339.8 470.1 L1342.9 469.2 L1345.9 468.3 L1349 467.4 L1352 466.6 L1355.1 465.8 L1358.2 464.9 L1361.2 464.1 L1364.3 463.2 L1367.3 462.3 L1370.4 461.5 L1373.5 460.6 L1376.5 459.7 L1379.6 458.8 L1382.7 458 L1385.7 457.1 L1388.8 456.3 L1391.8 455.4 L1394.9 454.5 L1398 453.6 L1401 452.8 L1404.1 452 L1407.1 451.2 L1410.2 450.6 L1413.3 450.1 L1416.3 449.7 L1419.4 449.4 L1422.4 449.1 L1425.5 448.8 L1428.6 448.6 L1431.6 448.2 L1434.7 447.8 L1437.8 447.2 L1440.8 446.6 L1443.9 445.9 L1446.9 445.2 L1450 444.5 L1453.1 443.7 L1456.1 443.1 L1459.2 442.4 L1462.4 441.6 L1465.7 440.9 L1469 440.1 L1472.2 439.3 L1475.5 438.4 L1478.8 437.2 L1482 436 L1485.3 434.6 L1488.6 433.1 L1491.8 431.4 L1495.2 429.9 L1498.6 428.3 L1502 426.6 L1505.4 424.8 L1508.8 423 L1512.2 421.2 L1515.6 419.4 L1519 417.5 L1522.4 415.6 L1525.9 413.6 L1529.3 411.7 L1532.7 409.8 L1535.7 408.4 L1538.8 406.9 L1541.8 405.4 L1544.9 404 L1548 402.6 L1551 401.2 L1554.1 399.9 L1557.1 398.8 L1560.2 396.8 L1563.2 395.1 L1566.2 393.7 L1569.2 392.3 L1572.2 390.6 L1575.3 389.2 L1578.4 387.7 L1581.4 386.2 L1584.5 384.7 L1587.6 383.1 L1590.6 381.5 L1593.7 379.9 L1596.7 378.5 L1599.8 377.5 L1602.9 376.5 L1605.9 375.5 L1609 374 L1612 372.5 L1615.1 370.9 L1618.2 369.3 L1621.2 367.7 L1624.3 366.3 L1628.1 364.7 L1631.9 363.2 L1635.8 361.6 L1639.6 360.2 L1642.7 359.3 L1645.7 358.6 L1648.8 357.9 L1651.8 357.1 L1654.9 356.3 L1658 355.6 L1661 354.8 L1664.1 354.2 L1667.1 353.6 L1670.2 353.2 L1673.3 352.9 L1676.3 352.5 L1679.4 352 L1682.5 351.5 L1685.5 351 L1688.6 350.6 L1691.6 350.2 L1694.7 349.9 L1698.3 349.6 L1701.8 349.2 L1705.4 349 L1709 348.9 L1712.6 348.9 L1716.1 348.7 L1719.2 348.2 L1722.3 347.5 L1725.3 346.8 L1728.9 346.4 L1732.5 346 L1736 345.6 L1739.6 345.1 L1743.2 344.6 L1746.7 344.1 L1750.3 343.5 L1753.9 342.9 L1757.5 342.3 L1761 341.6 L1764.6 340.9 L1768.2 340.3 L1771.7 339.9 L1775.3 339.6 L1778.9 339.2 L1782.5 338.6 L1786 337.9 L1789.6 337.2 L1792.7 336.7 L1795.7 336.2 L1798.8 335.7 L1801.8 334.9 L1804.9 334.1 L1808 333.4 L1811.5 332.7 L1815.1 332.1 L1818.7 331.5 L1822.3 330.9 L1825.8 330.2 L1829.4 329.5 L1832.5 328.9 L1835.5 328.4 L1838.6 328 L1842 327.9 L1845.5 328" stroke="#0000cd"/></g><g fill="none" stroke-width="2" stroke-linejoin="round" stroke-linecap="butt" shape-rendering="crispEdges"><path d="M4.9 404.9 L8 407.3 L11.2 410.6 L14.3 413.1" stroke="#dc143c"/><path d="M14.3 413.1 L17.7 414.6 L21.1 415.4 L24.5 414.3 L27.6 411.6 L30.6 407.5 L33.7 403 L36.7 398.8 L39.8 395 L42.9 391.2 L45.9 387.6 L49 384.5 L52.2 382.6 L55.5 381.2 L58.8 379.9 L62 378.4 L65.3 376.3 L68.6 373.5 L71.8 370.1 L75.1 366.5 L78.4 363 L81.6 360 L84.9 357.5 L88.2 355.3 L91.4 353.4 L94.7 351.6 L98 349.8 L101 347.5 L104.1 345.4 L107.1 343.6 L110.2 342.4" stroke="#0000cd"/><path d="M110.2 342.4 L114.3 343.2 L118.4 344.5" stroke="#dc143c"/><path d="M118.4 344.5 L121.4 343.8 L124.5 341.6 L128.1 339.9 L131.6 337.7 L135.2 335.2 L138.8 332.7 L142 330.5 L145.3 328.3 L148.6 326 L151.8 323.6 L155.1 321.2 L158.4 318.8 L161.6 316.4 L164.9 313.9 L168.2 311.4 L171.4 309 L174.5 305.8 L177.6 302.5 L180.6 299.4 L183.7 296.7 L186.7 295.1 L189.8 294.2 L192.9 293 L195.9 290.6 L199 286.6 L202 281.4 L205.1 275.8 L208.2 270.2 L211.2 264.8 L214.3 259.2 L217.3 253.6 L220.4 247.8 L223.5 241.8 L226.5 235.8 L229.6 229.6 L232.7 223.3 L235.7 216.5 L238.8 209.5 L241.8 202.7 L244.9 196.7 L248.3 190 L251.7 184.4 L255.1 180.4 L258.2 178.2 L261.2 178.4" stroke="#0000cd"/><path d="M261.2 178.4 L264.3 179.1 L267.3 181.2 L270.7 183.7 L274.1 186.8 L277.6 189.8 L280.6 191.6 L283.7 193.3 L286.7 195 L289.8 196.7 L293.4 198.9 L296.9 201.3 L300.5 203.5 L304.1 204.9" stroke="#dc143c"/><path d="M304.1 204.9 L307.1 204.8 L310.2 203.7 L314.3 203.1 L318.4 202.9" stroke="#0000cd"/><path d="M318.4 202.9 L321.4 203.5 L324.5 204.9 L328.1 206 L331.6 207.3 L335.2 208.8 L338.8 210.2 L342.3 211.8 L345.9 213.4 L349.5 214.9 L353.1 215.9" stroke="#dc143c"/><path d="M353.1 215.9 L356.1 216 L359.2 215.1 L362.2 214.7 L365.3 214.1 L368.4 213.7 L371.4 213.5" stroke="#0000cd"/><path d="M371.4 213.5 L375.5 215.1 L379.6 225.8 L383.7 239.6 L386.7 246.3 L389.8 253.2 L392.9 260 L395.9 266.1 L399 271.4 L402 276.2 L405.1 280.5 L408.2 284.5 L411.2 288 L414.3 291.1 L417.3 294 L420.4 296.7 L424.5 301.5 L428.6 306.9 L432 312.2 L435.4 318.4 L438.8 325.3 L442.2 333.2 L445.6 341.7 L449 349.8 L452 355.3 L455.1 360.5 L458.2 365.5 L461.2 370.2 L464.3 374.7 L467.3 379 L470.4 383 L473.5 386.5 L476.5 389.6 L479.6 392.3 L482.7 394.6 L485.7 396.7 L488.8 398.4 L491.8 399.7 L494.9 401 L498 402.9 L501 405.6 L504.1 409 L507.1 412.3 L510.2 415.1 L513.6 417.9 L517 420 L520.4 421.2" stroke="#dc143c"/><path d="M520.4 421.2 L523.5 421.4 L526.5 420 L529.6 418.8 L532.7 417.2 L535.7 415.6 L538.8 414.3 L542.9 412.7 L546.9 412.2" stroke="#0000cd"/><path d="M546.9 412.2 L550 413 L553.1 415.1 L556.6 416.7 L560.2 418.7 L563.8 421 L567.3 423.3 L570.4 425.7 L573.5 428.4 L576.5 431 L579.6 433.5 L583 435.7 L586.4 437.8 L589.8 441.6 L593.2 449 L596.6 458.1 L600 466.1 L603.4 471.9 L606.8 476.5 L610.2 480.4 L613.6 483.3 L617 485.4 L620.4 487.8 L623.8 490.7 L627.2 493.7 L630.6 496.7 L633.7 499 L636.7 501.4 L639.8 503.5 L642.9 504.9" stroke="#dc143c"/><path d="M642.9 504.9 L645.9 505.1 L649 504.1 L652 503.7 L655.1 503.2 L658.2 502.8 L661.2 502.9" stroke="#0000cd"/><path d="M661.2 502.9 L664.3 503.7 L667.3 506.9 L670.7 512.2 L674.1 519.1 L677.6 525.3 L680.6 528.9 L683.7 532.1 L686.7 535 L689.8 537.6 L693.9 541.7 L698 544.9 L701.4 546.9 L704.8 548.7 L708.2 549.8" stroke="#dc143c"/><path d="M708.2 549.8 L711.2 549.7 L714.3 548.6 L717.9 547.9 L721.4 547.1 L725 546.3 L728.6 545.7 L731.6 545.5 L734.7 545.4 L737.8 545.5 L740.8 545.7" stroke="#0000cd"/><path d="M740.8 545.7 L744.9 547.8 L748 548.9 L751 550.3 L754.1 552 L757.1 553.9 L761.2 557.3 L765.3 564.1 L769.4 579.5 L773.5 596.7 L777.6 610 L781.6 621.2 L785.7 630.3 L789.8 637.6 L792.9 640.7 L795.9 643.4 L799 645.8 L802 647.8 L806.1 650.6 L810.2 651.8" stroke="#dc143c"/><path d="M810.2 651.8 L814.3 651.2 L818.4 649.8 L821.8 649.5 L825.2 649.3 L828.6 649 L832 648.7 L835.4 648.3 L838.8 647.8 L842.9 645.1 L846.9 641.6 L850.2 640.3 L853.5 638.9 L856.7 637.4 L860 635.7 L863.3 633.5 L866.3 629.8 L869.4 625.4 L872.4 621 L875.5 617.1 L878.6 614.4 L881.6 612.4 L884.7 610.2 L887.8 606.9 L890.8 602.4 L893.9 597 L896.9 591 L900 584.5 L903.1 577.4 L906.1 569.7 L909.2 561.7 L912.2 553.9 L915.3 546.3 L918.4 538.7 L921.4 531.1 L924.5 523.3 L927.8 516.7 L931 509.8 L934.3 502.9 L937.6 496.4 L940.8 490.6 L944.1 485.7 L947.3 481.3 L950.6 477.4 L953.9 473.8 L957.1 470.2 L960.2 465.7 L963.3 461.4 L966.3 457.6 L969.4 454.7 L973.5 452.2 L977.6 451.8" stroke="#0000cd"/><path d="M977.6 451.8 L980.6 451.8 L983.7 453.1 L987.2 454.5 L990.8 456.4 L994.4 458.3 L998 460 L1001.2 461 L1004.5 461.8 L1007.8 462.5 L1011 463.3 L1014.3 464.1 L1017.6 465 L1020.8 466 L1024.1 467 L1027.3 468 L1030.6 469 L1033.9 470 L1037.1 471.1 L1040.4 472.2 L1043.7 473.2 L1046.9 474.3 L1050.2 475.2 L1053.5 476 L1056.7 476.8 L1060 477.8 L1063.3 479.2 L1066.7 480.7 L1070.1 482.3 L1073.5 484.2 L1076.9 486.2 L1080.3 488.3 L1083.7 490.6 L1086.9 493.6 L1090.2 497 L1093.5 500.5 L1096.7 503.9 L1100 506.9 L1103.3 509.7 L1106.5 512.2 L1109.8 514.5 L1113.1 516.9 L1116.3 519.2 L1119.4 522.3 L1122.4 525.6 L1125.5 528.5 L1128.6 530.6 L1133.5 532.2" stroke="#dc143c"/><path d="M1133.5 532.2 L1138.8 529.4 L1142.3 528.7 L1145.9 528.1 L1149.5 527.4 L1153.1 526.5 L1156.5 525.8 L1159.9 525.1 L1163.3 524.3 L1166.7 523.4 L1170.1 522.4 L1173.5 521.2 L1176.9 519.9 L1180.3 518.5 L1183.7 516.9 L1187.1 515.2 L1190.5 513.3 L1193.9 511 L1197.1 507.9 L1200.4 504.3 L1203.7 500.4 L1206.9 496.5 L1210.2 492.7 L1213.3 488 L1216.3 483.2 L1219.4 478.6 L1222.4 474.3 L1225.9 468.9 L1229.3 463.9 L1232.7 460 L1236.7 456.5 L1240.8 454.7" stroke="#0000cd"/><path d="M1240.8 454.7 L1243.9 454.3 L1246.9 454.7 L1250.2 454.8 L1253.5 455 L1256.7 455.2 L1260 455.5 L1263.3 455.9 L1266.5 456.5 L1269.8 457.1 L1273.1 457.9 L1276.3 458.6 L1279.6 459.2 L1282.9 459.7 L1286.1 460.1 L1289.4 460.5 L1292.7 460.8 L1295.9 461.2 L1299.2 461.7 L1302.4 462.1 L1305.7 462.6 L1309 463 L1312.2 463.3" stroke="#dc143c"/><path d="M1312.2 463.3 L1316.3 463.3 L1319.4 463.2 L1322.4 463.3" stroke="#0000cd"/><path d="M1322.4 463.3 L1325.5 463.8 L1328.6 464.1 L1332 464 L1335.4 463.8 L1338.8 463.6 L1342.2 463.4 L1345.6 463.1 L1349 462.9" stroke="#dc143c"/><path d="M1349 462.9 L1353.1 462.2 L1357.1 461.2 L1360.4 460.6 L1363.7 459.9 L1366.9 459.2 L1370.2 458.5 L1373.5 458 L1376.9 457.7 L1380.3 457.5 L1383.7 457.3 L1387.1 457.3 L1390.5 457.2 L1393.9 457.1 L1396.9 457.1 L1400 457.2 L1403.1 457.3 L1406.1 457.4 L1409.2 457.5 L1412.2 457.5 L1415.3 457.4 L1418.4 457.1 L1421.4 456.4 L1424.5 455.3 L1427.6 453.8 L1430.6 451.8 L1433.9 449.9 L1437.1 447.6 L1440.4 445.1 L1443.7 442.4 L1446.9 439.6 L1450.2 436.6 L1453.5 433.5 L1456.7 430.1 L1460 426.7 L1463.3 423.3 L1466.5 419.7 L1469.8 416 L1473.1 412.2 L1476.3 408.5 L1479.6 404.9 L1482.9 401.4 L1486.1 398 L1489.4 394.7 L1492.7 391.5 L1495.9 388.6 L1499.2 385.7 L1502.4 382.9 L1505.7 380.4 L1509 378.1 L1512.2 376.3 L1515.3 374.8 L1518.4 373.9 L1521.4 373.4 L1524.5 373.1 L1527.8 372.9 L1531 372.9 L1534.3 373 L1537.6 373.1 L1540.8 373.1 L1544.1 373 L1547.3 372.8 L1550.6 372.7 L1553.9 372.5 L1557.1 372.2 L1560.9 371.8 L1564.6 370.9 L1567.7 368.6 L1570.7 366.3 L1573.8 364.9 L1576.8 364 L1579.9 363.5 L1583 362.5 L1586.8 359.4 L1590.6 356.3 L1594.4 355.2 L1598.3 354.8 L1601.3 354.5 L1604.4 354.5" stroke="#0000cd"/><path d="M1604.4 354.5 L1607.5 354.8 L1610.5 355.1 L1613.6 355.6 L1617.4 356.5 L1621.2 357.9 L1625.1 359.8 L1628.9 361.7 L1632.7 363 L1636.5 364 L1639.6 364.9 L1642.7 365.8 L1645.7 367 L1648.8 367.8" stroke="#dc143c"/><path d="M1648.8 367.8 L1650.3 367.4 L1654.1 367.1 L1658 367" stroke="#0000cd"/><path d="M1658 367 L1661 367.8 L1664.1 370.3 L1667.1 373.2 L1671 374.9 L1674.8 376.2 L1678.6 377.5 L1682.5 378.5 L1686.3 378.9 L1690.1 379.3 L1694.7 381.6 L1698.5 382.4" stroke="#dc143c"/><path d="M1698.5 382.4 L1700.8 382 L1703.9 381.7 L1706.9 381.1 L1710 380.1 L1713.1 378.5 L1716.9 375.8 L1720.7 373.2 L1724.5 371.8 L1728.4 370.9 L1732.2 370.2 L1736 369.3 L1739.9 367.6 L1743.7 365.5 L1746.7 364.2 L1749.8 362.8 L1752.9 361.7 L1755.9 361 L1759 360.5 L1762.1 360.2 L1765.1 359.9 L1768.2 359.8 L1771.2 359.4 L1774.3 358.5 L1777.4 357.3 L1780.4 356.3 L1783.5 355.7 L1786.5 355.2 L1789.6 354.5 L1792.7 353.4 L1795.7 352.2 L1798.8 351 L1801.8 349.9 L1804.9 348.8 L1808 347.9 L1811 347.3 L1814.1 346.8 L1817.2 346.4 L1820.2 346.1 L1823.3 345.8 L1826.3 345.6 L1829.4 345.4 L1832.5 345.1 L1835.5 344.9 L1838.8 344.7 L1842.2 344.5 L1845.5 344.4" stroke="#0000cd"/></g><rect x="5" y="115" width="61" height="18" fill="#d3d3d3" shape-rendering="crispEdges"/><text x="5.6" y="128.8" font-size="16.5" fill="#000" font-family="'Liberation Sans',sans-serif" textLength="47.5" lengthAdjust="spacingAndGlyphs">1.1570</text><rect x="5" y="264" width="61" height="18" fill="#d3d3d3" shape-rendering="crispEdges"/><text x="5.6" y="277.8" font-size="16.5" fill="#000" font-family="'Liberation Sans',sans-serif" textLength="47.5" lengthAdjust="spacingAndGlyphs">1.1560</text><rect x="5" y="414" width="61" height="18" fill="#d3d3d3" shape-rendering="crispEdges"/><text x="5.6" y="427.8" font-size="16.5" fill="#000" font-family="'Liberation Sans',sans-serif" textLength="47.5" lengthAdjust="spacingAndGlyphs">1.1550</text><rect x="5" y="564" width="61" height="18" fill="#d3d3d3" shape-rendering="crispEdges"/><text x="5.6" y="577.8" font-size="16.5" fill="#000" font-family="'Liberation Sans',sans-serif" textLength="47.5" lengthAdjust="spacingAndGlyphs">1.1540</text><rect x="5" y="713" width="61" height="18" fill="#d3d3d3" shape-rendering="crispEdges"/><text x="5.6" y="726.8" font-size="16.5" fill="#000" font-family="'Liberation Sans',sans-serif" textLength="47.5" lengthAdjust="spacingAndGlyphs">1.1530</text><g shape-rendering="crispEdges"><path d="M5 425h1v17h-1zM9 425h1v68h-1zM17 443h1v45h-1zM21 433h1v15h-1zM25 374h1v70h-1zM29 377h1v28h-1zM33 356h1v49h-1zM37 333h1v30h-1zM41 330h1v32h-1zM45 313h1v52h-1zM49 321h1v23h-1zM53 321h1v42h-1zM57 314h1v47h-1zM61 346h1v44h-1zM65 318h1v56h-1zM69 325h1v15h-1zM73 327h1v24h-1zM77 325h1v25h-1zM81 320h1v26h-1zM85 315h1v41h-1zM89 338h1v19h-1zM93 324h1v37h-1zM97 306h1v55h-1zM101 303h1v24h-1zM105 321h1v42h-1zM109 296h1v58h-1zM113 311h1v57h-1zM117 353h1v29h-1zM121 339h1v27h-1zM125 293h1v70h-1zM129 294h1v48h-1zM133 312h1v31h-1zM137 312h1v11h-1zM141 299h1v33h-1zM145 299h1v27h-1zM149 252h1v69h-1zM153 280h1v34h-1zM157 295h1v65h-1zM161 262h1v84h-1zM165 272h1v44h-1zM169 277h1v25h-1zM177 270h1v8h-1zM181 248h1v38h-1zM185 234h1v20h-1zM189 246h1v29h-1zM193 257h1v12h-1zM197 243h1v26h-1zM201 226h1v31h-1zM205 214h1v24h-1zM213 208h1v13h-1zM217 196h1v21h-1zM221 185h1v25h-1zM225 160h1v34h-1zM229 150h1v42h-1zM233 132h1v31h-1zM237 95h1v91h-1zM241 79h1v51h-1zM245 92h1v30h-1zM249 103h1v18h-1zM253 115h1v18h-1zM257 118h1v19h-1zM261 133h1v32h-1zM265 151h1v45h-1zM269 171h1v40h-1zM273 201h1v20h-1zM277 192h1v36h-1zM281 200h1v26h-1zM285 205h1v52h-1zM289 215h1v25h-1zM293 204h1v26h-1zM297 204h1v25h-1zM301 215h1v26h-1zM305 212h1v29h-1zM309 178h1v55h-1zM313 180h1v9h-1zM317 172h1v35h-1zM321 191h1v42h-1zM325 220h1v12h-1zM329 205h1v33h-1zM333 209h1v25h-1zM337 200h1v40h-1zM341 215h1v31h-1zM345 200h1v57h-1zM349 240h1v25h-1zM353 226h1v32h-1zM357 210h1v38h-1zM361 197h1v15h-1zM365 194h1v18h-1zM369 172h1v38h-1zM373 158h1v104h-1zM377 214h1v59h-1zM381 267h1v34h-1zM385 285h1v63h-1zM389 322h1v24h-1zM393 306h1v44h-1zM397 333h1v26h-1zM401 331h1v15h-1zM405 319h1v22h-1zM409 317h1v29h-1zM413 321h1v30h-1zM417 323h1v23h-1zM421 337h1v13h-1zM425 344h1v27h-1zM429 358h1v15h-1zM433 362h1v31h-1zM437 385h1v5h-1zM441 387h1v34h-1zM445 418h1v14h-1zM449 428h1v27h-1zM453 426h1v31h-1zM457 410h1v30h-1zM461 406h1v26h-1zM465 412h1v21h-1zM469 416h1v23h-1zM473 416h1v31h-1zM477 408h1v34h-1zM481 415h1v29h-1zM485 394h1v40h-1zM489 399h1v26h-1zM493 414h1v38h-1zM497 411h1v12h-1zM501 400h1v38h-1zM505 400h1v81h-1zM509 440h1v12h-1zM513 431h1v19h-1zM517 430h1v28h-1zM521 422h1v32h-1zM525 386h1v84h-1zM529 386h1v24h-1zM533 377h1v16h-1zM537 369h1v42h-1zM541 388h1v22h-1zM545 389h1v10h-1zM549 391h1v21h-1zM553 401h1v27h-1zM557 416h1v67h-1zM561 428h1v31h-1zM565 428h1v21h-1zM569 413h1v52h-1zM573 421h1v43h-1zM577 440h1v36h-1zM581 450h1v37h-1zM585 455h1v37h-1zM589 448h1v64h-1zM593 450h1v63h-1zM597 495h1v34h-1zM601 509h1v34h-1zM609 514h1v42h-1zM613 516h1v26h-1zM617 481h1v58h-1zM621 495h1v33h-1zM625 504h1v35h-1zM629 503h1v28h-1zM633 486h1v22h-1zM637 495h1v73h-1zM641 512h1v51h-1zM645 508h1v12h-1zM649 493h1v39h-1zM653 496h1v28h-1zM657 476h1v51h-1zM661 486h1v25h-1zM665 502h1v16h-1zM669 503h1v53h-1zM673 539h1v37h-1zM677 564h1v36h-1zM681 573h1v26h-1zM685 564h1v28h-1zM689 568h1v36h-1zM693 566h1v19h-1zM697 570h1v15h-1zM701 561h1v18h-1zM705 556h1v26h-1zM709 540h1v27h-1zM713 543h1v27h-1zM717 541h1v15h-1zM721 532h1v33h-1zM725 521h1v43h-1zM729 542h1v46h-1zM737 538h1v17h-1zM741 549h1v19h-1zM745 556h1v21h-1zM749 561h1v11h-1zM753 543h1v27h-1zM757 539h1v42h-1zM761 566h1v47h-1zM765 591h1v27h-1zM769 615h1v87h-1zM773 681h1v40h-1zM777 699h1v64h-1zM781 733h1v28h-1zM785 717h1v28h-1zM789 717h1v18h-1zM793 689h1v45h-1zM797 699h1v58h-1zM801 686h1v31h-1zM805 658h1v64h-1zM809 650h1v20h-1zM813 650h1v17h-1zM817 600h1v88h-1zM821 605h1v58h-1zM825 623h1v24h-1zM829 636h1v17h-1zM833 633h1v20h-1zM837 616h1v50h-1zM841 571h1v77h-1zM845 595h1v30h-1zM849 602h1v22h-1zM853 612h1v11h-1zM857 608h1v38h-1zM861 600h1v61h-1zM865 592h1v20h-1zM869 558h1v56h-1zM873 537h1v32h-1zM877 546h1v44h-1zM885 559h1v45h-1zM889 547h1v52h-1zM893 483h1v80h-1zM897 488h1v42h-1zM901 474h1v23h-1zM905 478h1v28h-1zM909 474h1v60h-1zM913 464h1v36h-1zM917 451h1v25h-1zM921 449h1v21h-1zM925 410h1v59h-1zM929 418h1v34h-1zM933 439h1v19h-1zM937 417h1v39h-1zM941 405h1v28h-1zM945 404h1v32h-1zM949 419h1v28h-1zM953 437h1v7h-1zM957 414h1v28h-1zM961 412h1v19h-1zM965 418h1v16h-1zM969 406h1v21h-1zM973 390h1v21h-1zM977 405h1v30h-1zM981 423h1v31h-1zM985 440h1v31h-1zM989 453h1v29h-1zM993 458h1v21h-1zM997 460h1v31h-1zM1001 463h1v27h-1zM1005 471h1v22h-1zM1009 468h1v28h-1zM1013 453h1v24h-1zM1017 449h1v32h-1zM1021 452h1v45h-1zM1025 467h1v31h-1zM1029 473h1v23h-1zM1033 462h1v27h-1zM1037 463h1v12h-1zM1041 461h1v37h-1zM1045 476h1v26h-1zM1049 467h1v34h-1zM1053 492h1v15h-1zM1057 462h1v48h-1zM1061 471h1v20h-1zM1065 477h1v42h-1zM1069 480h1v38h-1zM1073 492h1v21h-1zM1077 504h1v19h-1zM1081 504h1v17h-1zM1085 505h1v35h-1zM1089 521h1v12h-1zM1093 516h1v20h-1zM1097 528h1v22h-1zM1101 538h1v9h-1zM1105 536h1v14h-1zM1109 543h1v7h-1zM1113 538h1v11h-1zM1117 528h1v21h-1zM1121 531h1v19h-1zM1125 534h1v32h-1zM1129 556h1v8h-1zM1133 540h1v21h-1zM1137 516h1v33h-1zM1141 520h1v17h-1zM1145 517h1v19h-1zM1149 509h1v13h-1zM1153 508h1v16h-1zM1157 516h1v13h-1zM1165 506h1v17h-1zM1169 513h1v11h-1zM1173 517h1v17h-1zM1177 504h1v23h-1zM1181 482h1v34h-1zM1185 472h1v25h-1zM1189 482h1v16h-1zM1193 472h1v35h-1zM1197 470h1v12h-1zM1201 449h1v31h-1zM1205 454h1v5h-1zM1209 434h1v36h-1zM1213 437h1v5h-1zM1217 414h1v28h-1zM1221 402h1v22h-1zM1225 388h1v23h-1zM1229 385h1v25h-1zM1233 407h1v6h-1zM1237 408h1v28h-1zM1241 432h1v18h-1zM1245 431h1v28h-1zM1249 443h1v23h-1zM1253 460h1v14h-1zM1257 456h1v15h-1zM1261 451h1v22h-1zM1265 461h1v5h-1zM1269 454h1v11h-1zM1273 452h1v24h-1zM1277 472h1v8h-1zM1281 469h1v9h-1zM1285 459h1v17h-1zM1289 461h1v11h-1zM1293 456h1v23h-1zM1297 452h1v29h-1zM1301 460h1v20h-1zM1305 450h1v29h-1zM1309 446h1v18h-1zM1313 447h1v12h-1zM1317 447h1v15h-1zM1321 449h1v12h-1zM1325 449h1v19h-1zM1329 455h1v34h-1zM1333 455h1v16h-1zM1337 452h1v20h-1zM1341 450h1v6h-1zM1345 451h1v16h-1zM1349 451h1v16h-1zM1353 445h1v28h-1zM1357 440h1v32h-1zM1361 429h1v29h-1zM1365 426h1v15h-1zM1369 428h1v37h-1zM1373 453h1v6h-1zM1377 445h1v20h-1zM1381 462h1v22h-1zM1385 468h1v15h-1zM1389 465h1v13h-1zM1393 443h1v30h-1zM1397 444h1v18h-1zM1401 452h1v6h-1zM1405 452h1v3h-1zM1409 450h1v16h-1zM1413 444h1v15h-1zM1421 440h1v29h-1zM1425 440h1v5h-1zM1429 432h1v16h-1zM1433 422h1v15h-1zM1437 418h1v9h-1zM1441 405h1v22h-1zM1445 391h1v16h-1zM1449 398h1v10h-1zM1453 398h1v10h-1zM1457 387h1v22h-1zM1461 388h1v9h-1zM1465 378h1v12h-1zM1469 367h1v15h-1zM1473 363h1v10h-1zM1477 354h1v14h-1zM1481 354h1v6h-1zM1485 349h1v13h-1zM1489 349h1v12h-1zM1493 344h1v17h-1zM1497 346h1v5h-1zM1501 342h1v14h-1zM1505 346h1v7h-1zM1509 347h1v9h-1zM1513 341h1v16h-1zM1517 342h1v23h-1zM1521 345h1v25h-1zM1529 359h1v26h-1zM1533 378h1v13h-1zM1537 363h1v37h-1zM1541 350h1v36h-1zM1545 366h1v15h-1zM1549 347h1v34h-1zM1553 351h1v27h-1zM1557 364h1v12h-1zM1561 363h1v14h-1zM1565 345h1v32h-1zM1573 337h1v21h-1zM1577 342h1v11h-1zM1581 349h1v30h-1zM1585 355h1v18h-1zM1589 324h1v40h-1zM1593 308h1v31h-1zM1597 330h1v13h-1zM1601 334h1v22h-1zM1605 347h1v22h-1zM1609 360h1v17h-1zM1613 346h1v27h-1zM1617 334h1v44h-1zM1621 364h1v6h-1zM1625 368h1v17h-1zM1629 363h1v30h-1zM1633 361h1v8h-1zM1637 360h1v22h-1zM1641 366h1v19h-1zM1645 367h1v15h-1zM1649 372h1v8h-1zM1653 370h1v22h-1zM1657 358h1v31h-1zM1661 356h1v24h-1zM1665 367h1v34h-1zM1669 393h1v15h-1zM1673 380h1v29h-1zM1677 377h1v17h-1zM1685 384h1v21h-1zM1689 374h1v29h-1zM1693 383h1v17h-1zM1697 389h1v11h-1zM1701 383h1v16h-1zM1705 364h1v48h-1zM1709 367h1v15h-1zM1713 355h1v28h-1zM1717 341h1v25h-1zM1721 341h1v19h-1zM1725 342h1v25h-1zM1729 354h1v10h-1zM1733 361h1v10h-1zM1737 347h1v27h-1zM1741 340h1v33h-1zM1745 350h1v14h-1zM1749 347h1v15h-1zM1753 343h1v15h-1zM1757 350h1v5h-1zM1761 332h1v28h-1zM1765 337h1v25h-1zM1769 354h1v19h-1zM1773 340h1v26h-1zM1777 344h1v5h-1zM1781 343h1v11h-1zM1785 346h1v22h-1zM1789 344h1v12h-1zM1797 337h1v12h-1zM1801 334h1v6h-1zM1805 323h1v16h-1zM1809 328h1v9h-1zM1813 326h1v9h-1zM1817 332h1v26h-1zM1821 339h1v23h-1zM1825 334h1v8h-1zM1829 330h1v11h-1zM1833 329h1v14h-1zM1837 338h1v7h-1zM1841 338h1v22h-1zM1845 334h1v20h-1z" fill="#0e0e38"/><path d="M4 433h3v6h-3zM8 433h3v46h-3zM16 445h3v32h-3zM20 438h3v8h-3zM24 382h3v57h-3zM28 382h3v10h-3zM32 357h3v35h-3zM36 343h3v15h-3zM40 343h3v14h-3zM44 324h3v33h-3zM48 324h3v16h-3zM52 327h3v13h-3zM56 327h3v23h-3zM60 349h3v22h-3zM64 325h3v46h-3zM68 325h3v8h-3zM72 332h3v17h-3zM76 336h3v13h-3zM80 325h3v12h-3zM84 325h3v26h-3zM88 350h3v4h-3zM92 337h3v17h-3zM96 309h3v29h-3zM100 309h3v15h-3zM104 323h3v10h-3zM108 316h3v17h-3zM112 316h3v51h-3zM116 358h3v9h-3zM120 351h3v8h-3zM124 299h3v53h-3zM128 299h3v34h-3zM132 317h3v16h-3zM136 317h3v6h-3zM140 303h3v20h-3zM144 303h3v9h-3zM148 295h3v17h-3zM152 295h3v9h-3zM156 303h3v31h-3zM160 278h3v56h-3zM164 278h3v25h-3zM168 278h3v25h-3zM176 276h3v1h-3zM180 253h3v25h-3zM184 248h3v6h-3zM188 248h3v19h-3zM192 263h3v4h-3zM196 248h3v16h-3zM200 234h3v15h-3zM204 217h3v18h-3zM212 214h3v5h-3zM216 205h3v10h-3zM220 190h3v16h-3zM224 168h3v23h-3zM228 158h3v11h-3zM232 139h3v20h-3zM236 127h3v13h-3zM240 120h3v8h-3zM244 115h3v6h-3zM248 115h3v6h-3zM252 120h3v3h-3zM256 122h3v14h-3zM260 135h3v30h-3zM264 164h3v16h-3zM268 179h3v26h-3zM272 204h3v14h-3zM276 217h3v9h-3zM280 211h3v15h-3zM284 211h3v28h-3zM288 222h3v17h-3zM292 205h3v18h-3zM296 205h3v15h-3zM300 219h3v10h-3zM304 218h3v11h-3zM308 182h3v37h-3zM312 182h3v3h-3zM316 184h3v14h-3zM320 197h3v32h-3zM324 228h3v3h-3zM328 222h3v9h-3zM332 214h3v9h-3zM336 214h3v19h-3zM340 217h3v16h-3zM344 217h3v37h-3zM348 245h3v9h-3zM352 232h3v14h-3zM356 211h3v22h-3zM360 207h3v5h-3zM364 202h3v6h-3zM368 178h3v25h-3zM372 178h3v52h-3zM376 229h3v39h-3zM380 267h3v29h-3zM384 295h3v45h-3zM388 328h3v12h-3zM392 328h3v12h-3zM396 339h3v1h-3zM400 335h3v6h-3zM404 329h3v7h-3zM408 329h3v9h-3zM412 330h3v8h-3zM416 330h3v13h-3zM420 342h3v8h-3zM424 349h3v15h-3zM428 363h3v1h-3zM432 364h3v23h-3zM436 386h3v4h-3zM440 389h3v32h-3zM444 420h3v11h-3zM448 430h3v16h-3zM452 428h3v18h-3zM456 419h3v10h-3zM460 419h3v6h-3zM464 421h3v4h-3zM468 421h3v18h-3zM472 421h3v18h-3zM476 421h3v14h-3zM480 424h3v11h-3zM484 400h3v25h-3zM488 400h3v20h-3zM492 418h3v1h-3zM496 413h3v6h-3zM500 413h3v23h-3zM504 435h3v7h-3zM508 441h3v1h-3zM512 442h3v8h-3zM516 444h3v6h-3zM520 435h3v10h-3zM524 399h3v37h-3zM528 390h3v10h-3zM532 381h3v10h-3zM536 381h3v18h-3zM540 392h3v7h-3zM544 392h3v4h-3zM548 395h3v11h-3zM552 405h3v19h-3zM556 423h3v35h-3zM560 441h3v17h-3zM564 435h3v7h-3zM568 423h3v13h-3zM572 423h3v36h-3zM576 458h3v6h-3zM580 462h3v1h-3zM584 462h3v22h-3zM588 462h3v22h-3zM592 462h3v48h-3zM596 509h3v14h-3zM600 522h3v21h-3zM608 517h3v28h-3zM612 517h3v20h-3zM616 496h3v41h-3zM620 496h3v30h-3zM624 524h3v1h-3zM628 504h3v21h-3zM632 504h3v3h-3zM636 506h3v55h-3zM640 513h3v48h-3zM644 513h3v7h-3zM648 499h3v21h-3zM652 499h3v18h-3zM656 492h3v25h-3zM660 492h3v12h-3zM664 503h3v3h-3zM668 505h3v44h-3zM672 548h3v24h-3zM676 571h3v19h-3zM680 579h3v11h-3zM684 579h3v9h-3zM688 571h3v17h-3zM692 571h3v3h-3zM696 571h3v3h-3zM700 571h3v6h-3zM704 558h3v19h-3zM708 558h3v5h-3zM712 544h3v19h-3zM716 544h3v11h-3zM720 533h3v22h-3zM724 533h3v17h-3zM728 544h3v6h-3zM736 543h3v11h-3zM740 553h3v14h-3zM744 566h3v3h-3zM748 563h3v6h-3zM752 549h3v15h-3zM756 549h3v22h-3zM760 570h3v28h-3zM764 597h3v20h-3zM768 616h3v76h-3zM772 691h3v30h-3zM776 720h3v30h-3zM780 742h3v8h-3zM784 728h3v15h-3zM788 721h3v8h-3zM792 703h3v19h-3zM796 702h3v1h-3zM800 702h3v9h-3zM804 665h3v46h-3zM808 658h3v8h-3zM812 658h3v8h-3zM816 614h3v52h-3zM820 614h3v21h-3zM824 634h3v10h-3zM828 642h3v1h-3zM832 642h3v8h-3zM836 629h3v21h-3zM840 601h3v29h-3zM844 601h3v17h-3zM848 617h3v5h-3zM852 613h3v9h-3zM856 613h3v25h-3zM860 604h3v34h-3zM864 603h3v1h-3zM868 568h3v36h-3zM872 550h3v19h-3zM876 550h3v25h-3zM884 573h3v11h-3zM888 555h3v29h-3zM892 516h3v40h-3zM896 489h3v28h-3zM900 479h3v11h-3zM904 479h3v25h-3zM908 485h3v19h-3zM912 470h3v16h-3zM916 452h3v19h-3zM920 452h3v7h-3zM924 420h3v39h-3zM928 420h3v24h-3zM932 443h3v5h-3zM936 427h3v21h-3zM940 415h3v13h-3zM944 415h3v7h-3zM948 421h3v19h-3zM952 438h3v1h-3zM956 415h3v24h-3zM960 415h3v11h-3zM964 422h3v4h-3zM968 408h3v15h-3zM972 408h3v1h-3zM976 408h3v20h-3zM980 427h3v23h-3zM984 449h3v14h-3zM988 462h3v16h-3zM992 465h3v13h-3zM996 465h3v25h-3zM1000 475h3v15h-3zM1004 475h3v10h-3zM1008 474h3v11h-3zM1012 470h3v5h-3zM1016 456h3v15h-3zM1020 456h3v34h-3zM1024 479h3v11h-3zM1028 479h3v4h-3zM1032 472h3v11h-3zM1036 466h3v7h-3zM1040 466h3v29h-3zM1044 481h3v14h-3zM1048 481h3v14h-3zM1052 494h3v7h-3zM1056 474h3v27h-3zM1060 474h3v14h-3zM1064 487h3v27h-3zM1068 497h3v17h-3zM1072 497h3v11h-3zM1076 507h3v1h-3zM1080 507h3v5h-3zM1084 511h3v15h-3zM1088 522h3v4h-3zM1092 522h3v10h-3zM1096 531h3v9h-3zM1100 539h3v4h-3zM1104 542h3v5h-3zM1108 546h3v1h-3zM1112 543h3v4h-3zM1116 537h3v7h-3zM1120 537h3v8h-3zM1124 544h3v17h-3zM1128 559h3v1h-3zM1132 543h3v17h-3zM1136 525h3v19h-3zM1140 525h3v7h-3zM1144 521h3v11h-3zM1148 513h3v9h-3zM1152 513h3v10h-3zM1156 519h3v4h-3zM1164 520h3v3h-3zM1168 522h3v1h-3zM1172 522h3v3h-3zM1176 505h3v20h-3zM1180 491h3v15h-3zM1184 484h3v8h-3zM1188 484h3v9h-3zM1192 476h3v17h-3zM1196 476h3v4h-3zM1200 457h3v23h-3zM1204 456h3v1h-3zM1208 438h3v19h-3zM1212 438h3v1h-3zM1216 414h3v26h-3zM1220 408h3v7h-3zM1224 396h3v13h-3zM1228 396h3v13h-3zM1232 408h3v4h-3zM1236 411h3v24h-3zM1240 434h3v9h-3zM1244 442h3v13h-3zM1248 454h3v11h-3zM1252 464h3v5h-3zM1256 462h3v7h-3zM1260 462h3v4h-3zM1264 465h3v1h-3zM1268 456h3v10h-3zM1272 456h3v19h-3zM1276 474h3v1h-3zM1280 472h3v4h-3zM1284 462h3v11h-3zM1288 462h3v1h-3zM1292 463h3v13h-3zM1296 467h3v9h-3zM1300 467h3v11h-3zM1304 460h3v18h-3zM1308 450h3v11h-3zM1312 450h3v8h-3zM1316 452h3v6h-3zM1320 452h3v3h-3zM1324 454h3v11h-3zM1328 458h3v7h-3zM1332 458h3v9h-3zM1336 455h3v12h-3zM1340 455h3v1h-3zM1344 455h3v8h-3zM1348 455h3v8h-3zM1352 455h3v12h-3zM1356 449h3v18h-3zM1360 432h3v18h-3zM1364 431h3v1h-3zM1368 431h3v26h-3zM1372 455h3v1h-3zM1376 455h3v10h-3zM1380 464h3v11h-3zM1384 471h3v4h-3zM1388 471h3v1h-3zM1392 448h3v25h-3zM1396 448h3v10h-3zM1400 454h3v4h-3zM1404 453h3v1h-3zM1408 453h3v5h-3zM1412 452h3v6h-3zM1420 442h3v11h-3zM1424 441h3v1h-3zM1428 435h3v7h-3zM1432 425h3v11h-3zM1436 421h3v5h-3zM1440 407h3v15h-3zM1444 405h3v3h-3zM1448 402h3v4h-3zM1452 402h3v5h-3zM1456 392h3v15h-3zM1460 388h3v5h-3zM1464 380h3v9h-3zM1468 369h3v12h-3zM1472 366h3v4h-3zM1476 359h3v8h-3zM1480 358h3v1h-3zM1484 351h3v8h-3zM1488 351h3v6h-3zM1492 350h3v7h-3zM1496 350h3v1h-3zM1500 350h3v1h-3zM1504 348h3v3h-3zM1508 348h3v7h-3zM1512 354h3v1h-3zM1516 350h3v6h-3zM1520 350h3v20h-3zM1528 368h3v15h-3zM1532 382h3v4h-3zM1536 365h3v21h-3zM1540 365h3v10h-3zM1544 374h3v5h-3zM1548 355h3v24h-3zM1552 355h3v18h-3zM1556 367h3v6h-3zM1560 367h3v4h-3zM1564 352h3v19h-3zM1572 348h3v3h-3zM1576 348h3v4h-3zM1580 351h3v11h-3zM1584 358h3v4h-3zM1588 325h3v34h-3zM1592 325h3v12h-3zM1596 336h3v1h-3zM1600 337h3v12h-3zM1604 348h3v19h-3zM1608 363h3v4h-3zM1612 348h3v16h-3zM1616 348h3v22h-3zM1620 369h3v1h-3zM1624 369h3v15h-3zM1628 367h3v17h-3zM1632 363h3v5h-3zM1636 363h3v16h-3zM1640 370h3v9h-3zM1644 370h3v10h-3zM1648 373h3v7h-3zM1652 373h3v10h-3zM1656 361h3v22h-3zM1660 361h3v19h-3zM1664 379h3v16h-3zM1668 394h3v13h-3zM1672 382h3v25h-3zM1676 382h3v4h-3zM1684 386h3v15h-3zM1688 384h3v17h-3zM1692 384h3v14h-3zM1696 394h3v4h-3zM1700 386h3v9h-3zM1704 372h3v15h-3zM1708 372h3v4h-3zM1712 357h3v19h-3zM1716 353h3v5h-3zM1720 347h3v7h-3zM1724 347h3v16h-3zM1728 362h3v1h-3zM1732 362h3v5h-3zM1736 348h3v19h-3zM1740 348h3v14h-3zM1744 351h3v11h-3zM1748 351h3v1h-3zM1752 352h3v1h-3zM1756 351h3v3h-3zM1760 345h3v7h-3zM1764 345h3v13h-3zM1768 357h3v6h-3zM1772 346h3v17h-3zM1776 345h3v1h-3zM1780 345h3v6h-3zM1784 350h3v5h-3zM1788 347h3v8h-3zM1796 337h3v12h-3zM1800 337h3v1h-3zM1804 330h3v8h-3zM1808 330h3v3h-3zM1812 332h3v3h-3zM1816 334h3v23h-3zM1820 340h3v17h-3zM1824 338h3v3h-3zM1828 335h3v4h-3zM1832 335h3v7h-3zM1836 341h3v3h-3zM1840 343h3v10h-3zM1844 338h3v15h-3z" fill="#0e0e38"/><path d="M5 434h1v4h-1zM17 446h1v30h-1zM21 439h1v6h-1zM25 383h1v55h-1zM33 358h1v33h-1zM37 344h1v13h-1zM45 325h1v31h-1zM53 328h1v11h-1zM65 326h1v44h-1zM77 337h1v11h-1zM81 326h1v10h-1zM93 338h1v15h-1zM97 310h1v27h-1zM109 317h1v15h-1zM117 359h1v7h-1zM121 352h1v6h-1zM125 300h1v51h-1zM133 318h1v14h-1zM141 304h1v18h-1zM149 296h1v15h-1zM161 279h1v54h-1zM169 279h1v23h-1zM181 254h1v23h-1zM185 249h1v4h-1zM193 264h1v2h-1zM197 249h1v14h-1zM201 235h1v13h-1zM205 218h1v16h-1zM213 215h1v3h-1zM217 206h1v8h-1zM221 191h1v14h-1zM225 169h1v21h-1zM229 159h1v9h-1zM233 140h1v18h-1zM237 128h1v11h-1zM241 121h1v6h-1zM245 116h1v4h-1zM281 212h1v13h-1zM289 223h1v15h-1zM293 206h1v16h-1zM305 219h1v9h-1zM309 183h1v35h-1zM329 223h1v7h-1zM333 215h1v7h-1zM341 218h1v14h-1zM349 246h1v7h-1zM353 233h1v12h-1zM357 212h1v20h-1zM361 208h1v3h-1zM365 203h1v4h-1zM369 179h1v23h-1zM389 329h1v10h-1zM401 336h1v4h-1zM405 330h1v5h-1zM413 331h1v6h-1zM453 429h1v16h-1zM457 420h1v8h-1zM465 422h1v2h-1zM473 422h1v16h-1zM481 425h1v9h-1zM485 401h1v23h-1zM497 414h1v4h-1zM517 445h1v4h-1zM521 436h1v8h-1zM525 400h1v35h-1zM529 391h1v8h-1zM533 382h1v8h-1zM541 393h1v5h-1zM561 442h1v15h-1zM565 436h1v5h-1zM569 424h1v11h-1zM589 463h1v20h-1zM609 518h1v26h-1zM617 497h1v39h-1zM629 505h1v19h-1zM641 514h1v46h-1zM649 500h1v19h-1zM657 493h1v23h-1zM681 580h1v9h-1zM689 572h1v15h-1zM697 572h1v1h-1zM705 559h1v17h-1zM713 545h1v17h-1zM721 534h1v20h-1zM729 545h1v4h-1zM749 564h1v4h-1zM753 550h1v13h-1zM781 743h1v6h-1zM785 729h1v13h-1zM789 722h1v6h-1zM793 704h1v17h-1zM805 666h1v44h-1zM809 659h1v6h-1zM817 615h1v50h-1zM837 630h1v19h-1zM841 602h1v27h-1zM853 614h1v7h-1zM861 605h1v32h-1zM869 569h1v34h-1zM873 551h1v17h-1zM889 556h1v27h-1zM893 517h1v38h-1zM897 490h1v26h-1zM901 480h1v9h-1zM909 486h1v17h-1zM913 471h1v14h-1zM917 453h1v17h-1zM925 421h1v37h-1zM937 428h1v19h-1zM941 416h1v11h-1zM957 416h1v22h-1zM965 423h1v2h-1zM969 409h1v13h-1zM993 466h1v11h-1zM1001 476h1v13h-1zM1009 475h1v9h-1zM1013 471h1v3h-1zM1017 457h1v13h-1zM1025 480h1v9h-1zM1033 473h1v9h-1zM1037 467h1v5h-1zM1045 482h1v12h-1zM1057 475h1v25h-1zM1069 498h1v15h-1zM1089 523h1v2h-1zM1113 544h1v2h-1zM1117 538h1v5h-1zM1133 544h1v15h-1zM1137 526h1v17h-1zM1145 522h1v9h-1zM1149 514h1v7h-1zM1157 520h1v2h-1zM1177 506h1v18h-1zM1181 492h1v13h-1zM1185 485h1v6h-1zM1193 477h1v15h-1zM1201 458h1v21h-1zM1209 439h1v17h-1zM1217 415h1v24h-1zM1221 409h1v5h-1zM1225 397h1v11h-1zM1257 463h1v5h-1zM1269 457h1v8h-1zM1281 473h1v2h-1zM1285 463h1v9h-1zM1297 468h1v7h-1zM1305 461h1v16h-1zM1309 451h1v9h-1zM1317 453h1v4h-1zM1329 459h1v5h-1zM1337 456h1v10h-1zM1349 456h1v6h-1zM1357 450h1v16h-1zM1361 433h1v16h-1zM1385 472h1v2h-1zM1393 449h1v23h-1zM1401 455h1v2h-1zM1413 453h1v4h-1zM1421 443h1v9h-1zM1429 436h1v5h-1zM1433 426h1v9h-1zM1437 422h1v3h-1zM1441 408h1v13h-1zM1445 406h1v1h-1zM1449 403h1v2h-1zM1457 393h1v13h-1zM1461 389h1v3h-1zM1465 381h1v7h-1zM1469 370h1v10h-1zM1473 367h1v2h-1zM1477 360h1v6h-1zM1485 352h1v6h-1zM1493 351h1v5h-1zM1505 349h1v1h-1zM1517 351h1v4h-1zM1537 366h1v19h-1zM1549 356h1v22h-1zM1557 368h1v4h-1zM1565 353h1v17h-1zM1573 349h1v1h-1zM1585 359h1v2h-1zM1589 326h1v32h-1zM1609 364h1v2h-1zM1613 349h1v14h-1zM1629 368h1v15h-1zM1633 364h1v3h-1zM1641 371h1v7h-1zM1649 374h1v5h-1zM1657 362h1v20h-1zM1673 383h1v23h-1zM1689 385h1v15h-1zM1697 395h1v2h-1zM1701 387h1v7h-1zM1705 373h1v13h-1zM1713 358h1v17h-1zM1717 354h1v3h-1zM1721 348h1v5h-1zM1737 349h1v17h-1zM1745 352h1v9h-1zM1757 352h1v1h-1zM1761 346h1v5h-1zM1773 347h1v15h-1zM1789 348h1v6h-1zM1797 338h1v10h-1zM1805 331h1v6h-1zM1821 341h1v15h-1zM1825 339h1v1h-1zM1829 336h1v2h-1zM1845 339h1v13h-1z" fill="#f0f0f0"/><path d="M9 434h1v44h-1zM29 383h1v8h-1zM41 344h1v12h-1zM49 325h1v14h-1zM57 328h1v21h-1zM61 350h1v20h-1zM69 326h1v6h-1zM73 333h1v15h-1zM85 326h1v24h-1zM89 351h1v2h-1zM101 310h1v13h-1zM105 324h1v8h-1zM113 317h1v49h-1zM129 300h1v32h-1zM137 318h1v4h-1zM145 304h1v7h-1zM153 296h1v7h-1zM157 304h1v29h-1zM165 279h1v23h-1zM189 249h1v17h-1zM249 116h1v4h-1zM253 121h1v1h-1zM257 123h1v12h-1zM261 136h1v28h-1zM265 165h1v14h-1zM269 180h1v24h-1zM273 205h1v12h-1zM277 218h1v7h-1zM285 212h1v26h-1zM297 206h1v13h-1zM301 220h1v8h-1zM313 183h1v1h-1zM317 185h1v12h-1zM321 198h1v30h-1zM325 229h1v1h-1zM337 215h1v17h-1zM345 218h1v35h-1zM373 179h1v50h-1zM377 230h1v37h-1zM381 268h1v27h-1zM385 296h1v43h-1zM393 329h1v10h-1zM409 330h1v7h-1zM417 331h1v11h-1zM421 343h1v6h-1zM425 350h1v13h-1zM433 365h1v21h-1zM437 387h1v2h-1zM441 390h1v30h-1zM445 421h1v9h-1zM449 431h1v14h-1zM461 420h1v4h-1zM469 422h1v16h-1zM477 422h1v12h-1zM489 401h1v18h-1zM501 414h1v21h-1zM505 436h1v5h-1zM513 443h1v6h-1zM537 382h1v16h-1zM545 393h1v2h-1zM549 396h1v9h-1zM553 406h1v17h-1zM557 424h1v33h-1zM573 424h1v34h-1zM577 459h1v4h-1zM585 463h1v20h-1zM593 463h1v46h-1zM597 510h1v12h-1zM601 523h1v19h-1zM613 518h1v18h-1zM621 497h1v28h-1zM633 505h1v1h-1zM637 507h1v53h-1zM645 514h1v5h-1zM653 500h1v16h-1zM661 493h1v10h-1zM665 504h1v1h-1zM669 506h1v42h-1zM673 549h1v22h-1zM677 572h1v17h-1zM685 580h1v7h-1zM693 572h1v1h-1zM701 572h1v4h-1zM709 559h1v3h-1zM717 545h1v9h-1zM725 534h1v15h-1zM737 544h1v9h-1zM741 554h1v12h-1zM745 567h1v1h-1zM757 550h1v20h-1zM761 571h1v26h-1zM765 598h1v18h-1zM769 617h1v74h-1zM773 692h1v28h-1zM777 721h1v28h-1zM801 703h1v7h-1zM813 659h1v6h-1zM821 615h1v19h-1zM825 635h1v8h-1zM833 643h1v6h-1zM845 602h1v15h-1zM849 618h1v3h-1zM857 614h1v23h-1zM877 551h1v23h-1zM885 574h1v9h-1zM905 480h1v23h-1zM921 453h1v5h-1zM929 421h1v22h-1zM933 444h1v3h-1zM945 416h1v5h-1zM949 422h1v17h-1zM961 416h1v9h-1zM977 409h1v18h-1zM981 428h1v21h-1zM985 450h1v12h-1zM989 463h1v14h-1zM997 466h1v23h-1zM1005 476h1v8h-1zM1021 457h1v32h-1zM1029 480h1v2h-1zM1041 467h1v27h-1zM1049 482h1v12h-1zM1053 495h1v5h-1zM1061 475h1v12h-1zM1065 488h1v25h-1zM1073 498h1v9h-1zM1081 508h1v3h-1zM1085 512h1v13h-1zM1093 523h1v8h-1zM1097 532h1v7h-1zM1101 540h1v2h-1zM1105 543h1v3h-1zM1121 538h1v6h-1zM1125 545h1v15h-1zM1141 526h1v5h-1zM1153 514h1v8h-1zM1165 521h1v1h-1zM1173 523h1v1h-1zM1189 485h1v7h-1zM1197 477h1v2h-1zM1229 397h1v11h-1zM1233 409h1v2h-1zM1237 412h1v22h-1zM1241 435h1v7h-1zM1245 443h1v11h-1zM1249 455h1v9h-1zM1253 465h1v3h-1zM1261 463h1v2h-1zM1273 457h1v17h-1zM1293 464h1v11h-1zM1301 468h1v9h-1zM1313 451h1v6h-1zM1321 453h1v1h-1zM1325 455h1v9h-1zM1333 459h1v7h-1zM1345 456h1v6h-1zM1353 456h1v10h-1zM1369 432h1v24h-1zM1377 456h1v8h-1zM1381 465h1v9h-1zM1397 449h1v8h-1zM1409 454h1v3h-1zM1453 403h1v3h-1zM1489 352h1v4h-1zM1509 349h1v5h-1zM1521 351h1v18h-1zM1529 369h1v13h-1zM1533 383h1v2h-1zM1541 366h1v8h-1zM1545 375h1v3h-1zM1553 356h1v16h-1zM1561 368h1v2h-1zM1577 349h1v2h-1zM1581 352h1v9h-1zM1593 326h1v10h-1zM1601 338h1v10h-1zM1605 349h1v17h-1zM1617 349h1v20h-1zM1625 370h1v13h-1zM1637 364h1v14h-1zM1645 371h1v8h-1zM1653 374h1v8h-1zM1661 362h1v17h-1zM1665 380h1v14h-1zM1669 395h1v11h-1zM1677 383h1v2h-1zM1685 387h1v13h-1zM1693 385h1v12h-1zM1709 373h1v2h-1zM1725 348h1v14h-1zM1733 363h1v3h-1zM1741 349h1v12h-1zM1765 346h1v11h-1zM1769 358h1v4h-1zM1781 346h1v4h-1zM1785 351h1v3h-1zM1809 331h1v1h-1zM1813 333h1v1h-1zM1817 335h1v21h-1zM1833 336h1v5h-1zM1837 342h1v1h-1zM1841 344h1v8h-1z" fill="#808080"/><path d="M13 474v9M173 268v18M209 213v10M605 536v14M733 533v16M881 570v9M1161 517v8M1417 446v18M1525 363v15M1569 334v30M1681 382v8M1793 346v4" stroke="#00e000" stroke-width="1" fill="none" transform="translate(0.5,0)"/><path d="M12 476h3v1h-3zM172 276h3v1h-3zM208 218h3v1h-3zM604 544h3v1h-3zM732 543h3v1h-3zM880 573h3v1h-3zM1160 520h3v1h-3zM1416 452h3v1h-3zM1524 368h3v1h-3zM1568 350h3v1h-3zM1680 386h3v1h-3zM1792 348h3v1h-3z" fill="#00e000"/></g><path d="M8 12H19L13.5 18Z" fill="#000"/><text x="26.2" y="21" font-size="13.4" fill="#000" font-family="'DejaVu Sans Condensed','Liberation Sans',sans-serif" textLength="74.5" lengthAdjust="spacingAndGlyphs">EURUSD,M1</text></g><g shape-rendering="crispEdges"><rect x="5" y="812" width="664" height="10" fill="#800080"/><rect x="669" y="812" width="1177" height="10" fill="#303030"/><rect x="4" y="4" width="1843" height="1" fill="#000"/><rect x="4" y="4" width="1" height="819" fill="#000"/><rect x="1846" y="4" width="1" height="819" fill="#000"/><rect x="4" y="822" width="1843" height="1" fill="#000"/><rect x="1847" y="43" width="2" height="1" fill="#000"/><rect x="1847" y="111" width="2" height="1" fill="#000"/><rect x="1847" y="178" width="2" height="1" fill="#000"/><rect x="1847" y="245" width="2" height="1" fill="#000"/><rect x="1847" y="312" width="2" height="1" fill="#000"/><rect x="1847" y="380" width="2" height="1" fill="#000"/><rect x="1847" y="447" width="2" height="1" fill="#000"/><rect x="1847" y="514" width="2" height="1" fill="#000"/><rect x="1847" y="582" width="2" height="1" fill="#000"/><rect x="1847" y="649" width="2" height="1" fill="#000"/><rect x="1847" y="716" width="2" height="1" fill="#000"/><rect x="1847" y="783" width="2" height="1" fill="#000"/><rect x="5" y="823" width="1" height="3" fill="#000"/><rect x="133" y="823" width="1" height="3" fill="#000"/><rect x="261" y="823" width="1" height="3" fill="#000"/><rect x="389" y="823" width="1" height="3" fill="#000"/><rect x="517" y="823" width="1" height="3" fill="#000"/><rect x="645" y="823" width="1" height="3" fill="#000"/><rect x="773" y="823" width="1" height="3" fill="#000"/><rect x="901" y="823" width="1" height="3" fill="#000"/><rect x="1029" y="823" width="1" height="3" fill="#000"/><rect x="1157" y="823" width="1" height="3" fill="#000"/><rect x="1285" y="823" width="1" height="3" fill="#000"/><rect x="1413" y="823" width="1" height="3" fill="#000"/><rect x="1541" y="823" width="1" height="3" fill="#000"/><rect x="1669" y="823" width="1" height="3" fill="#000"/><rect x="1797" y="823" width="1" height="3" fill="#000"/><rect x="1845" y="721" width="3" height="53" fill="#000"/></g><g clip-path="url(#cp5b)" font-size="8.5" fill="#fff" font-family="'Liberation Sans',sans-serif" text-anchor="middle" letter-spacing="-0.5"><text x="9.5" y="820.5">21:15</text><text x="69.5" y="820.5">21:30</text><text x="129.5" y="820.5">21:45</text><text x="189.5" y="820.5">22:00</text><text x="249.5" y="820.5">22:15</text><text x="309.5" y="820.5">22:30</text><text x="369.5" y="820.5">22:45</text><text x="429.5" y="820.5">23:00</text><text x="489.5" y="820.5">23:15</text><text x="549.5" y="820.5">23:30</text><text x="609.5" y="820.5">23:45</text><text x="669.5" y="820.5">0:00</text><text x="729.5" y="820.5">0:15</text><text x="789.5" y="820.5">0:30</text><text x="849.5" y="820.5">0:45</text><text x="909.5" y="820.5">1:00</text><text x="969.5" y="820.5">1:15</text><text x="1029.5" y="820.5">1:30</text><text x="1089.5" y="820.5">1:45</text><text x="1149.5" y="820.5">2:00</text><text x="1209.5" y="820.5">2:15</text><text x="1269.5" y="820.5">2:30</text><text x="1329.5" y="820.5">2:45</text><text x="1389.5" y="820.5">3:00</text><text x="1449.5" y="820.5">3:15</text><text x="1509.5" y="820.5">3:30</text><text x="1569.5" y="820.5">3:45</text><text x="1629.5" y="820.5">4:00</text><text x="1689.5" y="820.5">4:15</text><text x="1749.5" y="820.5">4:30</text><text x="1809.5" y="820.5">4:45</text></g><defs><clipPath id="cp5b"><rect x="5" y="810" width="1841" height="14"/></clipPath></defs><text x="1853" y="49.4" font-size="13.4" fill="#000" font-family="'DejaVu Sans Condensed','Liberation Sans',sans-serif" textLength="51" lengthAdjust="spacingAndGlyphs">1.15753</text><text x="1853" y="116.7" font-size="13.4" fill="#000" font-family="'DejaVu Sans Condensed','Liberation Sans',sans-serif" textLength="51" lengthAdjust="spacingAndGlyphs">1.15708</text><text x="1853" y="184" font-size="13.4" fill="#000" font-family="'DejaVu Sans Condensed','Liberation Sans',sans-serif" textLength="51" lengthAdjust="spacingAndGlyphs">1.15663</text><text x="1853" y="251.3" font-size="13.4" fill="#000" font-family="'DejaVu Sans Condensed','Liberation Sans',sans-serif" textLength="51" lengthAdjust="spacingAndGlyphs">1.15618</text><text x="1853" y="318.5" font-size="13.4" fill="#000" font-family="'DejaVu Sans Condensed','Liberation Sans',sans-serif" textLength="51" lengthAdjust="spacingAndGlyphs">1.15573</text><text x="1853" y="385.8" font-size="13.4" fill="#000" font-family="'DejaVu Sans Condensed','Liberation Sans',sans-serif" textLength="51" lengthAdjust="spacingAndGlyphs">1.15528</text><text x="1853" y="453.1" font-size="13.4" fill="#000" font-family="'DejaVu Sans Condensed','Liberation Sans',sans-serif" textLength="51" lengthAdjust="spacingAndGlyphs">1.15483</text><text x="1853" y="520.4" font-size="13.4" fill="#000" font-family="'DejaVu Sans Condensed','Liberation Sans',sans-serif" textLength="51" lengthAdjust="spacingAndGlyphs">1.15438</text><text x="1853" y="587.6" font-size="13.4" fill="#000" font-family="'DejaVu Sans Condensed','Liberation Sans',sans-serif" textLength="51" lengthAdjust="spacingAndGlyphs">1.15393</text><text x="1853" y="654.9" font-size="13.4" fill="#000" font-family="'DejaVu Sans Condensed','Liberation Sans',sans-serif" textLength="51" lengthAdjust="spacingAndGlyphs">1.15348</text><text x="1853" y="722.2" font-size="13.4" fill="#000" font-family="'DejaVu Sans Condensed','Liberation Sans',sans-serif" textLength="51" lengthAdjust="spacingAndGlyphs">1.15303</text><text x="1853" y="789.5" font-size="13.4" fill="#000" font-family="'DejaVu Sans Condensed','Liberation Sans',sans-serif" textLength="51" lengthAdjust="spacingAndGlyphs">1.15258</text><rect x="1848" y="416" width="62" height="17" fill="#ffd700" shape-rendering="crispEdges"/><text x="1853" y="430" font-size="13.4" fill="#fff" font-family="'DejaVu Sans Condensed','Liberation Sans',sans-serif" textLength="51" lengthAdjust="spacingAndGlyphs">1.15500</text><rect x="1848" y="148" width="62" height="17" fill="#000" shape-rendering="crispEdges"/><text x="1853" y="162" font-size="13.4" fill="#fff" font-family="'DejaVu Sans Condensed','Liberation Sans',sans-serif" textLength="51" lengthAdjust="spacingAndGlyphs">1.15678</text><text x="4.5" y="839.8" font-size="13.4" fill="#000" font-family="'DejaVu Sans Condensed','Liberation Sans',sans-serif" textLength="72" lengthAdjust="spacingAndGlyphs">4 Nov 2021</text><text x="132.5" y="839.8" font-size="13.4" fill="#000" font-family="'DejaVu Sans Condensed','Liberation Sans',sans-serif" textLength="77.5" lengthAdjust="spacingAndGlyphs">4 Nov 15:46</text><text x="260.5" y="839.8" font-size="13.4" fill="#000" font-family="'DejaVu Sans Condensed','Liberation Sans',sans-serif" textLength="77.5" lengthAdjust="spacingAndGlyphs">4 Nov 16:18</text><text x="388.5" y="839.8" font-size="13.4" fill="#000" font-family="'DejaVu Sans Condensed','Liberation Sans',sans-serif" textLength="77.5" lengthAdjust="spacingAndGlyphs">4 Nov 16:50</text><text x="516.5" y="839.8" font-size="13.4" fill="#000" font-family="'DejaVu Sans Condensed','Liberation Sans',sans-serif" textLength="77.5" lengthAdjust="spacingAndGlyphs">4 Nov 17:22</text><text x="644.5" y="839.8" font-size="13.4" fill="#000" font-family="'DejaVu Sans Condensed','Liberation Sans',sans-serif" textLength="77.5" lengthAdjust="spacingAndGlyphs">4 Nov 17:54</text><text x="772.5" y="839.8" font-size="13.4" fill="#000" font-family="'DejaVu Sans Condensed','Liberation Sans',sans-serif" textLength="77.5" lengthAdjust="spacingAndGlyphs">4 Nov 18:26</text><text x="900.5" y="839.8" font-size="13.4" fill="#000" font-family="'DejaVu Sans Condensed','Liberation Sans',sans-serif" textLength="77.5" lengthAdjust="spacingAndGlyphs">4 Nov 18:58</text><text x="1028.5" y="839.8" font-size="13.4" fill="#000" font-family="'DejaVu Sans Condensed','Liberation Sans',sans-serif" textLength="77.5" lengthAdjust="spacingAndGlyphs">4 Nov 19:30</text><text x="1156.5" y="839.8" font-size="13.4" fill="#000" font-family="'DejaVu Sans Condensed','Liberation Sans',sans-serif" textLength="77.5" lengthAdjust="spacingAndGlyphs">4 Nov 20:02</text><text x="1284.5" y="839.8" font-size="13.4" fill="#000" font-family="'DejaVu Sans Condensed','Liberation Sans',sans-serif" textLength="77.5" lengthAdjust="spacingAndGlyphs">4 Nov 20:34</text><text x="1412.5" y="839.8" font-size="13.4" fill="#000" font-family="'DejaVu Sans Condensed','Liberation Sans',sans-serif" textLength="77.5" lengthAdjust="spacingAndGlyphs">4 Nov 21:06</text><text x="1540.5" y="839.8" font-size="13.4" fill="#000" font-family="'DejaVu Sans Condensed','Liberation Sans',sans-serif" textLength="77.5" lengthAdjust="spacingAndGlyphs">4 Nov 21:38</text><text x="1668.5" y="839.8" font-size="13.4" fill="#000" font-family="'DejaVu Sans Condensed','Liberation Sans',sans-serif" textLength="77.5" lengthAdjust="spacingAndGlyphs">4 Nov 22:10</text><text x="1796.5" y="839.8" font-size="13.4" fill="#000" font-family="'DejaVu Sans Condensed','Liberation Sans',sans-serif" textLength="77.5" lengthAdjust="spacingAndGlyphs">4 Nov 22:42</text></svg><svg x="1920" y="1702" width="1920" height="851" viewBox="0 0 1920 851" overflow="hidden"><g shape-rendering="crispEdges"><rect x="0" y="0" width="1920" height="851" fill="#fff"/><rect x="0" y="0" width="1919" height="1" fill="#a0a0a0"/><rect x="0" y="0" width="1" height="850" fill="#a0a0a0"/><rect x="1" y="1" width="1917" height="1" fill="#696969"/><rect x="1" y="1" width="1" height="848" fill="#696969"/><rect x="1" y="849" width="1918" height="1" fill="#e3e3e3"/><rect x="1918" y="1" width="1" height="849" fill="#e3e3e3"/></g><defs><clipPath id="cp6"><rect x="5" y="5" width="1841" height="817"/></clipPath></defs><g clip-path="url(#cp6)"><g shape-rendering="crispEdges" fill="#ffb6c1"><rect x="353" y="231" width="380" height="554"/></g><path d="M9.5 6V812M69.5 6V812M129.5 6V812M189.5 6V812M249.5 6V812M309.5 6V812M369.5 6V812M429.5 6V812M489.5 6V812M549.5 6V812M609.5 6V812M669.5 6V812M729.5 6V812M789.5 6V812M849.5 6V812M909.5 6V812M969.5 6V812M1029.5 6V812M1089.5 6V812M1149.5 6V812M1209.5 6V812M1269.5 6V812M1329.5 6V812M1389.5 6V812M1449.5 6V812M1509.5 6V812M1569.5 6V812M1629.5 6V812M1689.5 6V812M1749.5 6V812M1809.5 6V812" stroke="#e0e0fa" stroke-width="1" stroke-dasharray="3 3" fill="none" shape-rendering="crispEdges"/><path d="M65 63.5H1846" stroke="#ffd700" stroke-width="1" stroke-dasharray="3 3" fill="none" shape-rendering="crispEdges"/><path d="M65 811.5H1846" stroke="#ffd700" stroke-width="1" stroke-dasharray="3 3" fill="none" shape-rendering="crispEdges"/><path d="M4.5 27.5 L186.2 27.5 L190.3 56.5 L425.8 56.5 L429.9 114.5 L665.8 114.5 L669.9 161.5 L905.8 161.5 L910.5 187.5 L1145.2 187.5 L1149.9 221.5 L1386.2 221.5 L1390.3 244.5 L1626.1 244.5 L1629.9 269.5 L1846.5 269.5" stroke="#000" stroke-width="1" fill="none" shape-rendering="crispEdges"/><g fill="none" stroke-width="2" stroke-linejoin="round" stroke-linecap="butt" shape-rendering="crispEdges"><path d="M4.9 333.9 L10.2 333.9 L13.4 333.7 L16.6 333.4 L19.8 333.1 L23 332.7 L26.2 332.3 L29.4 331.9 L32.7 331.4 L35.7 331 L38.8 330.6 L41.8 330.1 L44.9 329.7 L48 329.2 L51 328.6 L54.1 328 L57.1 327.3 L60.2 326.7 L63.3 326 L66.3 325.3 L69.4 324.5 L72.4 323.7 L75.5 322.7 L78.6 321.6 L81.6 320.4 L84.7 319 L87.8 317.5 L90.8 315.9 L93.9 314.2 L96.9 312.4 L100 310.4 L103.1 308.3 L106.1 306.1 L109.2 303.7 L112.2 301.1 L115.3 298.4 L118.4 295.5 L121.4 292.6 L124.5 289.6 L127.6 286.6 L130.6 283.7 L133.7 280.7 L136.7 277.6 L139.8 274.4 L142.9 271.2 L145.9 268 L149 264.9 L152 262 L155.1 259.2 L158.2 256.5 L161.2 254 L164.3 251.5 L167.3 249.1 L170.4 246.8 L173.5 244.7 L176.5 242.7 L179.6 240.8 L182.7 239.2 L185.7 237.7 L188.8 236.4 L191.8 235.2 L194.9 234.1 L198 233 L201 231.8 L204.1 230.6 L207.1 229.3 L210.2 228 L213.3 226.6 L216.3 225.3 L219.4 223.9 L222.4 222.7 L225.5 221.5 L228.6 220.4 L231.6 219.4 L234.7 218.6 L237.8 217.8 L240.8 217.1 L243.9 216.4 L246.9 215.7 L250 215 L253.1 214.3 L256.1 213.5 L259.2 212.7 L262.2 212 L265.3 211.2 L268.4 210.4 L271.4 209.6 L274.5 208.9 L277.6 208.2 L280.6 207.4 L283.7 206.7 L286.7 206 L289.8 205.3 L292.9 204.6 L295.9 204 L299 203.4 L302 202.9 L305.1 202.4 L308.2 201.9 L311.2 201.5 L314.3 201.1 L317.3 200.7 L320.4 200.4 L323.5 200.2 L326.5 200" stroke="#0000cd"/><path d="M326.5 200 L329.6 199.9 L332.7 200.4 L335.7 200.6 L338.8 200.9 L341.8 201.2 L344.9 201.6 L348 202.1 L351 202.9 L354.1 203.5 L357.1 204.4 L360.2 205.3 L363.3 206.2 L366.3 207.3 L369.4 208.3 L372.4 209.3 L375.5 210.2 L378.6 211.1 L381.6 211.9 L384.7 212.7 L387.8 213.5 L390.8 214.4 L393.9 215.2 L396.9 216.2 L400 217.1 L403.1 218.2 L406.1 219.2 L409.2 220.3 L412.2 221.4 L415.3 222.5 L418.4 223.8 L421.4 225.1 L424.5 226.5 L427.6 228.1 L430.6 229.8 L433.7 231.6 L436.7 233.5 L439.8 235.4 L442.9 237.3 L445.9 239.1 L449 240.8 L452 242.4 L455.1 244 L458.2 245.6 L461.2 247.1 L464.3 248.6 L467.3 250 L470.4 251.5 L473.5 253.1 L476.5 254.6 L479.6 256.1 L482.7 257.5 L485.7 259 L488.8 260.5 L491.8 262 L494.9 263.6 L498 265.3 L501.2 267.3 L504.4 269.3 L507.6 271.4 L510.8 273.5 L514 275.8 L517.2 278 L520.4 280.4 L523.8 283.2 L527.2 286 L530.6 289 L534 292.1 L537.4 295.3 L540.8 298.8 L544.2 302.4 L547.6 306.2 L551 310.2 L554.4 314.4 L557.8 318.7 L561.2 323.2 L564.6 328 L568 332.9 L571.4 338 L574.8 343.3 L578.2 348.6 L581.6 353.9 L585 359.1 L588.4 364.4 L591.8 369.8 L595.2 375.2 L598.6 380.8 L602 386.5 L605.4 392.4 L608.8 398.6 L612.2 404.9 L615.6 411.2 L619 417.3 L622.4 423.2 L625.9 428.9 L629.3 434.3 L632.7 439.6 L636.1 444.9 L639.5 450.3 L642.9 455.9 L646.3 461.8 L649.7 467.9 L653.1 474.1 L656.5 480.4 L659.9 486.6 L663.3 492.6 L666.7 498.5 L670.1 504.3 L673.5 510.1 L676.9 515.8 L680.3 521.6 L683.7 527.3 L687.1 533.1 L690.5 539 L693.9 544.8 L697.3 550.6 L700.7 556.4 L704.1 562 L707.5 567.7 L710.9 573.4 L714.3 579 L717.7 584.5 L721.1 589.7 L724.5 594.7 L727.9 599.3 L731.3 603.7 L734.7 607.8 L738.1 611.8 L741.5 615.5 L744.9 619.2 L748.3 622.6 L751.7 625.9 L755.1 629 L758.5 632 L761.9 634.8 L765.3 637.5 L768.7 640.1 L772.1 642.6 L775.5 645 L778.9 647.2 L782.3 649.2 L785.7 651 L789.1 652.6 L792.5 653.9 L795.9 655.1 L799.3 656.1 L802.7 657 L806.1 657.9 L809.5 658.8 L812.9 659.6 L816.3 660.2 L819.7 660.9 L823.1 661.4 L826.5 662 L829.9 662.5 L833.3 663 L836.7 663.4 L840.1 663.8 L843.5 664.3 L846.9 664.9 L850.3 665.6 L853.7 666.5 L857.1 667.5 L860.5 668.4 L863.9 669.3 L867.3 670.2 L870.7 670.9 L874.1 671.7 L877.6 672.4 L881 673 L884.4 673.7 L887.8 674.3 L891.2 674.8 L894.6 675.3 L898 675.7 L901.4 676.1 L904.8 676.6 L908.2 677.1 L911.6 677.8 L915 678.5 L918.4 679.3 L921.8 680 L925.2 680.7 L928.6 681.2 L931.8 681.6 L935.1 681.8 L938.4 681.9 L941.6 682 L944.9 682" stroke="#dc143c"/><path d="M944.9 682 L949 682 L952 681.7 L955.1 681.4 L958.2 680.7 L961.2 679.6 L964.6 678.4 L968 677.1 L971.4 675.5 L974.8 673.8 L978.2 672 L981.6 670.2 L985 668.3 L988.4 666.4 L991.8 664.4 L995.2 662.3 L998.6 660.1 L1002 657.9 L1005.4 655.7 L1008.8 653.3 L1012.2 650.9 L1015.6 648.5 L1019 646.1 L1022.4 643.7 L1025.9 641.3 L1029.3 638.9 L1032.7 636.5 L1036.1 634.1 L1039.5 631.7 L1042.9 629.4 L1046.3 627 L1049.7 624.6 L1053.1 622.1 L1056.5 619.8 L1059.9 617.4 L1063.3 615.1 L1066.7 612.9 L1070.1 610.8 L1073.5 608.8 L1076.9 606.7 L1080.3 604.4 L1083.7 602 L1087.1 599.4 L1090.5 596.5 L1093.9 593.6 L1097.3 590.5 L1100.7 587.5 L1104.1 584.5 L1107.5 581.5 L1110.9 578.4 L1114.3 575.3 L1117.7 572.3 L1121.1 569.2 L1124.5 566.1 L1127.9 563 L1131.3 559.9 L1134.7 556.8 L1138.1 553.7 L1141.5 550.7 L1144.9 547.7 L1148.3 544.9 L1151.7 542.1 L1155.1 539.3 L1158.5 536.6 L1161.9 534 L1165.3 531.4 L1168.7 528.9 L1172.1 526.4 L1175.5 524 L1178.9 521.7 L1182.3 519.4 L1185.7 517.1 L1189.1 514.9 L1192.5 512.8 L1195.9 510.7 L1199.3 508.7 L1202.7 506.8 L1206.1 504.9 L1209.5 503 L1212.9 501.2 L1216.3 499.4 L1219.7 497.7 L1223.1 496.1 L1226.5 494.7 L1229.9 493.4 L1233.3 492.2 L1236.7 491.1 L1240.1 490.1 L1243.5 489.3 L1246.9 488.6 L1250.3 488 L1253.7 487.5 L1257.1 487.2 L1260.5 487 L1263.9 486.8 L1267.3 486.5 L1270.7 486.3 L1274.1 486.1 L1277.6 485.9 L1281 485.7 L1284.4 485.5 L1287.8 485.3 L1291.2 485 L1294.6 484.7 L1298 484.4 L1301.4 484.1 L1304.8 483.9 L1308.2 483.7 L1312.2 483.5 L1316.3 483.2 L1319.8 482.9 L1323.3 482.4 L1326.7 481.9 L1330.2 481.6 L1333.6 481.4 L1337 481.3 L1340.4 481.3" stroke="#0000cd"/><path d="M1340.4 481.3 L1343 481.3 L1346.4 481.3 L1349.8 481.4 L1353.2 481.8 L1356.7 482.4 L1360.3 483.2 L1363.9 484.1 L1367.4 485.1 L1371 486.2 L1374.2 486.8 L1377.4 487.6 L1380.6 488.4 L1383.8 489.2 L1387 489.9 L1390.2 490.7 L1393.3 491.4 L1396.5 492 L1399.7 492.6 L1402.9 493.1 L1406.1 493.6 L1409.3 494 L1412.5 494.4 L1415.7 494.8 L1418.9 495.2 L1422 495.6 L1425.2 496 L1428.4 496.3 L1431.6 496.6 L1434.8 497 L1438 497.3 L1441.2 497.5 L1444.4 497.9 L1447.6 498.2 L1450.7 498.5 L1453.9 498.7 L1457.1 499 L1460.3 499.2 L1463.5 499.5 L1466.7 499.8 L1469.9 500.2 L1473.1 500.7 L1476.2 501.3 L1479.4 502 L1482.6 502.7 L1485.8 503.5 L1489 504.3 L1492.2 505.1 L1495.4 505.9 L1498.6 506.6 L1502.1 507.6 L1505.7 508.7 L1509.3 509.6 L1512.9 510.5 L1516.4 511.2 L1520.3 512 L1524.1 512.4 L1527.1 512.8 L1530.2 513.1 L1533.3 513.4 L1536.3 513.7 L1539.4 514 L1543 514.2 L1546.5 514.4 L1550.1 514.5 L1553.7 514.7 L1557.2 514.7" stroke="#dc143c"/><path d="M1557.2 514.7 L1559.8 514.7 L1562.9 514.7 L1565.9 514.6 L1569 514.5 L1572 514.3 L1575.1 514.2 L1578.3 514.2 L1581.5 514.1 L1584.7 514.1 L1587.9 514 L1591 514 L1594.2 513.9 L1597.4 513.8 L1600.6 513.7 L1603.8 513.6 L1607 513.5 L1610.2 513.4 L1613.4 513.3 L1616.6 513.2 L1619.7 513 L1622.9 512.7 L1626.1 512.4 L1629.3 512.1 L1632.5 511.7 L1635.7 511.2 L1638.9 510.7 L1642.1 510.1 L1645.3 509.6 L1648.4 509 L1651.6 508.4 L1654.8 507.8 L1658 507.2 L1661.2 506.6 L1664.4 505.9 L1667.6 505.3 L1670.8 504.5 L1674 503.7 L1677.1 502.8 L1680.3 501.7 L1683.5 500.6 L1686.7 499.4 L1689.9 498.1 L1693.1 496.8 L1696.3 495.4 L1699.5 494 L1702.7 492.6 L1705.8 491.1 L1709 489.5 L1712.2 487.8 L1715.4 486.1 L1718.6 484.4 L1721.8 482.8 L1725 481.2 L1728.2 479.8 L1731.4 478.5 L1734.5 477.2 L1737.7 476 L1740.9 474.8 L1744.1 473.7 L1747.3 472.7 L1750.5 471.7 L1753.7 470.9 L1757.2 469.7 L1760.8 468.7 L1764.4 467.9 L1768 467.2 L1771.5 466.5 L1774.9 466 L1778.3 465.5 L1781.7 465 L1785.1 464.6 L1788.5 464.3 L1791.9 464 L1795.1 463.7 L1798.3 463.6 L1801.5 463.5 L1804.7 463.5" stroke="#0000cd"/><path d="M1804.7 463.5 L1807.2 463.5 L1810.3 463.5 L1813.4 463.5 L1816.4 463.5 L1819.5 463.5 L1822.6 463.5 L1825.6 463.5 L1828.7 463.5 L1831.7 463.5 L1834.8 463.5 L1837.9 463.5" stroke="#dc143c"/><path d="M1837.9 463.5 L1840.4 463.5 L1845 463.5" stroke="#0000cd"/></g><g fill="none" stroke-width="2" stroke-linejoin="round" stroke-linecap="butt" shape-rendering="crispEdges"><path d="M4.9 255.1 L8 250 L11.2 242.9 L14.3 236.7 L17.7 232.4 L21.1 228.9 L24.5 226.5" stroke="#0000cd"/><path d="M24.5 226.5 L27.6 225.7 L30.6 226.5 L34.7 228.1 L38.8 229.4" stroke="#dc143c"/><path d="M38.8 229.4 L42.9 226.5 L45.9 224.5 L49 221.9 L52 218.8 L55.1 215.5 L58.2 212 L61.2 208.5 L64.3 205.2 L67.3 202 L70.9 196.5 L74.5 191.2 L78.1 185.7 L81.6 179.6 L84.7 172.4 L87.8 164.5 L90.8 156.5 L93.9 149 L96.9 141.8 L100 134.8 L103.1 128.3 L106.1 122.4 L109.2 117.5 L112.2 113.2 L115.3 109.4 L118.4 106.1 L121.4 103.2 L124.5 100.9 L127.6 98.9 L130.6 97.1 L134.2 95.6 L137.8 94.4 L141.3 93.6 L144.9 93.1" stroke="#0000cd"/><path d="M144.9 93.1 L148 92.9 L151 94.7 L154.1 96.8 L157.1 99.7 L160.2 103.1 L163.3 106.9 L166.3 111.4 L169.4 116.4 L172.4 121.6 L175.5 126.5 L178.6 131.2 L181.6 135.9 L184.7 140.1 L187.8 143.7 L191 145.8 L194.3 147.4 L197.6 148.6 L200.8 149.8 L204.1 151 L207.3 152.2 L210.6 153.2 L213.9 154.2 L217.1 155.4 L220.4 157.1 L223.5 160.1 L226.5 163.6 L229.6 167.5 L232.7 171.4 L235.7 175.7 L238.8 180.3 L241.8 184.8 L244.9 188.6 L248 191.8 L251 194.5 L254.1 196.7 L257.1 198" stroke="#dc143c"/><path d="M257.1 198 L260.2 197.4 L263.3 195.1 L266.3 194.4 L269.4 193.7 L272.4 192.8 L275.5 192.1 L278.6 191.4 L281.6 191" stroke="#0000cd"/><path d="M281.6 191 L284.7 190.7 L287.8 191.8 L291.3 193.3 L294.9 195.3 L298.5 197.6 L302 200 L306.1 204.7 L310.2 210.2 L313.3 213.5 L316.3 217.2 L319.4 221 L322.4 224.5 L325.7 227.1 L329 229.6 L332.2 232.1 L335.5 234.4 L338.8 236.7 L341.8 239.2 L344.9 241.3 L348 243.7 L351 246.9 L354.4 253.2 L357.8 260.6 L361.2 267.3 L364.6 272.9 L368 277.7 L371.4 281.6 L374.8 284.6 L378.2 286.6 L381.6 287.8" stroke="#dc143c"/><path d="M381.6 287.8 L384.7 287.4 L387.8 285.7 L390.8 283.4 L393.9 281.6" stroke="#0000cd"/><path d="M393.9 281.6 L396.9 282.1 L400 283.7 L403.1 284.5 L406.1 285.3 L409.2 286.4 L412.2 287.8 L415.3 289.3 L418.4 290.9 L421.4 293.1 L424.5 295.9 L427.6 300 L430.6 305.1 L433.7 310.1 L436.7 314.3 L439.8 317.4 L442.9 319.9 L445.9 321.9 L449 323.3" stroke="#dc143c"/><path d="M449 323.3 L453.1 323.3 L456.1 322.9 L459.2 322.3 L462.2 321.8 L465.3 321.6" stroke="#0000cd"/><path d="M465.3 321.6 L468.4 322 L471.4 323.3 L474.5 323.9 L477.6 324.7 L480.6 325.5 L483.7 326.5 L486.7 327.5 L489.8 328.6 L492.9 330.5 L495.9 332.6 L499 334.8 L502 336.7 L505.1 337.6 L508.2 337.8 L511.2 339 L514.3 342.9 L517.6 349 L520.8 357.4 L524.1 366.7 L527.3 375.5 L530.6 382.4 L534 389.8 L537.4 394.6 L540.8 398.8 L544.2 401.9 L547.6 404.3 L551 409 L554.4 417.6 L557.8 428.5 L561.2 439.6 L564.6 450.6 L568 461.9 L571.4 472.2 L574.8 480.7 L578.2 488.2 L581.6 496.7 L585 507.6 L588.4 519.4 L591.8 529.4 L595.2 536.2 L598.6 541.3 L602 545.7 L605.4 549.9 L608.8 553.3 L612.2 555.9 L615.8 556.8 L619.4 557 L623 557.2 L626.5 557.9 L629.6 558.9 L632.7 559.9 L635.7 561.9 L638.8 566.1 L642.9 583.4 L646.9 602.8 L650.3 612.4 L653.7 620.7 L657.1 627.3 L660.3 632.3 L663.4 635.7 L666.5 637.5" stroke="#dc143c"/><path d="M666.5 637.5 L671.4 633.4 L674.5 631.4 L677.6 630.2" stroke="#0000cd"/><path d="M677.6 630.2 L681.6 633.4 L685 638.3 L688.4 644.6 L691.8 649.8 L694.9 652.1 L698 653.6 L701 654.7 L704.1 655.9 L707.7 657.4 L711.2 658.8 L714.8 660.1 L718.4 660.8" stroke="#dc143c"/><path d="M718.4 660.8 L721.4 660.5 L724.5 659.2 L728.6 657.2 L732.7 655.1 L736.1 654.7 L739.5 654.4 L742.9 651.8 L746.3 644.8 L749.7 635.4 L753.1 627.3 L757.1 620.1 L761.2 615.1 L765.3 612 L769.4 609 L773.5 603.5 L777.6 596.7 L780.6 593 L783.7 589.1 L786.7 584.9 L789.8 580.4 L792.9 575.2 L795.9 569.5 L799 564.2 L802 560 L806.1 556 L810.2 553.9 L813.3 552.3 L816.3 550.7 L819.4 549.1 L822.4 547.7 L826.1 545.2 L829.8 543.7" stroke="#0000cd"/><path d="M829.8 543.7 L834.7 544.9 L838 545.9 L841.2 547.4 L844.5 549 L847.8 550.5 L851 551.8 L854.3 552.8 L857.6 553.5 L860.8 554.1 L864.1 554.9 L867.3 555.9 L870.6 557.4 L873.9 559.2 L877.1 561 L880.4 562.8 L883.7 564.1 L886.9 564.7 L890.2 564.9 L893.5 565 L896.7 565.3 L900 566.1 L903.1 568.2 L906.1 571.1 L909.2 574 L912.2 576.3 L915.3 577.8 L918.4 578.7 L921.4 579.5 L924.5 580.4 L929 582.9 L933.5 584.5" stroke="#dc143c"/><path d="M933.5 584.5 L938.8 580.4 L942.9 574.5 L946.9 566.1 L950.3 558.5 L953.7 549.7 L957.1 541.6 L960.5 534.8 L963.9 528.7 L967.3 523.2 L970.9 519.7 L974.5 516.5 L978.1 513.6 L981.6 511 L984.7 508.5 L987.8 506.3 L990.8 504.4 L993.9 502.8 L996.9 501.9 L1000 501.4 L1003.1 500.9 L1006.1 500 L1009.2 498.2 L1012.2 496 L1015.3 493.7 L1018.4 491.8 L1021.8 490 L1025.2 488.6 L1028.6 487.7" stroke="#0000cd"/><path d="M1028.6 487.7 L1031.6 487.4 L1034.7 487.7 L1037.8 488 L1040.8 488.3 L1043.9 488.8 L1046.9 489.4 L1050.2 490 L1053.5 490.9 L1056.7 491.7 L1060 492.4 L1063.3 492.6" stroke="#dc143c"/><path d="M1063.3 492.6 L1066.3 491.5 L1069.4 489.4 L1072.8 488.3 L1076.2 487.2 L1079.6 485.3 L1082.9 483.5 L1086.1 481.3 L1089.4 478.9 L1092.7 476.5 L1095.9 474.3 L1099.2 472.2 L1102.4 470.2 L1105.7 468.3 L1109 466.5 L1112.2 464.9 L1115.5 463.5 L1118.8 462.3 L1122 461.2 L1125.3 460.2 L1128.6 459.2 L1131.8 458 L1135.1 456.9 L1138.4 455.7 L1141.6 454.7 L1144.9 453.9 L1148 453.1 L1151 452.5 L1154.1 452 L1157.1 451.8" stroke="#0000cd"/><path d="M1157.1 451.8 L1160.2 451.9 L1163.3 452.6 L1166.8 453.3 L1170.4 454.2 L1174 455.1 L1177.6 455.9 L1180.8 456.3 L1184.1 456.6 L1187.3 456.9 L1190.6 457.3 L1193.9 457.9 L1197.1 458.8 L1200.4 459.9 L1203.7 461.1 L1206.9 462.5 L1210.2 464.1 L1213.3 466.1 L1216.3 468.4 L1219.4 471 L1222.4 474.3 L1225.5 478.3 L1228.6 483.1 L1231.6 488 L1234.7 492.6 L1238.1 498.7 L1241.5 504.6 L1244.9 509 L1248.3 511.1 L1251.7 511.7 L1255.1 512.2 L1258.2 512.8 L1261.2 513.2 L1264.3 513.5 L1267.3 513.9 L1270.6 514.2 L1273.9 514.5 L1277.1 514.8 L1280.4 515 L1283.7 515.1 L1286.7 515 L1289.8 514.6 L1292.9 514.2 L1295.9 513.9" stroke="#dc143c"/><path d="M1295.9 513.9 L1299 513.1 L1302 512.2 L1305.6 511.6 L1309.2 511 L1312.8 510.3 L1316.3 509.8 L1319.5 509.3 L1322.6 508.9 L1325.8 508.7 L1328.9 508.6" stroke="#0000cd"/><path d="M1328.9 508.6 L1332.8 510.4 L1336.6 513.9 L1340.4 518.1 L1343.8 520.5 L1347.2 523 L1350.6 525.7 L1354 529.1 L1357.4 532.8 L1360.8 535.9 L1364.2 538.1 L1367.6 539.7 L1371 541 L1374.8 542.6 L1378.7 543.6" stroke="#dc143c"/><path d="M1378.7 543.6 L1383.8 543.6 L1387 543.1 L1390.2 542.5 L1393.3 541.7 L1396.5 541 L1400.4 539.6 L1404.2 538.5 L1407.7 538.3 L1411.2 538.3 L1414.7 538.3 L1418.2 538 L1422 536.6 L1425.9 534.8 L1429.7 533.4 L1433.1 532.6 L1436.5 532.1 L1439.9 531.6 L1443.3 530.9 L1446.7 530.1 L1450.1 529.5 L1453.3 529.2 L1456.5 529 L1459.7 528.8 L1462.9 528.8" stroke="#0000cd"/><path d="M1462.9 528.8 L1468 529.5 L1471.4 529.9 L1474.8 530.3 L1478.2 530.8 L1481.6 531.6 L1485 532.6 L1488.4 533.4 L1491.8 533.9 L1495.2 534.3 L1498.6 534.6 L1502 534.9 L1505.4 535.2 L1508.8 535.4 L1513.2 535.7 L1517.7 535.9" stroke="#dc143c"/><path d="M1517.7 535.9 L1521.5 535.4 L1526.6 533.4 L1530.5 529.3 L1534.3 524.4 L1538.1 519.8 L1541.9 515.5 L1545.3 513.4 L1548.7 511.6 L1552.1 509.9 L1555.5 508.3 L1558.9 506.8 L1562.3 505.3 L1565.5 504.1 L1568.7 502.8 L1571.9 501.6 L1575.1 500.7 L1578.9 499.9 L1582.8 499.7" stroke="#0000cd"/><path d="M1582.8 499.7 L1586.6 500.2 L1591 500.3 L1595.5 500.2" stroke="#dc143c"/><path d="M1595.5 500.2 L1599.3 499.7 L1602.5 499 L1605.7 497.7 L1609.5 494.7 L1613.4 491.3 L1616.8 489.6 L1620.2 488 L1623.6 486.2 L1627 483.7 L1630.4 481 L1633.8 478.5 L1637.2 476.6 L1640.6 474.9 L1644 473.4 L1647.4 472 L1650.8 470.7 L1654.2 469.6 L1659.3 467 L1663.1 464.1 L1666.9 459.4 L1670.3 454.2 L1673.7 448.1 L1677.1 442.8 L1680.5 439.2 L1683.9 436.5 L1687.3 433.9 L1690.7 431 L1694.1 428.2 L1697.6 426.2 L1700.7 425.6 L1703.9 425.5 L1707.1 425.7 L1710.3 425.7" stroke="#0000cd"/><path d="M1710.3 425.7 L1715.4 424.9 L1718.8 424.8 L1722.2 424.6 L1725.6 424.9 L1729 425.8 L1732.4 427.1 L1735.8 428.8 L1739.2 431 L1742.6 433.6 L1746 436.4 L1749.2 438.7 L1752.4 441.1 L1755.6 443.4 L1758.8 445.4 L1762.2 447.2 L1765.6 448.7 L1769 450.5 L1772.4 452.8 L1775.8 455.4 L1779.2 458.1 L1782.6 460.9 L1786 463.8 L1789.4 467 L1792.6 469.9 L1795.8 473 L1799 476 L1802.1 478.5 L1805.5 481 L1808.9 482.8 L1812.3 484.1 L1815.7 484.8 L1819.1 484.9 L1822.6 484.9" stroke="#dc143c"/><path d="M1822.6 484.9 L1826.4 484.8 L1830.2 484.4 L1833.9 484 L1837.6 483.6 L1841.3 483.2 L1845 482.9" stroke="#0000cd"/></g><rect x="5" y="54" width="61" height="18" fill="#d3d3d3" shape-rendering="crispEdges"/><text x="5.6" y="67.8" font-size="16.5" fill="#000" font-family="'Liberation Sans',sans-serif" textLength="47.5" lengthAdjust="spacingAndGlyphs">114.00</text><rect x="5" y="204" width="61" height="18" fill="#d3d3d3" shape-rendering="crispEdges"/><text x="5.6" y="217.8" font-size="16.5" fill="#000" font-family="'Liberation Sans',sans-serif" textLength="47.5" lengthAdjust="spacingAndGlyphs">113.90</text><rect x="5" y="354" width="61" height="18" fill="#d3d3d3" shape-rendering="crispEdges"/><text x="5.6" y="367.8" font-size="16.5" fill="#000" font-family="'Liberation Sans',sans-serif" textLength="47.5" lengthAdjust="spacingAndGlyphs">113.80</text><rect x="5" y="504" width="61" height="18" fill="#d3d3d3" shape-rendering="crispEdges"/><text x="5.6" y="517.8" font-size="16.5" fill="#000" font-family="'Liberation Sans',sans-serif" textLength="47.5" lengthAdjust="spacingAndGlyphs">113.70</text><rect x="5" y="653" width="61" height="18" fill="#d3d3d3" shape-rendering="crispEdges"/><text x="5.6" y="666.8" font-size="16.5" fill="#000" font-family="'Liberation Sans',sans-serif" textLength="47.5" lengthAdjust="spacingAndGlyphs">113.60</text><rect x="5" y="802" width="61" height="18" fill="#d3d3d3" shape-rendering="crispEdges"/><text x="5.6" y="815.8" font-size="16.5" fill="#000" font-family="'Liberation Sans',sans-serif" textLength="47.5" lengthAdjust="spacingAndGlyphs">113.50</text><g shape-rendering="crispEdges"><path d="M5 188h1v46h-1zM9 160h1v69h-1zM17 183h1v11h-1zM21 147h1v45h-1zM25 154h1v43h-1zM29 168h1v57h-1zM33 210h1v39h-1zM37 232h1v22h-1zM41 218h1v43h-1zM45 172h1v53h-1zM49 163h1v39h-1zM53 142h1v60h-1zM57 150h1v29h-1zM61 156h1v21h-1zM65 137h1v50h-1zM69 171h1v28h-1zM73 140h1v49h-1zM81 129h1v27h-1zM85 86h1v49h-1zM89 65h1v31h-1zM93 48h1v26h-1zM97 25h1v26h-1zM101 16h1v19h-1zM105 30h1v29h-1zM109 48h1v7h-1zM113 43h1v25h-1zM117 57h1v27h-1zM121 68h1v13h-1zM125 63h1v18h-1zM129 62h1v12h-1zM133 53h1v31h-1zM137 57h1v33h-1zM141 66h1v27h-1zM145 77h1v16h-1zM149 64h1v31h-1zM153 62h1v34h-1zM157 83h1v44h-1zM161 125h1v23h-1zM165 142h1v13h-1zM169 151h1v12h-1zM173 151h1v48h-1zM177 186h1v16h-1zM181 182h1v17h-1zM185 181h1v28h-1zM189 180h1v18h-1zM193 176h1v15h-1zM197 163h1v19h-1zM201 162h1v10h-1zM205 154h1v15h-1zM209 155h1v8h-1zM213 153h1v24h-1zM217 143h1v44h-1zM221 175h1v28h-1zM225 192h1v19h-1zM229 198h1v51h-1zM233 211h1v39h-1zM237 238h1v19h-1zM241 207h1v70h-1zM245 196h1v44h-1zM249 222h1v12h-1zM253 219h1v35h-1zM257 195h1v49h-1zM261 185h1v19h-1zM265 157h1v35h-1zM269 128h1v76h-1zM273 195h1v16h-1zM277 197h1v15h-1zM285 192h1v21h-1zM289 179h1v38h-1zM293 201h1v24h-1zM297 202h1v17h-1zM301 217h1v49h-1zM305 226h1v19h-1zM309 224h1v55h-1zM313 267h1v35h-1zM317 246h1v43h-1zM321 214h1v47h-1zM325 210h1v85h-1zM329 251h1v50h-1zM333 228h1v39h-1zM337 240h1v42h-1zM341 232h1v55h-1zM345 227h1v66h-1zM349 272h1v9h-1zM357 277h1v65h-1zM365 323h1v19h-1zM369 315h1v29h-1zM373 319h1v7h-1zM377 319h1v19h-1zM381 270h1v70h-1zM385 277h1v17h-1zM389 244h1v51h-1zM393 254h1v29h-1zM397 255h1v19h-1zM401 249h1v39h-1zM405 280h1v20h-1zM409 292h1v24h-1zM413 265h1v55h-1zM417 296h1v30h-1zM421 309h1v48h-1zM425 317h1v18h-1zM429 325h1v63h-1zM433 375h1v21h-1zM437 363h1v22h-1zM441 339h1v47h-1zM445 338h1v14h-1zM449 323h1v24h-1zM453 287h1v65h-1zM457 285h1v66h-1zM461 311h1v40h-1zM465 309h1v18h-1zM469 304h1v30h-1zM473 306h1v28h-1zM477 319h1v25h-1zM481 302h1v39h-1zM485 297h1v46h-1zM489 307h1v42h-1zM493 338h1v68h-1zM497 332h1v68h-1zM501 324h1v24h-1zM505 328h1v7h-1zM509 304h1v77h-1zM513 361h1v40h-1zM517 351h1v58h-1zM521 363h1v53h-1zM525 385h1v70h-1zM529 424h1v72h-1zM533 464h1v12h-1zM537 418h1v64h-1zM541 443h1v30h-1zM545 424h1v89h-1zM549 407h1v65h-1zM553 416h1v134h-1zM557 457h1v131h-1zM561 478h1v97h-1zM565 531h1v21h-1zM569 518h1v145h-1zM573 573h1v32h-1zM577 566h1v66h-1zM581 535h1v80h-1zM585 560h1v110h-1zM589 604h1v53h-1zM593 626h1v50h-1zM597 650h1v45h-1zM601 612h1v75h-1zM605 595h1v56h-1zM609 563h1v50h-1zM613 562h1v54h-1zM617 508h1v66h-1zM621 508h1v53h-1zM625 527h1v47h-1zM629 521h1v49h-1zM633 548h1v30h-1zM637 559h1v34h-1zM641 561h1v122h-1zM645 644h1v147h-1zM649 678h1v98h-1zM653 682h1v121h-1zM657 691h1v29h-1zM661 658h1v62h-1zM665 636h1v31h-1zM669 569h1v72h-1zM673 571h1v57h-1zM677 591h1v59h-1zM681 601h1v119h-1zM685 629h1v88h-1zM689 636h1v39h-1zM693 633h1v127h-1zM697 676h1v52h-1zM701 675h1v40h-1zM705 603h1v148h-1zM709 614h1v86h-1zM713 584h1v74h-1zM717 583h1v150h-1zM721 648h1v48h-1zM725 651h1v22h-1zM729 617h1v57h-1zM733 616h1v26h-1zM737 607h1v50h-1zM741 591h1v72h-1zM745 613h1v43h-1zM749 521h1v101h-1zM753 515h1v31h-1zM757 527h1v32h-1zM761 529h1v82h-1zM765 559h1v60h-1zM769 568h1v45h-1zM773 554h1v32h-1zM777 458h1v108h-1zM781 485h1v54h-1zM785 492h1v66h-1zM789 506h1v73h-1zM793 495h1v28h-1zM797 481h1v53h-1zM801 489h1v47h-1zM805 511h1v24h-1zM809 496h1v58h-1zM813 502h1v62h-1zM817 498h1v77h-1zM821 519h1v59h-1zM825 523h1v26h-1zM829 515h1v31h-1zM833 514h1v34h-1zM837 527h1v47h-1zM841 568h1v40h-1zM845 571h1v37h-1zM849 554h1v27h-1zM853 543h1v34h-1zM857 542h1v40h-1zM861 525h1v62h-1zM865 522h1v44h-1zM869 542h1v41h-1zM873 552h1v43h-1zM877 547h1v34h-1zM881 549h1v39h-1zM889 577h1v30h-1zM893 558h1v25h-1zM897 529h1v54h-1zM901 532h1v49h-1zM905 554h1v47h-1zM909 591h1v44h-1zM913 597h1v28h-1zM917 596h1v21h-1zM921 563h1v53h-1zM925 560h1v79h-1zM929 595h1v32h-1zM933 566h1v52h-1zM937 564h1v17h-1zM941 521h1v55h-1zM945 501h1v23h-1zM949 442h1v78h-1zM953 401h1v72h-1zM957 468h1v19h-1zM961 450h1v38h-1zM965 413h1v51h-1zM969 424h1v63h-1zM973 474h1v13h-1zM977 480h1v22h-1zM981 488h1v20h-1zM985 484h1v19h-1zM989 479h1v27h-1zM993 468h1v19h-1zM997 451h1v36h-1zM1001 456h1v39h-1zM1005 474h1v18h-1zM1009 474h1v18h-1zM1013 455h1v31h-1zM1017 459h1v14h-1zM1021 458h1v22h-1zM1025 457h1v24h-1zM1029 458h1v30h-1zM1033 452h1v67h-1zM1037 496h1v9h-1zM1041 489h1v22h-1zM1045 481h1v29h-1zM1049 478h1v36h-1zM1053 492h1v24h-1zM1057 487h1v20h-1zM1061 497h1v28h-1zM1065 467h1v64h-1zM1069 453h1v84h-1zM1073 451h1v16h-1zM1077 453h1v17h-1zM1081 458h1v10h-1zM1085 454h1v16h-1zM1089 454h1v11h-1zM1093 454h1v11h-1zM1097 441h1v23h-1zM1101 439h1v27h-1zM1105 438h1v14h-1zM1109 435h1v11h-1zM1113 439h1v5h-1zM1117 431h1v15h-1zM1121 442h1v10h-1zM1125 446h1v8h-1zM1129 441h1v9h-1zM1133 440h1v6h-1zM1137 439h1v15h-1zM1141 430h1v26h-1zM1145 435h1v13h-1zM1149 445h1v7h-1zM1153 438h1v13h-1zM1157 436h1v14h-1zM1161 443h1v19h-1zM1165 451h1v14h-1zM1169 457h1v10h-1zM1173 458h1v20h-1zM1177 455h1v10h-1zM1181 458h1v19h-1zM1185 460h1v25h-1zM1189 452h1v13h-1zM1193 448h1v24h-1zM1197 451h1v13h-1zM1201 447h1v28h-1zM1205 461h1v26h-1zM1209 473h1v18h-1zM1213 484h1v11h-1zM1217 466h1v38h-1zM1221 500h1v25h-1zM1225 512h1v21h-1zM1229 522h1v31h-1zM1233 534h1v20h-1zM1237 547h1v17h-1zM1241 553h1v13h-1zM1245 539h1v21h-1zM1249 526h1v26h-1zM1253 506h1v35h-1zM1257 504h1v17h-1zM1261 511h1v20h-1zM1265 504h1v27h-1zM1269 511h1v17h-1zM1273 509h1v16h-1zM1277 512h1v16h-1zM1281 507h1v19h-1zM1285 480h1v49h-1zM1289 509h1v11h-1zM1297 493h1v20h-1zM1301 498h1v28h-1zM1305 489h1v41h-1zM1309 482h1v60h-1zM1313 503h1v15h-1zM1317 501h1v29h-1zM1321 492h1v39h-1zM1325 484h1v27h-1zM1329 485h1v42h-1zM1333 510h1v34h-1zM1337 535h1v27h-1zM1341 536h1v37h-1zM1345 553h1v31h-1zM1349 545h1v29h-1zM1353 562h1v7h-1zM1357 556h1v20h-1zM1361 572h1v30h-1zM1365 545h1v65h-1zM1369 556h1v18h-1zM1373 548h1v24h-1zM1377 553h1v24h-1zM1381 540h1v24h-1zM1385 535h1v16h-1zM1389 536h1v6h-1zM1393 528h1v16h-1zM1397 506h1v33h-1zM1401 514h1v41h-1zM1405 532h1v23h-1zM1409 533h1v22h-1zM1413 528h1v21h-1zM1417 532h1v31h-1zM1421 517h1v33h-1zM1425 511h1v14h-1zM1429 506h1v17h-1zM1433 506h1v32h-1zM1437 527h1v8h-1zM1441 521h1v18h-1zM1445 516h1v13h-1zM1449 519h1v11h-1zM1453 509h1v22h-1zM1457 512h1v12h-1zM1461 500h1v28h-1zM1465 522h1v22h-1zM1469 532h1v6h-1zM1473 535h1v7h-1zM1477 534h1v8h-1zM1481 532h1v17h-1zM1485 526h1v25h-1zM1489 533h1v11h-1zM1493 532h1v15h-1zM1497 533h1v14h-1zM1501 520h1v22h-1zM1505 527h1v13h-1zM1509 536h1v16h-1zM1513 523h1v25h-1zM1517 528h1v7h-1zM1521 528h1v12h-1zM1525 494h1v42h-1zM1529 483h1v35h-1zM1533 474h1v22h-1zM1537 467h1v17h-1zM1541 468h1v18h-1zM1545 471h1v24h-1zM1549 476h1v16h-1zM1553 481h1v15h-1zM1557 473h1v20h-1zM1561 472h1v23h-1zM1565 487h1v15h-1zM1569 480h1v22h-1zM1573 473h1v23h-1zM1577 484h1v22h-1zM1581 477h1v27h-1zM1585 478h1v52h-1zM1589 491h1v17h-1zM1593 502h1v8h-1zM1597 502h1v17h-1zM1601 482h1v34h-1zM1605 485h1v11h-1zM1609 468h1v33h-1zM1613 467h1v14h-1zM1617 475h1v18h-1zM1621 452h1v43h-1zM1625 455h1v13h-1zM1629 446h1v33h-1zM1633 448h1v22h-1zM1637 459h1v16h-1zM1641 447h1v60h-1zM1645 448h1v15h-1zM1649 449h1v16h-1zM1653 437h1v36h-1zM1657 438h1v18h-1zM1661 430h1v26h-1zM1665 405h1v31h-1zM1669 385h1v38h-1zM1673 395h1v15h-1zM1677 389h1v21h-1zM1681 388h1v17h-1zM1685 374h1v35h-1zM1689 391h1v18h-1zM1693 388h1v34h-1zM1697 402h1v12h-1zM1701 402h1v12h-1zM1705 404h1v28h-1zM1709 402h1v37h-1zM1713 422h1v24h-1zM1717 405h1v32h-1zM1721 405h1v18h-1zM1725 419h1v25h-1zM1729 432h1v16h-1zM1733 434h1v7h-1zM1737 435h1v19h-1zM1741 446h1v14h-1zM1745 454h1v22h-1zM1749 451h1v25h-1zM1753 457h1v25h-1zM1757 466h1v10h-1zM1761 465h1v14h-1zM1765 463h1v11h-1zM1769 458h1v22h-1zM1773 456h1v35h-1zM1781 475h1v21h-1zM1785 484h1v16h-1zM1789 480h1v30h-1zM1793 495h1v13h-1zM1797 493h1v23h-1zM1801 495h1v23h-1zM1809 498h1v16h-1zM1813 496h1v23h-1zM1817 487h1v21h-1zM1821 482h1v13h-1zM1825 476h1v20h-1zM1829 480h1v14h-1zM1833 474h1v15h-1zM1837 474h1v12h-1zM1841 477h1v18h-1zM1845 462h1v20h-1z" fill="#0e0e38"/><path d="M4 196h3v24h-3zM8 189h3v31h-3zM16 186h3v1h-3zM20 166h3v21h-3zM24 166h3v17h-3zM28 182h3v33h-3zM32 214h3v27h-3zM36 240h3v9h-3zM40 219h3v30h-3zM44 174h3v46h-3zM48 174h3v22h-3zM52 152h3v44h-3zM56 152h3v14h-3zM60 161h3v5h-3zM64 161h3v16h-3zM68 176h3v13h-3zM72 149h3v40h-3zM80 133h3v17h-3zM84 90h3v44h-3zM88 68h3v23h-3zM92 49h3v20h-3zM96 30h3v20h-3zM100 30h3v4h-3zM104 33h3v19h-3zM108 51h3v3h-3zM112 53h3v8h-3zM116 60h3v21h-3zM120 71h3v10h-3zM124 68h3v4h-3zM128 64h3v5h-3zM132 64h3v19h-3zM136 72h3v11h-3zM140 72h3v20h-3zM144 91h3v1h-3zM148 73h3v20h-3zM152 73h3v23h-3zM156 95h3v32h-3zM160 126h3v22h-3zM164 147h3v7h-3zM168 153h3v9h-3zM172 161h3v27h-3zM176 187h3v3h-3zM180 185h3v5h-3zM184 185h3v8h-3zM188 189h3v4h-3zM192 181h3v9h-3zM196 166h3v16h-3zM200 164h3v3h-3zM204 156h3v9h-3zM208 156h3v4h-3zM212 159h3v13h-3zM216 171h3v12h-3zM220 182h3v13h-3zM224 194h3v12h-3zM228 205h3v34h-3zM232 238h3v5h-3zM236 242h3v3h-3zM240 212h3v33h-3zM244 212h3v19h-3zM248 227h3v4h-3zM252 227h3v11h-3zM256 201h3v37h-3zM260 191h3v11h-3zM264 179h3v13h-3zM268 179h3v24h-3zM272 201h3v1h-3zM276 200h3v1h-3zM284 194h3v5h-3zM288 194h3v16h-3zM292 209h3v1h-3zM296 210h3v10h-3zM300 219h3v24h-3zM304 230h3v13h-3zM308 230h3v43h-3zM312 272h3v5h-3zM316 259h3v18h-3zM320 217h3v43h-3zM324 217h3v70h-3zM328 252h3v35h-3zM332 252h3v1h-3zM336 252h3v26h-3zM340 235h3v43h-3zM344 235h3v40h-3zM348 274h3v6h-3zM356 281h3v53h-3zM364 332h3v9h-3zM368 324h3v17h-3zM372 323h3v1h-3zM376 323h3v13h-3zM380 281h3v55h-3zM384 281h3v9h-3zM388 257h3v33h-3zM392 257h3v10h-3zM396 263h3v4h-3zM400 263h3v25h-3zM404 287h3v11h-3zM408 297h3v11h-3zM412 301h3v7h-3zM416 301h3v15h-3zM420 315h3v16h-3zM424 326h3v5h-3zM428 326h3v61h-3zM432 377h3v10h-3zM436 377h3v1h-3zM440 348h3v30h-3zM444 340h3v9h-3zM448 336h3v5h-3zM452 295h3v42h-3zM456 295h3v48h-3zM460 315h3v28h-3zM464 315h3v10h-3zM468 322h3v3h-3zM472 322h3v11h-3zM476 322h3v11h-3zM480 322h3v16h-3zM484 313h3v25h-3zM488 313h3v34h-3zM492 346h3v40h-3zM496 335h3v51h-3zM500 331h3v5h-3zM504 331h3v1h-3zM508 331h3v42h-3zM512 372h3v19h-3zM516 381h3v10h-3zM520 381h3v20h-3zM524 400h3v37h-3zM528 436h3v34h-3zM532 469h3v7h-3zM536 458h3v18h-3zM540 451h3v8h-3zM544 451h3v1h-3zM548 425h3v27h-3zM552 425h3v45h-3zM556 469h3v29h-3zM560 497h3v51h-3zM564 535h3v13h-3zM568 535h3v46h-3zM572 580h3v25h-3zM576 591h3v14h-3zM580 583h3v9h-3zM584 583h3v69h-3zM588 636h3v16h-3zM592 636h3v38h-3zM596 654h3v20h-3zM600 615h3v40h-3zM604 604h3v12h-3zM608 602h3v3h-3zM612 569h3v34h-3zM616 527h3v43h-3zM620 527h3v11h-3zM624 537h3v13h-3zM628 549h3v21h-3zM632 562h3v8h-3zM636 562h3v12h-3zM640 573h3v98h-3zM644 670h3v100h-3zM648 733h3v37h-3zM652 693h3v41h-3zM656 693h3v9h-3zM660 659h3v43h-3zM664 639h3v21h-3zM668 601h3v39h-3zM672 601h3v4h-3zM676 604h3v23h-3zM680 626h3v78h-3zM684 643h3v61h-3zM688 643h3v29h-3zM692 671h3v38h-3zM696 687h3v22h-3zM700 687h3v27h-3zM704 698h3v16h-3zM708 650h3v49h-3zM712 615h3v36h-3zM716 615h3v75h-3zM720 653h3v37h-3zM724 653h3v20h-3zM728 626h3v47h-3zM732 626h3v12h-3zM736 617h3v21h-3zM740 617h3v15h-3zM744 616h3v16h-3zM748 535h3v82h-3zM752 535h3v10h-3zM756 538h3v7h-3zM760 538h3v46h-3zM764 572h3v12h-3zM768 572h3v7h-3zM772 556h3v23h-3zM776 518h3v39h-3zM780 506h3v13h-3zM784 506h3v48h-3zM788 520h3v34h-3zM792 499h3v22h-3zM796 492h3v8h-3zM800 492h3v34h-3zM804 517h3v9h-3zM808 517h3v33h-3zM812 508h3v42h-3zM816 508h3v62h-3zM820 531h3v39h-3zM824 531h3v9h-3zM828 520h3v20h-3zM832 520h3v25h-3zM836 544h3v31h-3zM840 574h3v22h-3zM844 573h3v23h-3zM848 558h3v16h-3zM852 558h3v13h-3zM856 570h3v8h-3zM860 537h3v41h-3zM864 537h3v17h-3zM868 553h3v28h-3zM872 572h3v9h-3zM876 554h3v19h-3zM880 554h3v34h-3zM888 578h3v8h-3zM892 578h3v1h-3zM896 539h3v40h-3zM900 539h3v25h-3zM904 563h3v31h-3zM908 593h3v27h-3zM912 604h3v16h-3zM916 599h3v6h-3zM920 571h3v29h-3zM924 571h3v27h-3zM928 597h3v17h-3zM932 575h3v39h-3zM936 574h3v1h-3zM940 522h3v53h-3zM944 512h3v11h-3zM948 463h3v50h-3zM952 463h3v10h-3zM956 472h3v3h-3zM960 458h3v17h-3zM964 429h3v30h-3zM968 429h3v49h-3zM972 477h3v9h-3zM976 485h3v16h-3zM980 489h3v12h-3zM984 489h3v13h-3zM988 480h3v22h-3zM992 472h3v9h-3zM996 463h3v10h-3zM1000 463h3v25h-3zM1004 480h3v8h-3zM1008 480h3v1h-3zM1012 468h3v13h-3zM1016 465h3v4h-3zM1020 465h3v13h-3zM1024 463h3v15h-3zM1028 463h3v23h-3zM1032 485h3v16h-3zM1036 498h3v3h-3zM1040 498h3v9h-3zM1044 487h3v20h-3zM1048 487h3v8h-3zM1052 494h3v4h-3zM1056 497h3v4h-3zM1060 500h3v15h-3zM1064 477h3v38h-3zM1068 465h3v13h-3zM1072 459h3v7h-3zM1076 459h3v9h-3zM1080 465h3v3h-3zM1084 463h3v3h-3zM1088 457h3v7h-3zM1092 457h3v6h-3zM1096 456h3v7h-3zM1100 446h3v11h-3zM1104 440h3v7h-3zM1108 440h3v4h-3zM1112 442h3v1h-3zM1116 442h3v3h-3zM1120 444h3v9h-3zM1124 448h3v5h-3zM1128 443h3v6h-3zM1132 443h3v1h-3zM1136 444h3v8h-3zM1140 438h3v14h-3zM1144 438h3v9h-3zM1148 446h3v4h-3zM1152 443h3v7h-3zM1156 443h3v5h-3zM1160 447h3v13h-3zM1164 459h3v5h-3zM1168 463h3v4h-3zM1172 464h3v3h-3zM1176 459h3v6h-3zM1180 459h3v17h-3zM1184 461h3v15h-3zM1188 455h3v7h-3zM1192 455h3v6h-3zM1196 457h3v4h-3zM1200 457h3v10h-3zM1204 466h3v16h-3zM1208 481h3v6h-3zM1212 485h3v1h-3zM1216 485h3v19h-3zM1220 503h3v13h-3zM1224 515h3v13h-3zM1228 527h3v16h-3zM1232 542h3v9h-3zM1236 550h3v6h-3zM1240 555h3v4h-3zM1244 551h3v8h-3zM1248 530h3v22h-3zM1252 515h3v16h-3zM1256 513h3v3h-3zM1260 513h3v4h-3zM1264 516h3v10h-3zM1268 521h3v5h-3zM1272 518h3v4h-3zM1276 518h3v8h-3zM1280 522h3v4h-3zM1284 513h3v10h-3zM1288 513h3v1h-3zM1296 503h3v10h-3zM1300 503h3v21h-3zM1304 492h3v32h-3zM1308 492h3v24h-3zM1312 509h3v7h-3zM1316 509h3v10h-3zM1320 498h3v21h-3zM1324 494h3v5h-3zM1328 494h3v21h-3zM1332 514h3v29h-3zM1336 542h3v8h-3zM1340 549h3v15h-3zM1344 557h3v7h-3zM1348 557h3v7h-3zM1352 563h3v4h-3zM1356 566h3v7h-3zM1360 572h3v25h-3zM1364 560h3v37h-3zM1368 560h3v8h-3zM1372 556h3v12h-3zM1376 556h3v8h-3zM1380 549h3v15h-3zM1384 541h3v9h-3zM1388 538h3v4h-3zM1392 536h3v3h-3zM1396 519h3v18h-3zM1400 519h3v23h-3zM1404 536h3v6h-3zM1408 536h3v9h-3zM1412 538h3v7h-3zM1416 538h3v4h-3zM1420 521h3v21h-3zM1424 521h3v1h-3zM1428 509h3v13h-3zM1432 509h3v25h-3zM1436 529h3v5h-3zM1440 523h3v7h-3zM1444 523h3v4h-3zM1448 526h3v4h-3zM1452 520h3v10h-3zM1456 516h3v5h-3zM1460 516h3v10h-3zM1464 525h3v12h-3zM1468 536h3v1h-3zM1472 536h3v6h-3zM1476 536h3v6h-3zM1480 536h3v13h-3zM1484 537h3v12h-3zM1488 537h3v4h-3zM1492 534h3v7h-3zM1496 534h3v8h-3zM1500 532h3v10h-3zM1504 532h3v7h-3zM1508 538h3v8h-3zM1512 532h3v14h-3zM1516 532h3v1h-3zM1520 531h3v1h-3zM1524 514h3v18h-3zM1528 494h3v21h-3zM1532 479h3v16h-3zM1536 472h3v8h-3zM1540 472h3v10h-3zM1544 481h3v10h-3zM1548 487h3v4h-3zM1552 487h3v3h-3zM1556 482h3v8h-3zM1560 482h3v9h-3zM1564 490h3v10h-3zM1568 485h3v15h-3zM1572 485h3v4h-3zM1576 488h3v12h-3zM1580 486h3v14h-3zM1584 486h3v12h-3zM1588 497h3v9h-3zM1592 503h3v3h-3zM1596 503h3v10h-3zM1600 493h3v20h-3zM1604 491h3v3h-3zM1608 471h3v21h-3zM1612 471h3v9h-3zM1616 479h3v8h-3zM1620 458h3v29h-3zM1624 458h3v8h-3zM1628 454h3v12h-3zM1632 454h3v16h-3zM1636 469h3v5h-3zM1640 457h3v17h-3zM1644 451h3v7h-3zM1648 451h3v8h-3zM1652 447h3v12h-3zM1656 447h3v5h-3zM1660 432h3v20h-3zM1664 417h3v16h-3zM1668 399h3v19h-3zM1672 399h3v4h-3zM1676 394h3v9h-3zM1680 394h3v6h-3zM1684 399h3v9h-3zM1688 394h3v14h-3zM1692 394h3v15h-3zM1696 407h3v1h-3zM1700 407h3v5h-3zM1704 411h3v13h-3zM1708 423h3v11h-3zM1712 428h3v6h-3zM1716 417h3v12h-3zM1720 417h3v6h-3zM1724 422h3v13h-3zM1728 434h3v6h-3zM1732 437h3v3h-3zM1736 437h3v17h-3zM1740 453h3v6h-3zM1744 458h3v16h-3zM1748 460h3v14h-3zM1752 460h3v12h-3zM1756 471h3v5h-3zM1760 467h3v9h-3zM1764 467h3v7h-3zM1768 463h3v11h-3zM1772 463h3v22h-3zM1780 483h3v9h-3zM1784 486h3v6h-3zM1788 486h3v20h-3zM1792 502h3v4h-3zM1796 502h3v13h-3zM1800 502h3v13h-3zM1808 501h3v11h-3zM1812 504h3v8h-3zM1816 490h3v15h-3zM1820 486h3v5h-3zM1824 482h3v5h-3zM1828 482h3v6h-3zM1832 481h3v7h-3zM1836 481h3v1h-3zM1840 479h3v4h-3zM1844 466h3v14h-3z" fill="#0e0e38"/><path d="M9 190h1v29h-1zM21 167h1v19h-1zM41 220h1v28h-1zM45 175h1v44h-1zM53 153h1v42h-1zM61 162h1v3h-1zM73 150h1v38h-1zM81 134h1v15h-1zM85 91h1v42h-1zM89 69h1v21h-1zM93 50h1v18h-1zM97 31h1v18h-1zM121 72h1v8h-1zM125 69h1v2h-1zM129 65h1v3h-1zM137 73h1v9h-1zM149 74h1v18h-1zM181 186h1v3h-1zM189 190h1v2h-1zM193 182h1v7h-1zM197 167h1v14h-1zM201 165h1v1h-1zM205 157h1v7h-1zM241 213h1v31h-1zM249 228h1v2h-1zM257 202h1v35h-1zM261 192h1v9h-1zM265 180h1v11h-1zM285 195h1v3h-1zM305 231h1v11h-1zM317 260h1v16h-1zM321 218h1v41h-1zM329 253h1v33h-1zM341 236h1v41h-1zM369 325h1v15h-1zM381 282h1v53h-1zM389 258h1v31h-1zM397 264h1v2h-1zM413 302h1v5h-1zM425 327h1v3h-1zM433 378h1v8h-1zM441 349h1v28h-1zM445 341h1v7h-1zM449 337h1v3h-1zM453 296h1v40h-1zM461 316h1v26h-1zM469 323h1v1h-1zM477 323h1v9h-1zM485 314h1v23h-1zM497 336h1v49h-1zM501 332h1v3h-1zM517 382h1v8h-1zM537 459h1v16h-1zM541 452h1v6h-1zM549 426h1v25h-1zM565 536h1v11h-1zM577 592h1v12h-1zM581 584h1v7h-1zM589 637h1v14h-1zM597 655h1v18h-1zM601 616h1v38h-1zM605 605h1v10h-1zM609 603h1v1h-1zM613 570h1v32h-1zM617 528h1v41h-1zM633 563h1v6h-1zM649 734h1v35h-1zM653 694h1v39h-1zM661 660h1v41h-1zM665 640h1v19h-1zM669 602h1v37h-1zM685 644h1v59h-1zM697 688h1v20h-1zM705 699h1v14h-1zM709 651h1v47h-1zM713 616h1v34h-1zM721 654h1v35h-1zM729 627h1v45h-1zM737 618h1v19h-1zM745 617h1v14h-1zM749 536h1v80h-1zM757 539h1v5h-1zM765 573h1v10h-1zM773 557h1v21h-1zM777 519h1v37h-1zM781 507h1v11h-1zM789 521h1v32h-1zM793 500h1v20h-1zM797 493h1v6h-1zM805 518h1v7h-1zM813 509h1v40h-1zM821 532h1v37h-1zM829 521h1v18h-1zM845 574h1v21h-1zM849 559h1v14h-1zM861 538h1v39h-1zM873 573h1v7h-1zM877 555h1v17h-1zM889 579h1v6h-1zM897 540h1v38h-1zM913 605h1v14h-1zM917 600h1v4h-1zM921 572h1v27h-1zM933 576h1v37h-1zM941 523h1v51h-1zM945 513h1v9h-1zM949 464h1v48h-1zM961 459h1v15h-1zM965 430h1v28h-1zM981 490h1v10h-1zM989 481h1v20h-1zM993 473h1v7h-1zM997 464h1v8h-1zM1005 481h1v6h-1zM1013 469h1v11h-1zM1017 466h1v2h-1zM1025 464h1v13h-1zM1037 499h1v1h-1zM1045 488h1v18h-1zM1065 478h1v36h-1zM1069 466h1v11h-1zM1073 460h1v5h-1zM1081 466h1v1h-1zM1085 464h1v1h-1zM1089 458h1v5h-1zM1097 457h1v5h-1zM1101 447h1v9h-1zM1105 441h1v5h-1zM1125 449h1v3h-1zM1129 444h1v4h-1zM1141 439h1v12h-1zM1153 444h1v5h-1zM1173 465h1v1h-1zM1177 460h1v4h-1zM1185 462h1v13h-1zM1189 456h1v5h-1zM1197 458h1v2h-1zM1245 552h1v6h-1zM1249 531h1v20h-1zM1253 516h1v14h-1zM1257 514h1v1h-1zM1269 522h1v3h-1zM1273 519h1v2h-1zM1281 523h1v2h-1zM1285 514h1v8h-1zM1297 504h1v8h-1zM1305 493h1v30h-1zM1313 510h1v5h-1zM1321 499h1v19h-1zM1325 495h1v3h-1zM1345 558h1v5h-1zM1365 561h1v35h-1zM1373 557h1v10h-1zM1381 550h1v13h-1zM1385 542h1v7h-1zM1389 539h1v2h-1zM1393 537h1v1h-1zM1397 520h1v16h-1zM1405 537h1v4h-1zM1413 539h1v5h-1zM1421 522h1v19h-1zM1429 510h1v11h-1zM1437 530h1v3h-1zM1441 524h1v5h-1zM1453 521h1v8h-1zM1457 517h1v3h-1zM1477 537h1v4h-1zM1485 538h1v10h-1zM1493 535h1v5h-1zM1501 533h1v8h-1zM1513 533h1v12h-1zM1525 515h1v16h-1zM1529 495h1v19h-1zM1533 480h1v14h-1zM1537 473h1v6h-1zM1549 488h1v2h-1zM1557 483h1v6h-1zM1569 486h1v13h-1zM1581 487h1v12h-1zM1593 504h1v1h-1zM1601 494h1v18h-1zM1605 492h1v1h-1zM1609 472h1v19h-1zM1621 459h1v27h-1zM1629 455h1v10h-1zM1641 458h1v15h-1zM1645 452h1v5h-1zM1653 448h1v10h-1zM1661 433h1v18h-1zM1665 418h1v14h-1zM1669 400h1v17h-1zM1677 395h1v7h-1zM1689 395h1v12h-1zM1713 429h1v4h-1zM1717 418h1v10h-1zM1733 438h1v1h-1zM1749 461h1v12h-1zM1761 468h1v7h-1zM1769 464h1v9h-1zM1785 487h1v4h-1zM1793 503h1v2h-1zM1801 503h1v11h-1zM1813 505h1v6h-1zM1817 491h1v13h-1zM1821 487h1v3h-1zM1825 483h1v3h-1zM1833 482h1v5h-1zM1841 480h1v2h-1zM1845 467h1v12h-1z" fill="#f0f0f0"/><path d="M5 197h1v22h-1zM25 167h1v15h-1zM29 183h1v31h-1zM33 215h1v25h-1zM37 241h1v7h-1zM49 175h1v20h-1zM57 153h1v12h-1zM65 162h1v14h-1zM69 177h1v11h-1zM101 31h1v2h-1zM105 34h1v17h-1zM109 52h1v1h-1zM113 54h1v6h-1zM117 61h1v19h-1zM133 65h1v17h-1zM141 73h1v18h-1zM153 74h1v21h-1zM157 96h1v30h-1zM161 127h1v20h-1zM165 148h1v5h-1zM169 154h1v7h-1zM173 162h1v25h-1zM177 188h1v1h-1zM185 186h1v6h-1zM209 157h1v2h-1zM213 160h1v11h-1zM217 172h1v10h-1zM221 183h1v11h-1zM225 195h1v10h-1zM229 206h1v32h-1zM233 239h1v3h-1zM237 243h1v1h-1zM245 213h1v17h-1zM253 228h1v9h-1zM269 180h1v22h-1zM289 195h1v14h-1zM297 211h1v8h-1zM301 220h1v22h-1zM309 231h1v41h-1zM313 273h1v3h-1zM325 218h1v68h-1zM337 253h1v24h-1zM345 236h1v38h-1zM349 275h1v4h-1zM357 282h1v51h-1zM365 333h1v7h-1zM377 324h1v11h-1zM385 282h1v7h-1zM393 258h1v8h-1zM401 264h1v23h-1zM405 288h1v9h-1zM409 298h1v9h-1zM417 302h1v13h-1zM421 316h1v14h-1zM429 327h1v59h-1zM457 296h1v46h-1zM465 316h1v8h-1zM473 323h1v9h-1zM481 323h1v14h-1zM489 314h1v32h-1zM493 347h1v38h-1zM509 332h1v40h-1zM513 373h1v17h-1zM521 382h1v18h-1zM525 401h1v35h-1zM529 437h1v32h-1zM533 470h1v5h-1zM553 426h1v43h-1zM557 470h1v27h-1zM561 498h1v49h-1zM569 536h1v44h-1zM573 581h1v23h-1zM585 584h1v67h-1zM593 637h1v36h-1zM621 528h1v9h-1zM625 538h1v11h-1zM629 550h1v19h-1zM637 563h1v10h-1zM641 574h1v96h-1zM645 671h1v98h-1zM657 694h1v7h-1zM673 602h1v2h-1zM677 605h1v21h-1zM681 627h1v76h-1zM689 644h1v27h-1zM693 672h1v36h-1zM701 688h1v25h-1zM717 616h1v73h-1zM725 654h1v18h-1zM733 627h1v10h-1zM741 618h1v13h-1zM753 536h1v8h-1zM761 539h1v44h-1zM769 573h1v5h-1zM785 507h1v46h-1zM801 493h1v32h-1zM809 518h1v31h-1zM817 509h1v60h-1zM825 532h1v7h-1zM833 521h1v23h-1zM837 545h1v29h-1zM841 575h1v20h-1zM853 559h1v11h-1zM857 571h1v6h-1zM865 538h1v15h-1zM869 554h1v26h-1zM881 555h1v32h-1zM901 540h1v23h-1zM905 564h1v29h-1zM909 594h1v25h-1zM925 572h1v25h-1zM929 598h1v15h-1zM953 464h1v8h-1zM957 473h1v1h-1zM969 430h1v47h-1zM973 478h1v7h-1zM977 486h1v14h-1zM985 490h1v11h-1zM1001 464h1v23h-1zM1021 466h1v11h-1zM1029 464h1v21h-1zM1033 486h1v14h-1zM1041 499h1v7h-1zM1049 488h1v6h-1zM1053 495h1v2h-1zM1057 498h1v2h-1zM1061 501h1v13h-1zM1077 460h1v7h-1zM1093 458h1v4h-1zM1109 441h1v2h-1zM1117 443h1v1h-1zM1121 445h1v7h-1zM1137 445h1v6h-1zM1145 439h1v7h-1zM1149 447h1v2h-1zM1157 444h1v3h-1zM1161 448h1v11h-1zM1165 460h1v3h-1zM1169 464h1v2h-1zM1181 460h1v15h-1zM1193 456h1v4h-1zM1201 458h1v8h-1zM1205 467h1v14h-1zM1209 482h1v4h-1zM1217 486h1v17h-1zM1221 504h1v11h-1zM1225 516h1v11h-1zM1229 528h1v14h-1zM1233 543h1v7h-1zM1237 551h1v4h-1zM1241 556h1v2h-1zM1261 514h1v2h-1zM1265 517h1v8h-1zM1277 519h1v6h-1zM1301 504h1v19h-1zM1309 493h1v22h-1zM1317 510h1v8h-1zM1329 495h1v19h-1zM1333 515h1v27h-1zM1337 543h1v6h-1zM1341 550h1v13h-1zM1349 558h1v5h-1zM1353 564h1v2h-1zM1357 567h1v5h-1zM1361 573h1v23h-1zM1369 561h1v6h-1zM1377 557h1v6h-1zM1401 520h1v21h-1zM1409 537h1v7h-1zM1417 539h1v2h-1zM1433 510h1v23h-1zM1445 524h1v2h-1zM1449 527h1v2h-1zM1461 517h1v8h-1zM1465 526h1v10h-1zM1473 537h1v4h-1zM1481 537h1v11h-1zM1489 538h1v2h-1zM1497 535h1v6h-1zM1505 533h1v5h-1zM1509 539h1v6h-1zM1541 473h1v8h-1zM1545 482h1v8h-1zM1553 488h1v1h-1zM1561 483h1v7h-1zM1565 491h1v8h-1zM1573 486h1v2h-1zM1577 489h1v10h-1zM1585 487h1v10h-1zM1589 498h1v7h-1zM1597 504h1v8h-1zM1613 472h1v7h-1zM1617 480h1v6h-1zM1625 459h1v6h-1zM1633 455h1v14h-1zM1637 470h1v3h-1zM1649 452h1v6h-1zM1657 448h1v3h-1zM1673 400h1v2h-1zM1681 395h1v4h-1zM1685 400h1v7h-1zM1693 395h1v13h-1zM1701 408h1v3h-1zM1705 412h1v11h-1zM1709 424h1v9h-1zM1721 418h1v4h-1zM1725 423h1v11h-1zM1729 435h1v4h-1zM1737 438h1v15h-1zM1741 454h1v4h-1zM1745 459h1v14h-1zM1753 461h1v10h-1zM1757 472h1v3h-1zM1765 468h1v5h-1zM1773 464h1v20h-1zM1781 484h1v7h-1zM1789 487h1v18h-1zM1797 503h1v11h-1zM1809 502h1v9h-1zM1829 483h1v4h-1z" fill="#808080"/><path d="M13 134v58M77 142v14M281 163v43M353 277v12M361 330v14M885 579v23M1293 508v9M1777 482v11M1805 498v9" stroke="#00e000" stroke-width="1" fill="none" transform="translate(0.5,0)"/><path d="M12 187h3v1h-3zM76 149h3v1h-3zM280 198h3v1h-3zM352 281h3v1h-3zM360 332h3v1h-3zM884 585h3v1h-3zM1292 512h3v1h-3zM1776 483h3v1h-3zM1804 501h3v1h-3z" fill="#00e000"/></g><path d="M8 12H19L13.5 18Z" fill="#000"/><text x="26.2" y="21" font-size="13.4" fill="#000" font-family="'DejaVu Sans Condensed','Liberation Sans',sans-serif" textLength="71.5" lengthAdjust="spacingAndGlyphs">USDJPY,M1</text></g><g shape-rendering="crispEdges"><rect x="5" y="812" width="664" height="10" fill="#800080"/><rect x="669" y="812" width="1177" height="10" fill="#303030"/><rect x="4" y="4" width="1843" height="1" fill="#000"/><rect x="4" y="4" width="1" height="819" fill="#000"/><rect x="1846" y="4" width="1" height="819" fill="#000"/><rect x="4" y="822" width="1843" height="1" fill="#000"/><rect x="1847" y="43" width="2" height="1" fill="#000"/><rect x="1847" y="111" width="2" height="1" fill="#000"/><rect x="1847" y="178" width="2" height="1" fill="#000"/><rect x="1847" y="245" width="2" height="1" fill="#000"/><rect x="1847" y="312" width="2" height="1" fill="#000"/><rect x="1847" y="380" width="2" height="1" fill="#000"/><rect x="1847" y="447" width="2" height="1" fill="#000"/><rect x="1847" y="514" width="2" height="1" fill="#000"/><rect x="1847" y="582" width="2" height="1" fill="#000"/><rect x="1847" y="649" width="2" height="1" fill="#000"/><rect x="1847" y="716" width="2" height="1" fill="#000"/><rect x="1847" y="783" width="2" height="1" fill="#000"/><rect x="5" y="823" width="1" height="3" fill="#000"/><rect x="133" y="823" width="1" height="3" fill="#000"/><rect x="261" y="823" width="1" height="3" fill="#000"/><rect x="389" y="823" width="1" height="3" fill="#000"/><rect x="517" y="823" width="1" height="3" fill="#000"/><rect x="645" y="823" width="1" height="3" fill="#000"/><rect x="773" y="823" width="1" height="3" fill="#000"/><rect x="901" y="823" width="1" height="3" fill="#000"/><rect x="1029" y="823" width="1" height="3" fill="#000"/><rect x="1157" y="823" width="1" height="3" fill="#000"/><rect x="1285" y="823" width="1" height="3" fill="#000"/><rect x="1413" y="823" width="1" height="3" fill="#000"/><rect x="1541" y="823" width="1" height="3" fill="#000"/><rect x="1669" y="823" width="1" height="3" fill="#000"/><rect x="1797" y="823" width="1" height="3" fill="#000"/><rect x="1844" y="109" width="4" height="58" fill="#dc143c"/></g><g clip-path="url(#cp6b)" font-size="8.5" fill="#fff" font-family="'Liberation Sans',sans-serif" text-anchor="middle" letter-spacing="-0.5"><text x="9.5" y="820.5">21:15</text><text x="69.5" y="820.5">21:30</text><text x="129.5" y="820.5">21:45</text><text x="189.5" y="820.5">22:00</text><text x="249.5" y="820.5">22:15</text><text x="309.5" y="820.5">22:30</text><text x="369.5" y="820.5">22:45</text><text x="429.5" y="820.5">23:00</text><text x="489.5" y="820.5">23:15</text><text x="549.5" y="820.5">23:30</text><text x="609.5" y="820.5">23:45</text><text x="669.5" y="820.5">0:00</text><text x="729.5" y="820.5">0:15</text><text x="789.5" y="820.5">0:30</text><text x="849.5" y="820.5">0:45</text><text x="909.5" y="820.5">1:00</text><text x="969.5" y="820.5">1:15</text><text x="1029.5" y="820.5">1:30</text><text x="1089.5" y="820.5">1:45</text><text x="1149.5" y="820.5">2:00</text><text x="1209.5" y="820.5">2:15</text><text x="1269.5" y="820.5">2:30</text><text x="1329.5" y="820.5">2:45</text><text x="1389.5" y="820.5">3:00</text><text x="1449.5" y="820.5">3:15</text><text x="1509.5" y="820.5">3:30</text><text x="1569.5" y="820.5">3:45</text><text x="1629.5" y="820.5">4:00</text><text x="1689.5" y="820.5">4:15</text><text x="1749.5" y="820.5">4:30</text><text x="1809.5" y="820.5">4:45</text></g><defs><clipPath id="cp6b"><rect x="5" y="810" width="1841" height="14"/></clipPath></defs><text x="1853" y="49.4" font-size="13.4" fill="#000" font-family="'DejaVu Sans Condensed','Liberation Sans',sans-serif" textLength="51" lengthAdjust="spacingAndGlyphs">114.013</text><text x="1853" y="116.7" font-size="13.4" fill="#000" font-family="'DejaVu Sans Condensed','Liberation Sans',sans-serif" textLength="51" lengthAdjust="spacingAndGlyphs">113.968</text><text x="1853" y="184" font-size="13.4" fill="#000" font-family="'DejaVu Sans Condensed','Liberation Sans',sans-serif" textLength="51" lengthAdjust="spacingAndGlyphs">113.923</text><text x="1853" y="251.3" font-size="13.4" fill="#000" font-family="'DejaVu Sans Condensed','Liberation Sans',sans-serif" textLength="51" lengthAdjust="spacingAndGlyphs">113.878</text><text x="1853" y="318.5" font-size="13.4" fill="#000" font-family="'DejaVu Sans Condensed','Liberation Sans',sans-serif" textLength="51" lengthAdjust="spacingAndGlyphs">113.833</text><text x="1853" y="385.8" font-size="13.4" fill="#000" font-family="'DejaVu Sans Condensed','Liberation Sans',sans-serif" textLength="51" lengthAdjust="spacingAndGlyphs">113.788</text><text x="1853" y="453.1" font-size="13.4" fill="#000" font-family="'DejaVu Sans Condensed','Liberation Sans',sans-serif" textLength="51" lengthAdjust="spacingAndGlyphs">113.743</text><text x="1853" y="520.4" font-size="13.4" fill="#000" font-family="'DejaVu Sans Condensed','Liberation Sans',sans-serif" textLength="51" lengthAdjust="spacingAndGlyphs">113.698</text><text x="1853" y="587.6" font-size="13.4" fill="#000" font-family="'DejaVu Sans Condensed','Liberation Sans',sans-serif" textLength="51" lengthAdjust="spacingAndGlyphs">113.653</text><text x="1853" y="654.9" font-size="13.4" fill="#000" font-family="'DejaVu Sans Condensed','Liberation Sans',sans-serif" textLength="51" lengthAdjust="spacingAndGlyphs">113.608</text><text x="1853" y="722.2" font-size="13.4" fill="#000" font-family="'DejaVu Sans Condensed','Liberation Sans',sans-serif" textLength="51" lengthAdjust="spacingAndGlyphs">113.563</text><text x="1853" y="789.5" font-size="13.4" fill="#000" font-family="'DejaVu Sans Condensed','Liberation Sans',sans-serif" textLength="51" lengthAdjust="spacingAndGlyphs">113.518</text><rect x="1848" y="58" width="62" height="17" fill="#ffd700" shape-rendering="crispEdges"/><text x="1853" y="72" font-size="13.4" fill="#fff" font-family="'DejaVu Sans Condensed','Liberation Sans',sans-serif" textLength="51" lengthAdjust="spacingAndGlyphs">114.000</text><rect x="1848" y="805" width="62" height="17" fill="#ffd700" shape-rendering="crispEdges"/><text x="1853" y="819" font-size="13.4" fill="#fff" font-family="'DejaVu Sans Condensed','Liberation Sans',sans-serif" textLength="51" lengthAdjust="spacingAndGlyphs">113.500</text><text x="4.5" y="839.8" font-size="13.4" fill="#000" font-family="'DejaVu Sans Condensed','Liberation Sans',sans-serif" textLength="72" lengthAdjust="spacingAndGlyphs">4 Nov 2021</text><text x="132.5" y="839.8" font-size="13.4" fill="#000" font-family="'DejaVu Sans Condensed','Liberation Sans',sans-serif" textLength="77.5" lengthAdjust="spacingAndGlyphs">4 Nov 15:46</text><text x="260.5" y="839.8" font-size="13.4" fill="#000" font-family="'DejaVu Sans Condensed','Liberation Sans',sans-serif" textLength="77.5" lengthAdjust="spacingAndGlyphs">4 Nov 16:18</text><text x="388.5" y="839.8" font-size="13.4" fill="#000" font-family="'DejaVu Sans Condensed','Liberation Sans',sans-serif" textLength="77.5" lengthAdjust="spacingAndGlyphs">4 Nov 16:50</text><text x="516.5" y="839.8" font-size="13.4" fill="#000" font-family="'DejaVu Sans Condensed','Liberation Sans',sans-serif" textLength="77.5" lengthAdjust="spacingAndGlyphs">4 Nov 17:22</text><text x="644.5" y="839.8" font-size="13.4" fill="#000" font-family="'DejaVu Sans Condensed','Liberation Sans',sans-serif" textLength="77.5" lengthAdjust="spacingAndGlyphs">4 Nov 17:54</text><text x="772.5" y="839.8" font-size="13.4" fill="#000" font-family="'DejaVu Sans Condensed','Liberation Sans',sans-serif" textLength="77.5" lengthAdjust="spacingAndGlyphs">4 Nov 18:26</text><text x="900.5" y="839.8" font-size="13.4" fill="#000" font-family="'DejaVu Sans Condensed','Liberation Sans',sans-serif" textLength="77.5" lengthAdjust="spacingAndGlyphs">4 Nov 18:58</text><text x="1028.5" y="839.8" font-size="13.4" fill="#000" font-family="'DejaVu Sans Condensed','Liberation Sans',sans-serif" textLength="77.5" lengthAdjust="spacingAndGlyphs">4 Nov 19:30</text><text x="1156.5" y="839.8" font-size="13.4" fill="#000" font-family="'DejaVu Sans Condensed','Liberation Sans',sans-serif" textLength="77.5" lengthAdjust="spacingAndGlyphs">4 Nov 20:02</text><text x="1284.5" y="839.8" font-size="13.4" fill="#000" font-family="'DejaVu Sans Condensed','Liberation Sans',sans-serif" textLength="77.5" lengthAdjust="spacingAndGlyphs">4 Nov 20:34</text><text x="1412.5" y="839.8" font-size="13.4" fill="#000" font-family="'DejaVu Sans Condensed','Liberation Sans',sans-serif" textLength="77.5" lengthAdjust="spacingAndGlyphs">4 Nov 21:06</text><text x="1540.5" y="839.8" font-size="13.4" fill="#000" font-family="'DejaVu Sans Condensed','Liberation Sans',sans-serif" textLength="77.5" lengthAdjust="spacingAndGlyphs">4 Nov 21:38</text><text x="1668.5" y="839.8" font-size="13.4" fill="#000" font-family="'DejaVu Sans Condensed','Liberation Sans',sans-serif" textLength="77.5" lengthAdjust="spacingAndGlyphs">4 Nov 22:10</text><text x="1796.5" y="839.8" font-size="13.4" fill="#000" font-family="'DejaVu Sans Condensed','Liberation Sans',sans-serif" textLength="77.5" lengthAdjust="spacingAndGlyphs">4 Nov 22:42</text></svg></svg></body></html>
